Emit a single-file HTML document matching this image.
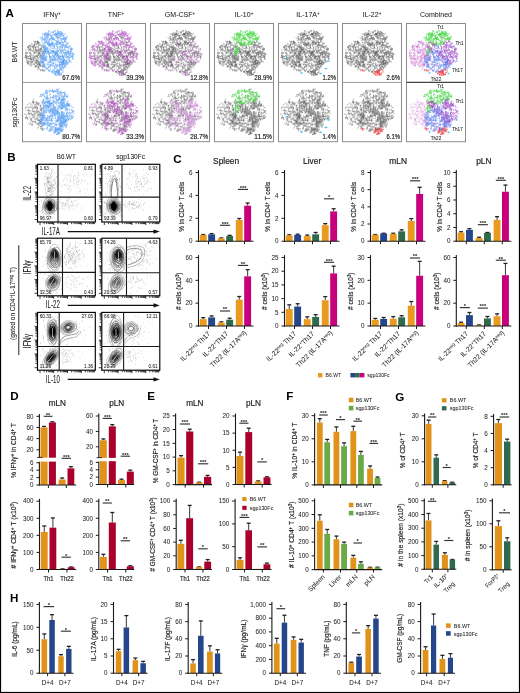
<!DOCTYPE html>
<html><head><meta charset="utf-8"><style>
html,body{margin:0;padding:0;background:#fff;}
body{width:520px;height:693px;overflow:hidden;}
svg{display:block;font-family:"Liberation Sans", sans-serif;will-change:transform;}
</style></head><body>
<svg width="520" height="693" viewBox="0 0 520 693" fill="#262626">
<defs><path id="t0_0_9_0" d="M114 265h5m-3 -5h5m-5 -5h5m42 10h5m-2 -3h5m-10 8h5m-3 5h5m-15 14h5m0 2h5m0 -1h5m7 6h5m-5 -5h5m-2 -4h5m-36 27h5m-3 -4h5m-12 13h5m-2 -4h5m1 6h5m0 -2h5m-1 -3h5m0 -1h5m-69 21h5m-1 2h5m0 1h5m0 -2h5m0 2h5m-9 31h5m-3 -4h5m-4 -5h5"/><path id="t0_0_0_1" d="M154 186h5m-2 4h5m2 4h5m-2 -4h5m0 0h5m-21 5h5m-45 28h5m-3 -4h5m-63 6h5m-5 10h5m-1 -7h5m-5 10h5m-4 -5h5m36 -4h5m-2 1h5m-3 -3h5m-2 1h5m-4 -2h5m-54 16h5m0 3h5m117 9h5m-5 -5h5m-5 -5h5m-163 25h5m0 0h5m146 -10h5m-4 22h5m-2 -4h5m0 -1h5m-169 37h5m0 2h5m-1 3h5m-2 3h5m0 2h5m124 6h5m-1 -2h5m-2 -4h5m-5 -4h5m-111 23h5m95 -4h5m0 -2h5m0 -1h5m-143 18h5m-3 -5h5m-3 1h5m-3 -3h5m-4 7h5m0 2h5m-1 -2h5m-1 -3h5m-1 7h5m-4 -5h5m-3 -5h5m-10 14h5m63 25h5m-55 14h5m-3 -9h5m-4 5h5m33 1h5m0 -2h5m-2 -4h5m-56 14h5m-3 5h5"/><path id="t0_0_8_1" d="M82 220h5m-3 4h5m107 -4h5m-114 8h5m105 7h5m-5 -5h5m-5 -5h5m-47 23h5m0 -1h5m-1 -2h5m-2 -4h5m23 -1h5m-2 104h5m-5 -10h5m-4 5h5m-4 -9h5m-9 19h5m-115 23h5m-3 9h5m-5 5h5m-4 -10h5m45 9h5m-2 -3h5m0 1h5m0 1h5m-98 18h5m-3 -10h5m-5 5h5m72 -1h5m-4 5h5m-5 -11h5m-1 4h5m-4 8h5m-1 -8h5m-98 16h5m-1 -3h5m27 2h5m0 0h5m-1 -3h5m0 0h5m0 0h5"/><path id="t0_0_0_0" d="M136 257h5m-2 5h5m-2 4h5m12 -1h5m-4 -5h5m-50 24h5m37 -10h5m-5 5h5m-2 -9h5m-93 23h5m-1 3h5m0 2h5m32 -10h5m-3 4h5m-3 5h5m-8 3h5m37 4h5m-1 3h5m0 1h5m-1 3h5m-1 3h5m-70 30h5m0 -3h5m-1 -2h5m-2 -4h5m-2 -4h5m1 36h5m0 1h5m0 2h5"/><path id="t0_0_4_1" d="M148 194h5m0 -2h5m-1 -8h5m-5 5h5m-3 -9h5m-34 27h5m0 -2h5m-1 -2h5m21 4h5m-4 5h5m-4 5h5m-105 21h5m-4 -5h5m-5 10h5m144 10h5m-165 7h5m-3 4h5m-2 4h5m153 -11h5m-2 4h5m-166 12h5m-29 24h5m-1 -3h5m139 -1h5m-1 3h5m-160 4h5m153 0h5m-1 3h5m-164 22h5m-1 4h5m-1 2h5m-1 3h5m147 3h5m-4 5h5m-170 3h5m0 0h5m-1 3h5m-3 5h5m146 -2h5m-5 -5h5m-4 10h5m-155 21h5m-4 5h5m-3 5h5m-3 -12h5m62 24h5m-3 4h5m42 -4h5m-2 4h5m-59 14h5m-4 -5h5m-2 -4h5m46 0h5m-2 4h5"/><path id="t0_0_6_0" d="M131 236h5m17 -5h5m-1 4h5m-1 1h5m-34 5h5m0 0h5m0 0h5m15 0h5m-8 56h5m0 1h5m0 1h5m0 -1h5m0 0h5m-100 28h5m-1 -3h5m-10 8h5m-5 5h5m4 15h5m0 2h5m0 2h5m0 0h5m-1 1h5m0 0h5m-26 17h5m0 -1h5m0 -1h5m-1 -3h5m-2 -3h5m-5 -1h5m-4 -3h5"/><path id="t0_0_3_1" d="M133 192h5m0 1h5m0 1h5m-2 4h5m13 24h5m-1 -3h5m-3 -5h5m-1 -3h5m12 0h5m-5 9h5m-4 -4h5m-7 9h5m-3 5h5m6 5h5m0 1h5m-34 18h5m-1 -3h5m0 -1h5m-1 -3h5m-3 -4h5m9 -2h5m-178 56h5m-10 8h5m-1 -3h5m21 27h5m0 -1h5m-35 15h5m12 -8h5m-1 -3h5m-21 13h5m0 1h5m-1 3h5m-2 4h5m99 21h5m-77 9h5m-1 -2h5m-1 -4h5m32 11h5m-5 -8h5m-3 4h5m13 -4h5m-1 -2h5m-94 26h5m-2 -4h5m-2 -4h5m-3 8h5m1 -8h5m-1 -2h5m0 -2h5m19 11h5m13 -10h5m-1 3h5m-64 21h5m-4 -9h5m-5 6h5m-4 -1h5m-1 2h5m28 1h5m-3 -9h5m-5 4h5m-38 9h5m-4 5h5"/><path id="t0_0_5_0" d="M101 232h5m-4 5h5m-1 4h5m-2 4h5m64 5h5m-1 -3h5m-98 19h5m42 1h5m29 2h5m-3 -5h5m-5 -5h5m-1 -4h5m-95 25h5m-4 -5h5m-1 -4h5m28 13h5m9 -13h5m-1 4h5m-1 3h5m-1 3h5m-86 12h5m-1 3h5m0 0h5m0 -1h5m0 0h5m27 3h5m-2 -5h5m-3 -4h5m52 16h5m-1 3h5m-4 5h5m-81 9h5m-2 4h5m69 -8h5m-105 23h5m23 -11h5m-37 20h5m-5 5h5m-2 -9h5m-8 14h5m8 19h5m-4 5h5m-3 -9h5m-2 10h5m-1 -3h5"/><path id="t0_0_1_1" d="M129 179h5m-13 9h5m0 -1h5m-1 -1h5m-2 -5h5m-5 1h5m-1 2h5m0 -2h5m0 -1h5m2 18h5m-2 4h5m-1 3h5m4 0h5m-2 -4h5m-1 -3h5m-1 -2h5m-124 26h5m0 0h5m-1 -1h5m0 -1h5m0 3h5m76 -13h5m-4 5h5m-1 -6h5m-96 49h5m-3 4h5m-1 4h5m98 -9h5m-5 5h5m-4 4h5m0 2h5m-164 26h5m-2 -5h5m-4 -4h5m162 27h5m-11 8h5m-1 -3h5m-28 25h5m0 -3h5m0 -1h5m-19 6h5m0 17h5m-1 4h5m0 0h5m-140 31h5m0 -2h5m0 1h5m-2 -4h5m11 25h5m-1 2h5m46 -2h5m0 1h5m9 -8h5m0 0h5m-1 1h5m0 0h5m0 2h5m-90 9h5m0 2h5m33 -4h5"/><path id="t0_0_8_0" d="M131 245h5m-4 8h5m-2 -4h5m36 19h5m0 -2h5m0 -1h5m-18 6h5m-98 27h5m-1 3h5m-1 3h5m-1 3h5m-1 -2h5m9 6h5m-1 -2h5m-1 -3h5m45 -1h5m-1 -1h5m-2 4h5m-57 18h5m0 -3h5m-1 -3h5m-21 24h5m0 -14h5m-5 12h5m-3 -7h5m-2 8h5m-1 3h5m-8 29h5m-1 4h5m-4 5h5m0 2h5m-3 4h5"/><path id="t0_0_2_1" d="M115 179h5m0 -2h5m0 2h5m26 -3h5m-32 6h5m-3 4h5m20 -5h5m-38 41h5m-4 -10h5m-4 5h5m-6 9h5m-66 24h5m-2 4h5m-2 4h5m-3 5h5m-5 5h5m130 12h5m-1 3h5m10 1h5m-4 -5h5m-181 20h5m-4 -9h5m-3 5h5m150 -7h5m8 -1h5m-180 15h5m152 9h5m-1 -2h5m0 -3h5m-2 -3h5m0 -3h5m-43 25h5m-4 -4h5m-2 -4h5m9 41h5m0 -1h5m0 2h5m-136 29h5m-3 -4h5m-5 9h5"/><path id="t0_0_2_0" d="M113 239h5m13 -2h5m-53 14h5m23 -2h5m-4 -5h5m-4 9h5m7 -10h5m0 2h5m-2 -3h5m-52 13h5m-1 4h5m11 8h5m-1 -10h5m16 10h5m0 -1h5m0 0h5m-43 4h5m-4 5h5m-1 3h5m17 -6h5m-4 5h5m32 7h5m-10 13h5m-5 -11h5m4 -1h5m0 0h5m-26 19h5m-2 -4h5m7 22h5m-4 5h5m-40 7h5m-1 -4h5m0 1h5m0 0h5m-2 4h5m11 -4h5m-3 5h5m-91 19h5m-1 2h5m-4 5h5m-1 3h5"/><path id="t0_0_5_1" d="M151 191h5m0 0h5m-1 -1h5m0 -2h5m-97 27h5m-4 5h5m0 1h5m-1 -2h5m31 1h5m-2 -5h5m-5 -5h5m-4 13h5m-50 10h5m0 2h5m-1 -1h5m0 -2h5m-3 -4h5m-26 37h5m-4 -5h5m-3 -4h5m-3 10h5m121 11h5m0 0h5m0 2h5m-1 2h5m-4 5h5m-190 28h5m-9 9h5m-5 5h5m-4 -10h5m5 43h5m-4 4h5m-2 5h5m-1 2h5m15 -2h5m-32 18h5m4 0h5m-1 -2h5m0 -1h5m-4 -1h5m0 0h5m-2 -4h5m-5 -5h5m81 13h5m0 -2h5m0 0h5m-2 -4h5m-1 -2h5m-131 10h5m-1 9h5m0 1h5m0 2h5m66 27h5m-5 5h5m-11 1h5m1 4h5"/><path id="t0_0_7_0" d="M133 232h5m-2 4h5m-4 5h5m-11 15h5m-3 4h5m-1 4h5m-3 4h5m38 -6h5m-3 5h5m-6 5h5m-4 4h5m-4 5h5m-112 45h5m-1 2h5m10 -4h5m0 0h5m0 -1h5m25 6h5m-2 -4h5m0 -2h5m-1 2h5m-68 5h5m41 1h5m-13 22h5m-1 -3h5m-2 -3h5m-2 16h5m-1 3h5m0 -1h5m-1 -2h5"/><path id="t0_0_1_0" d="M100 233h5m0 -1h5m0 0h5m12 52h5m-18 8h5m0 -3h5m-1 -1h5m6 11h5m-2 -5h5m-3 -4h5m25 1h5m-4 5h5m-1 2h5m-96 15h5m-5 -9h5m-2 5h5m45 -6h5m-57 14h5m55 10h5m-1 2h5m-4 -4h5m-3 -5h5m-5 6h5m-2 -4h5m-16 10h5m2 11h5m-1 -4h5m-1 1h5m-2 4h5m-55 4h5m-2 9h5m-5 -5h5m23 5h5m-4 -4h5m-3 -5h5m3 -1h5m-4 5h5m2 -3h5m-1 3h5m-58 9h5m22 13h5m0 -1h5m-1 -2h5"/><path id="t0_0_7_1" d="M152 178h5m-6 5h5m-5 5h5m-37 21h5m-2 -4h5m-3 -5h5m7 7h5m-1 2h5m0 -1h5m-102 26h5m0 0h5m-1 3h5m147 91h5m-4 -5h5m-187 16h5m-5 -5h5m-5 4h5m-1 4h5m-4 -3h5m-2 -6h5m-4 8h5m-1 -1h5m-5 -8h5m-4 8h5m-3 -4h5m9 -5h5m0 1h5m-1 1h5m136 0h5m-50 40h5m-119 12h5m0 1h5m0 0h5m85 -3h5m0 1h5m0 -2h5m-4 -5h5m-8 16h5m-2 3h5m-2 4h5m-1 4h5m-41 27h5m0 -2h5m-1 -3h5"/><path id="t0_0_9_1" d="M151 194h5m-3 -5h5m4 5h5m-4 -5h5m-77 7h5m-2 4h5m-1 3h5m-3 5h5m46 -9h5m-1 1h5m0 -2h5m13 19h5m-3 -5h5m-4 8h5m-1 4h5m-49 1h5m-1 3h5m0 1h5m0 2h5m0 0h5m17 16h5m-1 4h5m-1 2h5m0 0h5m-161 40h5m-1 -2h5m0 -1h5m0 -1h5m28 95h5m0 0h5m-2 4h5m76 1h5m-3 5h5m-2 3h5m-51 20h5m-8 11h5m-1 -7h5m-4 5h5"/><path id="t0_0_6_1" d="M151 176h5m-5 -5h5m-1 8h5m-67 32h5m0 1h5m-2 4h5m-53 23h5m-3 -5h5m-9 9h5m27 10h5m-3 -4h5m101 0h5m-2 5h5m-129 4h5m0 0h5m0 -1h5m110 1h5m-1 4h5m0 1h5m-166 62h5m-4 5h5m0 2h5m-1 1h5m0 -3h5m110 58h5m0 1h5m0 0h5m-1 -3h5m-1 -2h5m-56 14h5m-4 5h5m-3 -9h5m12 -4h5m-1 3h5m-4 5h5m-4 4h5m-5 0h5m-5 -5h5m-25 8h5m15 2h5m-4 0h5"/><path id="t0_0_4_0" d="M148 269h5m-1 -3h5m0 -3h5m-4 -4h5m-26 25h5m5 -10h5m-19 12h5m4 -1h5m-1 4h5m14 7h5m-4 -5h5m-1 -3h5m-7 12h5m0 0h5m-102 21h5m-2 3h5m-1 4h5m9 15h5m-10 13h5m-2 -4h5m-3 -4h5m-10 13h5m45 13h5m-2 -4h5m0 -1h5m-2 -4h5m-1 -3h5"/><path id="t0_0_3_0" d="M121 239h5m-1 -3h5m-19 6h5m0 -1h5m-4 28h5m-4 -5h5m44 -8h5m0 0h5m-1 2h5m0 3h5m-78 18h5m0 -1h5m-4 -5h5m53 19h5m-4 5h5m-3 -9h5m0 -1h5m-23 24h5m-93 5h5m-4 4h5m-4 5h5m4 0h5m-1 -4h5m0 0h5m65 -5h5m-4 4h5m-95 10h5m-5 5h5m26 23h5m-2 -5h5m0 -1h5m-12 11h5m34 11h5m-2 -4h5m-1 -3h5m-1 1h5m-54 21h5m-1 -2h5m0 -1h5m-1 -3h5m17 -5h5m-45 12h5"/><path id="t0_1_5_1" d="M150 406h5m-3 4h5m-1 4h5m9 -5h5m-1 -1h5m0 1h5"/><path id="t0_1_2_0" d="M159 428h5m0 2h5m-1 1h5m0 -3h5m-1 -3h5"/><path id="t0_1_0_1" d="M175 403h5m-14 12h5m-2 -4h5m-2 -4h5m-2 9h5m-4 -9h5m-3 4h5m-12 14h5m-3 -5h5"/><path id="t0_1_5_0" d="M140 430h5m-1 -4h5m-1 -2h5m0 -1h5"/><path id="t0_1_9_1" d="M153 405h5m-1 3h5m0 -1h5m29 11h5m-4 -5h5m-11 14h5m-3 -5h5"/><path id="t0_1_2_1" d="M194 416h5m0 1h5"/><path id="t0_1_8_0" d="M183 419h5m-11 7h5m-4 -5h5m-2 8h5m0 0h5m-42 17h5m0 -2h5m-1 -2h5m-3 -5h5m-2 5h5m-5 5h5m-3 -12h5m-5 17h5"/><path id="t0_1_6_1" d="M201 427h5m-4 -4h5m-35 40h5m-5 -13h5m-3 4h5m-4 5h5"/><path id="t0_1_9_0" d="M157 432h5m-2 4h5m-1 2h5"/><path id="t0_1_1_0" d="M186 403h5m-7 9h5m-5 -5h5m-4 10h5m-4 5h5"/><path id="t0_1_4_1" d="M156 463h5m-2 -4h5m-12 7h5"/><path id="t0_2_0_1" d="M232 87h5m0 0h5m0 1h5m-17 4h5m141 12h5m-152 4h5m-1 -2h5m0 1h5m-1 3h5m-4 3h5m-4 2h5m-5 -7h5m-5 10h5m130 -10h5m-1 -1h5m-4 2h5m-1 -3h5m0 1h5m-1 -2h5m-1 2h5m6 12h5m-1 -4h5m-1 -2h5m-22 9h5m0 0h5m-189 38h5m170 0h5m0 -2h5m0 2h5m4 0h5m-3 -9h5m-4 5h5m-209 16h5m-1 -2h5m-3 -5h5m191 0h5m-79 24h5m0 -1h5m-3 4h5m-58 17h5m-2 -4h5m-2 -5h5m34 8h5m4 -11h5m-62 21h5m-4 -5h5m39 4h5m-5 -5h5m3 -2h5m0 1h5"/><path id="t0_2_2_0" d="M307 106h5m-1 2h5m-1 3h5m0 -1h5m51 14h5m-1 7h5m-5 -5h5m-158 17h5m-2 -4h5m0 -2h5m0 -2h5m50 8h5m0 1h5m-2 3h5m46 -4h5m-2 -4h5m0 -1h5m-3 5h5m-1 3h5m-91 9h5m-5 0h5m-3 5h5m-3 -8h5m0 -2h5m-11 15h5m35 6h5m-1 3h5m0 -1h5m0 0h5m21 3h5m-3 -4h5m-5 13h5m-4 -5h5"/><path id="t0_2_5_1" d="M266 70h5m-3 5h5m-2 4h5m122 5h5m-3 4h5m-26 15h5m3 -3h5m-3 -4h5m0 -1h5m-1 3h5m-5 -5h5m0 6h5m26 4h5m-60 10h5m-5 5h5m-4 -10h5m16 10h5m-2 -4h5m20 -9h5m-40 25h5m-5 -5h5m-2 -3h5m46 10h5m-253 13h5m237 -1h5m-1 -2h5m-3 -5h5m-253 13h5m-3 4h5m-4 5h5m128 29h5m0 0h5m-2 4h5m33 2h5m-3 -4h5m-19 17h5m5 -8h5m-12 11h5"/><path id="t0_2_9_0" d="M254 125h5m0 -2h5m0 -1h5m61 9h5m-3 -5h5m0 1h5m-1 1h5m-2 3h5m-46 9h5m-2 4h5m-1 3h5m31 -3h5m-5 -8h5m-4 7h5m-4 5h5m-3 -9h5m-4 5h5m-3 5h5m-116 4h5m0 0h5m-1 -2h5m0 2h5m-2 3h5m48 -5h5m32 2h5m1 5h5m-4 -5h5m27 4h5m0 -2h5m0 1h5m-1 2h5m-1 -3h5m-70 23h5m-2 -4h5m0 -1h5m0 -3h5m-2 -3h5"/><path id="t0_2_6_0" d="M259 103h5m106 -3h5m-3 4h5m-118 4h5m-2 4h5m0 1h5m22 6h5m73 -10h5m-119 21h5m21 -4h5m0 1h5m-2 -4h5m-69 20h5m-2 4h5m3 -1h5m-1 -7h5m-5 5h5m-5 -3h5m0 -2h5m-1 -2h5m0 -2h5m34 12h5m0 1h5m-1 -3h5m-4 -1h5m-1 -4h5m-5 5h5m-2 -8h5m-4 11h5m0 0h5m49 1h5m-145 3h5m-3 4h5m-4 5h5m29 -10h5m0 1h5m0 -1h5m0 0h5m0 1h5m28 -1h5m-2 3h5m31 4h5m-1 -4h5m0 -1h5m-147 12h5m0 1h5m-1 3h5"/><path id="t0_2_1_1" d="M321 74h5m-17 9h5m-4 4h5m-1 -2h5m-5 -3h5m-1 -4h5m36 -2h5m-4 4h5m-2 5h5m10 -5h5m0 1h5m-3 2h5m-4 4h5m-3 -4h5m-5 5h5m-176 14h5m0 1h5m23 -5h5m-1 3h5m49 -9h5m51 -2h5m17 2h5m-4 4h5m-2 -5h5m-187 15h5m0 -1h5m25 12h5m-1 -3h5m2 1h5m-4 -9h5m-4 5h5m-21 10h5m159 0h5m0 2h5m-4 5h5m0 1h5m-1 3h5m-16 13h5m-2 -5h5m-190 20h5m0 -2h5m-1 2h5m170 -10h5m-1 1h5m-1 3h5m-162 22h5m-2 -3h5m-10 13h5m-4 -5h5m81 13h5m41 -4h5m0 -1h5m-1 3h5m-156 11h5m-3 5h5m0 1h5m-1 -3h5m2 -1h5m0 -2h5m0 0h5m17 -4h5m-2 4h5m-3 4h5m38 -9h5m-1 3h5m-3 5h5m-76 7h5m-5 5h5m-3 5h5m-3 -12h5m50 5h5m-5 5h5"/><path id="t0_2_7_0" d="M376 117h5m-20 4h5m-1 3h5m0 0h5m0 2h5m-2 4h5m-4 -9h5m-4 5h5m-84 60h5m-4 5h5m-13 8h5m0 1h5m-1 -4h5"/><path id="t0_2_4_1" d="M364 88h5m-144 11h5m-1 3h5m-1 -1h5m0 1h5m0 -1h5m108 -7h5m0 2h5m-2 4h5m-2 -8h5m-1 3h5m-2 4h5m-1 2h5m-163 10h5m-2 7h5m-5 -10h5m-4 5h5m-1 -7h5m0 -1h5m0 1h5m-41 28h5m-2 -3h5m11 -9h5m-5 5h5m0 1h5m0 -2h5m0 0h5m-67 14h5m0 1h5m-1 -3h5m4 -3h5m0 1h5m218 12h5m-224 4h5m-4 5h5m-1 3h5m-2 4h5m199 -9h5m-1 -2h5m7 9h5m0 0h5m0 -3h5m-1 -2h5m-3 -5h5m-237 16h5m21 23h5m-4 -5h5m-4 -4h5m15 10h5m-1 -2h5m27 2h5m0 -1h5m0 0h5m0 1h5m-106 8h5m0 1h5m0 -2h5m-1 -2h5m-4 5h5m8 -6h5m14 1h5m67 9h5m-39 13h5m-1 -3h5m0 -2h5m17 1h5m-3 -4h5"/><path id="t0_2_6_1" d="M259 102h5m-2 -4h5m-4 -5h5m6 7h5m-1 3h5m1 -1h5m-3 -4h5m55 4h5m-2 -4h5m-4 -5h5m0 -1h5m39 10h5m0 0h5m0 -1h5m0 0h5m0 2h5m-143 4h5m56 -2h5m-151 27h5m0 -2h5m-2 -4h5m233 1h5m0 1h5m-2 4h5m-29 12h5m-1 4h5m-1 2h5m-249 19h5m0 2h5m0 1h5m151 20h5m-2 -3h5m-87 8h5m-5 5h5m-4 5h5m-1 -11h5m0 0h5m-3 8h5m-2 4h5m55 -12h5m-62 16h5"/><path id="t0_2_8_1" d="M325 69h5m0 0h5m-1 3h5m-3 5h5m11 12h5m-2 -4h5m0 0h5m-109 19h5m38 -13h5m0 1h5m-1 2h5m0 2h5m-93 16h5m-2 4h5m12 -2h5m-1 -3h5m-2 -3h5m-35 19h5m0 -2h5m-4 -4h5m-33 28h5m226 0h5m3 -1h5m-3 -4h5m-4 -5h5m-245 20h5m-4 -5h5m195 -2h5m-1 2h5m-3 5h5m16 -5h5m-2 4h5m-1 3h5m-103 18h5m6 -3h5m40 0h5m-2 -4h5m-1 -4h5m-210 17h5m-1 4h5m-1 3h5m-1 -1h5m127 -8h5m-2 5h5m4 -8h5m-1 2h5m-1 3h5m-3 4h5m-2 4h5m-118 15h5m61 1h5m12 -9h5m0 0h5m0 1h5m15 -3h5m-3 5h5m2 -2h5m-3 -5h5m0 -1h5m-130 16h5m-4 5h5m-2 4h5m46 -1h5m0 3h5m-2 -8h5m-4 5h5"/><path id="t0_2_8_0" d="M347 114h5m-5 -5h5m-2 8h5m-23 14h5m-2 -4h5m-3 -4h5m0 6h5m-4 5h5m0 -2h5m1 -12h5m-2 4h5m-113 25h5m89 -10h5m3 -3h5m-3 5h5m-1 2h5m-111 11h5m-3 4h5m-3 5h5m122 -11h5m-2 4h5m-3 4h5m-47 17h5m37 -7h5m-4 -5h5m-47 17h5m-1 3h5m0 0h5"/><path id="t0_2_7_1" d="M367 81h5m-4 5h5m-2 3h5m-168 15h5m-2 -3h5m155 -7h5m-5 5h5m-177 9h5m0 -1h5m209 31h5m-1 -2h5m0 1h5m-4 9h5m-4 -4h5m-4 5h5m0 -3h5m0 1h5m0 1h5m-25 15h5m-4 3h5m-5 -5h5m-4 -3h5m-1 1h5m-1 -2h5m-20 15h5m-4 5h5m-3 -9h5m-59 31h5m-1 3h5m0 1h5m-1 2h5"/><path id="t0_2_2_1" d="M349 67h5m-1 2h5m-3 5h5m-61 11h5m-4 -4h5m-51 16h5m-1 -3h5m-1 -2h5m29 -2h5m57 9h5m-1 2h5m0 -1h5m23 15h5m-4 -10h5m-5 5h5m-5 10h5m-187 25h5m-1 3h5m-41 6h5m0 -1h5m0 -1h5m0 1h5m20 -2h5m-5 5h5m4 23h5m0 -1h5m0 0h5m-4 -5h5m-21 8h5m56 27h5m-2 -4h5m-5 -5h5m32 -1h5m-3 5h5m0 0h5m0 1h5m-61 7h5m25 5h5m-1 4h5m-1 1h5m-1 -4h5"/><path id="t0_2_1_0" d="M331 97h5m0 3h5m1 1h5m5 -1h5m-98 6h5m-4 6h5m-2 -2h5m-3 0h5m-3 2h5m-3 -5h5m-3 8h5m-2 -9h5m-4 13h5m22 -1h5m0 -2h5m25 -11h5m-4 5h5m-5 0h5m-4 -1h5m-2 -1h5m-5 -2h5m0 2h5m-1 -3h5m10 12h5m-4 -5h5m1 1h5m-2 -4h5m-2 -4h5m-98 27h5m0 2h5m-4 -13h5m0 -1h5m59 5h5m-1 -3h5m-74 14h5m0 1h5m-2 3h5m48 3h5m-3 -5h5m0 0h5m0 0h5m-103 16h5m-4 5h5m-5 -9h5m109 0h5m0 0h5m0 1h5"/><path id="t0_2_3_1" d="M265 73h5m-8 4h5m150 71h5m-2 -4h5m-14 11h5m-3 -4h5m-119 39h5m0 2h5m-1 2h5m51 -9h5m-3 -4h5m-4 8h5m0 1h5m-1 3h5m-104 13h5m-4 -5h5m27 1h5m-3 -4h5m-39 13h5m-2 4h5m-2 4h5"/><path id="t0_2_5_0" d="M338 102h5m-15 17h5m-3 -5h5m-2 -3h5m-2 -4h5m-90 24h5m-3 -5h5m-2 -4h5m11 -1h5m0 1h5m0 0h5m-1 2h5m-45 15h5m-2 -4h5m32 9h5m0 -1h5m-3 5h5m81 -12h5m-2 9h5m-5 -5h5m-125 19h5m-1 4h5m25 -11h5m-33 15h5m-1 3h5m0 -1h5m9 5h5m-1 3h5m-5 5h5m-3 4h5m-2 4h5"/><path id="t0_2_3_0" d="M334 104h5m-1 -4h5m-9 9h5m-3 4h5m4 -3h5m-5 5h5m-3 -9h5m-64 23h5m0 2h5m0 1h5m44 -11h5m-5 9h5m-3 -5h5m-52 28h5m-2 8h5m-3 -8h5m-2 6h5m-3 -4h5m-5 0h5m0 0h5m-20 10h5"/><path id="t0_2_0_0" d="M350 104h5m-35 6h5m-4 5h5m-3 -7h5m0 -1h5m0 0h5m-2 4h5m-1 3h5m10 -9h5m-5 5h5m-102 20h5m-3 4h5m55 -14h5m-67 19h5m28 9h5m-2 4h5m-2 4h5m0 -2h5m13 7h5m-3 -5h5m-2 4h5m-9 5h5"/><path id="t0_2_9_1" d="M268 79h5m0 1h5m-1 3h5m-2 4h5m47 -8h5m-2 4h5m-2 5h5m7 -2h5m-3 4h5m-3 5h5m-4 5h5m-142 47h5m-15 14h5m-3 -4h5m-1 -3h5m0 -2h5m204 20h5m-5 5h5m-201 6h5m-3 5h5m0 2h5m184 -8h5m-162 25h5m-2 -4h5m0 -2h5m-12 11h5"/><path id="t0_2_4_0" d="M248 119h5m-14 5h5m0 -2h5m6 10h5m-3 -9h5m-4 5h5m-7 9h5m41 21h5m-4 -5h5m-5 10h5m-69 5h5m0 -2h5m-2 3h5m0 0h5m15 8h5m30 -11h5m-39 15h5m-5 10h5m-4 -5h5m-9 10h5"/><path id="t0_3_1_0" d="M231 237h5m-3 -5h5m-4 -5h5m-16 39h5m-2 -4h5m-1 -1h5m-14 10h5"/><path id="t0_3_7_0" d="M225 267h5m-1 2h5m-25 12h5m19 -9h5m-2 4h5m-30 10h5m-1 3h5"/><path id="t0_3_9_1" d="M226 241h5m0 1h5m-1 3h5m-3 5h5m-5 5h5m-41 42h5m-2 4h5m-1 3h5m-4 5h5m-2 4h5"/><path id="t0_3_3_1" d="M231 217h5m-4 5h5m-28 11h5m-4 5h5m17 -11h5m-26 20h5m-4 -5h5m-16 42h5m-2 1h5m-5 3h5m-4 10h5m-4 -5h5"/><path id="t0_3_8_0" d="M232 267h5m-1 -3h5m-1 -3h5m-35 17h5m-2 -3h5m-2 -5h5m9 2h5"/><path id="t0_3_2_0" d="M229 253h5m-6 14h5m-4 -9h5m-3 4h5m-10 9h5"/><path id="t0_3_0_1" d="M239 238h5m-5 5h5m-2 3h5m-16 30h5m-2 4h5m-2 5h5"/><path id="t0_3_1_1" d="M209 292h5m-1 7h5m-4 -5h5m1 -2h5m-3 5h5m0 1h5m-18 14h5m-2 -9h5m-1 2h5m-18 16h5m0 1h5m-3 -5h5"/><path id="t0_3_7_1" d="M213 298h5m-5 10h5m-4 -5h5"/><path id="t0_3_4_0" d="M232 252h5m0 0h5m-15 9h5m-2 -5h5m-19 20h5m0 1h5m-1 3h5m-10 18h5m-2 -4h5m-4 -5h5m-2 -4h5m-12 18h5"/><path id="t0_3_5_1" d="M240 279h5m-5 5h5m-3 -12h5"/><path id="t0_3_5_0" d="M203 269h5m-1 -4h5m0 0h5"/><path id="t0_3_0_0" d="M217 253h5m-5 -13h5m-3 5h5m-3 9h5m-3 -7h5m-4 5h5m-4 5h5m-4 5h5m-1 2h5"/><path id="t0_3_8_1" d="M211 234h5m0 0h5m0 -1h5m-1 2h5"/><path id="t0_3_6_0" d="M232 267h5m-1 3h5m0 0h5"/><path id="t0_3_2_1" d="M236 283h5m-5 -5h5m-4 -5h5m-9 14h5"/><path id="t0_3_6_1" d="M236 261h5m-5 5h5m0 -6h5m-8 11h5"/><path id="t0_4_8_1" d="M260 208h5m7 -1h5m-13 5h5m0 -1h5m-71 18h5m-3 3h5m-3 -6h5m-3 4h5m-3 -4h5m-4 -1h5m-2 9h5m-4 -4h5m-5 -1h5m0 4h5m-4 5h5m0 1h5m-20 5h5m-1 1h5m0 -1h5m22 4h5m-5 -5h5m-2 9h5m-1 3h5"/><path id="t0_4_1_1" d="M223 224h5m-12 7h5m-2 -4h5m18 30h5m-1 3h5"/><path id="t0_4_3_1" d="M230 189h5m0 0h5m0 0h5m0 -1h5m0 0h5m-34 16h5m0 1h5m0 -2h5m-35 8h5m-1 2h5m5 26h5m-2 -5h5m-1 -2h5m9 18h5m-3 -5h5m-8 10h5"/><path id="t0_4_3_0" d="M258 205h5m-2 4h5m-6 9h5m-3 -4h5"/><path id="t0_4_7_1" d="M205 231h5m-5 5h5m-2 -8h5m0 -1h5m0 0h5"/><path id="t0_4_2_1" d="M250 190h5m-4 -5h5m-4 9h5m-1 4h5m-2 4h5m-57 14h5m-3 4h5m-4 -8h5"/><path id="t0_4_1_0" d="M270 218h5m0 -1h5m-1 -1h5"/><path id="t0_4_5_1" d="M224 237h5m-3 -4h5m-1 -3h5m46 6h5m-1 -3h5"/><path id="t0_4_0_0" d="M260 213h5m0 0h5m0 0h5"/><path id="t0_4_6_1" d="M279 214h5m-2 -3h5m0 0h5"/><path id="t0_4_4_1" d="M226 190h5m-5 -5h5m31 66h5m0 2h5"/><path id="t0_4_9_1" d="M279 214h5m0 -3h5m-1 2h5m-52 26h5m-11 8h5m-3 -5h5m4 -2h5m0 1h5"/><path id="t0_4_5_0" d="M259 237h5m-12 14h5m-3 -5h5m-2 -4h5m-8 13h5"/><path id="t0_4_9_0" d="M270 193h5m-9 8h5m-5 -5h5m-3 10h5m-3 4h5"/><path id="t0_5_3_0" d="M383 262h5m0 0h5m-1 -4h5m-2 -3h5m-22 28h5m-3 -5h5m-3 -4h5m13 31h5m-2 -4h5m-5 8h5m-25 19h5m53 1h5m-3 -5h5m-72 17h5m-2 -5h5m-5 -5h5m48 9h5m-2 -4h5m-1 -3h5"/><path id="t0_5_7_0" d="M402 275h5m-4 5h5m-1 -5h5m29 2h5m0 0h5m-1 2h5m7 -1h5m-3 4h5m-4 5h5m-1 2h5m-35 22h5m-1 -2h5m-3 4h5m23 1h5m-3 -4h5m-110 15h5m0 1h5m0 2h5m54 -12h5m24 10h5m-1 -7h5m-5 5h5m-103 12h5m-1 -4h5m-1 -2h5m-3 0h5m-2 4h5"/><path id="t0_5_9_1" d="M406 209h5m-1 3h5m-3 5h5m2 24h5m-1 3h5m0 -1h5m-104 46h5m-2 -4h5m-4 7h5m-2 -4h5m-4 7h5m-3 -3h5m-3 6h5m-11 15h5m0 -1h5m0 1h5m0 -6h5m-5 5h5m140 -9h5m-1 -3h5m0 0h5m0 1h5m-177 32h5m-1 -2h5m0 -1h5m98 51h5m-4 5h5m-39 17h5m-1 -2h5m0 2h5m-1 -3h5m17 -2h5m-3 -8h5m-4 4h5"/><path id="t0_5_4_1" d="M461 239h5m-3 -5h5m-3 -5h5m-118 22h5m-2 -3h5m-2 -4h5m-11 12h5m127 25h5m-4 2h5m-3 -6h5m-9 9h5m-3 7h5m-5 -5h5m-4 10h5m4 0h5m0 -1h5m-15 3h5m-5 1h5m-9 31h5m-2 3h5m-5 5h5m-52 63h5m0 -2h5m-1 1h5m-4 -5h5m-19 8h5"/><path id="t0_5_1_0" d="M429 268h5m-5 -9h5m-2 5h5m-7 9h5m19 -1h5m-5 5h5m-5 5h5m0 -11h5m0 -1h5m-29 18h5m-3 4h5m0 2h5m14 5h5m-3 -5h5m-3 5h5m-128 2h5m-1 3h5m-1 3h5m0 0h5m-1 -4h5m93 -1h5m-63 52h5m0 0h5m0 -1h5m-2 -8h5m-4 5h5"/><path id="t0_5_6_0" d="M404 258h5m-4 5h5m-1 -3h5m-5 5h5m-4 0h5m-2 4h5m-41 2h5m0 1h5m-3 4h5m-3 5h5m20 -11h5m0 2h5m-4 5h5m-4 -7h5m22 11h5m0 1h5m-1 2h5m9 -2h5m-1 -3h5m-86 19h5m-2 -3h5m-4 -5h5m57 -2h5m0 2h5m-2 -4h5m-82 16h5m-5 5h5m49 0h5m-5 7h5m-2 -11h5m0 -2h5m-4 11h5m-1 -10h5m-61 18h5m-4 5h5m-2 4h5m30 -5h5m-3 -5h5m2 -4h5m9 9h5m-1 3h5m-66 7h5m59 -3h5m-60 24h5m-4 -4h5m18 -5h5m-1 3h5m-2 -3h5m-38 14h5"/><path id="t0_5_1_1" d="M400 206h5m-4 5h5m-2 4h5m-3 5h5m-67 62h5m-2 3h5m-2 4h5m-4 5h5m-11 20h5m-13 8h5m0 2h5m-2 4h5m0 -12h5m-1 3h5m-1 2h5m-2 4h5m-22 8h5m4 0h5m-1 -2h5m0 0h5m0 3h5m-11 25h5m0 -1h5m0 -1h5m-20 14h5m0 2h5m0 -1h5m-1 2h5m34 -5h5m0 -2h5m-1 -2h5m16 2h5m0 2h5m-4 5h5m-13 13h5m-1 2h5m0 3h5"/><path id="t0_5_0_0" d="M392 270h5m0 1h5m0 1h5m-1 2h5m8 16h5m-1 2h5m-1 4h5m-4 17h5m-3 -13h5m-2 12h5m0 -1h5m-18 5h5m21 13h5m0 -1h5m-85 14h5m-3 -9h5m-4 5h5m62 -1h5m-3 -4h5m-5 9h5m3 2h5m3 -1h5m-1 -2h5m-89 16h5m0 1h5m0 1h5m-1 -4h5m0 -1h5m52 -8h5"/><path id="t0_5_9_0" d="M416 291h5m-4 -5h5m-4 9h5m8 -6h5m0 -1h5m0 2h5m15 8h5m-4 -1h5m-4 -5h5m-2 6h5m0 0h5m1 1h5m-1 -3h5m-72 6h5m-1 -2h5m37 1h5m-5 5h5m-1 3h5m1 3h5m-4 -5h5m-3 -5h5m-11 17h5m-1 -2h5m0 -2h5m-2 4h5m-2 4h5"/><path id="t0_5_8_1" d="M405 209h5m-1 4h5m-3 9h5m-5 -5h5m11 15h5m-4 5h5m-2 -7h5m0 1h5m0 1h5m-72 20h5m-4 -5h5m79 -1h5m0 -2h5m0 1h5m0 -1h5m-130 19h5m-4 5h5m0 0h5m0 -2h5m-1 2h5m2 -11h5m-4 4h5m-3 5h5m128 42h5m0 0h5m-1 -3h5m0 2h5m0 1h5m-32 10h5m-1 3h5m-2 3h5m-2 4h5m-44 6h5m-2 4h5m0 1h5m0 1h5m-1 3h5m-38 16h5m0 -1h5m-14 3h5m-86 22h5m0 0h5m0 2h5m52 -2h5m0 1h5m-1 1h5m-1 4h5m7 0h5m5 0h5m0 -1h5m-2 -4h5m-31 7h5m8 0h5"/><path id="t0_5_2_1" d="M394 239h5m46 -1h5m0 1h5m-3 -4h5m-59 6h5m0 1h5m-3 5h5m74 0h5m-2 4h5m-5 -8h5m-1 11h5m-4 -11h5m-1 8h5m-2 -3h5m-22 10h5m0 -2h5m-2 -1h5m-5 5h5m-1 2h5m-2 -5h5m-171 35h5m-2 5h5m-1 -3h5m-3 5h5m153 -6h5m0 1h5m-1 3h5m-185 9h5m-2 -6h5m-4 4h5m-4 1h5m-1 -2h5m169 -2h5m-4 5h5m-23 21h5m-1 -3h5m0 -2h5m-17 15h5m-4 -5h5m-82 22h5m-1 2h5m79 -5h5m0 1h5m0 2h5m-5 5h5m-98 11h5m-3 -5h5m-5 -5h5m40 12h5m-3 -5h5m0 -2h5m-11 16h5m-4 -5h5m-49 27h5m-1 -3h5m-1 2h5m-17 4h5"/><path id="t0_5_7_1" d="M394 221h5m-1 -2h5m-2 -4h5m0 -2h5m60 17h5m0 0h5m0 -2h5m14 19h5m-2 4h5m-6 10h5m-4 5h5m-5 -10h5m-166 28h5m-2 0h5m-1 -2h5m0 -1h5m-22 4h5m-4 5h5m-3 4h5m2 -9h5m-30 28h5m177 -3h5m0 0h5m-1 3h5m-192 2h5m-1 3h5m0 2h5m2 -5h5m0 1h5m0 1h5m0 1h5m-2 18h5m0 2h5m-1 3h5m128 0h5m-135 4h5m-2 4h5m122 5h5m-4 -8h5m-3 4h5m-74 21h5m-9 9h5m-2 -4h5m21 9h5m21 -2h5m-1 2h5m-106 12h5m-1 -3h5m0 -1h5m0 3h5m53 -6h5m-5 5h5"/><path id="t0_5_6_1" d="M449 224h5m19 -4h5m0 -1h5m-91 6h5m0 1h5m-2 4h5m30 4h5m0 0h5m-1 -1h5m-1 -4h5m-1 10h5m-3 -13h5m-5 5h5m-4 5h5m4 0h5m-1 -2h5m0 -3h5m-1 -1h5m-2 -4h5m-38 16h5m-1 0h5m0 2h5m-3 4h5m-2 4h5m-99 15h5m-12 8h5m0 1h5m-3 -4h5m-45 23h5m-5 10h5m-4 -5h5m15 14h5m-2 4h5m-1 3h5m-1 3h5m0 -2h5m112 52h5m-1 3h5m0 1h5"/><path id="t0_5_5_0" d="M423 249h5m-4 4h5m-6 5h5m-35 26h5m-4 -5h5m-2 -4h5m0 -1h5m45 3h5m-5 5h5m-82 13h5m-1 -3h5m6 -3h5m32 6h5m-3 2h5m-4 -1h5m-3 -5h5m0 1h5m-2 1h5m-4 2h5m-3 -4h5m-4 -1h5m-5 9h5m-4 -12h5m-2 7h5m-3 -8h5m17 3h5m-2 4h5m0 1h5m-112 6h5m45 14h5m-4 -5h5m-3 -9h5m-5 5h5m2 -5h5m-1 2h5m-4 5h5m-85 16h5m-1 1h5m-2 5h5m2 0h5m-3 -4h5m-3 -5h5m-12 13h5m-4 -3h5m-1 0h5m17 2h5m-3 4h5m0 0h5m0 -1h5m-1 -3h5"/><path id="t0_5_3_1" d="M435 211h5m-3 4h5m-2 -5h5m-4 9h5m-75 14h5m0 0h5m0 2h5m-51 15h5m-1 4h5m-6 5h5m138 19h5m-1 -2h5m0 1h5m-1 3h5m1 46h5m-1 -3h5m0 2h5m-3 4h5m-16 2h5"/><path id="t0_5_5_1" d="M407 209h5m-3 -5h5m-9 9h5m27 9h5m-1 4h5m-4 5h5m-101 47h5m-1 1h5m0 1h5m0 1h5m-33 18h5m-1 -3h5m-19 4h5m0 0h5m18 7h5m-5 -5h5m-3 9h5m-5 5h5m129 9h5m0 -2h5m-1 -3h5m-1 3h5m-3 5h5m-4 -1h5m-6 5h5m-3 5h5m-4 5h5m-39 17h5m27 -12h5m-50 20h5m0 -2h5m-1 -3h5m-111 15h5m0 2h5m-2 4h5m68 6h5m-9 3h5m3 -2h5m0 2h5"/><path id="t0_5_8_0" d="M460 281h5m-4 -5h5m-5 -5h5m-20 27h5m0 -1h5m-1 -8h5m-4 8h5m-4 -12h5m21 14h5m0 -1h5m-33 2h5m9 12h5m-3 -4h5m-2 -5h5m-5 5h5m-4 -5h5m-3 9h5m-82 13h5m-5 5h5m-2 4h5m-1 3h5m0 3h5"/><path id="t0_5_2_0" d="M406 284h5m-33 8h5m0 -2h5m-1 -1h5m0 2h5m13 -4h5m-2 3h5m-3 5h5m1 78h5m0 -2h5m-3 -5h5m-17 15h5m-3 -4h5"/><path id="t0_5_0_1" d="M376 249h5m-3 4h5m-2 4h5m93 3h5m0 0h5m-3 5h5m-133 17h5m-4 -5h5m-4 -5h5m122 -2h5m-2 4h5m-144 15h5m-1 -3h5m-30 25h5m-10 14h5m-2 -4h5m-3 -5h5m129 21h5m-4 4h5m-4 -8h5m-1 11h5m-1 3h5m-51 25h5m0 1h5m34 -7h5m-4 5h5m-40 4h5m0 1h5m-3 4h5m23 -4h5"/><path id="t0_5_4_0" d="M421 259h5m-2 4h5m0 2h5m0 1h5m-56 6h5m-4 5h5m-4 5h5m-7 5h5m55 41h5m0 1h5m0 2h5m-2 3h5m-3 5h5m-70 9h5m-5 5h5m0 -7h5"/><path id="t0_6_7_1" d="M319 284h5m-1 -3h5m-1 -3h5m-93 18h5m72 -7h5m-5 5h5m-85 13h5m0 -1h5m-5 -5h5m167 40h5m-216 10h5m0 -2h5m0 0h5m-1 2h5m0 2h5m184 -2h5m-4 5h5m-5 -10h5m-50 67h5m-3 5h5m-2 4h5m-3 4h5m8 7h5m-140 12h5m0 1h5m-1 2h5m83 -1h5m20 -3h5m0 -1h5m-1 -2h5m-2 -3h5m-4 5h5m-4 -3h5m-133 20h5m-2 4h5m83 -12h5m-3 5h5m-1 3h5m-1 2h5m-100 5h5m82 2h5m0 -1h5m-1 3h5m-1 3h5"/><path id="t0_6_5_0" d="M270 318h5m-3 5h5m-4 5h5m36 -1h5m0 -3h5m-1 -3h5m-57 16h5m-4 -4h5m34 -2h5m-93 24h5m0 -2h5m0 2h5m-2 4h5m-2 4h5m65 10h5m0 1h5m71 -3h5m-76 5h5m27 4h5m-2 4h5m-3 5h5m26 -4h5m-5 -5h5m-3 -4h5m-60 16h5m-4 5h5m-2 4h5m-13 9h5m-3 5h5m-3 -8h5m-2 8h5m0 1h5m-43 15h5m0 -1h5m0 2h5"/><path id="t0_6_0_1" d="M267 280h5m39 -8h5m-2 3h5m-3 8h5m-3 -4h5m-62 8h5m0 -2h5m41 1h5m12 8h5m-2 5h5m-4 -8h5m0 -1h5m-1 -2h5m-4 8h5m-2 -4h5m-17 11h5m0 2h5m41 21h5m0 0h5m-1 -2h5m0 1h5m2 2h5m0 -1h5m-1 3h5m-216 12h5m-2 1h5m15 -4h5m-1 3h5m178 -2h5m-3 -5h5m-215 11h5m-3 5h5m-2 -5h5m0 1h5m-1 2h5m0 0h5m4 -3h5m148 10h5m-3 -4h5m-1 -3h5m-173 25h5m-1 -3h5m0 0h5m167 32h5m0 -1h5m-20 10h5m0 0h5m-2 -4h5m-197 23h5m-11 6h5m0 -1h5m20 25h5m-1 -2h5m0 -1h5m0 0h5m28 5h5m-23 4h5m-1 4h5m-5 9h5m-3 -5h5m-4 4h5m-3 -5h5m-3 -4h5m-1 -3h5m88 7h5m-2 4h5"/><path id="t0_6_6_0" d="M321 314h5m-1 -4h5m-11 13h5m-4 -4h5m-30 39h5m0 1h5m39 -5h5m-5 5h5m-45 3h5m-2 3h5m32 -1h5m-1 3h5m-71 10h5m-2 5h5m-4 4h5m-1 4h5m0 0h5m4 13h5m-5 -10h5m-4 5h5m-3 9h5"/><path id="t0_6_9_1" d="M254 293h5m0 0h5m-2 -4h5m78 10h5m-10 2h5m1 10h5m-5 -4h5m-2 -5h5m-128 20h5m-5 5h5m164 1h5m-197 12h5m-2 -3h5m0 -2h5m0 1h5m-1 -2h5m3 -2h5m0 1h5m0 2h5m0 -1h5m-1 -3h5m146 1h5m0 0h5m-1 2h5m-4 5h5m-37 17h5m0 1h5m-1 -3h5m0 1h5m-6 45h5m-2 -4h5m-3 -5h5m0 -1h5m-144 47h5m0 -1h5m-1 -1h5m114 12h5m-6 5h5m-2 4h5m-1 3h5m-1 3h5m-104 16h5m-3 5h5m-2 3h5m0 1h5"/><path id="t0_6_0_0" d="M271 331h5m-2 13h5m-3 -7h5m-5 -6h5m-3 11h5m-2 -9h5m72 4h5m-4 5h5m-3 -1h5m-3 -4h5m-99 19h5m0 2h5m20 1h5m53 -12h5m-1 -1h5m-4 5h5m13 8h5m-108 8h5m-5 -5h5m-3 9h5m2 0h5m7 -2h5m-4 -5h5m-5 10h5m21 -4h5m-2 -8h5m-5 10h5m-4 -5h5m-3 2h5m0 -2h5m42 -5h5m-2 5h5m-4 5h5m-109 3h5m-5 5h5m-2 4h5m0 3h5m90 -1h5m-1 3h5m3 -1h5m0 0h5m-155 13h5m136 -10h5m-144 15h5m-3 4h5m23 -2h5m0 0h5m0 -1h5m16 10h5m49 -6h5m-4 5h5m-70 11h5m-4 -5h5m0 -2h5m56 0h5m-1 3h5"/><path id="t0_6_8_1" d="M209 299h5m-5 2h5m-3 3h5m-2 -2h5m-4 5h5m-2 4h5m191 8h5m0 -1h5m0 0h5m5 68h5m-219 18h5m208 -13h5m-4 5h5m-5 5h5m-230 13h5m-2 -4h5m-1 -3h5m214 -1h5m-99 41h5m29 2h5m-146 15h5m94 -13h5m0 0h5m30 13h5m1 -13h5m0 2h5m-3 5h5m-167 9h5m0 -2h5m114 13h5m-1 -3h5m-5 -5h5m-4 -5h5m20 1h5m-1 2h5m-42 14h5"/><path id="t0_6_3_1" d="M331 284h5m-1 -3h5m-1 -2h5m-1 -4h5m-100 10h5m0 3h5m-2 3h5m0 2h5m0 0h5m-82 81h5m210 -7h5m-3 4h5m-221 7h5m-1 4h5m-2 2h5m-4 1h5m-4 -6h5m0 0h5m-5 8h5m0 -9h5m193 -2h5m15 12h5m-223 2h5m-2 11h5m-4 -9h5m213 -1h5m-1 3h5m-229 12h5m-2 4h5m-3 5h5m0 4h5m-2 -9h5m-4 5h5m171 -6h5m0 1h5m0 1h5m-3 4h5m-213 16h5m-2 -4h5m-1 -3h5m-1 -3h5m4 -1h5m-4 5h5m-9 23h5m-3 -5h5m-2 -4h5m0 -2h5m-1 -2h5m6 11h5m-4 5h5m-5 5h5m120 8h5m-1 -3h5m-3 -4h5m-74 8h5m0 1h5m0 1h5m44 6h5m-4 -5h5m-86 16h5m-1 1h5m0 1h5m0 0h5m0 -2h5"/><path id="t0_6_1_1" d="M288 275h5m-2 4h5m0 -1h5m-3 3h5m-3 -6h5m-4 -5h5m-3 9h5m0 1h5m-1 2h5m-4 5h5m-50 27h5m-1 4h5m-4 5h5m0 2h5m-61 34h5m-23 7h5m0 0h5m-1 -3h5m-1 -2h5m167 27h5m-197 13h5m0 2h5m0 1h5m166 -3h5m9 -10h5m0 2h5m0 1h5m0 5h5m-2 4h5m0 -2h5m-4 -5h5m-210 10h5m159 -1h5m-2 10h5m-5 -5h5m-177 23h5m-6 5h5m-2 4h5m131 33h5m-4 -3h5m-3 -1h5m-3 -1h5m-1 -3h5m-13 13h5m-2 4h5"/><path id="t0_6_2_1" d="M228 294h5m-1 -3h5m-3 -5h5m10 11h5m-1 -3h5m0 0h5m10 5h5m-50 12h5m8 -8h5m-1 -3h5m10 4h5m0 0h5m0 0h5m-77 20h5m-1 3h5m20 -11h5m-5 5h5m-27 10h5m0 2h5m0 1h5m181 2h5m0 1h5m0 1h5m-19 32h5m-187 18h5m178 -13h5m-1 3h5m-190 19h5m-4 -5h5m4 26h5m-8 10h5m-5 -5h5m-1 7h5m-1 2h5m73 32h5m-15 3h5m0 -1h5m9 13h5m0 -3h5m-1 -1h5m-18 6h5"/><path id="t0_6_9_0" d="M317 329h5m-4 -5h5m-36 18h5m25 -8h5m-4 5h5m-88 15h5m-3 5h5m42 -4h5m-5 -5h5m-5 -5h5m3 11h5m-59 8h5m50 -3h5m0 1h5m-52 18h5m-1 3h5m-3 4h5m-25 15h5m19 0h5m-28 5h5m-5 5h5m22 -7h5m-1 3h5m-3 5h5m12 -5h5m-3 5h5m-3 5h5m1 -1h5m-1 -3h5m-1 -2h5m15 21h5m-7 5h5m-5 5h5m-5 5h5"/><path id="t0_6_4_0" d="M301 320h5m-2 4h5m-2 4h5m0 1h5m-5 1h5m-1 3h5m-5 5h5m-4 -7h5m18 28h5m-119 8h5m0 0h5m0 -2h5m-5 5h5m-5 -2h5m97 -5h5m-4 5h5m0 2h5m-1 3h5m-115 2h5m88 66h5m0 -1h5m-1 -3h5m0 1h5"/><path id="t0_6_3_0" d="M306 313h5m-11 8h5m-3 -4h5m11 24h5m0 -1h5m-1 3h5m-4 -4h5m-2 4h5m-37 15h5m0 0h5m8 1h5m-2 -3h5m-2 -4h5m-2 4h5m-5 -5h5m-5 -3h5m-1 11h5m-1 -12h5m-31 14h5m-4 5h5m21 -5h5m-75 15h5m-1 3h5m-1 3h5m-4 5h5m98 -6h5m-3 4h5m-108 6h5m-2 0h5m0 -1h5m0 0h5m17 13h5m-3 -4h5m-2 -4h5m0 -1h5m54 -4h5m0 0h5m-116 23h5m-2 5h5m-2 -1h5m-4 -5h5m-20 20h5m-3 0h5m-4 -4h5m-1 3h5m0 -9h5m-5 8h5m-3 -8h5m-4 5h5m-4 0h5m-4 2h5m-30 16h5m-3 -5h5m-3 -4h5"/><path id="t0_6_5_1" d="M263 308h5m-1 6h5m-4 -8h5m-2 4h5m49 -2h5m-3 -4h5m0 -2h5m-96 24h5m-3 -5h5m14 -6h5m-24 15h5m-31 57h5m-11 7h5m-2 -3h5m-19 36h5m-3 -5h5m0 -2h5m74 23h5m-4 5h5m-6 5h5m-4 5h5m4 20h5m-4 0h5m32 1h5m0 0h5m0 -3h5m0 1h5m0 -1h5m-68 9h5m-1 -3h5m-2 1h5m-1 3h5"/><path id="t0_6_6_1" d="M276 298h5m-4 -5h5m36 6h5m-4 -5h5m-1 -2h5m-2 -5h5m-55 16h5m-72 21h5m-3 5h5m31 0h5m114 0h5m0 -2h5m38 2h5m0 0h5m-4 -8h5m-1 4h5m0 0h5m-220 8h5m26 0h5m0 1h5m107 -2h5m57 -1h5m-251 24h5m-1 -3h5m0 -1h5m24 6h5m-15 6h5m-2 3h5m-2 5h5m3 -11h5m-3 5h5m-2 3h5m-47 8h5m-1 3h5m-2 4h5m-1 3h5m13 -10h5m216 11h5m-242 3h5m226 5h5m-2 -5h5m-22 19h5m0 -1h5m0 0h5m-59 23h5m0 1h5m-146 9h5m0 1h5m0 0h5m-1 3h5m-1 -1h5m121 -8h5"/><path id="t0_6_4_1" d="M272 287h5m-4 5h5m-5 5h5m-2 3h5m0 1h5m66 10h5m0 0h5m0 0h5m-1 2h5m31 3h5m-2 4h5m-4 5h5m-215 8h5m-5 5h5m-1 4h5m22 -1h5m0 3h5m171 -14h5m-2 3h5m-213 12h5m26 3h5m182 8h5m-7 9h5m-2 -4h5m-32 41h5m0 0h5m-26 16h5m-4 -5h5m-4 -5h5m7 -2h5m-4 5h5m-4 5h5m-7 12h5m-1 -3h5m0 3h5m0 0h5m0 0h5m-27 29h5m-4 -5h5m-4 9h5m-137 6h5m-3 5h5m-4 5h5m123 -11h5"/><path id="t0_6_2_0" d="M295 328h5m-17 6h5m0 1h5m0 -2h5m50 14h5m-2 4h5m-4 5h5m11 -1h5m-4 -5h5m-1 -3h5m-48 72h5m9 -3h5m0 1h5m-3 -5h5m0 -2h5m-36 11h5m5 0h5m1 9h5m-2 -5h5m-4 -4h5m-3 5h5m-4 -4h5m-27 18h5m-5 8h5m-3 -4h5m-8 14h5m-3 -5h5"/><path id="t0_6_7_0" d="M270 327h5m-5 5h5m-3 4h5m7 8h5m-3 -5h5m10 2h5m-70 18h5m-1 -2h5m0 1h5m32 -10h5m17 1h5m-4 -4h5m-2 8h5m-81 14h5m-5 -5h5m44 8h5m-4 -5h5m-2 -4h5m-14 27h5m1 -13h5m-3 4h5m-22 11h5m0 1h5"/><path id="t0_6_8_0" d="M243 342h5m-4 5h5m-1 9h5m-5 -5h5m5 35h5m0 2h5m-4 5h5m-20 20h5m-1 1h5m0 -3h5m-1 2h5m60 20h5m-4 -5h5m-10 8h5"/><path id="t0_6_1_0" d="M306 323h5m0 2h5m-2 4h5m-36 14h5m-3 -5h5m-5 -5h5m27 0h5m-1 2h5m-84 24h5m-2 -4h5m40 0h5m-4 -5h5m14 7h5m0 -2h5m-1 3h5m-86 3h5m-4 5h5m-2 4h5m45 -10h5m-2 4h5m-3 5h5m4 -1h5m-4 5h5m-2 4h5m0 -2h5m-13 24h5m-1 0h5m0 1h5m54 4h5m-26 15h5m11 -13h5m4 0h5m-29 17h5m-3 5h5m0 1h5"/><path id="t0_7_2_0" d="M364 476h5m-26 5h5m0 -1h5m0 2h5m0 1h5m0 -2h5m-4 10h5m-5 -5h5m-5 -5h5"/><path id="t0_7_5_0" d="M363 478h5m-5 -5h5m-23 20h5m-1 -8h5m-5 5h5m5 -3h5m-4 -5h5m-24 13h5"/><path id="t0_7_8_0" d="M352 478h5m-22 9h5m-2 -4h5m0 -3h5m-1 0h5m-3 12h5m-1 0h5m-1 -3h5m-1 -3h5m0 1h5m-1 2h5m-22 6h5m-1 8h5m-4 -5h5"/><path id="t0_7_6_1" d="M346 509h5m37 -7h5m-1 3h5m-49 8h5m0 2h5m-1 2h5m-1 4h5m18 -10h5m-2 3h5m-2 -4h5"/><path id="t0_7_6_0" d="M323 480h5m-2 3h5m-2 4h5m-2 4h5m53 -2h5m0 0h5m0 2h5m-1 -2h5m0 0h5m-78 6h5m18 11h5m-10 9h5m-5 5h5m-2 -9h5"/><path id="t0_7_7_1" d="M383 457h5m-1 3h5m-1 4h5m0 0h5m6 12h5m0 0h5m-45 24h5m0 2h5m0 1h5m-3 5h5"/><path id="t0_7_0_1" d="M381 508h5m0 0h5m-1 -2h5m0 2h5m-71 6h5m-2 4h5m0 1h5m0 0h5"/><path id="t0_7_4_1" d="M406 473h5m-1 2h5m-105 30h5m-1 -3h5m-3 -4h5"/><path id="t0_7_3_1" d="M320 486h5m0 1h5m0 -1h5"/><path id="t0_7_1_1" d="M338 478h5m0 0h5m-22 8h5m-1 -3h5m-1 -2h5m38 11h5m-11 7h5m-3 5h5m-4 4h5m-5 -13h5"/><path id="t0_7_4_0" d="M366 476h5m-32 11h5m0 0h5m-1 -6h5m-4 5h5m-1 -4h5m-4 4h5m-1 -3h5m-1 -3h5m-21 25h5m-2 -3h5m-2 -4h5m0 -2h5"/><path id="t0_7_7_0" d="M337 478h5m-2 -4h5m-1 3h5m-2 1h5m-1 -3h5m16 -6h5m-4 9h5m-5 -5h5m-49 12h5m-1 -4h5m5 12h5m-4 -5h5m-4 -5h5m21 5h5m-2 -5h5"/><path id="t0_7_3_0" d="M335 500h5m-5 5h5m-3 -10h5m23 0h5m-1 3h5m-3 4h5m-4 5h5m-46 7h5m-3 -4h5m33 2h5"/><path id="t0_7_9_1" d="M375 507h5m-6 13h5m-4 -5h5m-2 -4h5"/><path id="t0_7_5_1" d="M366 463h5m-4 -5h5m-1 -2h5m25 6h5m-7 5h5m-34 41h5m11 1h5m-20 9h5m-4 -5h5m9 1h5"/><path id="t0_7_1_0" d="M359 479h5m-1 -2h5m0 0h5m-12 15h5m-5 14h5m-5 -5h5m-3 -4h5"/><path id="t0_7_2_1" d="M314 500h5m-1 2h5m0 2h5m-1 -3h5"/><path id="t0_7_9_0" d="M368 478h5m-5 5h5m-2 4h5"/><path id="t0_7_0_0" d="M360 490h5m-3 4h5m-2 4h5m-2 5h5"/><path id="t0_8_0_1" d="M301 208h5m-3 5h5m-50 64h5m-3 5h5m0 1h5m20 9h5m-4 -4h5m-2 7h5m-2 4h5"/><path id="t0_8_4_1" d="M256 253h5m-18 6h5m-3 2h5m-2 -3h5m-3 3h5m-3 -5h5m-4 1h5m0 1h5"/><path id="t0_8_5_1" d="M305 208h5m-49 16h5m30 -4h5m-2 -4h5m-3 -4h5m6 9h5m-4 -5h5m-1 -3h5m0 1h5m-61 12h5m0 1h5m-1 2h5m0 0h5m25 -3h5m36 17h5m-3 9h5m-5 -5h5m-7 10h5m-78 18h5m0 -2h5m-1 4h5m-1 3h5m-2 3h5m-20 14h5m0 1h5"/><path id="t0_8_6_1" d="M248 276h5m0 -1h5m-1 5h5m-4 0h5m-5 -5h5m-5 0h5m0 -2h5m-1 2h5m14 8h5m-1 -3h5m-12 7h5m-2 4h5m-1 3h5"/><path id="t0_8_8_1" d="M322 276h5m0 1h5m0 0h5m-1 3h5"/><path id="t0_8_7_1" d="M296 221h5m-6 5h5m-3 4h5m0 0h5m0 1h5m-69 36h5m-3 -4h5m-1 -3h5m94 7h5m-111 5h5m53 12h5m-3 -4h5m22 1h5m-4 -4h5m13 -5h5m-2 5h5m-56 22h5m-5 -5h5m-5 -5h5m22 -3h5m-4 5h5"/><path id="t0_8_8_0" d="M289 239h5m-13 2h5m0 1h5m0 8h5m0 1h5m0 -1h5m0 0h5m0 -2h5m-49 18h5m0 0h5m0 0h5"/><path id="t0_8_2_1" d="M342 228h5m0 1h5m0 1h5m-2 4h5"/><path id="t0_8_2_0" d="M299 271h5m-1 3h5m0 1h5m0 -3h5m-1 -1h5"/><path id="t0_8_9_0" d="M320 254h5m-4 -5h5m-4 -5h5m-1 -3h5m-17 26h5m-4 -12h5m-12 20h5m-3 -5h5"/><path id="t0_8_1_1" d="M355 237h5m-1 2h5m-112 41h5"/><path id="t0_8_9_1" d="M312 298h5m-4 -10h5m-5 5h5m-9 8h5"/><path id="t0_8_3_0" d="M316 238h5m-2 -3h5m-3 4h5m-3 -7h5m-3 4h5m-3 -5h5"/><path id="t0_8_3_1" d="M355 239h5m-111 33h5m-1 4h5m-1 2h5m0 2h5"/><path id="t0_8_4_0" d="M315 245h5m-1 -4h5m-1 -1h5m-55 15h5m-1 3h5m0 1h5m-1 2h5m-1 3h5"/><path id="t0_9_2_1" d="M208 475h5m0 -1h5m0 -1h5m0 0h5m-2 5h5"/><path id="t0_9_7_1" d="M180 471h5m-3 -5h5"/><path id="t0_9_1_1" d="M184 462h5m-4 -5h5m-4 10h5m-5 5h5"/><path id="t0_9_8_0" d="M210 469h5m-1 -3h5"/><path id="t0_9_1_0" d="M201 460h5m-1 3h5m-3 5h5"/><path id="t0_9_5_0" d="M192 466h5m0 -1h5m-3 5h5m-4 4h5"/><path id="t0_9_7_0" d="M199 462h5m-4 5h5m-1 4h5m0 -2h5"/><path id="t0_10_6_0" d="M422 190h5m0 -2h5m-2 -4h5m-1 -3h5m-40 30h5m-3 5h5m-1 8h5m-5 -5h5m1 5h5m-3 -5h5m-13 10h5m2 0h5"/><path id="t0_10_6_1" d="M422 170h5m-1 -3h5"/><path id="t0_10_5_0" d="M439 199h5m-4 5h5m-2 4h5m-30 8h5m-2 4h5m0 1h5"/><path id="t0_10_2_1" d="M385 225h5m-4 10h5m-5 -5h5"/><path id="t0_10_2_0" d="M424 224h5m-1 -3h5m0 -1h5"/><path id="t0_10_7_0" d="M416 191h5m-3 -5h5m-49 22h5m0 -2h5m-1 -3h5m18 -1h5m-3 -4h5m0 -3h5"/><path id="t0_10_1_1" d="M447 202h5m0 1h5m-1 3h5"/><path id="t0_10_5_1" d="M386 188h5m-5 5h5m-9 7h5m-1 -2h5"/><path id="t0_10_3_1" d="M427 175h5m0 2h5m0 0h5m-17 3h5m8 2h5m-70 52h5m0 -1h5m-1 -3h5m6 6h5m-1 3h5m24 -5h5m-3 4h5m-32 5h5m27 -3h5m0 0h5"/><path id="t0_10_7_1" d="M377 177h5m-1 -4h5m-27 39h5m0 0h5m0 1h5m-1 -3h5m64 11h5m-3 4h5m-1 4h5"/><path id="t0_10_4_1" d="M458 195h5m-58 51h5m-1 -3h5"/><path id="t0_10_9_0" d="M396 188h5m-1 2h5m0 0h5m0 -1h5m0 -1h5m-4 32h5m-2 -10h5m-5 5h5"/><path id="t0_10_0_1" d="M394 179h5m0 2h5m-4 4h5m-5 5h5m-2 4h5m40 0h5m0 2h5m0 1h5m-3 4h5"/><path id="t0_10_3_0" d="M374 194h5m-1 4h5m-3 9h5m-5 -5h5"/><path id="t0_10_4_0" d="M391 209h5m-6 9h5m-4 -4h5m-1 5h5m0 1h5"/><path id="t0_10_8_0" d="M372 201h5m-1 4h5m-1 -2h5"/><path id="t0_11_3_1" d="M411 374h5m-15 9h5m-1 -3h5m-3 8h5m-5 -3h5m-3 -7h5m-4 6h5m-5 5h5m-11 3h5m6 -2h5m-1 3h5"/><path id="t0_11_8_0" d="M414 400h5m-1 -4h5m-2 -4h5m-18 14h5m0 -1h5m-5 0h5m-5 5h5m-1 -3h5m-28 22h5m0 1h5m-1 -2h5"/><path id="t0_11_7_1" d="M448 404h5m0 -2h5m-12 6h5m-39 35h5m-4 5h5m0 1h5"/><path id="t0_11_0_1" d="M409 373h5m-4 -5h5m4 3h5m-16 7h5m-41 40h5m-1 -3h5m-12 12h5m-3 -4h5m30 14h5m-4 4h5m-3 5h5m-1 3h5m-5 5h5"/><path id="t0_11_9_1" d="M413 372h5m-47 16h5m-2 -4h5m-14 11h5m-1 -3h5"/><path id="t0_11_0_0" d="M420 429h5m-4 -4h5m-4 9h5m-2 4h5"/><path id="t0_11_3_0" d="M409 385h5m-5 -5h5m-4 -5h5m-4 14h5m-6 5h5m-1 4h5m0 1h5m-1 3h5m-46 14h5m-2 -3h5m0 1h5m-1 20h5m0 2h5m0 1h5m0 1h5m0 -1h5"/><path id="t0_11_6_0" d="M391 419h5m0 0h5m34 0h5m-39 3h5m19 7h5m-1 -4h5m-4 -5h5m-4 14h5m-1 3h5m0 2h5"/><path id="t0_11_8_1" d="M428 374h5"/><path id="t0_11_1_1" d="M395 387h5m0 -1h5m0 -1h5m0 -2h5m0 0h5m-34 62h5m0 1h5m0 -2h5m-5 4h5m-5 5h5m-5 5h5"/><path id="t0_11_1_0" d="M403 404h5m-1 -4h5m-20 6h5m-2 4h5m-4 8h5m-2 -11h5m-4 10h5m0 -1h5m-18 6h5"/><path id="t0_11_5_0" d="M425 412h5m-1 -3h5m0 1h5"/><path id="t0_11_6_1" d="M442 403h5m0 0h5m0 2h5m-1 2h5"/><path id="t0_11_2_0" d="M421 419h5m-1 2h5m0 2h5m0 -1h5"/><path id="t0_11_5_1" d="M440 414h5m-5 -5h5m-2 9h5"/><path id="t0_12_4_1" d="M178 387h5m-3 -4h5m-3 -5h5m0 -2h5m-16 16h5m-1 8h5m-1 3h5m-8 10h5m-4 1h5m-4 -6h5m-5 11h5m32 0h5m-38 4h5m30 0h5"/><path id="t0_12_5_1" d="M193 328h5m-13 6h5m-2 -3h5m28 86h5m-1 -3h5m-22 11h5m-1 -3h5m0 -2h5"/><path id="t0_12_8_1" d="M213 319h5m0 1h5m0 0h5m-51 36h5m-2 -4h5m-4 -5h5m-7 14h5m-3 5h5"/><path id="t0_12_9_1" d="M209 314h5m-15 4h5m0 -2h5m4 0h5m-1 3h5"/><path id="t0_12_2_1" d="M223 356h5m-3 -5h5m-2 -4h5"/><path id="t0_12_4_0" d="M189 357h5m9 -6h5m-3 5h5m-3 -8h5m-27 18h5m-1 -1h5m-2 -4h5m8 0h5m-2 4h5"/><path id="t0_12_6_1" d="M208 308h5m3 5h5m-1 3h5m-1 12h5m0 -3h5"/><path id="t0_12_2_0" d="M204 383h5m-5 5h5m-5 5h5"/><path id="t0_12_0_0" d="M195 343h5m-7 5h5m-2 4h5m-5 -5h5m-1 8h5m-4 -8h5m-1 3h5"/><path id="t0_12_7_0" d="M196 329h5m-5 -10h5m-4 5h5m-6 14h5m-4 -5h5m6 20h5m-5 -5h5m-3 9h5m-19 29h5m-10 9h5m-2 -4h5"/><path id="t0_12_3_0" d="M198 383h5m-3 4h5m-4 -8h5m-1 9h5"/><path id="t0_12_0_1" d="M223 341h5m0 -1h5m-1 -2h5m-1 4h5"/><path id="t0_12_7_1" d="M186 323h5m0 1h5m-1 2h5m0 -2h5"/><path id="t0_12_8_0" d="M204 362h5m-3 5h5m0 0h5"/><path id="t0_12_5_0" d="M216 367h5m-4 5h5m-3 -10h5m-7 15h5m-5 4h5"/><path id="t0_12_9_0" d="M195 388h5m0 0h5m0 1h5m0 0h5m0 -2h5"/><path id="t0_12_1_0" d="M191 386h5m0 -1h5m-13 5h5"/><path id="t0_12_1_1" d="M215 408h5m-5 5h5m-4 5h5m-4 5h5m-1 2h5"/><path id="t1_0_2_1" d="M112 194h5m0 -1h5m17 0h5m-67 12h5m29 -6h5m-3 9h5m22 -10h5m-3 4h5m-2 4h5m-74 4h5m-2 5h5m-4 4h5m30 -6h5m-1 3h5m23 -5h5m42 57h5m-8 8h5m-5 -5h5m-2 10h5m9 45h5m-13 6h5m0 -1h5m-44 44h5m-1 3h5m-2 4h5m-1 3h5m-4 5h5"/><path id="t1_0_0_1" d="M168 222h5m-8 4h5m-3 4h5m12 8h5m-4 -5h5m-4 -5h5m-135 23h5m0 0h5m0 -1h5m113 -7h5m-5 69h5m-1 -3h5m-1 -3h5m-104 65h5m-4 10h5m-5 -5h5m-4 10h5m60 -5h5m-3 -4h5m0 -2h5m10 17h5m0 -2h5m0 2h5"/><path id="t1_0_1_1" d="M52 217h5m0 2h5m-1 -2h5m17 22h5m0 0h5m-4 -5h5m-16 8h5m104 56h5m-167 14h5m26 -3h5m0 1h5m-3 4h5m113 -4h5m-1 -2h5m-3 -5h5m-167 14h5m-2 4h5m0 0h5m30 -4h5m-36 33h5m0 0h5m0 -2h5m0 1h5m-1 2h5m132 19h5m-5 -5h5m-4 -5h5m-122 41h5m-2 -4h5m0 -3h5m-11 11h5m-2 4h5m8 10h5m2 -1h5m-5 -5h5m-7 8h5m-1 4h5m-3 -5h5m-4 1h5"/><path id="t1_0_9_0" d="M134 239h5m-2 -3h5m-8 8h5m-3 5h5m-4 0h5m0 2h5m-1 3h5m-3 0h5m-2 -4h5m-56 18h5m39 -5h5m-4 5h5m-3 -9h5m-3 4h5m-5 -5h5m-98 26h5m-1 -2h5m0 0h5m0 2h5m28 -13h5m0 2h5m7 24h5m-4 -5h5m-1 -3h5m0 1h5m-56 22h5m-1 -3h5m-18 8h5m-1 -2h5m-1 28h5m0 -3h5m-12 12h5m-4 -5h5"/><path id="t1_0_5_1" d="M108 192h5m-2 -3h5m-12 12h5m-4 -5h5m2 5h5m-4 -5h5m-4 9h5m58 28h5m0 0h5m-2 -3h5m-1 -4h5m-159 26h5m-3 -4h5m-1 -2h5m-11 11h5m-5 5h5m153 -1h5m-4 5h5m-3 9h5m-4 -5h5m-4 10h5m-140 21h5m-3 5h5m-3 4h5m-1 3h5m-1 3h5m96 2h5m-1 3h5m0 -1h5m21 9h5m0 -2h5m0 0h5m-18 12h5m-4 -5h5m-60 47h5m0 1h5m0 0h5m-1 3h5m-41 17h5m-2 -4h5m-2 -4h5m33 8h5m-1 -2h5m0 -1h5m-55 6h5m-65 20h5m-3 -5h5m15 11h5m-3 -5h5"/><path id="t1_0_0_0" d="M132 223h5m-1 -3h5m-22 5h5m0 2h5m0 0h5m-19 22h5m0 -1h5m0 -1h5m-3 -5h5m-27 44h5m-2 4h5m0 2h5m0 1h5m42 -7h5m-1 4h5m-2 9h5m-5 -5h5m-5 10h5m-31 21h5m-1 3h5m-1 4h5m-1 -2h5m-12 29h5m0 -2h5m-1 -3h5m-84 13h5m0 -3h5m-1 -1h5m0 -2h5m47 0h5m-5 5h5"/><path id="t1_0_3_1" d="M120 193h5m-2 4h5m0 2h5m0 1h5m-1 3h5m-54 21h5m-2 -3h5m-2 -5h5m2 8h5m-65 10h5m0 -2h5m-2 -4h5m47 1h5m-2 3h5m-62 20h5m-1 -3h5m-1 -2h5m15 36h5m106 -1h5m-5 -5h5m-134 9h5m0 1h5m0 1h5m0 -2h5m108 1h5m7 11h5m-164 15h5m152 -5h5m-3 -5h5m-163 15h5m-5 10h5m-4 -5h5m-6 10h5m36 39h5m68 -9h5m-4 4h5m-4 5h5m-77 4h5m-2 4h5m-5 5h5m6 1h5m20 2h5m0 1h5m0 0h5m15 -12h5m-58 14h5m-3 4h5m-1 3h5m7 -8h5"/><path id="t1_0_4_0" d="M149 222h5m-5 -12h5m-2 4h5m-4 5h5m-14 19h5m-3 -11h5m-4 15h5m-4 5h5m-2 4h5m-1 3h5m-10 6h5m-3 4h5m-1 4h5m16 -11h5m-3 4h5m-2 4h5m-2 4h5m-34 4h5m-4 5h5m0 5h5m20 -9h5m-92 13h5m-1 3h5m0 1h5m38 3h5m-1 -1h5m-4 -1h5m-5 6h5m-2 -10h5m-77 14h5m-3 5h5m-4 5h5m57 -5h5m-4 -4h5m-92 13h5m-4 9h5m-4 -5h5m16 -3h5m-5 5h5m10 -3h5m-2 3h5m0 2h5m8 5h5m-8 14h5m-4 -9h5m-4 5h5"/><path id="t1_0_1_0" d="M145 283h5m-13 5h5m0 -1h5m2 -1h5m14 56h5m-2 -4h5m-1 -3h5m-80 24h5m-3 -12h5m0 1h5m-4 6h5m-4 -5h5m-4 9h5m-3 -10h5m0 0h5m0 2h5m3 2h5m0 0h5m-1 2h5m-60 8h5m-1 3h5m0 -1h5m-1 -1h5m34 10h5m-3 -5h5m-8 10h5m-5 5h5"/><path id="t1_0_4_1" d="M160 209h5m-2 0h5m-3 0h5m-2 -2h5m-4 -1h5m-1 1h5m-23 7h5m-1 -4h5m13 44h5m-3 -4h5m0 -3h5m-160 110h5m-1 -3h5m-1 -3h5m-1 -2h5m7 7h5m-9 9h5m-4 -5h5m131 8h5m0 1h5m-2 4h5m-2 4h5m-116 35h5m-1 3h5m-3 4h5m-2 4h5"/><path id="t1_0_6_1" d="M100 192h5m-5 -5h5m-4 -5h5m-9 14h5m3 9h5m0 2h5m0 2h5m25 7h5m-1 2h5m0 3h5m-1 2h5m-1 2h5m24 28h5m-4 -5h5m-7 10h5m-6 55h5m0 -1h5m0 -1h5m-51 58h5m-1 4h5m-1 2h5m-4 5h5"/><path id="t1_0_9_1" d="M188 196h5m-1 3h5m-1 4h5m-1 3h5m-7 5h5m-143 57h5m-4 5h5m-4 5h5m-5 5h5m122 -4h5m-5 -5h5m-4 10h5m-1 -12h5m-9 17h5m-5 38h5m-1 -3h5m-4 -5h5m-19 13h5m0 -2h5m-154 29h5m-3 -4h5m-1 -3h5m-4 -4h5m-2 4h5m-5 5h5m-16 7h5m7 -2h5m-1 12h5m0 -2h5m-2 -4h5m43 19h5m2 2h5m-21 1h5m-1 7h5m-4 -7h5m-2 4h5m0 -2h5m4 10h5m-1 -11h5m-4 10h5m-4 -5h5m13 21h5m-2 -4h5m5 -1h5m-3 5h5m-24 3h5"/><path id="t1_0_3_0" d="M135 252h5m-1 -3h5m-4 -5h5m-2 -4h5m-43 18h5m0 -2h5m-1 2h5m-6 20h5m-5 5h5m4 1h5m-9 1h5m40 37h5m-3 5h5m0 0h5m-1 3h5"/><path id="t1_0_6_0" d="M70 253h5m0 -1h5m-1 -1h5m0 0h5m-1 -4h5m14 5h5m0 0h5m0 -1h5m-24 7h5m-3 5h5m-5 5h5m-4 5h5m-39 22h5m-6 5h5m-4 5h5m81 8h5m0 1h5m-3 5h5m-3 4h5m0 2h5m-28 19h5m-2 4h5m-1 3h5"/><path id="t1_0_7_0" d="M96 254h5m-4 -5h5m-2 -4h5m24 8h5m-10 8h5m-4 -5h5m-2 9h5m-2 48h5m-19 6h5m-1 -3h5m0 -1h5m-10 52h5m0 1h5m0 0h5m0 2h5m0 1h5"/><path id="t1_0_8_0" d="M143 254h5m-19 1h5m0 2h5m0 -1h5m-27 37h5m-4 5h5m31 -2h5m-1 1h5m-48 10h5m-4 -5h5m41 -2h5m-3 13h5m-2 -11h5m-4 7h5m-1 -2h5m0 1h5m-27 18h5m2 -9h5m-53 14h5m-1 10h5m-4 -9h5m-4 5h5m27 -1h5m-4 -5h5"/><path id="t1_0_2_0" d="M142 287h5m-1 8h5m-5 -5h5m-22 22h5m0 2h5m-51 4h5m0 2h5m-1 3h5m-1 -2h5m-1 -3h5m0 8h5m10 -11h5m30 7h5m-4 5h5m0 -2h5m-5 -3h5m0 -1h5m0 -2h5m-78 20h5m-4 -5h5m-2 -4h5"/><path id="t1_0_5_0" d="M80 282h5m-1 2h5m0 2h5m44 6h5m-2 5h5m-12 7h5m0 1h5m-2 -4h5"/><path id="t1_0_8_1" d="M208 224h5m-3 5h5m-4 9h5m-4 -5h5m-2 9h5m-191 36h5m0 1h5m0 -2h5m7 -4h5m-1 2h5m-1 3h5m-1 3h5m-1 -10h5m-5 13h5m-3 -8h5m-5 5h5m103 -7h5m0 1h5m-2 3h5m0 0h5m-7 50h5m0 0h5m0 1h5m-158 12h5m-8 5h5m0 -1h5m111 6h5m-1 -3h5m-1 -2h5m-1 3h5m-2 10h5m-6 5h5m-2 4h5m-123 38h5m-3 5h5m-3 4h5"/><path id="t1_0_7_1" d="M110 167h5m-3 5h5m-3 4h5m19 32h5m0 -2h5m-1 -2h5m-2 -4h5m0 0h5m15 178h5m-1 -3h5m0 1h5m0 2h5m-1 2h5"/><path id="t1_1_0_1" d="M190 440h5m0 0h5m-1 -3h5"/><path id="t1_1_6_1" d="M163 400h5m-11 19h5m-2 -5h5m-3 -9h5m-5 5h5"/><path id="t1_1_5_0" d="M173 414h5m0 0h5m0 2h5m-2 3h5"/><path id="t1_1_3_0" d="M181 446h5m-1 -3h5m-4 -4h5"/><path id="t1_1_4_1" d="M172 402h5m0 0h5m0 -2h5m-43 5h5m0 0h5m-3 12h5m-3 -9h5m-4 5h5"/><path id="t1_1_2_1" d="M200 445h5m-53 12h5m-5 5h5"/><path id="t1_1_4_0" d="M156 417h5m0 -1h5m-13 5h5m6 -1h5m-3 5h5m0 -1h5m-4 5h5"/><path id="t1_1_5_1" d="M176 409h5m0 0h5m0 1h5"/><path id="t1_1_9_1" d="M162 409h5m0 -1h5m-1 3h5m0 -1h5m-3 -4h5"/><path id="t1_1_7_1" d="M178 395h5m0 1h5m0 3h5m-2 3h5m-3 5h5"/><path id="t1_1_7_0" d="M167 431h5m-14 17h5m-1 -2h5m-4 -5h5m-3 -5h5"/><path id="t1_1_2_0" d="M190 432h5m-11 13h5m-1 -4h5m-3 -4h5"/><path id="t1_2_1_1" d="M256 104h5m162 -10h5m-2 4h5m-2 4h5m-186 15h5m-1 -4h5m-3 -4h5m164 10h5m3 -12h5m-191 14h5m178 -1h5m-2 4h5m2 21h5m-3 -4h5m-1 -2h5m-1 -4h5m-240 42h5m-5 -5h5m-3 -4h5m170 4h5m-2 -4h5m0 -2h5m-4 7h5m0 1h5m0 0h5m0 2h5m-2 -3h5m-214 13h5m-3 -5h5m55 28h5m-1 2h5m0 1h5m0 1h5m0 -1h5"/><path id="t1_2_3_1" d="M318 77h5m-5 5h5m-4 5h5m27 0h5m-3 -5h5m-40 10h5m-5 5h5m29 -5h5m21 3h5m-1 3h5m0 1h5m-3 5h5m-165 3h5m-1 -2h5m-1 2h5m0 1h5m144 0h5m27 10h5m-5 0h5m0 -2h5m-3 -9h5m-4 5h5m-220 16h5m-4 5h5m198 -11h5m-2 6h5m-4 -5h5m-4 9h5m-210 5h5m-1 3h5m179 2h5m-1 3h5m0 -2h5m0 1h5m-1 2h5m-3 -10h5m-202 20h5m-4 -5h5m0 2h5m122 19h5m0 2h5m0 0h5m20 8h5m0 0h5m-3 5h5m-2 3h5m-133 27h5m-2 -4h5m0 0h5"/><path id="t1_2_4_0" d="M347 106h5m-3 4h5m-3 5h5m29 0h5m0 0h5m0 3h5m-72 7h5m-1 2h5m-1 3h5m0 3h5m-1 1h5m13 -12h5m0 1h5m0 1h5m-4 3h5m-1 -4h5m-5 3h5m-1 7h5m-4 -5h5m9 -6h5m-159 30h5m-1 3h5m-2 4h5m80 -4h5m-1 -2h5m0 -2h5"/><path id="t1_2_7_0" d="M348 132h5m-3 -4h5m-99 18h5m60 -4h5m0 -1h5m0 -1h5m-1 -4h5m9 1h5m-102 22h5m-4 -9h5m-5 14h5m-4 -10h5"/><path id="t1_2_9_1" d="M271 82h5m0 -2h5m0 -2h5m55 10h5m-1 0h5m0 -1h5m0 -1h5m-90 6h5m-1 2h5m0 2h5m52 -5h5m59 11h5m-16 3h5m-1 3h5m-1 -2h5m39 39h5m-2 -4h5m0 -2h5m-4 8h5m-1 -3h5m-1 -3h5m-239 14h5m-4 5h5m-1 3h5m192 16h5m1 -4h5m-4 -5h5m-173 10h5m-4 5h5m-2 4h5m42 1h5m-5 -7h5m-2 3h5m22 8h5m80 -14h5m-118 15h5m10 6h5m-5 5h5m-1 -9h5m-1 -1h5"/><path id="t1_2_8_1" d="M349 74h5m-1 -3h5m-1 -5h5m-4 4h5m-1 1h5m-5 -5h5m0 1h5m0 0h5m-13 29h5m0 1h5m-2 4h5m-8 9h5m-2 -4h5m35 28h5m0 0h5m-15 1h5m8 3h5m0 1h5m-11 22h5m-1 -3h5m0 1h5m-1 2h5m-224 18h5m-3 -5h5m198 -8h5m-207 17h5m0 2h5m-1 3h5m117 2h5m0 0h5m-29 18h5m0 -1h5m0 0h5m3 -7h5m-4 4h5m-5 -9h5m35 7h5m-1 2h5m0 -1h5m-59 7h5m0 1h5"/><path id="t1_2_4_1" d="M302 71h5m-2 -3h5m-3 5h5m-34 13h5m0 0h5m-1 -2h5m0 0h5m2 -7h5m-1 3h5m-2 4h5m-5 5h5m74 0h5m-2 -4h5m-118 6h5m96 2h5m0 0h5m53 41h5m-270 12h5m-4 -5h5m-1 -3h5m-1 -2h5m-1 3h5m240 1h5m-2 -4h5m4 5h5m0 8h5m-5 -8h5m-1 3h5m-4 5h5m-58 15h5m-3 -10h5m-5 5h5m-58 15h5m-1 2h5m37 -10h5m18 7h5m-2 5h5m-181 10h5m0 1h5m-1 4h5m0 -1h5m51 1h5m0 0h5m0 -2h5m-1 2h5m19 -8h5m-3 -4h5m59 6h5m-3 -4h5"/><path id="t1_2_6_1" d="M234 87h5m-1 3h5m0 0h5m-4 5h5m136 1h5m0 1h5m0 2h5m18 4h5m-19 4h5m0 0h5m0 0h5m-216 15h5m0 0h5m0 0h5m231 10h5m-2 -4h5m-2 -4h5m-15 11h5m-189 44h5m-16 11h5m-4 -5h5m1 -3h5m3 -1h5m-18 18h5m-4 -4h5m40 9h5m-2 4h5m28 -3h5m0 -2h5m-1 -1h5m-43 9h5m-1 3h5m-1 -3h5"/><path id="t1_2_3_0" d="M330 95h5m-2 -4h5m-1 -1h5m0 0h5m0 1h5m-43 40h5m-1 -2h5m-1 -2h5m-39 20h5m22 -11h5m0 1h5m42 8h5m0 -2h5m-1 -1h5m0 2h5m-99 8h5m-4 4h5m10 -3h5m0 1h5m0 -1h5m-1 2h5m0 1h5m16 9h5m-2 4h5m-1 2h5m0 2h5"/><path id="t1_2_7_1" d="M353 84h5m0 3h5m-124 16h5m-3 -5h5m116 -8h5m-138 24h5m-2 -4h5m-1 -3h5m163 41h5m-5 -6h5m0 -1h5m-1 3h5m-1 3h5m-14 4h5m-1 3h5m-4 3h5m-4 -5h5m-4 5h5m-5 5h5m-1 -1h5m-47 17h5m15 1h5m9 -13h5m0 0h5m-39 14h5m0 0h5m0 0h5m-146 15h5m0 2h5m-4 8h5m-3 -4h5m-4 5h5m3 3h5m-1 -3h5m80 2h5m-2 -5h5m-5 -5h5m-106 12h5m-4 1h5m-1 1h5"/><path id="t1_2_9_0" d="M344 105h5m-1 3h5m0 1h5m-1 3h5m-3 4h5m-122 23h5m-1 4h5m-1 3h5m20 13h5m-3 5h5m50 -1h5m0 0h5m0 1h5m12 -2h5m0 1h5m0 0h5m-93 4h5m-4 5h5m-1 2h5m56 -8h5m5 3h5m-3 -4h5m-1 0h5m0 1h5m0 0h5"/><path id="t1_2_0_1" d="M340 69h5m0 2h5m-116 7h5m-1 2h5m0 3h5m-2 3h5m57 2h5m33 -13h5m-1 4h5m-2 4h5m-108 18h5m-1 -3h5m-2 -4h5m-2 -4h5m47 1h5m0 0h5m-126 29h5m0 2h5m-4 4h5m-1 4h5m2 62h5m-3 -5h5m44 2h5m0 0h5m0 0h5m-62 6h5m0 1h5m3 1h5m0 1h5m0 -1h5"/><path id="t1_2_2_1" d="M276 85h5m0 -2h5m-1 -2h5m0 2h5m25 6h5m4 -2h5m-1 -2h5m-13 5h5m-147 28h5m-3 4h5m-1 3h5m0 0h5m0 2h5m20 7h5m-46 1h5m-1 3h5m-2 4h5m0 0h5m19 0h5m-2 -3h5m175 30h5m-4 9h5m-4 -5h5m-207 12h5m-4 5h5m-3 -9h5m190 1h5m-148 21h5m-2 -4h5m0 -2h5m-1 2h5m17 -1h5m-1 2h5m-2 5h5m-1 -8h5m0 2h5m-1 2h5m0 1h5m-25 13h5m-4 -5h5"/><path id="t1_2_8_0" d="M311 130h5m-1 3h5m12 -2h5m-22 7h5m-1 3h5m9 -5h5m-3 4h5m-2 4h5m47 2h5m-5 -5h5m-2 -4h5m-141 21h5m-1 2h5m-1 3h5m55 -10h5m-1 -2h5m0 0h5m48 -1h5m-56 26h5m-2 -4h5m-11 8h5"/><path id="t1_2_5_0" d="M273 119h5m-1 -3h5m-11 8h5m85 3h5m0 0h5m-3 -5h5m-135 42h5m-1 -3h5m17 -4h5m-2 4h5m0 2h5m31 -7h5m-5 5h5m-79 6h5m-1 4h5m-1 2h5m62 -7h5m-5 5h5m-4 5h5"/><path id="t1_2_1_0" d="M309 147h5m-4 -5h5m-8 10h5m47 6h5m0 1h5m0 -1h5m-1 -3h5m0 0h5m-30 24h5m-86 5h5m0 -3h5m-1 1h5m0 1h5m65 -1h5m0 -1h5m-1 2h5"/><path id="t1_2_0_0" d="M299 95h5m-5 -5h5m-4 10h5m62 63h5m-1 -4h5m-2 -3h5m-1 8h5m-5 -12h5m-15 16h5m0 -3h5"/><path id="t1_2_6_0" d="M306 84h5m-3 5h5m-13 6h5m-2 -4h5m75 12h5m0 0h5m-113 14h5m-3 -4h5m86 1h5m-2 -5h5m-1 -2h5m-112 23h5m0 -8h5m-5 5h5m-45 9h5m0 -1h5m-1 3h5m88 7h5m-2 -5h5m-5 -4h5m-99 16h5m-1 2h5m0 0h5m77 25h5m-2 -3h5m-4 -5h5m-33 12h5m-1 3h5m-1 3h5m11 -5h5"/><path id="t1_2_2_0" d="M304 84h5m-3 5h5m0 2h5m-3 5h5m-4 5h5m44 1h5m0 -2h5m-2 -4h5m-19 14h5m-2 -4h5m-113 27h5m134 -6h5m-1 3h5m-3 4h5m-150 6h5m-2 -4h5m29 10h5m0 1h5m-1 2h5m0 -1h5m32 -12h5m-1 -1h5m-1 4h5m-1 2h5m39 -2h5m-2 4h5m-164 17h5m-1 -3h5m0 0h5m0 4h5m-4 -5h5m-6 14h5m-3 -5h5m-4 9h5m44 9h5m-1 3h5m-2 4h5m-1 1h5"/><path id="t1_2_5_1" d="M260 71h5m-31 18h5m9 -10h5m0 -1h5m-2 -3h5m-32 17h5m4 -1h5m-2 5h5m-2 4h5m159 0h5m-1 -1h5m0 3h5m-215 6h5m0 1h5m-1 2h5m-1 2h5m191 -6h5m-172 84h5m-2 2h5m6 -4h5m-5 5h5m0 -8h5m114 2h5m0 -1h5m0 -1h5m-1 -4h5m-154 13h5m-4 7h5m-5 5h5m-3 -10h5m-3 -1h5m-5 10h5m-4 -5h5m1 0h5m-2 -4h5m-2 11h5m-22 4h5m14 0h5m-3 5h5"/><path id="t1_3_9_1" d="M239 259h5m0 2h5m-18 22h5m-9 9h5m-5 5h5m-2 -9h5"/><path id="t1_3_7_0" d="M220 236h5m0 1h5m-1 3h5m-5 21h5m0 2h5m0 1h5m-1 3h5m-42 3h5m0 1h5m0 2h5"/><path id="t1_3_5_0" d="M223 236h5m-2 4h5m-2 4h5m-4 5h5m-21 34h5m-14 16h5m-1 -2h5m-2 -5h5m-4 -4h5"/><path id="t1_3_8_1" d="M218 217h5m-1 -3h5m-1 -3h5m7 1h5m-31 68h5m-5 -5h5m-10 12h5m-1 -2h5"/><path id="t1_3_2_0" d="M211 251h5m-3 1h5m-3 -5h5m-14 12h5m-5 5h5m-5 -5h5m-3 -4h5m-3 5h5m-1 -3h5m-2 39h5m-3 10h5m-4 -5h5m-5 10h5"/><path id="t1_3_4_0" d="M226 259h5m0 -1h5m-5 0h5m0 -2h5m-5 1h5m0 -2h5m-5 2h5"/><path id="t1_3_6_1" d="M212 230h5m-1 1h5m0 2h5m0 -1h5m0 0h5m-32 19h5m0 0h5m-1 -3h5m-1 -4h5m-1 -3h5m11 27h5m-2 -4h5m-31 34h5m-3 -5h5m-2 -4h5m-1 -3h5"/><path id="t1_3_4_1" d="M228 222h5m0 1h5m0 -1h5m-3 -5h5"/><path id="t1_3_0_1" d="M241 239h5m-9 4h5m3 -2h5m-11 38h5m-5 5h5m-10 9h5m-2 -5h5"/><path id="t1_3_5_1" d="M239 233h5m-2 -3h5"/><path id="t1_3_3_0" d="M213 258h5m-5 5h5m-1 3h5m-2 5h5m-4 4h5"/><path id="t1_3_2_1" d="M230 200h5m-2 3h5"/><path id="t1_3_0_0" d="M225 252h5m-2 -4h5m-1 -3h5"/><path id="t1_4_6_1" d="M245 189h5m0 1h5m-1 1h5m0 3h5m-47 10h5m-4 4h5m-7 16h5m-4 -11h5m-12 22h5m0 -2h5m-2 -4h5m35 5h5m-2 3h5m-57 3h5m45 7h5m-5 -5h5"/><path id="t1_4_3_0" d="M223 205h5m-2 -4h5m16 1h5m-1 3h5m0 0h5m-3 -4h5m-1 -4h5m-45 13h5"/><path id="t1_4_0_1" d="M275 190h5m-4 5h5m-2 16h5m-1 3h5m0 0h5m-43 18h5m-2 4h5m0 2h5m-8 12h5m-1 2h5m-2 -11h5m-4 5h5m-5 4h5m0 -1h5m-1 -3h5"/><path id="t1_4_1_1" d="M278 224h5m-75 11h5m14 2h5m-1 -3h5m0 -1h5m24 5h5m0 -2h5m-2 -3h5m-1 -4h5"/><path id="t1_4_2_1" d="M207 199h5m-3 4h5m-4 5h5m45 -12h5m-2 3h5m0 0h5m0 2h5m-2 4h5m-75 12h5m-1 -4h5"/><path id="t1_4_7_1" d="M289 216h5"/><path id="t1_4_4_0" d="M226 198h5m0 1h5m0 0h5m-1 -3h5"/><path id="t1_4_6_0" d="M226 200h5m-2 -2h5m-5 -3h5m-1 7h5m-4 -7h5m-1 7h5m-5 -5h5m0 0h5m13 25h5m0 0h5m0 1h5m-3 -4h5"/><path id="t1_4_3_1" d="M205 200h5m60 38h5m-3 -4h5m-10 9h5"/><path id="t1_4_5_0" d="M232 214h5m-2 8h5m-4 -5h5m-5 10h5m-5 5h5"/><path id="t1_4_8_0" d="M248 222h5m-3 -4h5m-1 -4h5m-11 13h5"/><path id="t1_4_5_1" d="M237 184h5m-2 4h5m0 1h5m-2 62h5m-1 -3h5m0 0h5m0 0h5"/><path id="t1_4_8_1" d="M238 241h5m0 1h5m-1 3h5"/><path id="t1_4_9_0" d="M253 205h5m0 -1h5m0 0h5"/><path id="t1_5_8_1" d="M421 194h5m-3 -5h5m-11 8h5m-21 26h5m0 1h5m-49 3h5m0 1h5m-1 3h5m18 4h5m-4 -5h5m-4 -5h5m-59 59h5m-5 14h5m-3 -5h5m-5 -5h5m-22 14h5m0 1h5m20 9h5m-1 -2h5m-1 -3h5m0 -1h5m-19 32h5m0 0h5m0 1h5m115 1h5m-2 4h5m0 2h5m-2 4h5m-2 3h5m-90 10h5m-1 3h5m-1 3h5m12 0h5m-4 4h5m25 -12h5m-1 4h5m-2 4h5m-43 9h5m-5 5h5m-21 21h5m-1 -3h5"/><path id="t1_5_2_1" d="M453 220h5m-1 2h5m-1 -3h5m-3 3h5m-2 -6h5m-2 -3h5m-6 12h5m-2 3h5m0 0h5m21 55h5m-2 3h5m-1 3h5m-1 3h5m-1 4h5m-197 4h5m-2 3h5m-2 4h5m17 37h5m-11 3h5m-1 1h5m-1 4h5m-3 -4h5m-3 4h5m-4 0h5m0 1h5m126 2h5m-4 -5h5m-9 15h5m-4 -5h5m-90 19h5m-1 4h5m-2 3h5m0 0h5"/><path id="t1_5_4_1" d="M393 196h5m-1 4h5m1 18h5m-5 5h5m66 -1h5m-75 6h5m60 3h5m-2 -4h5m13 8h5m-1 -3h5m-11 13h5m-4 -5h5m0 26h5m-11 8h5m-5 5h5m-2 -9h5m-4 12h5m-165 29h5m-1 2h5m162 -11h5m0 1h5m-5 5h5m6 6h5m-185 3h5m-2 4h5m-2 4h5m174 -10h5m-163 33h5m-3 5h5m0 0h5"/><path id="t1_5_5_1" d="M414 207h5m27 -7h5m-2 -4h5m-72 22h5m0 -1h5m-4 -5h5m24 -2h5m-1 3h5m8 9h5m0 2h5m-76 4h5m-1 3h5m-1 4h5m-2 3h5m57 -10h5m-119 71h5m-2 -10h5m-5 5h5m-9 14h5m-4 -4h5m35 17h5m-1 3h5m-5 5h5m-3 5h5m-5 5h5m112 -3h5m0 -1h5m-2 -4h5m0 -1h5m-4 27h5m-59 6h5m0 1h5m0 1h5m-1 2h5m24 -2h5m0 -2h5m0 -2h5m-128 18h5m-2 4h5m-1 3h5m-2 4h5m-3 5h5"/><path id="t1_5_4_0" d="M372 297h5m-7 10h5m-3 4h5m-4 -9h5m60 0h5m0 0h5m0 -1h5m0 -1h5m-1 2h5m-89 14h5m-5 13h5m0 -3h5m-1 -2h5m0 -2h5m-2 -3h5m55 24h5m-1 4h5m0 -1h5"/><path id="t1_5_7_1" d="M416 197h5m-2 4h5m-2 4h5m-23 13h5m-1 -1h5m-4 -5h5m10 -2h5m29 29h5m-2 -4h5m-4 -5h5m1 5h5m-2 -4h5m0 -1h5m-4 -5h5m-28 17h5m-111 56h5m-1 2h5m-3 7h5m-2 -5h5m-3 7h5m-3 5h5m-2 4h5m-2 4h5m42 50h5m-3 -4h5m-1 -4h5m7 -2h5m-2 4h5m0 2h5m0 1h5m-2 -3h5m-41 11h5m-18 21h5m-4 -4h5m27 10h5m-1 -3h5m-1 -3h5m-18 8h5"/><path id="t1_5_5_0" d="M426 229h5m0 0h5m-1 2h5m-4 5h5m9 48h5m-4 -5h5m-9 20h5m-4 -5h5m-4 -5h5m4 39h5m-12 6h5m0 -1h5"/><path id="t1_5_1_0" d="M409 235h5m0 2h5m-1 -3h5m0 0h5m0 1h5m-41 18h5m29 -9h5m0 0h5m-1 3h5m0 -1h5m-1 -3h5m-53 13h5m-4 9h5m-4 -5h5m-7 10h5m41 42h5m-2 -3h5m-2 -5h5m11 6h5m-3 -5h5m-1 -3h5m-1 2h5m-90 16h5m-2 4h5m-1 3h5m0 1h5m40 -13h5m-2 4h5m-1 3h5m-4 4h5m11 -1h5m-1 -2h5m-1 -4h5m-69 38h5m-1 -2h5m-23 7h5m0 -1h5m0 -1h5"/><path id="t1_5_0_1" d="M390 203h5m-3 4h5m-4 5h5m-3 4h5m-30 29h5m-5 -5h5m-1 7h5m-3 4h5m-1 4h5m77 86h5m0 -1h5m0 0h5m0 -1h5m-106 20h5m-1 -2h5m-1 -3h5m-1 -2h5m12 37h5m0 -1h5m-19 12h5m-3 -5h5m-2 -4h5"/><path id="t1_5_2_0" d="M396 254h5m-4 -5h5m-15 16h5m-3 -4h5m-1 -3h5m39 3h5m-1 3h5m0 0h5m-1 3h5m-4 0h5m-1 -3h5m-17 14h5m-1 -2h5m-2 -4h5m17 42h5m0 0h5m-1 -3h5m-1 -3h5m-94 25h5m-3 8h5m-4 -3h5m-1 2h5m-5 0h5m-2 4h5m1 -6h5m-3 5h5m-14 2h5m4 3h5"/><path id="t1_5_9_1" d="M474 224h5m-113 13h5m96 0h5m-4 -5h5m-3 -5h5m-114 19h5m-3 -5h5m-5 10h5m99 -9h5m29 9h5m0 -2h5m0 -1h5m-16 8h5m-10 21h5m-1 4h5m-172 13h5m-5 5h5m163 -3h5m-4 -11h5m-179 15h5m161 9h5m-2 -4h5m-3 -4h5m-133 25h5m-3 -5h5m-4 -4h5m-7 14h5m94 12h5m0 -2h5m-4 -5h5m0 -1h5m0 2h5m6 7h5m-115 10h5m-3 4h5m87 -5h5m0 2h5m8 -7h5m-1 3h5m0 0h5m-2 4h5m-125 8h5m91 -3h5"/><path id="t1_5_6_1" d="M404 198h5m-3 4h5m-2 4h5m32 -1h5m-4 -4h5m-41 9h5m32 0h5m-92 29h5m0 0h5m0 -1h5m-12 14h5m-1 -3h5m-1 -3h5m0 2h5m0 -2h5m-25 51h5m-2 -5h5m128 6h5m-1 -3h5m-170 19h5m-1 -3h5m-3 -4h5m10 -7h5m126 2h5m0 -1h5m8 42h5m-1 -2h5m0 -1h5m-51 18h5m0 -1h5m-32 5h5m-1 4h5m-3 4h5m-4 -6h5m-1 7h5m-4 -6h5m-3 4h5m-3 0h5m-4 -3h5m-4 -5h5m-4 8h5m-90 11h5m-1 3h5m0 0h5"/><path id="t1_5_3_0" d="M452 235h5m-2 -4h5m0 -2h5m-55 24h5m-3 -5h5m-2 -4h5m34 -4h5m-3 4h5m-52 13h5m23 10h5m-1 -3h5m-12 7h5m-73 35h5m-2 4h5m45 3h5m-2 -4h5m-57 6h5m33 7h5m-1 -2h5m-1 -3h5m8 23h5m-2 -4h5m-2 -3h5m9 26h5m-4 -5h5m0 -1h5"/><path id="t1_5_0_0" d="M429 236h5m-41 18h5m26 -1h5m-4 -8h5m-5 5h5m-4 -10h5m-2 14h5m-38 4h5m0 1h5m0 0h5m23 -3h5m36 13h5m-12 6h5m0 -1h5m-59 23h5m-34 11h5m0 1h5m-1 1h5m0 -1h5m0 0h5m3 -7h5m-5 5h5m19 7h5m-3 -4h5m-39 13h5m-4 5h5m25 -9h5m-50 12h5m0 0h5m0 -1h5"/><path id="t1_5_7_0" d="M374 252h5m20 -5h5m0 -1h5m-1 -1h5m0 -1h5m-1 -3h5m-47 16h5m-4 5h5m-3 4h5m0 0h5m50 61h5m0 1h5m-2 -4h5m0 -1h5m-1 -4h5m-64 21h5m-3 -4h5m-2 -4h5m31 3h5m-2 -3h5m-5 9h5m-3 -6h5m-5 -5h5m-2 10h5m-1 -1h5m0 2h5m-61 4h5m-3 4h5"/><path id="t1_5_3_1" d="M387 217h5m-4 5h5m49 1h5m-1 -1h5m-3 -9h5m-3 5h5m6 2h5m-1 -4h5m-1 -1h5m-1 -3h5m-88 14h5m-2 4h5m63 -5h5m-119 62h5m-4 5h5m-4 4h5m-4 0h5m-4 -7h5m-3 5h5m-5 -2h5m-2 -4h5m-4 10h5m-1 -11h5m-13 13h5m-1 2h5m-4 0h5m132 25h5m-1 3h5m-4 5h5m-81 53h5m0 -2h5m-2 -3h5m-5 -5h5m1 -2h5m-5 5h5m-5 5h5m-5 5h5"/><path id="t1_5_8_0" d="M400 231h5m-2 5h5m-7 4h5m1 11h5m-2 -4h5m-1 -3h5m0 -1h5m11 22h5m-2 4h5m-15 11h5m-5 -5h5m0 1h5m0 -2h5m-14 11h5m-36 15h5m-1 2h5m0 3h5"/><path id="t1_5_6_0" d="M442 221h5m-37 14h5m16 1h5m0 -2h5m-1 -3h5m-4 3h5m-4 -4h5m-4 9h5m-3 -7h5m-5 -7h5m0 6h5m-68 14h5m-3 5h5m-3 -8h5m0 2h5m0 9h5m-2 -11h5m-1 -2h5m-25 20h5m-5 -5h5m-2 9h5m-3 5h5m-1 -8h5m-5 5h5m-3 -9h5m27 1h5m0 -1h5m0 0h5m-1 -2h5m7 8h5m-5 5h5m-7 4h5m-4 5h5m-66 18h5m0 1h5m0 2h5m0 0h5m-22 29h5m-1 -3h5m-2 -3h5m-4 21h5m3 1h5m-5 -5h5m-15 18h5m-4 -5h5m-1 -5h5m-12 15h5"/><path id="t1_5_1_1" d="M384 202h5m-3 4h5m17 3h5m-2 -4h5m-1 -2h5m0 2h5m43 24h5m-4 5h5m-2 4h5m35 43h5m-1 2h5m-15 6h5m-2 -4h5m-39 81h5m-1 1h5m-3 5h5m-31 15h5m-2 -4h5m-1 -2h5m-1 -3h5m-54 18h5m-1 -2h5m-1 -3h5m22 0h5"/><path id="t1_5_9_0" d="M380 261h5m-4 5h5m-2 -8h5m-7 12h5m83 28h5m-2 -4h5m-112 19h5m-1 -2h5m-1 3h5m86 -9h5m0 -2h5m-25 41h5m-4 -1h5m-2 -1h5m-3 -5h5m-5 6h5m-1 -8h5m-4 7h5m-24 5h5m-1 -2h5"/><path id="t1_6_9_1" d="M326 269h5m-2 -3h5m-19 14h5m0 -3h5m-2 -4h5m19 26h5m0 -2h5m1 -9h5m-1 3h5m-2 5h5m-1 2h5m0 1h5m-38 7h5m-3 -4h5m46 16h5m-3 5h5m-3 5h5m-4 2h5m-5 3h5m-3 1h5m-1 4h5m-3 5h5m11 -4h5m-1 3h5m-1 2h5m-29 4h5m24 24h5m-263 14h5m-1 -3h5m-3 -4h5m-1 -2h5m0 0h5m242 -2h5m-2 3h5m-5 5h5m-258 19h5m-13 4h5m0 0h5m4 12h5m-1 -2h5m0 -1h5m172 3h5m-3 -4h5m-197 7h5m-4 5h5m184 2h5m-5 -5h5m-47 25h5m0 0h5m48 -1h5m-149 14h5m69 -7h5m-1 3h5m-1 3h5m8 -9h5m-3 4h5m27 -4h5m-3 13h5m-4 -9h5m-3 5h5m1 -4h5m-4 5h5m-5 -10h5m-156 27h5m-4 -5h5m-2 -4h5m-1 -3h5m35 -1h5m-3 5h5m-4 5h5m36 -10h5m12 13h5m0 -1h5m0 -1h5m0 0h5m8 -10h5m-105 15h5m0 2h5m0 1h5m59 -2h5"/><path id="t1_6_4_1" d="M334 260h5m-5 5h5m-90 16h5m-1 2h5m13 -11h5m-1 3h5m-1 3h5m-3 5h5m46 -13h5m-2 4h5m-2 4h5m-136 17h5m-3 4h5m3 -11h5m0 -1h5m-2 0h5m-4 1h5m-1 -2h5m0 0h5m0 -1h5m13 0h5m-1 4h5m-2 4h5m8 4h5m-2 -5h5m-5 -4h5m-1 3h5m0 -2h5m17 8h5m-3 -4h5m77 -1h5m-3 6h5m-4 -1h5m-3 -4h5m-5 1h5m-198 20h5m-5 -5h5m-2 -5h5m91 6h5m-3 -5h5m-1 -3h5m78 1h5m-1 3h5m-186 25h5m-4 5h5m-4 5h5m-46 8h5m0 0h5m0 0h5m-1 3h5m19 -2h5m-3 -4h5m187 11h5m-219 3h5m-5 5h5m-5 5h5m14 1h5m0 1h5m174 -5h5m-1 -4h5m-1 -2h5m-189 15h5m172 12h5m-9 8h5m-1 -4h5m-3 4h5m-3 5h5m-176 4h5m0 2h5m0 0h5m148 6h5m-2 -4h5m-3 -4h5m-208 26h5m-1 -1h5m0 0h5m44 2h5m-3 -4h5m-4 -5h5m110 5h5m-2 5h5m-172 2h5m38 6h5m-2 -4h5m119 0h5m-66 13h5m0 3h5m-3 4h5m38 7h5m-19 3h5m-2 4h5m-3 -4h5m0 0h5"/><path id="t1_6_3_1" d="M238 283h5m-4 -5h5m-9 9h5m58 6h5m0 0h5m0 1h5m-1 -2h5m36 22h5m-3 -5h5m-17 7h5m0 -1h5m-152 29h5m-1 -3h5m3 3h5m180 -1h5m0 1h5m-200 1h5m-4 10h5m-1 -3h5m-1 2h5m-4 5h5m169 -8h5m-3 -5h5m24 42h5m-22 12h5m-5 -8h5m-2 4h5m5 7h5m-4 -5h5m-3 -5h5m-5 14h5m-33 25h5m-148 13h5m127 -4h5m-3 5h5m-3 -8h5m-1 -2h5m-175 28h5m-1 -3h5m16 -2h5m-3 -5h5m-4 -4h5m98 14h5m-1 -3h5m0 2h5m2 1h5m0 0h5m-100 8h5m-4 5h5m60 -7h5m-5 7h5m-2 -11h5m-5 8h5m-3 -5h5m4 -2h5m0 -2h5m22 0h5m-2 4h5m-119 13h5m-5 5h5m57 -6h5"/><path id="t1_6_9_0" d="M318 306h5m-4 5h5m0 3h5m-34 15h5m-3 -4h5m26 -9h5m24 9h5m0 0h5m0 1h5m1 3h5m-1 -1h5m-88 11h5m-5 -5h5m70 -1h5m-3 -3h5m-5 8h5m-10 25h5m-2 4h5m-1 2h5m4 4h5m-3 -5h5m-1 -3h5m-65 18h5m0 1h5m-3 4h5m0 1h5m35 -12h5m-110 33h5m-4 -5h5m-3 8h5m73 5h5m0 -2h5m-24 8h5m0 -2h5m-1 -2h5m-53 26h5m-4 -5h5m-2 -3h5m-7 13h5m-2 3h5"/><path id="t1_6_3_0" d="M321 312h5m-4 -5h5m-6 10h5m-2 4h5m-1 2h5m-45 17h5m-2 4h5m0 0h5m-1 -2h5m-3 -5h5m-42 9h5m-1 4h5m-1 2h5m-39 20h5m0 0h5m38 2h5m0 0h5m0 -8h5m-5 5h5m-55 5h5m0 2h5m29 1h5m-1 4h5m-5 0h5m-3 -4h5m-3 7h5m-1 -2h5m41 4h5m0 -2h5m0 1h5m25 -1h5m-49 5h5m11 0h5m20 4h5m-3 -5h5m-75 22h5m-1 -2h5m0 1h5m0 0h5m-2 2h5m-4 5h5m-4 5h5"/><path id="t1_6_4_0" d="M300 311h5m-2 -4h5m0 7h5m-5 -9h5m-2 5h5m-4 -2h5m-2 -1h5m-23 8h5m4 4h5m-23 17h5m-5 5h5m26 -5h5m0 0h5m-2 4h5m-1 3h5m17 -13h5m-3 4h5m-2 5h5m-77 16h5m-2 -4h5m-4 -5h5m-50 28h5m21 0h5m82 -8h5m0 2h5m0 0h5m-3 -1h5m-3 1h5m-3 -3h5m-3 4h5m-5 5h5m-4 -7h5m-142 21h5m-3 -5h5m-5 -5h5m17 3h5m-3 -5h5m-3 3h5m-1 3h5m103 -5h5m-85 66h5m-1 -2h5m0 0h5m-4 1h5m-3 4h5m-1 3h5"/><path id="t1_6_7_1" d="M298 281h5m-1 -3h5m0 -2h5m32 5h5m-2 -4h5m-5 5h5m-1 -7h5m0 -1h5m-1 -3h5m-17 16h5m-1 3h5m-122 10h5m-1 1h5m0 -1h5m0 0h5m159 44h5m4 0h5m0 -2h5m0 -2h5m-19 5h5m-1 21h5m-1 3h5m-1 3h5m-215 32h5m2 -2h5m-7 4h5m-1 13h5m-4 -9h5m-4 5h5m-6 9h5m8 10h5m-1 -2h5m-1 -3h5m-2 -4h5m-1 -3h5m117 2h5m0 -1h5m0 1h5m-1 -3h5m0 0h5m-139 57h5m0 -1h5m-4 -6h5m-4 -5h5m-3 9h5m6 3h5m-5 -5h5m0 2h5m4 -5h5m-1 -4h5m0 0h5m-28 22h5m-5 -5h5"/><path id="t1_6_2_1" d="M260 269h5m-9 8h5m-5 -5h5m-4 10h5m-3 5h5m123 10h5m-2 -4h5m-1 -2h5m-2 4h5m-15 7h5m-196 56h5m-14 12h5m-2 -4h5m-1 -4h5m206 5h5m0 -1h5m-1 -3h5m0 -1h5m0 10h5m-25 11h5m-5 5h5m6 -12h5m0 0h5m-244 24h5m0 -3h5m0 2h5m200 -4h5m-1 -3h5m-179 27h5m-3 -4h5m-4 -5h5m-9 14h5m49 40h5m-4 -5h5m-1 -3h5m4 -3h5m-1 3h5m-5 5h5m59 -1h5m-28 16h5m0 -3h5m-2 -4h5m-1 -3h5m2 6h5m0 -3h5m-4 -4h5m-31 16h5"/><path id="t1_6_6_1" d="M321 257h5m0 -1h5m0 -1h5m-3 11h5m-2 -4h5m-1 -3h5m5 10h5m-89 12h5m-2 -5h5m48 7h5m-1 -3h5m-2 -8h5m-4 5h5m-3 -6h5m-3 4h5m13 -2h5m-1 3h5m-1 3h5m-1 3h5m-106 3h5m124 33h5m0 0h5m0 0h5m-3 5h5m-4 5h5m10 14h5m-229 17h5m4 -2h5m16 -9h5m-1 3h5m-3 5h5m186 -10h5m-2 3h5m-1 4h5m-2 4h5m-240 7h5m-1 3h5m-1 1h5m-3 -7h5m-2 4h5m15 -4h5m167 43h5m0 0h5m0 2h5m-208 14h5m-1 3h5m-3 4h5m160 4h5m-1 -9h5m-2 10h5m-4 -12h5m0 0h5m0 2h5m0 0h5m-28 13h5m-1 4h5m-2 -2h5m0 1h5m-1 3h5m0 -1h5m-99 26h5m0 0h5m0 -1h5m1 24h5m-1 3h5m-1 -3h5m0 -1h5"/><path id="t1_6_5_0" d="M296 312h5m-3 -5h5m-1 -3h5m-13 23h5m16 -7h5m-2 4h5m-1 3h5m-28 3h5m0 1h5m-4 6h5m-5 5h5m-1 -7h5m-3 -5h5m9 1h5m-5 5h5m13 34h5m0 3h5m-100 16h5m94 -13h5m-109 25h5m-5 -11h5m-1 10h5m0 -3h5m-5 -4h5m-4 4h5m52 7h5m-23 8h5m0 -2h5m0 -1h5m-1 -3h5"/><path id="t1_6_8_0" d="M341 313h5m-1 -3h5m-1 3h5m-27 8h5m0 1h5m-5 6h5m-4 -5h5m-4 3h5m12 -8h5m-4 4h5m-77 9h5m-4 8h5m-3 -4h5m-3 8h5m32 -6h5m-2 -4h5m0 -1h5m-1 -1h5m10 24h5m-1 3h5m-114 4h5m-4 5h5m-5 5h5m103 -1h5m-4 -8h5m-3 4h5m-5 -5h5m-4 5h5m-3 4h5m-102 32h5m14 1h5m91 -1h5m0 -1h5m0 0h5m-148 10h5m-1 -2h5m-1 -3h5m0 -2h5m12 12h5m-1 -3h5m-2 -5h5m36 22h5m-4 -5h5m-62 13h5m0 -1h5m-1 -3h5m0 0h5m40 0h5m-3 5h5"/><path id="t1_6_6_0" d="M343 311h5m-7 10h5m-4 -5h5m-50 24h5m-1 -3h5m0 -2h5m0 2h5m46 -4h5m-1 4h5m-1 2h5m0 0h5m3 3h5m-141 14h5m0 -1h5m0 -1h5m-1 2h5m0 1h5m-1 -7h5m-5 5h5m26 -2h5m-1 3h5m23 -1h5m22 4h5m13 -9h5m-1 -3h5m-150 25h5m-2 -4h5m-5 1h5m-4 -6h5m-2 10h5m-4 -13h5m-1 12h5m-4 -5h5m16 -7h5m-1 3h5m0 -2h5m24 -1h5m0 1h5m7 0h5m-4 5h5m-2 -6h5m30 1h5m-1 2h5m-31 24h5m0 0h5m22 -8h5m0 -1h5m0 -1h5m-55 22h5m-3 -5h5m-2 -4h5m-61 25h5m-1 -2h5m-2 -4h5m-27 17h5m-5 6h5m0 -9h5m-5 10h5m0 -10h5m-3 2h5m-4 -5h5m-10 17h5m-2 4h5m-5 5h5"/><path id="t1_6_1_0" d="M294 304h5m-1 1h5m-4 7h5m-2 -4h5m-5 0h5m0 0h5m-11 9h5m0 1h5m8 6h5m-1 -2h5m0 -2h5m-1 35h5m-2 -4h5m-49 17h5m-1 -2h5m-1 -3h5m28 -3h5m-45 23h5m-2 4h5m0 0h5m-2 -4h5m29 -7h5m0 2h5m-2 4h5m0 0h5m0 1h5m25 9h5m0 0h5m-1 2h5m0 0h5m-153 23h5m-1 -2h5m-1 -3h5m-4 -5h5m-18 14h5m19 -1h5m-5 5h5m0 2h5"/><path id="t1_6_8_1" d="M289 267h5m-9 3h5m-4 5h5m-13 13h5m0 0h5m-5 6h5m-1 -2h5m-5 4h5m0 -1h5m90 14h5m0 -2h5m0 -1h5m-210 24h5m-1 3h5m-4 5h5m-3 4h5m171 0h5m-1 -3h5m0 -1h5m-2 -5h5m-189 13h5m163 -1h5m2 15h5m-4 5h5m-1 2h5m0 3h5m-3 4h5m29 -4h5m-11 5h5m0 0h5m-248 29h5m0 -2h5m-1 -3h5m0 -1h5m-1 1h5m176 -6h5m-1 -1h5m0 1h5m-11 22h5m-3 9h5m-5 -4h5m-49 40h5m-3 -4h5m-63 9h5m-4 5h5m-5 5h5m-2 4h5m40 -12h5m-1 -2h5m29 6h5m-1 3h5m-1 -2h5m-117 13h5m-3 4h5"/><path id="t1_6_5_1" d="M291 267h5m-4 -5h5m12 2h5m-4 -7h5m-4 12h5m-4 -8h5m-4 5h5m-24 5h5m15 5h5m-5 -5h5m-5 2h5m0 1h5m4 -4h5m-1 3h5m-2 4h5m-1 3h5m-1 2h5m-48 12h5m-3 -4h5m-1 -3h5m-44 21h5m-2 -6h5m-3 4h5m-69 18h5m-5 5h5m-6 4h5m-3 5h5m-3 -5h5m0 1h5m0 0h5m0 0h5m-2 -4h5m-42 27h5m-4 -5h5m-1 -3h5m9 6h5m-1 2h5m-26 4h5m11 5h5m-2 -4h5m189 26h5m-8 13h5m-1 -8h5m-3 4h5m-213 21h5m3 0h5m-1 -2h5m-1 -3h5m-2 -4h5m-3 4h5m-5 5h5m-3 -12h5m166 6h5m-1 -2h5m-2 -5h5m-202 16h5m32 39h5m-1 -3h5m-1 -3h5m108 -4h5m-3 5h5m-4 5h5m-3 4h5m-77 9h5m0 1h5m-3 4h5m33 -4h5m-1 -2h5m-1 -3h5m0 -1h5m11 0h5m-111 18h5m0 2h5m0 0h5m-2 -5h5m25 -2h5"/><path id="t1_6_2_0" d="M321 299h5m-2 -3h5m12 2h5m-26 11h5m-5 -5h5m16 8h5m-5 -9h5m-3 5h5m-10 8h5m-74 26h5m-2 -1h5m-4 -5h5m-2 -3h5m-30 16h5m0 0h5m-1 -2h5m0 -2h5m-21 26h5m-5 -5h5m-5 -5h5m104 13h5m-2 -7h5m0 -1h5m0 -2h5m-1 -3h5m-137 16h5m-1 2h5m-1 -3h5m11 9h5m-1 -4h5m-4 -4h5m82 2h5m-3 4h5m-3 5h5m-86 25h5m0 0h5m0 2h5m-2 4h5m-12 15h5m6 -13h5m26 2h5m-1 4h5m0 1h5m0 1h5m-1 3h5m-66 7h5m-3 5h5m-2 4h5"/><path id="t1_6_1_1" d="M294 278h5m0 -1h5m0 -2h5m-1 -2h5m0 10h5m-2 -4h5m0 -1h5m-27 7h5m-2 3h5m-1 4h5m-1 2h5m107 34h5m-5 -5h5m-21 11h5m0 -2h5m-1 -2h5m1 8h5m-4 -5h5m-1 8h5m-5 -5h5m-47 17h5m-1 3h5m-2 -6h5m-4 5h5m-4 1h5m24 -6h5m-2 -4h5m-238 21h5m-2 4h5m-1 2h5m190 -8h5m-5 -5h5m33 11h5m-233 5h5m-1 -1h5m216 3h5m-2 7h5m-4 -5h5m-4 -5h5m-5 3h5m0 -1h5m-53 19h5m0 0h5m0 1h5m-3 -5h5m19 9h5m-3 -5h5m-5 -5h5m-3 -1h5m-215 26h5m-2 -4h5m-1 -4h5m-38 15h5m-1 3h5m-2 4h5m-1 3h5m10 -13h5m-3 4h5m-3 5h5m144 2h5m-169 5h5m157 5h5m-3 -5h5"/><path id="t1_6_7_0" d="M282 316h5m-4 5h5m-4 5h5m-9 12h5m-5 5h5m-2 -12h5m-4 3h5m-5 2h5m-1 -5h5m84 11h5m0 -1h5m-1 1h5m0 -2h5m0 0h5m-161 18h5m24 -7h5m-3 5h5m92 -11h5m-4 5h5m-5 5h5m-141 9h5m-2 -3h5m24 13h5m3 -14h5m-4 5h5m-29 19h5m0 0h5m-2 -4h5m-1 -3h5m25 8h5m-4 -5h5m-1 -2h5m61 4h5m0 -1h5m-1 -4h5m-127 27h5m14 -3h5m15 -6h5m-3 -5h5m-66 26h5m0 -2h5m-1 -3h5m-1 -2h5m-2 4h5m-4 5h5m-4 -10h5m13 -3h5m-5 5h5m-5 5h5m32 -8h5m-3 7h5m-3 -4h5m28 0h5m-4 -5h5m-4 10h5m-3 4h5m-122 1h5m38 14h5m-2 -4h5m68 -6h5m-91 11h5m0 0h5"/><path id="t1_6_0_1" d="M313 283h5m-90 16h5m35 0h5m-4 -5h5m-1 5h5m-4 -5h5m-4 1h5m-1 1h5m-4 -3h5m-4 -5h5m18 6h5m-4 -5h5m-4 10h5m-2 -13h5m-83 17h5m0 1h5m0 -2h5m-49 56h5m-1 -3h5m208 2h5m14 -6h5m-1 -1h5m-250 10h5m209 10h5m-3 -4h5m-2 -5h5m20 13h5m-5 -5h5m-214 16h5m-2 -4h5m-2 -4h5m195 6h5m-3 -4h5m-63 48h5m-2 5h5m-55 16h5m48 -13h5m-5 5h5m0 3h5m-60 8h5m-3 5h5m-4 5h5"/><path id="t1_6_0_0" d="M256 329h5m-9 9h5m-2 -4h5m-27 25h5m-1 -2h5m-2 -4h5m139 5h5m-1 0h5m0 -2h5m-123 18h5m100 -12h5m-106 15h5m-1 2h5m65 7h5m-4 -9h5m-2 4h5m0 1h5m0 2h5m-16 6h5m-2 4h5"/><path id="t1_7_0_0" d="M342 484h5m-2 4h5m-1 3h5"/><path id="t1_7_7_1" d="M361 464h5m31 -3h5m-42 13h5m-4 -5h5m-3 9h5m23 -9h5m-2 -4h5m-3 16h5m-3 4h5m-1 3h5m-85 21h5m-7 5h5"/><path id="t1_7_9_1" d="M371 453h5m-1 2h5m0 -1h5m-5 2h5m-2 2h5m-3 -5h5m-4 9h5m-3 4h5m-83 39h5m0 0h5m0 -1h5m20 12h5m0 -1h5m0 0h5m0 0h5"/><path id="t1_7_2_0" d="M367 470h5m-1 2h5m-1 3h5m-61 17h5m0 -1h5m0 0h5m-1 -7h5m-4 5h5m-3 4h5m34 -13h5m7 10h5m0 3h5m-2 -3h5m-87 10h5m-3 -5h5m16 3h5"/><path id="t1_7_1_1" d="M330 475h5m-2 -4h5m-10 9h5m18 29h5m6 -1h5m-2 -4h5m-16 9h5m0 -1h5"/><path id="t1_7_5_1" d="M369 506h5m-1 -1h5m0 -2h5m-38 13h5m-4 5h5m-4 -1h5m-1 0h5m0 -1h5m-2 -3h5m2 -6h5m-4 5h5"/><path id="t1_7_0_1" d="M336 462h5m-4 -4h5m-13 11h5m-4 5h5m-3 4h5m-3 -11h5m68 12h5m-5 -5h5m-2 -4h5m-59 22h5m23 -1h5m-1 -2h5m-1 -4h5m-4 -5h5m-39 16h5m-3 5h5m-3 8h5m-5 -3h5m-4 -2h5m-1 3h5m0 -1h5"/><path id="t1_7_8_0" d="M357 483h5m-1 3h5m0 2h5m-3 4h5"/><path id="t1_7_8_1" d="M400 477h5m-10 14h5m-4 -5h5m-4 -5h5m-41 27h5m-26 14h5m-1 -3h5m8 -3h5m-1 -3h5"/><path id="t1_7_4_1" d="M322 472h5m0 -2h5m-1 -2h5m0 -2h5m-23 14h5m-3 5h5m-2 4h5m-4 5h5m71 -4h5m-1 -3h5m-5 -5h5"/><path id="t1_7_3_0" d="M369 471h5m0 1h5m0 0h5m-1 1h5m0 1h5m-65 15h5m-3 5h5m-3 -6h5m-8 11h5"/><path id="t1_7_1_0" d="M378 474h5m-5 5h5m-5 5h5m-4 5h5m0 1h5m-36 11h5m-2 4h5m-2 4h5"/><path id="t1_7_2_1" d="M364 461h5m-3 -4h5m-1 -4h5m-18 15h5m-1 -3h5"/><path id="t1_7_6_1" d="M321 491h5m-7 5h5m0 2h5"/><path id="t1_7_3_1" d="M399 470h5m0 -1h5m0 -2h5m-46 50h5m-4 -4h5m10 -3h5"/><path id="t1_7_7_0" d="M380 479h5m-9 8h5m-1 -3h5"/><path id="t1_7_9_0" d="M341 493h5m-11 13h5m-4 -5h5m-2 -4h5"/><path id="t1_7_5_0" d="M353 478h5m-3 0h5m-3 -3h5m0 -2h5m-9 14h5m-5 -5h5m-3 10h5m-5 5h5"/><path id="t1_8_5_1" d="M263 231h5m-1 2h5m-5 5h5m-4 5h5m35 23h5m-1 2h5m-5 10h5m-4 -5h5m-2 7h5m-40 12h5m0 -1h5"/><path id="t1_8_0_1" d="M337 282h5m-2 -3h5m-3 -5h5m-17 14h5m0 -1h5"/><path id="t1_8_2_0" d="M289 238h5m-3 -4h5m-2 -4h5m27 19h5m-4 5h5m-2 -7h5m-3 -5h5m-52 27h5m10 -4h5m0 0h5m0 1h5m-2 -4h5m0 0h5m-50 19h5m0 -2h5m0 0h5m-1 -2h5m-3 -4h5m-2 3h5m-5 -1h5m0 1h5m-1 -2h5"/><path id="t1_8_8_1" d="M283 208h5m0 -2h5m-14 4h5m-3 12h5m-9 14h5m-2 -4h5m-4 -5h5m69 25h5m-115 10h5m0 -1h5m-1 1h5m-1 3h5m88 -7h5m-2 3h5m0 -5h5m-5 5h5"/><path id="t1_8_8_0" d="M279 252h5m-4 -4h5m-2 0h5m-3 -4h5m-5 1h5m-4 7h5m-2 -10h5m20 4h5m-3 5h5m-4 -9h5m0 0h5m5 10h5m-1 -3h5m-3 -4h5m0 -1h5m-57 11h5m3 9h5m0 0h5m-2 -3h5m4 -5h5"/><path id="t1_8_1_0" d="M316 224h5m-5 -5h5m-2 -4h5m-17 20h5m-1 3h5m-4 -2h5m-1 3h5m-3 -10h5m-13 12h5m-3 4h5m-2 4h5m-42 15h5m-4 -5h5m-3 9h5m-3 5h5"/><path id="t1_8_2_1" d="M298 207h5m-21 8h5m-1 1h5m0 -2h5m-2 -4h5m-20 74h5m-3 5h5m-2 4h5"/><path id="t1_8_0_0" d="M302 224h5m0 0h5m0 2h5m-9 15h5m-4 5h5m-5 5h5m-6 5h5"/><path id="t1_8_3_1" d="M281 206h5m-17 14h5m-2 -4h5m-1 -3h5m-1 -2h5m-38 20h5m-5 0h5m-4 5h5m-1 -5h5m-3 4h5m2 3h5m-18 3h5m3 -1h5"/><path id="t1_8_9_0" d="M261 242h5m-4 4h5m-1 3h5m55 1h5m-2 3h5m-6 5h5"/><path id="t1_8_6_1" d="M321 260h5m0 2h5m-2 3h5m-2 4h5m20 -5h5m-26 9h5m-36 22h5m0 0h5m-1 -3h5m-3 -1h5m-1 -3h5m-1 -3h5m-1 3h5"/><path id="t1_8_1_1" d="M348 229h5m0 0h5"/><path id="t1_8_9_1" d="M281 219h5m-3 4h5m-5 5h5m-28 30h5m-3 4h5m-2 4h5m-4 5h5"/><path id="t1_8_4_1" d="M256 250h5m0 1h5m0 -2h5m0 -1h5m6 17h5m-2 -4h5m-10 14h5m-4 -5h5"/><path id="t1_8_7_1" d="M344 221h5m-3 5h5m-30 52h5m-1 4h5m-2 3h5m-1 4h5"/><path id="t1_9_5_0" d="M205 470h5m0 1h5m-1 4h5"/><path id="t1_9_1_0" d="M189 457h5m-3 4h5m2 2h5m-3 -5h5m-11 7h5"/><path id="t1_9_7_1" d="M212 460h5"/><path id="t1_9_9_1" d="M198 477h5m0 0h5m-4 -5h5"/><path id="t1_9_4_0" d="M202 477h5m-1 -1h5m0 -1h5"/><path id="t1_9_0_1" d="M193 452h5m-1 2h5m-1 3h5m-2 4h5m0 3h5"/><path id="t1_9_2_0" d="M182 464h5m0 -2h5m-1 -2h5"/><path id="t1_10_0_1" d="M453 194h5m0 -1h5m-95 16h5m-3 -5h5m0 -1h5m0 0h5m64 -6h5m-84 17h5m65 4h5m0 -1h5m0 -2h5m-1 -5h5m-4 5h5m-5 1h5"/><path id="t1_10_8_0" d="M406 195h5m0 0h5m0 0h5"/><path id="t1_10_4_1" d="M361 194h5m-4 10h5m-5 -5h5m-1 7h5m-2 4h5"/><path id="t1_10_3_1" d="M385 174h5m-2 -4h5m-1 -2h5m0 -1h5m35 47h5m-5 5h5m-1 4h5"/><path id="t1_10_0_0" d="M394 189h5m-4 -4h5m-5 -5h5m-6 21h5m-2 3h5m-1 4h5m-6 10h5m-4 -5h5"/><path id="t1_10_4_0" d="M401 182h5m0 -2h5m0 6h5m-5 -5h5m-27 17h5m-5 5h5m-1 2h5m0 -1h5m0 1h5m-8 17h5m-3 -7h5m-3 9h5m-5 -14h5m5 13h5m-10 2h5"/><path id="t1_10_6_1" d="M453 187h5m0 0h5m-103 19h5m0 0h5m2 16h5m-2 4h5m-1 3h5m0 0h5m-2 -4h5m1 10h5m0 2h5m0 1h5m-1 -2h5"/><path id="t1_10_7_0" d="M404 184h5m-1 -1h5m-1 -3h5"/><path id="t1_10_7_1" d="M418 161h5m-8 4h5m-41 26h5m-1 2h5m0 -1h5m-2 -7h5m-3 5h5"/><path id="t1_10_1_1" d="M418 164h5m0 -1h5m-14 4h5m-2 5h5m-32 50h5m-2 4h5m-4 5h5m9 7h5m-1 -1h5m-2 -4h5m-1 -3h5"/><path id="t1_10_8_1" d="M419 232h5m-1 3h5m-5 5h5"/><path id="t1_10_3_0" d="M419 223h5m-3 -4h5m-3 -5h5m-9 14h5"/><path id="t1_10_9_1" d="M385 234h5m-2 4h5m6 -10h5m0 -1h5m0 2h5m0 -1h5m0 2h5"/><path id="t1_11_2_1" d="M381 389h5m-2 -4h5m0 -2h5m-23 20h5m2 -11h5m-14 20h5m-5 -5h5m64 20h5m-5 3h5m-4 2h5m-2 -5h5m-4 1h5m0 -1h5m-14 8h5m-3 9h5m-5 -5h5"/><path id="t1_11_6_0" d="M411 417h5m-5 5h5m-2 4h5"/><path id="t1_11_7_0" d="M380 409h5m-1 -4h5m0 1h5m0 0h5m0 2h5m35 0h5m0 1h5m0 2h5m-3 4h5m-2 4h5"/><path id="t1_11_9_0" d="M427 414h5m-4 5h5m-5 -10h5m-4 15h5m-32 18h5m0 2h5m-1 -3h5m-1 -2h5m-1 -4h5"/><path id="t1_11_8_0" d="M417 389h5m-36 2h5m0 1h5m-1 4h5m0 -1h5m0 2h5m-2 5h5m-2 -5h5m-2 -4h5m-13 13h5"/><path id="t1_11_0_0" d="M382 402h5m-2 -3h5m-9 8h5m24 10h5m2 -4h5m-4 5h5m-20 12h5m-4 -5h5m-2 -3h5m10 -1h5m0 0h5m-29 14h5"/><path id="t1_11_2_0" d="M407 401h5m4 2h5m-2 -4h5m-1 -3h5m-47 23h5m-3 -5h5m-3 -5h5m5 7h5m-2 -4h5m-3 -5h5m0 -2h5m3 7h5m-4 -5h5m-41 16h5"/><path id="t1_11_0_1" d="M362 415h5m-1 2h5m55 27h5m0 2h5m-1 -1h5"/><path id="t1_11_5_1" d="M367 437h5m24 9h5m-4 -5h5m-7 10h5"/><path id="t1_11_6_1" d="M373 403h5m-5 -5h5m-7 20h5m-3 -10h5m-4 9h5m-4 -5h5m-11 11h5m-4 5h5m-4 5h5m63 13h5m0 2h5"/><path id="t1_11_1_0" d="M420 432h5m-2 -3h5m-1 -3h5m0 -2h5m-1 -3h5"/><path id="t1_11_4_1" d="M390 383h5m-5 5h5m19 -10h5m-2 5h5m-2 4h5m0 1h5m-37 4h5"/><path id="t1_11_8_1" d="M440 388h5m-2 -4h5m-13 6h5m-59 48h5m-1 2h5m-1 -4h5m6 6h5m0 2h5m-3 5h5m-2 4h5"/><path id="t1_11_9_1" d="M385 374h5m-10 8h5m-3 -4h5"/><path id="t1_11_3_0" d="M379 414h5m-4 5h5m-3 -9h5m-1 2h5m0 0h5m-16 17h5m-2 5h5m0 -12h5m-1 4h5m-3 5h5m-1 1h5m0 -1h5m-22 7h5m-1 -2h5"/><path id="t1_11_4_0" d="M423 390h5m0 1h5m-2 4h5m-4 5h5"/><path id="t1_12_7_1" d="M204 413h5m-4 -5h5m-4 10h5m-5 5h5"/><path id="t1_12_4_1" d="M203 402h5m-4 5h5m-4 5h5m0 2h5m-1 2h5"/><path id="t1_12_1_1" d="M213 310h5m-1 4h5m-7 5h5m-44 68h5m0 0h5m-1 -3h5m0 2h5m0 -1h5m-27 11h5m-4 -5h5m17 -1h5m-1 27h5m-4 -5h5m-3 -4h5"/><path id="t1_12_3_0" d="M207 356h5m-4 -5h5m0 -1h5m-12 11h5m-3 5h5"/><path id="t1_12_6_1" d="M200 304h5m0 2h5m-1 1h5m-2 4h5m-15 6h5m-3 5h5m0 3h5m-2 -9h5m-4 10h5m0 0h5"/><path id="t1_12_9_1" d="M177 374h5m-2 -4h5m-4 -5h5"/><path id="t1_12_1_0" d="M186 342h5m-5 -5h5m-5 10h5m20 57h5m-4 -5h5m-3 -5h5m-9 15h5"/><path id="t1_12_9_0" d="M215 380h5m0 0h5m0 -1h5m0 -1h5m0 -1h5"/><path id="t1_12_2_1" d="M176 328h5m2 -10h5m8 2h5m0 -1h5m-1 3h5m-4 5h5m14 2h5m0 -3h5"/><path id="t1_12_0_1" d="M183 329h5m-2 -3h5m0 -2h5m-15 10h5m11 78h5m-1 -4h5m-1 -2h5m0 1h5m-1 -2h5"/><path id="t1_12_6_0" d="M200 343h5m0 -2h5m0 0h5m-13 7h5m-1 2h5m-1 3h5m-1 4h5m0 0h5"/><path id="t1_12_3_1" d="M219 396h5m0 -1h5m-2 -4h5m-29 17h5m-1 -2h5m0 2h5"/><path id="t1_12_7_0" d="M190 335h5m-1 3h5m0 1h5m-2 4h5m13 -3h5m-23 8h5m15 -3h5m-1 3h5m-4 5h5m-5 5h5"/><path id="t1_12_4_0" d="M193 357h5m-10 9h5m-2 -4h5"/><path id="t1_12_2_0" d="M200 377h5m-4 9h5m-4 -5h5"/><path id="t1_12_8_1" d="M183 324h5m-1 2h5m-3 -8h5m-4 5h5m-3 1h5m-3 2h5m-4 -5h5m-4 0h5m-5 -4h5"/><path id="t1_12_5_0" d="M195 357h5m-3 -5h5m-3 -4h5m-15 14h5m0 0h5"/></defs>
<rect width="520" height="693" fill="#fff"/>
<text x="5.6" y="17.2" font-size="11.6" font-weight="bold" fill="#000">A</text>
<text x="7.3" y="161.2" font-size="11.6" font-weight="bold" fill="#000">B</text>
<text x="173.3" y="163.3" font-size="11.6" font-weight="bold" fill="#000">C</text>
<text x="10.3" y="399.5" font-size="11.6" font-weight="bold" fill="#000">D</text>
<text x="147.3" y="400" font-size="11.6" font-weight="bold" fill="#000">E</text>
<text x="286.3" y="399.5" font-size="11.6" font-weight="bold" fill="#000">F</text>
<text x="395.2" y="400.6" font-size="11.6" font-weight="bold" fill="#000">G</text>
<text x="10.1" y="601.6" font-size="11.6" font-weight="bold" fill="#000">H</text>
<path d="M203.25 234.9L203.25 234.33" stroke="#222" stroke-width=".9"/>
<path d="M201.25 234.53L205.25 234.53" stroke="#222" stroke-width="1.3"/>
<rect x="199.8" y="234.9" width="6.9" height="6.3" fill="#EA9A1E"/>
<path d="M211.65 234.33L211.65 233.41" stroke="#222" stroke-width=".9"/>
<path d="M209.65 233.61L213.65 233.61" stroke="#222" stroke-width="1.3"/>
<rect x="208.2" y="234.33" width="6.9" height="6.87" fill="#26468C"/>
<path d="M221.25 238.34L221.25 237.76" stroke="#222" stroke-width=".9"/>
<path d="M219.25 237.96L223.25 237.96" stroke="#222" stroke-width="1.3"/>
<rect x="217.8" y="238.34" width="6.9" height="2.86" fill="#EA9A1E"/>
<path d="M229.65 236.05L229.65 235.13" stroke="#222" stroke-width=".9"/>
<path d="M227.65 235.33L231.65 235.33" stroke="#222" stroke-width="1.3"/>
<rect x="226.2" y="236.05" width="6.9" height="5.15" fill="#2F6A4C"/>
<path d="M239.25 220.02L239.25 218.3" stroke="#222" stroke-width=".9"/>
<path d="M237.25 218.5L241.25 218.5" stroke="#222" stroke-width="1.3"/>
<rect x="235.8" y="220.02" width="6.9" height="21.18" fill="#EA9A1E"/>
<path d="M247.65 205.7L247.65 202.84" stroke="#222" stroke-width=".9"/>
<path d="M245.65 203.04L249.65 203.04" stroke="#222" stroke-width="1.3"/>
<rect x="244.2" y="205.7" width="6.9" height="35.5" fill="#C8007C"/>
<path d="M198.5 170.1L198.5 241.7" stroke="#1a1a1a" stroke-width="1.1"/>
<path d="M198 241.2L253.5 241.2" stroke="#1a1a1a" stroke-width="1.1"/>
<path d="M195.5 241.2L198.5 241.2" stroke="#1a1a1a" stroke-width="1"/>
<text x="192.6" y="243.45" font-size="6.3" stroke="#2a2a2a" stroke-width=".05" text-anchor="end" fill="#2a2a2a">0</text>
<path d="M195.5 218.3L198.5 218.3" stroke="#1a1a1a" stroke-width="1"/>
<text x="192.6" y="220.55" font-size="6.3" stroke="#2a2a2a" stroke-width=".05" text-anchor="end" fill="#2a2a2a">2</text>
<path d="M195.5 195.4L198.5 195.4" stroke="#1a1a1a" stroke-width="1"/>
<text x="192.6" y="197.65" font-size="6.3" stroke="#2a2a2a" stroke-width=".05" text-anchor="end" fill="#2a2a2a">4</text>
<path d="M195.5 172.5L198.5 172.5" stroke="#1a1a1a" stroke-width="1"/>
<text x="192.6" y="174.75" font-size="6.3" stroke="#2a2a2a" stroke-width=".05" text-anchor="end" fill="#2a2a2a">6</text>
<path d="M208.5 241.2L208.5 244.2" stroke="#1a1a1a" stroke-width="1"/>
<path d="M226.5 241.2L226.5 244.2" stroke="#1a1a1a" stroke-width="1"/>
<path d="M244.5 241.2L244.5 244.2" stroke="#1a1a1a" stroke-width="1"/>
<path d="M220 225.3L230.1 225.3" stroke="#333" stroke-width="1.15"/>
<text x="225.05" y="225.6" font-size="5.8" text-anchor="middle" font-weight="bold" fill="#222">***</text>
<path d="M238 189.4L248.1 189.4" stroke="#333" stroke-width="1.15"/>
<text x="243.05" y="189.7" font-size="5.8" text-anchor="middle" font-weight="bold" fill="#222">***</text>
<text x="183.83" y="206.8" font-size="7.3" stroke="#262626" stroke-width=".18" text-anchor="middle" textLength="50" lengthAdjust="spacingAndGlyphs" transform="rotate(-90 183.83 206.8)">% in CD4<tspan baseline-shift="super" font-size="65%">+</tspan> T cells</text>
<path d="M203.25 319.15L203.25 317.44" stroke="#222" stroke-width=".9"/>
<path d="M201.25 317.64L205.25 317.64" stroke="#222" stroke-width="1.3"/>
<rect x="199.8" y="319.15" width="6.9" height="6.85" fill="#EA9A1E"/>
<path d="M211.65 317.44L211.65 315.73" stroke="#222" stroke-width=".9"/>
<path d="M209.65 315.93L213.65 315.93" stroke="#222" stroke-width="1.3"/>
<rect x="208.2" y="317.44" width="6.9" height="8.56" fill="#26468C"/>
<path d="M221.25 322.57L221.25 321.66" stroke="#222" stroke-width=".9"/>
<path d="M219.25 321.86L223.25 321.86" stroke="#222" stroke-width="1.3"/>
<rect x="217.8" y="322.57" width="6.9" height="3.43" fill="#EA9A1E"/>
<path d="M229.65 319.72L229.65 318.01" stroke="#222" stroke-width=".9"/>
<path d="M227.65 318.21L231.65 318.21" stroke="#222" stroke-width="1.3"/>
<rect x="226.2" y="319.72" width="6.9" height="6.28" fill="#2F6A4C"/>
<path d="M239.25 299.74L239.25 296.32" stroke="#222" stroke-width=".9"/>
<path d="M237.25 296.52L241.25 296.52" stroke="#222" stroke-width="1.3"/>
<rect x="235.8" y="299.74" width="6.9" height="26.26" fill="#EA9A1E"/>
<path d="M247.65 276.34L247.65 269.49" stroke="#222" stroke-width=".9"/>
<path d="M245.65 269.69L249.65 269.69" stroke="#222" stroke-width="1.3"/>
<rect x="244.2" y="276.34" width="6.9" height="49.66" fill="#C8007C"/>
<path d="M198.5 255.1L198.5 326.5" stroke="#1a1a1a" stroke-width="1.1"/>
<path d="M198 326L253.5 326" stroke="#1a1a1a" stroke-width="1.1"/>
<path d="M195.5 326L198.5 326" stroke="#1a1a1a" stroke-width="1"/>
<text x="192.6" y="328.25" font-size="6.3" stroke="#2a2a2a" stroke-width=".05" text-anchor="end" fill="#2a2a2a">0</text>
<path d="M195.5 303.17L198.5 303.17" stroke="#1a1a1a" stroke-width="1"/>
<text x="192.6" y="305.42" font-size="6.3" stroke="#2a2a2a" stroke-width=".05" text-anchor="end" fill="#2a2a2a">20</text>
<path d="M195.5 280.33L198.5 280.33" stroke="#1a1a1a" stroke-width="1"/>
<text x="192.6" y="282.58" font-size="6.3" stroke="#2a2a2a" stroke-width=".05" text-anchor="end" fill="#2a2a2a">40</text>
<path d="M195.5 257.5L198.5 257.5" stroke="#1a1a1a" stroke-width="1"/>
<text x="192.6" y="259.75" font-size="6.3" stroke="#2a2a2a" stroke-width=".05" text-anchor="end" fill="#2a2a2a">60</text>
<path d="M208.5 326L208.5 329" stroke="#1a1a1a" stroke-width="1"/>
<path d="M226.5 326L226.5 329" stroke="#1a1a1a" stroke-width="1"/>
<path d="M244.5 326L244.5 329" stroke="#1a1a1a" stroke-width="1"/>
<path d="M220 311L230.1 311" stroke="#333" stroke-width="1.15"/>
<text x="225.05" y="311.3" font-size="5.8" text-anchor="middle" font-weight="bold" fill="#222">**</text>
<path d="M238 265.4L248.1 265.4" stroke="#333" stroke-width="1.15"/>
<text x="243.05" y="265.7" font-size="5.8" text-anchor="middle" font-weight="bold" fill="#222">**</text>
<text x="180.93" y="291.3" font-size="7.3" stroke="#262626" stroke-width=".18" text-anchor="middle" textLength="37.5" lengthAdjust="spacingAndGlyphs" transform="rotate(-90 180.93 291.3)"># cells (x10<tspan baseline-shift="super" font-size="65%">3</tspan>)</text>
<text x="226.1" y="164" font-size="8.4" stroke="#222" stroke-width=".18" text-anchor="middle" fill="#222">Spleen</text>
<text x="210.7" y="334.2" font-size="6.8" stroke="#262626" stroke-width=".05" text-anchor="end" textLength="39" lengthAdjust="spacingAndGlyphs" transform="rotate(-45 210.7 334.2)">IL-22<tspan baseline-shift="super" font-size="65%">neg</tspan> Th17</text>
<text x="228.7" y="334.2" font-size="6.8" stroke="#262626" stroke-width=".05" text-anchor="end" textLength="33" lengthAdjust="spacingAndGlyphs" transform="rotate(-45 228.7 334.2)">IL-22<tspan baseline-shift="super" font-size="65%">+</tspan>Th17</text>
<text x="247.1" y="333.4" font-size="6.8" stroke="#262626" stroke-width=".05" text-anchor="end" textLength="48.5" lengthAdjust="spacingAndGlyphs" transform="rotate(-45 247.1 333.4)">Th22 (IL-17A<tspan baseline-shift="super" font-size="65%">neg</tspan>)</text>
<path d="M289.25 235.47L289.25 234.56" stroke="#222" stroke-width=".9"/>
<path d="M287.25 234.76L291.25 234.76" stroke="#222" stroke-width="1.3"/>
<rect x="285.8" y="235.47" width="6.9" height="5.72" fill="#EA9A1E"/>
<path d="M297.65 234.9L297.65 233.99" stroke="#222" stroke-width=".9"/>
<path d="M295.65 234.19L299.65 234.19" stroke="#222" stroke-width="1.3"/>
<rect x="294.2" y="234.9" width="6.9" height="6.3" fill="#26468C"/>
<path d="M307.25 236.05L307.25 234.9" stroke="#222" stroke-width=".9"/>
<path d="M305.25 235.1L309.25 235.1" stroke="#222" stroke-width="1.3"/>
<rect x="303.8" y="236.05" width="6.9" height="5.15" fill="#EA9A1E"/>
<path d="M315.65 234.33L315.65 232.27" stroke="#222" stroke-width=".9"/>
<path d="M313.65 232.47L317.65 232.47" stroke="#222" stroke-width="1.3"/>
<rect x="312.2" y="234.33" width="6.9" height="6.87" fill="#2F6A4C"/>
<path d="M325.25 225.17L325.25 223.45" stroke="#222" stroke-width=".9"/>
<path d="M323.25 223.65L327.25 223.65" stroke="#222" stroke-width="1.3"/>
<rect x="321.8" y="225.17" width="6.9" height="16.03" fill="#EA9A1E"/>
<path d="M333.65 211.43L333.65 208.57" stroke="#222" stroke-width=".9"/>
<path d="M331.65 208.77L335.65 208.77" stroke="#222" stroke-width="1.3"/>
<rect x="330.2" y="211.43" width="6.9" height="29.77" fill="#C8007C"/>
<path d="M284.5 170.1L284.5 241.7" stroke="#1a1a1a" stroke-width="1.1"/>
<path d="M284 241.2L339.5 241.2" stroke="#1a1a1a" stroke-width="1.1"/>
<path d="M281.5 241.2L284.5 241.2" stroke="#1a1a1a" stroke-width="1"/>
<text x="278.6" y="243.45" font-size="6.3" stroke="#2a2a2a" stroke-width=".05" text-anchor="end" fill="#2a2a2a">0</text>
<path d="M281.5 218.3L284.5 218.3" stroke="#1a1a1a" stroke-width="1"/>
<text x="278.6" y="220.55" font-size="6.3" stroke="#2a2a2a" stroke-width=".05" text-anchor="end" fill="#2a2a2a">2</text>
<path d="M281.5 195.4L284.5 195.4" stroke="#1a1a1a" stroke-width="1"/>
<text x="278.6" y="197.65" font-size="6.3" stroke="#2a2a2a" stroke-width=".05" text-anchor="end" fill="#2a2a2a">4</text>
<path d="M281.5 172.5L284.5 172.5" stroke="#1a1a1a" stroke-width="1"/>
<text x="278.6" y="174.75" font-size="6.3" stroke="#2a2a2a" stroke-width=".05" text-anchor="end" fill="#2a2a2a">6</text>
<path d="M294.5 241.2L294.5 244.2" stroke="#1a1a1a" stroke-width="1"/>
<path d="M312.5 241.2L312.5 244.2" stroke="#1a1a1a" stroke-width="1"/>
<path d="M330.5 241.2L330.5 244.2" stroke="#1a1a1a" stroke-width="1"/>
<path d="M324 198.8L334.1 198.8" stroke="#333" stroke-width="1.15"/>
<text x="329.05" y="199.1" font-size="5.8" text-anchor="middle" font-weight="bold" fill="#222">*</text>
<text x="269.83" y="206.8" font-size="7.3" stroke="#262626" stroke-width=".18" text-anchor="middle" textLength="50" lengthAdjust="spacingAndGlyphs" transform="rotate(-90 269.83 206.8)">% in CD4<tspan baseline-shift="super" font-size="65%">+</tspan> T cells</text>
<path d="M289.25 309.01L289.25 304.63" stroke="#222" stroke-width=".9"/>
<path d="M287.25 304.83L291.25 304.83" stroke="#222" stroke-width="1.3"/>
<rect x="285.8" y="309.01" width="6.9" height="16.99" fill="#EA9A1E"/>
<path d="M297.65 306.55L297.65 303.53" stroke="#222" stroke-width=".9"/>
<path d="M295.65 303.73L299.65 303.73" stroke="#222" stroke-width="1.3"/>
<rect x="294.2" y="306.55" width="6.9" height="19.45" fill="#26468C"/>
<path d="M307.25 319.15L307.25 316.68" stroke="#222" stroke-width=".9"/>
<path d="M305.25 316.88L309.25 316.88" stroke="#222" stroke-width="1.3"/>
<rect x="303.8" y="319.15" width="6.9" height="6.85" fill="#EA9A1E"/>
<path d="M315.65 316.96L315.65 314.49" stroke="#222" stroke-width=".9"/>
<path d="M313.65 314.69L317.65 314.69" stroke="#222" stroke-width="1.3"/>
<rect x="312.2" y="316.96" width="6.9" height="9.04" fill="#2F6A4C"/>
<path d="M325.25 300.24L325.25 296.41" stroke="#222" stroke-width=".9"/>
<path d="M323.25 296.61L327.25 296.61" stroke="#222" stroke-width="1.3"/>
<rect x="321.8" y="300.24" width="6.9" height="25.76" fill="#EA9A1E"/>
<path d="M333.65 273.39L333.65 265.99" stroke="#222" stroke-width=".9"/>
<path d="M331.65 266.19L335.65 266.19" stroke="#222" stroke-width="1.3"/>
<rect x="330.2" y="273.39" width="6.9" height="52.61" fill="#C8007C"/>
<path d="M284.5 255.1L284.5 326.5" stroke="#1a1a1a" stroke-width="1.1"/>
<path d="M284 326L339.5 326" stroke="#1a1a1a" stroke-width="1.1"/>
<path d="M281.5 326L284.5 326" stroke="#1a1a1a" stroke-width="1"/>
<text x="278.6" y="328.25" font-size="6.3" stroke="#2a2a2a" stroke-width=".05" text-anchor="end" fill="#2a2a2a">0</text>
<path d="M281.5 312.3L284.5 312.3" stroke="#1a1a1a" stroke-width="1"/>
<text x="278.6" y="314.55" font-size="6.3" stroke="#2a2a2a" stroke-width=".05" text-anchor="end" fill="#2a2a2a">5</text>
<path d="M281.5 298.6L284.5 298.6" stroke="#1a1a1a" stroke-width="1"/>
<text x="278.6" y="300.85" font-size="6.3" stroke="#2a2a2a" stroke-width=".05" text-anchor="end" fill="#2a2a2a">10</text>
<path d="M281.5 284.9L284.5 284.9" stroke="#1a1a1a" stroke-width="1"/>
<text x="278.6" y="287.15" font-size="6.3" stroke="#2a2a2a" stroke-width=".05" text-anchor="end" fill="#2a2a2a">15</text>
<path d="M281.5 271.2L284.5 271.2" stroke="#1a1a1a" stroke-width="1"/>
<text x="278.6" y="273.45" font-size="6.3" stroke="#2a2a2a" stroke-width=".05" text-anchor="end" fill="#2a2a2a">20</text>
<path d="M281.5 257.5L284.5 257.5" stroke="#1a1a1a" stroke-width="1"/>
<text x="278.6" y="259.75" font-size="6.3" stroke="#2a2a2a" stroke-width=".05" text-anchor="end" fill="#2a2a2a">25</text>
<path d="M294.5 326L294.5 329" stroke="#1a1a1a" stroke-width="1"/>
<path d="M312.5 326L312.5 329" stroke="#1a1a1a" stroke-width="1"/>
<path d="M330.5 326L330.5 329" stroke="#1a1a1a" stroke-width="1"/>
<path d="M324 262.3L334.1 262.3" stroke="#333" stroke-width="1.15"/>
<text x="329.05" y="262.6" font-size="5.8" text-anchor="middle" font-weight="bold" fill="#222">***</text>
<text x="266.93" y="291.3" font-size="7.3" stroke="#262626" stroke-width=".18" text-anchor="middle" textLength="37.5" lengthAdjust="spacingAndGlyphs" transform="rotate(-90 266.93 291.3)"># cells (x10<tspan baseline-shift="super" font-size="65%">3</tspan>)</text>
<text x="312.1" y="164" font-size="8.4" stroke="#222" stroke-width=".18" text-anchor="middle" fill="#222">Liver</text>
<text x="296.7" y="334.2" font-size="6.8" stroke="#262626" stroke-width=".05" text-anchor="end" textLength="39" lengthAdjust="spacingAndGlyphs" transform="rotate(-45 296.7 334.2)">IL-22<tspan baseline-shift="super" font-size="65%">neg</tspan> Th17</text>
<text x="314.7" y="334.2" font-size="6.8" stroke="#262626" stroke-width=".05" text-anchor="end" textLength="33" lengthAdjust="spacingAndGlyphs" transform="rotate(-45 314.7 334.2)">IL-22<tspan baseline-shift="super" font-size="65%">+</tspan>Th17</text>
<text x="333.1" y="333.4" font-size="6.8" stroke="#262626" stroke-width=".05" text-anchor="end" textLength="48.5" lengthAdjust="spacingAndGlyphs" transform="rotate(-45 333.1 333.4)">Th22 (IL-17A<tspan baseline-shift="super" font-size="65%">neg</tspan>)</text>
<path d="M375.25 234.76L375.25 234.33" stroke="#222" stroke-width=".9"/>
<path d="M373.25 234.53L377.25 234.53" stroke="#222" stroke-width="1.3"/>
<rect x="371.8" y="234.76" width="6.9" height="6.44" fill="#EA9A1E"/>
<path d="M383.65 233.47L383.65 233.04" stroke="#222" stroke-width=".9"/>
<path d="M381.65 233.24L385.65 233.24" stroke="#222" stroke-width="1.3"/>
<rect x="380.2" y="233.47" width="6.9" height="7.73" fill="#26468C"/>
<path d="M393.25 233.9L393.25 233.04" stroke="#222" stroke-width=".9"/>
<path d="M391.25 233.24L395.25 233.24" stroke="#222" stroke-width="1.3"/>
<rect x="389.8" y="233.9" width="6.9" height="7.3" fill="#EA9A1E"/>
<path d="M401.65 231.32L401.65 229.61" stroke="#222" stroke-width=".9"/>
<path d="M399.65 229.81L403.65 229.81" stroke="#222" stroke-width="1.3"/>
<rect x="398.2" y="231.32" width="6.9" height="9.88" fill="#2F6A4C"/>
<path d="M411.25 221.02L411.25 218.44" stroke="#222" stroke-width=".9"/>
<path d="M409.25 218.64L413.25 218.64" stroke="#222" stroke-width="1.3"/>
<rect x="407.8" y="221.02" width="6.9" height="20.18" fill="#EA9A1E"/>
<path d="M419.65 193.97L419.65 187.1" stroke="#222" stroke-width=".9"/>
<path d="M417.65 187.3L421.65 187.3" stroke="#222" stroke-width="1.3"/>
<rect x="416.2" y="193.97" width="6.9" height="47.23" fill="#C8007C"/>
<path d="M370.5 170.1L370.5 241.7" stroke="#1a1a1a" stroke-width="1.1"/>
<path d="M370 241.2L425.5 241.2" stroke="#1a1a1a" stroke-width="1.1"/>
<path d="M367.5 241.2L370.5 241.2" stroke="#1a1a1a" stroke-width="1"/>
<text x="364.6" y="243.45" font-size="6.3" stroke="#2a2a2a" stroke-width=".05" text-anchor="end" fill="#2a2a2a">0</text>
<path d="M367.5 224.02L370.5 224.02" stroke="#1a1a1a" stroke-width="1"/>
<text x="364.6" y="226.27" font-size="6.3" stroke="#2a2a2a" stroke-width=".05" text-anchor="end" fill="#2a2a2a">2</text>
<path d="M367.5 206.85L370.5 206.85" stroke="#1a1a1a" stroke-width="1"/>
<text x="364.6" y="209.1" font-size="6.3" stroke="#2a2a2a" stroke-width=".05" text-anchor="end" fill="#2a2a2a">4</text>
<path d="M367.5 189.68L370.5 189.68" stroke="#1a1a1a" stroke-width="1"/>
<text x="364.6" y="191.93" font-size="6.3" stroke="#2a2a2a" stroke-width=".05" text-anchor="end" fill="#2a2a2a">6</text>
<path d="M367.5 172.5L370.5 172.5" stroke="#1a1a1a" stroke-width="1"/>
<text x="364.6" y="174.75" font-size="6.3" stroke="#2a2a2a" stroke-width=".05" text-anchor="end" fill="#2a2a2a">8</text>
<path d="M380.5 241.2L380.5 244.2" stroke="#1a1a1a" stroke-width="1"/>
<path d="M398.5 241.2L398.5 244.2" stroke="#1a1a1a" stroke-width="1"/>
<path d="M416.5 241.2L416.5 244.2" stroke="#1a1a1a" stroke-width="1"/>
<path d="M410 180.8L420.1 180.8" stroke="#333" stroke-width="1.15"/>
<text x="415.05" y="181.1" font-size="5.8" text-anchor="middle" font-weight="bold" fill="#222">***</text>
<text x="355.83" y="206.8" font-size="7.3" stroke="#262626" stroke-width=".18" text-anchor="middle" textLength="50" lengthAdjust="spacingAndGlyphs" transform="rotate(-90 355.83 206.8)">% in CD4<tspan baseline-shift="super" font-size="65%">+</tspan> T cells</text>
<path d="M375.25 319.83L375.25 318.24" stroke="#222" stroke-width=".9"/>
<path d="M373.25 318.44L377.25 318.44" stroke="#222" stroke-width="1.3"/>
<rect x="371.8" y="319.83" width="6.9" height="6.17" fill="#EA9A1E"/>
<path d="M383.65 318.92L383.65 317.32" stroke="#222" stroke-width=".9"/>
<path d="M381.65 317.52L385.65 317.52" stroke="#222" stroke-width="1.3"/>
<rect x="380.2" y="318.92" width="6.9" height="7.08" fill="#26468C"/>
<path d="M393.25 318.69L393.25 316.41" stroke="#222" stroke-width=".9"/>
<path d="M391.25 316.61L395.25 316.61" stroke="#222" stroke-width="1.3"/>
<rect x="389.8" y="318.69" width="6.9" height="7.31" fill="#EA9A1E"/>
<path d="M401.65 317.32L401.65 315.5" stroke="#222" stroke-width=".9"/>
<path d="M399.65 315.7L403.65 315.7" stroke="#222" stroke-width="1.3"/>
<rect x="398.2" y="317.32" width="6.9" height="8.68" fill="#2F6A4C"/>
<path d="M411.25 305.68L411.25 301.34" stroke="#222" stroke-width=".9"/>
<path d="M409.25 301.54L413.25 301.54" stroke="#222" stroke-width="1.3"/>
<rect x="407.8" y="305.68" width="6.9" height="20.32" fill="#EA9A1E"/>
<path d="M419.65 275.77L419.65 261.15" stroke="#222" stroke-width=".9"/>
<path d="M417.65 261.35L421.65 261.35" stroke="#222" stroke-width="1.3"/>
<rect x="416.2" y="275.77" width="6.9" height="50.23" fill="#C8007C"/>
<path d="M370.5 255.1L370.5 326.5" stroke="#1a1a1a" stroke-width="1.1"/>
<path d="M370 326L425.5 326" stroke="#1a1a1a" stroke-width="1.1"/>
<path d="M367.5 326L370.5 326" stroke="#1a1a1a" stroke-width="1"/>
<text x="364.6" y="328.25" font-size="6.3" stroke="#2a2a2a" stroke-width=".05" text-anchor="end" fill="#2a2a2a">0</text>
<path d="M367.5 303.17L370.5 303.17" stroke="#1a1a1a" stroke-width="1"/>
<text x="364.6" y="305.42" font-size="6.3" stroke="#2a2a2a" stroke-width=".05" text-anchor="end" fill="#2a2a2a">10</text>
<path d="M367.5 280.33L370.5 280.33" stroke="#1a1a1a" stroke-width="1"/>
<text x="364.6" y="282.58" font-size="6.3" stroke="#2a2a2a" stroke-width=".05" text-anchor="end" fill="#2a2a2a">20</text>
<path d="M367.5 257.5L370.5 257.5" stroke="#1a1a1a" stroke-width="1"/>
<text x="364.6" y="259.75" font-size="6.3" stroke="#2a2a2a" stroke-width=".05" text-anchor="end" fill="#2a2a2a">30</text>
<path d="M380.5 326L380.5 329" stroke="#1a1a1a" stroke-width="1"/>
<path d="M398.5 326L398.5 329" stroke="#1a1a1a" stroke-width="1"/>
<path d="M416.5 326L416.5 329" stroke="#1a1a1a" stroke-width="1"/>
<path d="M410 258L420.1 258" stroke="#333" stroke-width="1.15"/>
<text x="415.05" y="258.3" font-size="5.8" text-anchor="middle" font-weight="bold" fill="#222">**</text>
<text x="352.93" y="291.3" font-size="7.3" stroke="#262626" stroke-width=".18" text-anchor="middle" textLength="37.5" lengthAdjust="spacingAndGlyphs" transform="rotate(-90 352.93 291.3)"># cells (x10<tspan baseline-shift="super" font-size="65%">3</tspan>)</text>
<text x="398.1" y="164" font-size="8.4" stroke="#222" stroke-width=".18" text-anchor="middle" fill="#222">mLN</text>
<text x="382.7" y="334.2" font-size="6.8" stroke="#262626" stroke-width=".05" text-anchor="end" textLength="39" lengthAdjust="spacingAndGlyphs" transform="rotate(-45 382.7 334.2)">IL-22<tspan baseline-shift="super" font-size="65%">neg</tspan> Th17</text>
<text x="400.7" y="334.2" font-size="6.8" stroke="#262626" stroke-width=".05" text-anchor="end" textLength="33" lengthAdjust="spacingAndGlyphs" transform="rotate(-45 400.7 334.2)">IL-22<tspan baseline-shift="super" font-size="65%">+</tspan>Th17</text>
<text x="419.1" y="333.4" font-size="6.8" stroke="#262626" stroke-width=".05" text-anchor="end" textLength="48.5" lengthAdjust="spacingAndGlyphs" transform="rotate(-45 419.1 333.4)">Th22 (IL-17A<tspan baseline-shift="super" font-size="65%">neg</tspan>)</text>
<path d="M461.05 232.61L461.05 231.58" stroke="#222" stroke-width=".9"/>
<path d="M459.05 231.78L463.05 231.78" stroke="#222" stroke-width="1.3"/>
<rect x="457.6" y="232.61" width="6.9" height="8.59" fill="#EA9A1E"/>
<path d="M469.45 229.86L469.45 228.49" stroke="#222" stroke-width=".9"/>
<path d="M467.45 228.69L471.45 228.69" stroke="#222" stroke-width="1.3"/>
<rect x="466" y="229.86" width="6.9" height="11.34" fill="#26468C"/>
<path d="M479.05 238.11L479.05 237.08" stroke="#222" stroke-width=".9"/>
<path d="M477.05 237.28L481.05 237.28" stroke="#222" stroke-width="1.3"/>
<rect x="475.6" y="238.11" width="6.9" height="3.09" fill="#EA9A1E"/>
<path d="M487.45 232.96L487.45 232.27" stroke="#222" stroke-width=".9"/>
<path d="M485.45 232.47L489.45 232.47" stroke="#222" stroke-width="1.3"/>
<rect x="484" y="232.96" width="6.9" height="8.24" fill="#2F6A4C"/>
<path d="M497.05 219.9L497.05 216.47" stroke="#222" stroke-width=".9"/>
<path d="M495.05 216.67L499.05 216.67" stroke="#222" stroke-width="1.3"/>
<rect x="493.6" y="219.9" width="6.9" height="21.3" fill="#EA9A1E"/>
<path d="M505.45 191.74L505.45 184.87" stroke="#222" stroke-width=".9"/>
<path d="M503.45 185.07L507.45 185.07" stroke="#222" stroke-width="1.3"/>
<rect x="502" y="191.74" width="6.9" height="49.46" fill="#C8007C"/>
<path d="M456.3 170.1L456.3 241.7" stroke="#1a1a1a" stroke-width="1.1"/>
<path d="M455.8 241.2L511.3 241.2" stroke="#1a1a1a" stroke-width="1.1"/>
<path d="M453.3 241.2L456.3 241.2" stroke="#1a1a1a" stroke-width="1"/>
<text x="450.4" y="243.45" font-size="6.3" stroke="#2a2a2a" stroke-width=".05" text-anchor="end" fill="#2a2a2a">0</text>
<path d="M453.3 227.46L456.3 227.46" stroke="#1a1a1a" stroke-width="1"/>
<text x="450.4" y="229.71" font-size="6.3" stroke="#2a2a2a" stroke-width=".05" text-anchor="end" fill="#2a2a2a">2</text>
<path d="M453.3 213.72L456.3 213.72" stroke="#1a1a1a" stroke-width="1"/>
<text x="450.4" y="215.97" font-size="6.3" stroke="#2a2a2a" stroke-width=".05" text-anchor="end" fill="#2a2a2a">4</text>
<path d="M453.3 199.98L456.3 199.98" stroke="#1a1a1a" stroke-width="1"/>
<text x="450.4" y="202.23" font-size="6.3" stroke="#2a2a2a" stroke-width=".05" text-anchor="end" fill="#2a2a2a">6</text>
<path d="M453.3 186.24L456.3 186.24" stroke="#1a1a1a" stroke-width="1"/>
<text x="450.4" y="188.49" font-size="6.3" stroke="#2a2a2a" stroke-width=".05" text-anchor="end" fill="#2a2a2a">8</text>
<path d="M453.3 172.5L456.3 172.5" stroke="#1a1a1a" stroke-width="1"/>
<text x="450.4" y="174.75" font-size="6.3" stroke="#2a2a2a" stroke-width=".05" text-anchor="end" fill="#2a2a2a">10</text>
<path d="M466.3 241.2L466.3 244.2" stroke="#1a1a1a" stroke-width="1"/>
<path d="M484.3 241.2L484.3 244.2" stroke="#1a1a1a" stroke-width="1"/>
<path d="M502.3 241.2L502.3 244.2" stroke="#1a1a1a" stroke-width="1"/>
<path d="M477.8 224.7L487.9 224.7" stroke="#333" stroke-width="1.15"/>
<text x="482.85" y="225" font-size="5.8" text-anchor="middle" font-weight="bold" fill="#222">***</text>
<path d="M495.8 180.3L505.9 180.3" stroke="#333" stroke-width="1.15"/>
<text x="500.85" y="180.6" font-size="5.8" text-anchor="middle" font-weight="bold" fill="#222">***</text>
<text x="441.63" y="206.8" font-size="7.3" stroke="#262626" stroke-width=".18" text-anchor="middle" textLength="50" lengthAdjust="spacingAndGlyphs" transform="rotate(-90 441.63 206.8)">% in CD4<tspan baseline-shift="super" font-size="65%">+</tspan> T cells</text>
<path d="M461.05 323.03L461.05 322" stroke="#222" stroke-width=".9"/>
<path d="M459.05 322.2L463.05 322.2" stroke="#222" stroke-width="1.3"/>
<rect x="457.6" y="323.03" width="6.9" height="2.97" fill="#EA9A1E"/>
<path d="M469.45 315.15L469.45 312.3" stroke="#222" stroke-width=".9"/>
<path d="M467.45 312.5L471.45 312.5" stroke="#222" stroke-width="1.3"/>
<rect x="466" y="315.15" width="6.9" height="10.85" fill="#26468C"/>
<path d="M479.05 325.09L479.05 324.74" stroke="#222" stroke-width=".9"/>
<path d="M477.05 324.94L481.05 324.94" stroke="#222" stroke-width="1.3"/>
<rect x="475.6" y="325.09" width="6.9" height=".91" fill="#EA9A1E"/>
<path d="M487.45 318.46L487.45 316.3" stroke="#222" stroke-width=".9"/>
<path d="M485.45 316.5L489.45 316.5" stroke="#222" stroke-width="1.3"/>
<rect x="484" y="318.46" width="6.9" height="7.54" fill="#2F6A4C"/>
<path d="M497.05 316.3L497.05 313.67" stroke="#222" stroke-width=".9"/>
<path d="M495.05 313.87L499.05 313.87" stroke="#222" stroke-width="1.3"/>
<rect x="493.6" y="316.3" width="6.9" height="9.7" fill="#EA9A1E"/>
<path d="M505.45 275.2L505.45 263.21" stroke="#222" stroke-width=".9"/>
<path d="M503.45 263.41L507.45 263.41" stroke="#222" stroke-width="1.3"/>
<rect x="502" y="275.2" width="6.9" height="50.8" fill="#C8007C"/>
<path d="M456.3 255.1L456.3 326.5" stroke="#1a1a1a" stroke-width="1.1"/>
<path d="M455.8 326L511.3 326" stroke="#1a1a1a" stroke-width="1.1"/>
<path d="M453.3 326L456.3 326" stroke="#1a1a1a" stroke-width="1"/>
<text x="450.4" y="328.25" font-size="6.3" stroke="#2a2a2a" stroke-width=".05" text-anchor="end" fill="#2a2a2a">0</text>
<path d="M453.3 303.17L456.3 303.17" stroke="#1a1a1a" stroke-width="1"/>
<text x="450.4" y="305.42" font-size="6.3" stroke="#2a2a2a" stroke-width=".05" text-anchor="end" fill="#2a2a2a">20</text>
<path d="M453.3 280.33L456.3 280.33" stroke="#1a1a1a" stroke-width="1"/>
<text x="450.4" y="282.58" font-size="6.3" stroke="#2a2a2a" stroke-width=".05" text-anchor="end" fill="#2a2a2a">40</text>
<path d="M453.3 257.5L456.3 257.5" stroke="#1a1a1a" stroke-width="1"/>
<text x="450.4" y="259.75" font-size="6.3" stroke="#2a2a2a" stroke-width=".05" text-anchor="end" fill="#2a2a2a">60</text>
<path d="M466.3 326L466.3 329" stroke="#1a1a1a" stroke-width="1"/>
<path d="M484.3 326L484.3 329" stroke="#1a1a1a" stroke-width="1"/>
<path d="M502.3 326L502.3 329" stroke="#1a1a1a" stroke-width="1"/>
<path d="M459.8 307.6L469.9 307.6" stroke="#333" stroke-width="1.15"/>
<text x="464.85" y="307.9" font-size="5.8" text-anchor="middle" font-weight="bold" fill="#222">*</text>
<path d="M477.8 308.1L487.9 308.1" stroke="#333" stroke-width="1.15"/>
<text x="482.85" y="308.4" font-size="5.8" text-anchor="middle" font-weight="bold" fill="#222">***</text>
<path d="M495.8 260.2L505.9 260.2" stroke="#333" stroke-width="1.15"/>
<text x="500.85" y="260.5" font-size="5.8" text-anchor="middle" font-weight="bold" fill="#222">**</text>
<text x="438.73" y="291.3" font-size="7.3" stroke="#262626" stroke-width=".18" text-anchor="middle" textLength="37.5" lengthAdjust="spacingAndGlyphs" transform="rotate(-90 438.73 291.3)"># cells (x10<tspan baseline-shift="super" font-size="65%">3</tspan>)</text>
<text x="483.9" y="164" font-size="8.4" stroke="#222" stroke-width=".18" text-anchor="middle" fill="#222">pLN</text>
<text x="468.5" y="334.2" font-size="6.8" stroke="#262626" stroke-width=".05" text-anchor="end" textLength="39" lengthAdjust="spacingAndGlyphs" transform="rotate(-45 468.5 334.2)">IL-22<tspan baseline-shift="super" font-size="65%">neg</tspan> Th17</text>
<text x="486.5" y="334.2" font-size="6.8" stroke="#262626" stroke-width=".05" text-anchor="end" textLength="33" lengthAdjust="spacingAndGlyphs" transform="rotate(-45 486.5 334.2)">IL-22<tspan baseline-shift="super" font-size="65%">+</tspan>Th17</text>
<text x="504.9" y="333.4" font-size="6.8" stroke="#262626" stroke-width=".05" text-anchor="end" textLength="48.5" lengthAdjust="spacingAndGlyphs" transform="rotate(-45 504.9 333.4)">Th22 (IL-17A<tspan baseline-shift="super" font-size="65%">neg</tspan>)</text>
<rect x="318" y="373" width="4.4" height="4.4" fill="#EA9A1E"/>
<text x="325.6" y="377.4" font-size="5.8" stroke="#262626" stroke-width=".05" textLength="15.5" lengthAdjust="spacingAndGlyphs">B6.WT</text>
<rect x="350.4" y="373" width="4.7" height="4.4" fill="#26468C"/>
<rect x="355.1" y="373" width="4.6" height="4.4" fill="#2F6A4C"/>
<rect x="359.7" y="373" width="4.7" height="4.4" fill="#C8007C"/>
<text x="367.3" y="377.4" font-size="5.8" stroke="#262626" stroke-width=".05" textLength="22.3" lengthAdjust="spacingAndGlyphs">sgp130Fc</text>
<path d="M44.05 427.47L44.05 426.24" stroke="#222" stroke-width=".9"/>
<path d="M42.05 426.44L46.05 426.44" stroke="#222" stroke-width="1.3"/>
<rect x="40.5" y="427.47" width="7.1" height="30.23" fill="#E0921A"/>
<rect x="40.5" y="461.6" width="7.1" height="23.4" fill="#E0921A"/>
<path d="M52.4 422.44L52.4 421.6" stroke="#222" stroke-width=".9"/>
<path d="M50.4 421.8L54.4 421.8" stroke="#222" stroke-width="1.3"/>
<rect x="48.9" y="422.44" width="7" height="35.26" fill="#A9002C"/>
<rect x="48.9" y="461.6" width="7" height="23.4" fill="#A9002C"/>
<path d="M62.15 479.45L62.15 477.79" stroke="#222" stroke-width=".9"/>
<path d="M60.15 477.99L64.15 477.99" stroke="#222" stroke-width="1.3"/>
<rect x="58.7" y="479.45" width="6.9" height="5.55" fill="#E0921A"/>
<path d="M70.9 468.35L70.9 466.5" stroke="#222" stroke-width=".9"/>
<path d="M68.9 466.7L72.9 466.7" stroke="#222" stroke-width="1.3"/>
<rect x="67.5" y="468.35" width="6.8" height="16.65" fill="#A9002C"/>
<path d="M39.4 413.9L39.4 457.4" stroke="#1a1a1a" stroke-width="1.1"/>
<path d="M39.4 461.8L39.4 485.5" stroke="#1a1a1a" stroke-width="1.1"/>
<path d="M37.2 457.4L42.4 457.4" stroke="#1a1a1a" stroke-width=".9"/>
<path d="M38.9 485L76.2 485" stroke="#1a1a1a" stroke-width="1.1"/>
<path d="M36.4 449.8L39.4 449.8" stroke="#1a1a1a" stroke-width="1"/>
<text x="33.5" y="452.05" font-size="6.3" stroke="#2a2a2a" stroke-width=".05" text-anchor="end" fill="#2a2a2a">20</text>
<path d="M36.4 438.63L39.4 438.63" stroke="#1a1a1a" stroke-width="1"/>
<text x="33.5" y="440.88" font-size="6.3" stroke="#2a2a2a" stroke-width=".05" text-anchor="end" fill="#2a2a2a">40</text>
<path d="M36.4 427.47L39.4 427.47" stroke="#1a1a1a" stroke-width="1"/>
<text x="33.5" y="429.72" font-size="6.3" stroke="#2a2a2a" stroke-width=".05" text-anchor="end" fill="#2a2a2a">60</text>
<path d="M36.4 416.3L39.4 416.3" stroke="#1a1a1a" stroke-width="1"/>
<text x="33.5" y="418.55" font-size="6.3" stroke="#2a2a2a" stroke-width=".05" text-anchor="end" fill="#2a2a2a">80</text>
<path d="M36.4 485L39.4 485" stroke="#1a1a1a" stroke-width="1"/>
<text x="33.5" y="487.25" font-size="6.3" stroke="#2a2a2a" stroke-width=".05" text-anchor="end" fill="#2a2a2a">0</text>
<path d="M36.4 477.6L39.4 477.6" stroke="#1a1a1a" stroke-width="1"/>
<text x="33.5" y="479.85" font-size="6.3" stroke="#2a2a2a" stroke-width=".05" text-anchor="end" fill="#2a2a2a">2</text>
<path d="M36.4 470.2L39.4 470.2" stroke="#1a1a1a" stroke-width="1"/>
<text x="33.5" y="472.45" font-size="6.3" stroke="#2a2a2a" stroke-width=".05" text-anchor="end" fill="#2a2a2a">4</text>
<path d="M36.4 462.8L39.4 462.8" stroke="#1a1a1a" stroke-width="1"/>
<text x="33.5" y="465.05" font-size="6.3" stroke="#2a2a2a" stroke-width=".05" text-anchor="end" fill="#2a2a2a">6</text>
<path d="M48.4 485L48.4 488" stroke="#1a1a1a" stroke-width="1"/>
<path d="M66.3 485L66.3 488" stroke="#1a1a1a" stroke-width="1"/>
<path d="M43.7 416.3L52.4 416.3" stroke="#333" stroke-width="1.15"/>
<text x="48.05" y="416.6" font-size="5.8" text-anchor="middle" font-weight="bold" fill="#222">**</text>
<path d="M61.6 458.3L71 458.3" stroke="#333" stroke-width="1.15"/>
<text x="66.3" y="458.6" font-size="5.8" text-anchor="middle" font-weight="bold" fill="#222">***</text>
<path d="M103.35 440.25L103.35 438.72" stroke="#222" stroke-width=".9"/>
<path d="M101.35 438.92L105.35 438.92" stroke="#222" stroke-width="1.3"/>
<rect x="99.9" y="440.25" width="6.9" height="17.65" fill="#E0921A"/>
<rect x="99.9" y="461.2" width="6.9" height="23.3" fill="#E0921A"/>
<path d="M112.3 426.39L112.3 424.47" stroke="#222" stroke-width=".9"/>
<path d="M110.3 424.67L114.3 424.67" stroke="#222" stroke-width="1.3"/>
<rect x="108.8" y="426.39" width="7" height="31.51" fill="#A9002C"/>
<rect x="108.8" y="461.2" width="7" height="23.3" fill="#A9002C"/>
<path d="M121.5 480.08L121.5 478.98" stroke="#222" stroke-width=".9"/>
<path d="M119.5 479.18L123.5 479.18" stroke="#222" stroke-width="1.3"/>
<rect x="118" y="480.08" width="7" height="4.42" fill="#E0921A"/>
<path d="M130.3 471.61L130.3 469.95" stroke="#222" stroke-width=".9"/>
<path d="M128.3 470.15L132.3 470.15" stroke="#222" stroke-width="1.3"/>
<rect x="126.8" y="471.61" width="7" height="12.89" fill="#A9002C"/>
<path d="M98.8 413.6L98.8 457.6" stroke="#1a1a1a" stroke-width="1.1"/>
<path d="M98.8 461.4L98.8 485" stroke="#1a1a1a" stroke-width="1.1"/>
<path d="M96.6 457.6L101.8 457.6" stroke="#1a1a1a" stroke-width=".9"/>
<path d="M98.3 484.5L134.2 484.5" stroke="#1a1a1a" stroke-width="1.1"/>
<path d="M95.8 446.8L98.8 446.8" stroke="#1a1a1a" stroke-width="1"/>
<text x="92.9" y="449.05" font-size="6.3" stroke="#2a2a2a" stroke-width=".05" text-anchor="end" fill="#2a2a2a">20</text>
<path d="M95.8 431.4L98.8 431.4" stroke="#1a1a1a" stroke-width="1"/>
<text x="92.9" y="433.65" font-size="6.3" stroke="#2a2a2a" stroke-width=".05" text-anchor="end" fill="#2a2a2a">40</text>
<path d="M95.8 416L98.8 416" stroke="#1a1a1a" stroke-width="1"/>
<text x="92.9" y="418.25" font-size="6.3" stroke="#2a2a2a" stroke-width=".05" text-anchor="end" fill="#2a2a2a">60</text>
<path d="M95.8 484.5L98.8 484.5" stroke="#1a1a1a" stroke-width="1"/>
<text x="92.9" y="486.75" font-size="6.3" stroke="#2a2a2a" stroke-width=".05" text-anchor="end" fill="#2a2a2a">0</text>
<path d="M95.8 477.13L98.8 477.13" stroke="#1a1a1a" stroke-width="1"/>
<text x="92.9" y="479.38" font-size="6.3" stroke="#2a2a2a" stroke-width=".05" text-anchor="end" fill="#2a2a2a">2</text>
<path d="M95.8 469.77L98.8 469.77" stroke="#1a1a1a" stroke-width="1"/>
<text x="92.9" y="472.02" font-size="6.3" stroke="#2a2a2a" stroke-width=".05" text-anchor="end" fill="#2a2a2a">4</text>
<path d="M95.8 462.4L98.8 462.4" stroke="#1a1a1a" stroke-width="1"/>
<text x="92.9" y="464.65" font-size="6.3" stroke="#2a2a2a" stroke-width=".05" text-anchor="end" fill="#2a2a2a">6</text>
<path d="M107.6 484.5L107.6 487.5" stroke="#1a1a1a" stroke-width="1"/>
<path d="M125.8 484.5L125.8 487.5" stroke="#1a1a1a" stroke-width="1"/>
<path d="M102.7 418.4L111.9 418.4" stroke="#333" stroke-width="1.15"/>
<text x="107.3" y="418.7" font-size="5.8" text-anchor="middle" font-weight="bold" fill="#222">***</text>
<path d="M120.7 456.2L130 456.2" stroke="#333" stroke-width="1.15"/>
<text x="125.35" y="456.5" font-size="5.8" text-anchor="middle" font-weight="bold" fill="#222">***</text>
<text x="57.4" y="406.4" font-size="8.2" stroke="#222" stroke-width=".18" text-anchor="middle" fill="#222">mLN</text>
<text x="116.7" y="406.4" font-size="8.2" stroke="#222" stroke-width=".18" text-anchor="middle" fill="#222">pLN</text>
<text x="15.93" y="450.7" font-size="7.3" stroke="#262626" stroke-width=".18" text-anchor="middle" textLength="54.8" lengthAdjust="spacingAndGlyphs" transform="rotate(-90 15.93 450.7)">% IFN&#947;<tspan baseline-shift="super" font-size="65%">+</tspan> in CD4<tspan baseline-shift="super" font-size="65%">+</tspan> T</text>
<path d="M44.25 531.93L44.25 525.79" stroke="#222" stroke-width=".9"/>
<path d="M42.25 525.99L46.25 525.99" stroke="#222" stroke-width="1.3"/>
<rect x="40.8" y="531.93" width="6.9" height="37.57" fill="#E0921A"/>
<path d="M52.9 527.67L52.9 517.76" stroke="#222" stroke-width=".9"/>
<path d="M50.9 517.96L54.9 517.96" stroke="#222" stroke-width="1.3"/>
<rect x="49.5" y="527.67" width="6.8" height="41.83" fill="#A9002C"/>
<path d="M62.55 568.82L62.55 568.65" stroke="#222" stroke-width=".9"/>
<path d="M60.55 568.85L64.55 568.85" stroke="#222" stroke-width="1.3"/>
<rect x="59.2" y="568.82" width="6.7" height=".68" fill="#E0921A"/>
<path d="M71.15 567.28L71.15 566.77" stroke="#222" stroke-width=".9"/>
<path d="M69.15 566.97L73.15 566.97" stroke="#222" stroke-width="1.3"/>
<rect x="67.7" y="567.28" width="6.9" height="2.22" fill="#A9002C"/>
<path d="M39.5 498.8L39.5 570" stroke="#1a1a1a" stroke-width="1.1"/>
<path d="M39 569.5L76.2 569.5" stroke="#1a1a1a" stroke-width="1.1"/>
<path d="M36.5 569.5L39.5 569.5" stroke="#1a1a1a" stroke-width="1"/>
<text x="33.6" y="571.75" font-size="6.3" stroke="#2a2a2a" stroke-width=".05" text-anchor="end" fill="#2a2a2a">0</text>
<path d="M36.5 552.42L39.5 552.42" stroke="#1a1a1a" stroke-width="1"/>
<text x="33.6" y="554.67" font-size="6.3" stroke="#2a2a2a" stroke-width=".05" text-anchor="end" fill="#2a2a2a">100</text>
<path d="M36.5 535.35L39.5 535.35" stroke="#1a1a1a" stroke-width="1"/>
<text x="33.6" y="537.6" font-size="6.3" stroke="#2a2a2a" stroke-width=".05" text-anchor="end" fill="#2a2a2a">200</text>
<path d="M36.5 518.27L39.5 518.27" stroke="#1a1a1a" stroke-width="1"/>
<text x="33.6" y="520.52" font-size="6.3" stroke="#2a2a2a" stroke-width=".05" text-anchor="end" fill="#2a2a2a">300</text>
<path d="M36.5 501.2L39.5 501.2" stroke="#1a1a1a" stroke-width="1"/>
<text x="33.6" y="503.45" font-size="6.3" stroke="#2a2a2a" stroke-width=".05" text-anchor="end" fill="#2a2a2a">400</text>
<path d="M48.5 569.5L48.5 572.5" stroke="#1a1a1a" stroke-width="1"/>
<path d="M67 569.5L67 572.5" stroke="#1a1a1a" stroke-width="1"/>
<path d="M61.5 557.2L70.8 557.2" stroke="#333" stroke-width="1.15"/>
<text x="66.15" y="557.5" font-size="5.8" text-anchor="middle" font-weight="bold" fill="#222">*</text>
<path d="M103.4 556.86L103.4 554.13" stroke="#222" stroke-width=".9"/>
<path d="M101.4 554.33L105.4 554.33" stroke="#222" stroke-width="1.3"/>
<rect x="100" y="556.86" width="6.8" height="12.64" fill="#E0921A"/>
<path d="M112.3 522.54L112.3 512.3" stroke="#222" stroke-width=".9"/>
<path d="M110.3 512.5L114.3 512.5" stroke="#222" stroke-width="1.3"/>
<rect x="108.8" y="522.54" width="7" height="46.96" fill="#A9002C"/>
<rect x="118" y="569.33" width="7" height=".17" fill="#E0921A"/>
<path d="M130.3 566.26L130.3 565.57" stroke="#222" stroke-width=".9"/>
<path d="M128.3 565.77L132.3 565.77" stroke="#222" stroke-width="1.3"/>
<rect x="126.8" y="566.26" width="7" height="3.24" fill="#A9002C"/>
<path d="M98.8 498.8L98.8 570" stroke="#1a1a1a" stroke-width="1.1"/>
<path d="M98.3 569.5L134.2 569.5" stroke="#1a1a1a" stroke-width="1.1"/>
<path d="M95.8 569.5L98.8 569.5" stroke="#1a1a1a" stroke-width="1"/>
<text x="92.9" y="571.75" font-size="6.3" stroke="#2a2a2a" stroke-width=".05" text-anchor="end" fill="#2a2a2a">0</text>
<path d="M95.8 552.42L98.8 552.42" stroke="#1a1a1a" stroke-width="1"/>
<text x="92.9" y="554.67" font-size="6.3" stroke="#2a2a2a" stroke-width=".05" text-anchor="end" fill="#2a2a2a">100</text>
<path d="M95.8 535.35L98.8 535.35" stroke="#1a1a1a" stroke-width="1"/>
<text x="92.9" y="537.6" font-size="6.3" stroke="#2a2a2a" stroke-width=".05" text-anchor="end" fill="#2a2a2a">200</text>
<path d="M95.8 518.27L98.8 518.27" stroke="#1a1a1a" stroke-width="1"/>
<text x="92.9" y="520.52" font-size="6.3" stroke="#2a2a2a" stroke-width=".05" text-anchor="end" fill="#2a2a2a">300</text>
<path d="M95.8 501.2L98.8 501.2" stroke="#1a1a1a" stroke-width="1"/>
<text x="92.9" y="503.45" font-size="6.3" stroke="#2a2a2a" stroke-width=".05" text-anchor="end" fill="#2a2a2a">400</text>
<path d="M107.6 569.5L107.6 572.5" stroke="#1a1a1a" stroke-width="1"/>
<path d="M125.8 569.5L125.8 572.5" stroke="#1a1a1a" stroke-width="1"/>
<path d="M102.7 503L111.9 503" stroke="#333" stroke-width="1.15"/>
<text x="107.3" y="503.3" font-size="5.8" text-anchor="middle" font-weight="bold" fill="#222">**</text>
<path d="M120.7 540.8L130 540.8" stroke="#333" stroke-width="1.15"/>
<text x="125.35" y="541.1" font-size="5.8" text-anchor="middle" font-weight="bold" fill="#222">**</text>
<text x="16.43" y="535.1" font-size="7.3" stroke="#262626" stroke-width=".18" text-anchor="middle" textLength="66.8" lengthAdjust="spacingAndGlyphs" transform="rotate(-90 16.43 535.1)"># IFN&#947;<tspan baseline-shift="super" font-size="65%">+</tspan> CD4<tspan baseline-shift="super" font-size="65%">+</tspan> T (x10<tspan baseline-shift="super" font-size="65%">3</tspan>)</text>
<text x="48.5" y="581.1" font-size="6.7" stroke="#262626" stroke-width=".18" text-anchor="middle" textLength="10" lengthAdjust="spacingAndGlyphs">Th1</text>
<text x="67" y="581.1" font-size="6.7" stroke="#262626" stroke-width=".18" text-anchor="middle" textLength="13.4" lengthAdjust="spacingAndGlyphs">Th22</text>
<text x="107.6" y="581.1" font-size="6.7" stroke="#262626" stroke-width=".18" text-anchor="middle" textLength="10" lengthAdjust="spacingAndGlyphs">Th1</text>
<text x="125.8" y="581.1" font-size="6.7" stroke="#262626" stroke-width=".18" text-anchor="middle" textLength="13.4" lengthAdjust="spacingAndGlyphs">Th22</text>
<path d="M181.05 457.63L181.05 455.43" stroke="#222" stroke-width=".9"/>
<path d="M179.05 455.63L183.05 455.63" stroke="#222" stroke-width="1.3"/>
<rect x="177.5" y="457.63" width="7.1" height="26.97" fill="#E0921A"/>
<path d="M189.75 431.49L189.75 429.01" stroke="#222" stroke-width=".9"/>
<path d="M187.75 429.21L191.75 429.21" stroke="#222" stroke-width="1.3"/>
<rect x="186.2" y="431.49" width="7.1" height="53.11" fill="#A9002C"/>
<path d="M199.15 482.4L199.15 481.99" stroke="#222" stroke-width=".9"/>
<path d="M197.15 482.19L201.15 482.19" stroke="#222" stroke-width="1.3"/>
<rect x="195.8" y="482.4" width="6.7" height="2.2" fill="#E0921A"/>
<path d="M207.6 476.89L207.6 475.24" stroke="#222" stroke-width=".9"/>
<path d="M205.6 475.44L209.6 475.44" stroke="#222" stroke-width="1.3"/>
<rect x="204" y="476.89" width="7.2" height="7.71" fill="#A9002C"/>
<path d="M175.6 413.4L175.6 485.1" stroke="#1a1a1a" stroke-width="1.1"/>
<path d="M175.1 484.6L212 484.6" stroke="#1a1a1a" stroke-width="1.1"/>
<path d="M172.6 484.6L175.6 484.6" stroke="#1a1a1a" stroke-width="1"/>
<text x="169.7" y="486.85" font-size="6.3" stroke="#2a2a2a" stroke-width=".05" text-anchor="end" fill="#2a2a2a">0</text>
<path d="M172.6 470.84L175.6 470.84" stroke="#1a1a1a" stroke-width="1"/>
<text x="169.7" y="473.09" font-size="6.3" stroke="#2a2a2a" stroke-width=".05" text-anchor="end" fill="#2a2a2a">5</text>
<path d="M172.6 457.08L175.6 457.08" stroke="#1a1a1a" stroke-width="1"/>
<text x="169.7" y="459.33" font-size="6.3" stroke="#2a2a2a" stroke-width=".05" text-anchor="end" fill="#2a2a2a">10</text>
<path d="M172.6 443.32L175.6 443.32" stroke="#1a1a1a" stroke-width="1"/>
<text x="169.7" y="445.57" font-size="6.3" stroke="#2a2a2a" stroke-width=".05" text-anchor="end" fill="#2a2a2a">15</text>
<path d="M172.6 429.56L175.6 429.56" stroke="#1a1a1a" stroke-width="1"/>
<text x="169.7" y="431.81" font-size="6.3" stroke="#2a2a2a" stroke-width=".05" text-anchor="end" fill="#2a2a2a">20</text>
<path d="M172.6 415.8L175.6 415.8" stroke="#1a1a1a" stroke-width="1"/>
<text x="169.7" y="418.05" font-size="6.3" stroke="#2a2a2a" stroke-width=".05" text-anchor="end" fill="#2a2a2a">25</text>
<path d="M185.2 484.6L185.2 487.6" stroke="#1a1a1a" stroke-width="1"/>
<path d="M203.5 484.6L203.5 487.6" stroke="#1a1a1a" stroke-width="1"/>
<path d="M179.8 424L190 424" stroke="#333" stroke-width="1.15"/>
<text x="184.9" y="424.3" font-size="5.8" text-anchor="middle" font-weight="bold" fill="#222">***</text>
<path d="M198 463.8L208.3 463.8" stroke="#333" stroke-width="1.15"/>
<text x="203.15" y="464.1" font-size="5.8" text-anchor="middle" font-weight="bold" fill="#222">***</text>
<path d="M240 456.07L240 451.96" stroke="#222" stroke-width=".9"/>
<path d="M238 452.16L242 452.16" stroke="#222" stroke-width="1.3"/>
<rect x="236.5" y="456.07" width="7" height="28.43" fill="#E0921A"/>
<path d="M248.75 432.1L248.75 427.99" stroke="#222" stroke-width=".9"/>
<path d="M246.75 428.19L250.75 428.19" stroke="#222" stroke-width="1.3"/>
<rect x="245.3" y="432.1" width="6.9" height="52.4" fill="#A9002C"/>
<path d="M258.15 481.42L258.15 480.73" stroke="#222" stroke-width=".9"/>
<path d="M256.15 480.93L260.15 480.93" stroke="#222" stroke-width="1.3"/>
<rect x="254.7" y="481.42" width="6.9" height="3.08" fill="#E0921A"/>
<path d="M266.95 477.31L266.95 476.62" stroke="#222" stroke-width=".9"/>
<path d="M264.95 476.82L268.95 476.82" stroke="#222" stroke-width="1.3"/>
<rect x="263.5" y="477.31" width="6.9" height="7.19" fill="#A9002C"/>
<path d="M235.5 413.6L235.5 485" stroke="#1a1a1a" stroke-width="1.1"/>
<path d="M235 484.5L271.6 484.5" stroke="#1a1a1a" stroke-width="1.1"/>
<path d="M232.5 484.5L235.5 484.5" stroke="#1a1a1a" stroke-width="1"/>
<text x="229.6" y="486.75" font-size="6.3" stroke="#2a2a2a" stroke-width=".05" text-anchor="end" fill="#2a2a2a">0</text>
<path d="M232.5 467.38L235.5 467.38" stroke="#1a1a1a" stroke-width="1"/>
<text x="229.6" y="469.62" font-size="6.3" stroke="#2a2a2a" stroke-width=".05" text-anchor="end" fill="#2a2a2a">5</text>
<path d="M232.5 450.25L235.5 450.25" stroke="#1a1a1a" stroke-width="1"/>
<text x="229.6" y="452.5" font-size="6.3" stroke="#2a2a2a" stroke-width=".05" text-anchor="end" fill="#2a2a2a">10</text>
<path d="M232.5 433.12L235.5 433.12" stroke="#1a1a1a" stroke-width="1"/>
<text x="229.6" y="435.38" font-size="6.3" stroke="#2a2a2a" stroke-width=".05" text-anchor="end" fill="#2a2a2a">15</text>
<path d="M232.5 416L235.5 416" stroke="#1a1a1a" stroke-width="1"/>
<text x="229.6" y="418.25" font-size="6.3" stroke="#2a2a2a" stroke-width=".05" text-anchor="end" fill="#2a2a2a">20</text>
<path d="M244.2 484.5L244.2 487.5" stroke="#1a1a1a" stroke-width="1"/>
<path d="M262.2 484.5L262.2 487.5" stroke="#1a1a1a" stroke-width="1"/>
<path d="M239.3 423.2L248.5 423.2" stroke="#333" stroke-width="1.15"/>
<text x="243.9" y="423.5" font-size="5.8" text-anchor="middle" font-weight="bold" fill="#222">***</text>
<path d="M257.3 461.9L266.8 461.9" stroke="#333" stroke-width="1.15"/>
<text x="262.05" y="462.2" font-size="5.8" text-anchor="middle" font-weight="bold" fill="#222">*</text>
<text x="194.8" y="406.4" font-size="8.2" stroke="#222" stroke-width=".18" text-anchor="middle" fill="#222">mLN</text>
<text x="253.5" y="406.4" font-size="8.2" stroke="#222" stroke-width=".18" text-anchor="middle" fill="#222">pLN</text>
<text x="158.03" y="451" font-size="7.3" stroke="#262626" stroke-width=".18" text-anchor="middle" textLength="64.6" lengthAdjust="spacingAndGlyphs" transform="rotate(-90 158.03 451)">% GM-CSF<tspan baseline-shift="super" font-size="65%">+</tspan> in CD4<tspan baseline-shift="super" font-size="65%">+</tspan> T</text>
<path d="M180.85 543.85L180.85 540.09" stroke="#222" stroke-width=".9"/>
<path d="M178.85 540.29L182.85 540.29" stroke="#222" stroke-width="1.3"/>
<rect x="177.4" y="543.85" width="6.9" height="25.65" fill="#E0921A"/>
<path d="M189.65 518.2L189.65 505.2" stroke="#222" stroke-width=".9"/>
<path d="M187.65 505.4L191.65 505.4" stroke="#222" stroke-width="1.3"/>
<rect x="186.2" y="518.2" width="6.9" height="51.3" fill="#A9002C"/>
<path d="M199 567.11L199 566.76" stroke="#222" stroke-width=".9"/>
<path d="M197 566.96L201 566.96" stroke="#222" stroke-width="1.3"/>
<rect x="195.7" y="567.11" width="6.6" height="2.39" fill="#E0921A"/>
<path d="M207.7 561.63L207.7 559.38" stroke="#222" stroke-width=".9"/>
<path d="M205.7 559.58L209.7 559.58" stroke="#222" stroke-width="1.3"/>
<rect x="204.3" y="561.63" width="6.8" height="7.87" fill="#A9002C"/>
<path d="M176.2 498.7L176.2 570" stroke="#1a1a1a" stroke-width="1.1"/>
<path d="M175.7 569.5L212 569.5" stroke="#1a1a1a" stroke-width="1.1"/>
<path d="M173.2 569.5L176.2 569.5" stroke="#1a1a1a" stroke-width="1"/>
<text x="170.3" y="571.75" font-size="6.3" stroke="#2a2a2a" stroke-width=".05" text-anchor="end" fill="#2a2a2a">0</text>
<path d="M173.2 555.82L176.2 555.82" stroke="#1a1a1a" stroke-width="1"/>
<text x="170.3" y="558.07" font-size="6.3" stroke="#2a2a2a" stroke-width=".05" text-anchor="end" fill="#2a2a2a">20</text>
<path d="M173.2 542.14L176.2 542.14" stroke="#1a1a1a" stroke-width="1"/>
<text x="170.3" y="544.39" font-size="6.3" stroke="#2a2a2a" stroke-width=".05" text-anchor="end" fill="#2a2a2a">40</text>
<path d="M173.2 528.46L176.2 528.46" stroke="#1a1a1a" stroke-width="1"/>
<text x="170.3" y="530.71" font-size="6.3" stroke="#2a2a2a" stroke-width=".05" text-anchor="end" fill="#2a2a2a">60</text>
<path d="M173.2 514.78L176.2 514.78" stroke="#1a1a1a" stroke-width="1"/>
<text x="170.3" y="517.03" font-size="6.3" stroke="#2a2a2a" stroke-width=".05" text-anchor="end" fill="#2a2a2a">80</text>
<path d="M173.2 501.1L176.2 501.1" stroke="#1a1a1a" stroke-width="1"/>
<text x="170.3" y="503.35" font-size="6.3" stroke="#2a2a2a" stroke-width=".05" text-anchor="end" fill="#2a2a2a">100</text>
<path d="M185 569.5L185 572.5" stroke="#1a1a1a" stroke-width="1"/>
<path d="M203 569.5L203 572.5" stroke="#1a1a1a" stroke-width="1"/>
<path d="M198.2 548.8L207.7 548.8" stroke="#333" stroke-width="1.15"/>
<text x="202.95" y="549.1" font-size="5.8" text-anchor="middle" font-weight="bold" fill="#222">*</text>
<path d="M240.05 559.92L240.05 557.64" stroke="#222" stroke-width=".9"/>
<path d="M238.05 557.84L242.05 557.84" stroke="#222" stroke-width="1.3"/>
<rect x="236.6" y="559.92" width="6.9" height="9.58" fill="#E0921A"/>
<path d="M248.7 530.28L248.7 522.99" stroke="#222" stroke-width=".9"/>
<path d="M246.7 523.19L250.7 523.19" stroke="#222" stroke-width="1.3"/>
<rect x="245.4" y="530.28" width="6.6" height="39.22" fill="#A9002C"/>
<rect x="255" y="568.82" width="6.5" height=".68" fill="#E0921A"/>
<path d="M266.9 564.26L266.9 562.89" stroke="#222" stroke-width=".9"/>
<path d="M264.9 563.09L268.9 563.09" stroke="#222" stroke-width="1.3"/>
<rect x="263.5" y="564.26" width="6.8" height="5.24" fill="#A9002C"/>
<path d="M235.1 498.7L235.1 570" stroke="#1a1a1a" stroke-width="1.1"/>
<path d="M234.6 569.5L271.5 569.5" stroke="#1a1a1a" stroke-width="1.1"/>
<path d="M232.1 569.5L235.1 569.5" stroke="#1a1a1a" stroke-width="1"/>
<text x="229.2" y="571.75" font-size="6.3" stroke="#2a2a2a" stroke-width=".05" text-anchor="end" fill="#2a2a2a">0</text>
<path d="M232.1 546.7L235.1 546.7" stroke="#1a1a1a" stroke-width="1"/>
<text x="229.2" y="548.95" font-size="6.3" stroke="#2a2a2a" stroke-width=".05" text-anchor="end" fill="#2a2a2a">50</text>
<path d="M232.1 523.9L235.1 523.9" stroke="#1a1a1a" stroke-width="1"/>
<text x="229.2" y="526.15" font-size="6.3" stroke="#2a2a2a" stroke-width=".05" text-anchor="end" fill="#2a2a2a">100</text>
<path d="M232.1 501.1L235.1 501.1" stroke="#1a1a1a" stroke-width="1"/>
<text x="229.2" y="503.35" font-size="6.3" stroke="#2a2a2a" stroke-width=".05" text-anchor="end" fill="#2a2a2a">150</text>
<path d="M244.6 569.5L244.6 572.5" stroke="#1a1a1a" stroke-width="1"/>
<path d="M262.3 569.5L262.3 572.5" stroke="#1a1a1a" stroke-width="1"/>
<path d="M239.5 517.4L249.2 517.4" stroke="#333" stroke-width="1.15"/>
<text x="244.35" y="517.7" font-size="5.8" text-anchor="middle" font-weight="bold" fill="#222">***</text>
<path d="M257.4 546.9L267 546.9" stroke="#333" stroke-width="1.15"/>
<text x="262.2" y="547.2" font-size="5.8" text-anchor="middle" font-weight="bold" fill="#222">**</text>
<text x="154.63" y="534.5" font-size="7.3" stroke="#262626" stroke-width=".18" text-anchor="middle" textLength="74.2" lengthAdjust="spacingAndGlyphs" transform="rotate(-90 154.63 534.5)"># GM-CSF<tspan baseline-shift="super" font-size="65%">+</tspan> CD4<tspan baseline-shift="super" font-size="65%">+</tspan> T (x10<tspan baseline-shift="super" font-size="65%">3</tspan>)</text>
<text x="185" y="581.1" font-size="6.7" stroke="#262626" stroke-width=".18" text-anchor="middle" textLength="10" lengthAdjust="spacingAndGlyphs">Th1</text>
<text x="203" y="581.1" font-size="6.7" stroke="#262626" stroke-width=".18" text-anchor="middle" textLength="13.4" lengthAdjust="spacingAndGlyphs">Th22</text>
<text x="244.6" y="581.1" font-size="6.7" stroke="#262626" stroke-width=".18" text-anchor="middle" textLength="10" lengthAdjust="spacingAndGlyphs">Th1</text>
<text x="263" y="581.1" font-size="6.7" stroke="#262626" stroke-width=".18" text-anchor="middle" textLength="13.4" lengthAdjust="spacingAndGlyphs">Th22</text>
<rect x="242.3" y="497" width="4.3" height="4.1" fill="#E0921A"/>
<text x="249.7" y="501.2" font-size="5.4" stroke="#262626" stroke-width=".05">B6.WT</text>
<rect x="242.3" y="505.8" width="4.3" height="4.1" fill="#A9002C"/>
<text x="249.7" y="510" font-size="5.4" stroke="#262626" stroke-width=".05">sgp130Fc</text>
<path d="M319.8 422.62L319.8 418.47" stroke="#222" stroke-width=".9"/>
<path d="M317.8 418.67L321.8 418.67" stroke="#222" stroke-width="1.3"/>
<rect x="316.9" y="422.62" width="5.8" height="62.28" fill="#E0921A"/>
<path d="M327.2 442.23L327.2 439.23" stroke="#222" stroke-width=".9"/>
<path d="M325.2 439.43L329.2 439.43" stroke="#222" stroke-width="1.3"/>
<rect x="324.3" y="442.23" width="5.8" height="42.67" fill="#6AAA48"/>
<path d="M336.4 431.85L336.4 426.77" stroke="#222" stroke-width=".9"/>
<path d="M334.4 426.97L338.4 426.97" stroke="#222" stroke-width="1.3"/>
<rect x="333.5" y="431.85" width="5.8" height="53.05" fill="#E0921A"/>
<path d="M344.1 446.15L344.1 442.69" stroke="#222" stroke-width=".9"/>
<path d="M342.1 442.89L346.1 442.89" stroke="#222" stroke-width="1.3"/>
<rect x="341.2" y="446.15" width="5.8" height="38.75" fill="#6AAA48"/>
<path d="M353.3 431.15L353.3 426.08" stroke="#222" stroke-width=".9"/>
<path d="M351.3 426.28L355.3 426.28" stroke="#222" stroke-width="1.3"/>
<rect x="350.4" y="431.15" width="5.8" height="53.75" fill="#E0921A"/>
<path d="M360.9 454.91L360.9 451.22" stroke="#222" stroke-width=".9"/>
<path d="M358.9 451.42L362.9 451.42" stroke="#222" stroke-width="1.3"/>
<rect x="358" y="454.91" width="5.8" height="29.99" fill="#6AAA48"/>
<path d="M370.1 468.75L370.1 465.75" stroke="#222" stroke-width=".9"/>
<path d="M368.1 465.95L372.1 465.95" stroke="#222" stroke-width="1.3"/>
<rect x="367.2" y="468.75" width="5.8" height="16.15" fill="#E0921A"/>
<path d="M377.5 477.98L377.5 476.83" stroke="#222" stroke-width=".9"/>
<path d="M375.5 477.03L379.5 477.03" stroke="#222" stroke-width="1.3"/>
<rect x="374.6" y="477.98" width="5.8" height="6.92" fill="#6AAA48"/>
<path d="M314.6 413.3L314.6 485.4" stroke="#1a1a1a" stroke-width="1.1"/>
<path d="M314.1 484.9L382.2 484.9" stroke="#1a1a1a" stroke-width="1.1"/>
<path d="M311.6 484.9L314.6 484.9" stroke="#1a1a1a" stroke-width="1"/>
<text x="308.7" y="487.15" font-size="6.3" stroke="#2a2a2a" stroke-width=".05" text-anchor="end" fill="#2a2a2a">0</text>
<path d="M311.6 461.83L314.6 461.83" stroke="#1a1a1a" stroke-width="1"/>
<text x="308.7" y="464.08" font-size="6.3" stroke="#2a2a2a" stroke-width=".05" text-anchor="end" fill="#2a2a2a">10</text>
<path d="M311.6 438.77L314.6 438.77" stroke="#1a1a1a" stroke-width="1"/>
<text x="308.7" y="441.02" font-size="6.3" stroke="#2a2a2a" stroke-width=".05" text-anchor="end" fill="#2a2a2a">20</text>
<path d="M311.6 415.7L314.6 415.7" stroke="#1a1a1a" stroke-width="1"/>
<text x="308.7" y="417.95" font-size="6.3" stroke="#2a2a2a" stroke-width=".05" text-anchor="end" fill="#2a2a2a">30</text>
<path d="M323.4 484.9L323.4 487.9" stroke="#1a1a1a" stroke-width="1"/>
<path d="M340.5 484.9L340.5 487.9" stroke="#1a1a1a" stroke-width="1"/>
<path d="M356.8 484.9L356.8 487.9" stroke="#1a1a1a" stroke-width="1"/>
<path d="M373.5 484.9L373.5 487.9" stroke="#1a1a1a" stroke-width="1"/>
<path d="M319.2 415L327.8 415" stroke="#333" stroke-width="1.15"/>
<text x="323.5" y="415.3" font-size="5.8" text-anchor="middle" font-weight="bold" fill="#222">***</text>
<path d="M336 419.6L345 419.6" stroke="#333" stroke-width="1.15"/>
<text x="340.5" y="419.9" font-size="5.8" text-anchor="middle" font-weight="bold" fill="#222">*</text>
<path d="M353.4 421.2L362 421.2" stroke="#333" stroke-width="1.15"/>
<text x="357.7" y="421.5" font-size="5.8" text-anchor="middle" font-weight="bold" fill="#222">**</text>
<path d="M369.5 443.4L378 443.4" stroke="#333" stroke-width="1.15"/>
<text x="373.75" y="443.7" font-size="5.8" text-anchor="middle" font-weight="bold" fill="#222">***</text>
<text x="296.63" y="450.7" font-size="7.3" stroke="#262626" stroke-width=".18" text-anchor="middle" textLength="56" lengthAdjust="spacingAndGlyphs" transform="rotate(-90 296.63 450.7)">% IL-10<tspan baseline-shift="super" font-size="65%">+</tspan> in CD4<tspan baseline-shift="super" font-size="65%">+</tspan> T</text>
<path d="M319.8 520.75L319.8 514.56" stroke="#222" stroke-width=".9"/>
<path d="M317.8 514.76L321.8 514.76" stroke="#222" stroke-width="1.3"/>
<rect x="316.9" y="520.75" width="5.8" height="48.85" fill="#E0921A"/>
<path d="M327.2 533.82L327.2 529.28" stroke="#222" stroke-width=".9"/>
<path d="M325.2 529.48L329.2 529.48" stroke="#222" stroke-width="1.3"/>
<rect x="324.3" y="533.82" width="5.8" height="35.78" fill="#6AAA48"/>
<path d="M336.4 539.33L336.4 535.89" stroke="#222" stroke-width=".9"/>
<path d="M334.4 536.09L338.4 536.09" stroke="#222" stroke-width="1.3"/>
<rect x="333.5" y="539.33" width="5.8" height="30.27" fill="#E0921A"/>
<path d="M344.1 543.87L344.1 541.94" stroke="#222" stroke-width=".9"/>
<path d="M342.1 542.14L346.1 542.14" stroke="#222" stroke-width="1.3"/>
<rect x="341.2" y="543.87" width="5.8" height="25.73" fill="#6AAA48"/>
<path d="M353.3 557.63L353.3 555.15" stroke="#222" stroke-width=".9"/>
<path d="M351.3 555.35L355.3 555.35" stroke="#222" stroke-width="1.3"/>
<rect x="350.4" y="557.63" width="5.8" height="11.97" fill="#E0921A"/>
<path d="M360.9 563.82L360.9 561.62" stroke="#222" stroke-width=".9"/>
<path d="M358.9 561.82L362.9 561.82" stroke="#222" stroke-width="1.3"/>
<rect x="358" y="563.82" width="5.8" height="5.78" fill="#6AAA48"/>
<path d="M370.1 567.54L370.1 567.12" stroke="#222" stroke-width=".9"/>
<path d="M368.1 567.32L372.1 567.32" stroke="#222" stroke-width="1.3"/>
<rect x="367.2" y="567.54" width="5.8" height="2.06" fill="#E0921A"/>
<path d="M377.5 567.4L377.5 566.99" stroke="#222" stroke-width=".9"/>
<path d="M375.5 567.19L379.5 567.19" stroke="#222" stroke-width="1.3"/>
<rect x="374.6" y="567.4" width="5.8" height="2.2" fill="#6AAA48"/>
<path d="M314.6 498.4L314.6 570.1" stroke="#1a1a1a" stroke-width="1.1"/>
<path d="M314.1 569.6L382.2 569.6" stroke="#1a1a1a" stroke-width="1.1"/>
<path d="M311.6 569.6L314.6 569.6" stroke="#1a1a1a" stroke-width="1"/>
<text x="308.7" y="571.85" font-size="6.3" stroke="#2a2a2a" stroke-width=".05" text-anchor="end" fill="#2a2a2a">0</text>
<path d="M311.6 555.84L314.6 555.84" stroke="#1a1a1a" stroke-width="1"/>
<text x="308.7" y="558.09" font-size="6.3" stroke="#2a2a2a" stroke-width=".05" text-anchor="end" fill="#2a2a2a">100</text>
<path d="M311.6 542.08L314.6 542.08" stroke="#1a1a1a" stroke-width="1"/>
<text x="308.7" y="544.33" font-size="6.3" stroke="#2a2a2a" stroke-width=".05" text-anchor="end" fill="#2a2a2a">200</text>
<path d="M311.6 528.32L314.6 528.32" stroke="#1a1a1a" stroke-width="1"/>
<text x="308.7" y="530.57" font-size="6.3" stroke="#2a2a2a" stroke-width=".05" text-anchor="end" fill="#2a2a2a">300</text>
<path d="M311.6 514.56L314.6 514.56" stroke="#1a1a1a" stroke-width="1"/>
<text x="308.7" y="516.81" font-size="6.3" stroke="#2a2a2a" stroke-width=".05" text-anchor="end" fill="#2a2a2a">400</text>
<path d="M311.6 500.8L314.6 500.8" stroke="#1a1a1a" stroke-width="1"/>
<text x="308.7" y="503.05" font-size="6.3" stroke="#2a2a2a" stroke-width=".05" text-anchor="end" fill="#2a2a2a">500</text>
<path d="M323.4 569.6L323.4 572.6" stroke="#1a1a1a" stroke-width="1"/>
<path d="M340.5 569.6L340.5 572.6" stroke="#1a1a1a" stroke-width="1"/>
<path d="M356.8 569.6L356.8 572.6" stroke="#1a1a1a" stroke-width="1"/>
<path d="M373.5 569.6L373.5 572.6" stroke="#1a1a1a" stroke-width="1"/>
<path d="M353.4 543L362 543" stroke="#333" stroke-width="1.15"/>
<text x="357.7" y="543.3" font-size="5.8" text-anchor="middle" font-weight="bold" fill="#222">*</text>
<text x="293.93" y="534.8" font-size="7.3" stroke="#262626" stroke-width=".18" text-anchor="middle" textLength="66.5" lengthAdjust="spacingAndGlyphs" transform="rotate(-90 293.93 534.8)"># IL-10<tspan baseline-shift="super" font-size="65%">+</tspan> CD4<tspan baseline-shift="super" font-size="65%">+</tspan> T (x10<tspan baseline-shift="super" font-size="65%">3</tspan>)</text>
<text x="325.2" y="577.4" font-size="6.6" stroke="#262626" stroke-width=".05" text-anchor="end" transform="rotate(-45 325.2 577.4)">Spleen</text>
<text x="341.7" y="577.4" font-size="6.6" stroke="#262626" stroke-width=".05" text-anchor="end" transform="rotate(-45 341.7 577.4)">Liver</text>
<text x="358" y="577.4" font-size="6.6" stroke="#262626" stroke-width=".05" text-anchor="end" transform="rotate(-45 358 577.4)">mLN</text>
<text x="375.2" y="577.4" font-size="6.6" stroke="#262626" stroke-width=".05" text-anchor="end" transform="rotate(-45 375.2 577.4)">pLN</text>
<rect x="348.8" y="397.7" width="4.6" height="4.6" fill="#E0921A"/>
<text x="355.7" y="402.1" font-size="5.4" stroke="#262626" stroke-width=".05">B6.WT</text>
<rect x="348.8" y="405.8" width="4.6" height="4.6" fill="#6AAA48"/>
<text x="355.7" y="410.2" font-size="5.4" stroke="#262626" stroke-width=".05">sgp130Fc</text>
<rect x="348.8" y="502.7" width="4.6" height="4.6" fill="#E0921A"/>
<text x="355.7" y="507.1" font-size="5.4" stroke="#262626" stroke-width=".05">B6.WT</text>
<rect x="348.8" y="510.8" width="4.6" height="4.6" fill="#6AAA48"/>
<text x="355.7" y="515.2" font-size="5.4" stroke="#262626" stroke-width=".05">sgp130Fc</text>
<path d="M428.65 423.85L428.65 419.94" stroke="#222" stroke-width=".9"/>
<path d="M426.65 420.14L430.65 420.14" stroke="#222" stroke-width="1.3"/>
<rect x="425.8" y="423.85" width="5.7" height="60.95" fill="#E0921A"/>
<path d="M436.25 457.66L436.25 454.67" stroke="#222" stroke-width=".9"/>
<path d="M434.25 454.87L438.25 454.87" stroke="#222" stroke-width="1.3"/>
<rect x="433.5" y="457.66" width="5.5" height="27.14" fill="#2F6A50"/>
<path d="M444.65 480.89L444.65 480.43" stroke="#222" stroke-width=".9"/>
<path d="M442.65 480.63L446.65 480.63" stroke="#222" stroke-width="1.3"/>
<rect x="441.9" y="480.89" width="5.5" height="3.91" fill="#E0921A"/>
<path d="M452.2 482.5L452.2 482.04" stroke="#222" stroke-width=".9"/>
<path d="M450.2 482.24L454.2 482.24" stroke="#222" stroke-width="1.3"/>
<rect x="449.3" y="482.5" width="5.8" height="2.3" fill="#2F6A50"/>
<path d="M424.6 413.4L424.6 485.3" stroke="#1a1a1a" stroke-width="1.1"/>
<path d="M424.1 484.8L456.3 484.8" stroke="#1a1a1a" stroke-width="1.1"/>
<path d="M421.6 484.8L424.6 484.8" stroke="#1a1a1a" stroke-width="1"/>
<text x="418.7" y="487.05" font-size="6.3" stroke="#2a2a2a" stroke-width=".05" text-anchor="end" fill="#2a2a2a">0</text>
<path d="M421.6 461.8L424.6 461.8" stroke="#1a1a1a" stroke-width="1"/>
<text x="418.7" y="464.05" font-size="6.3" stroke="#2a2a2a" stroke-width=".05" text-anchor="end" fill="#2a2a2a">10</text>
<path d="M421.6 438.8L424.6 438.8" stroke="#1a1a1a" stroke-width="1"/>
<text x="418.7" y="441.05" font-size="6.3" stroke="#2a2a2a" stroke-width=".05" text-anchor="end" fill="#2a2a2a">20</text>
<path d="M421.6 415.8L424.6 415.8" stroke="#1a1a1a" stroke-width="1"/>
<text x="418.7" y="418.05" font-size="6.3" stroke="#2a2a2a" stroke-width=".05" text-anchor="end" fill="#2a2a2a">30</text>
<path d="M432.3 484.8L432.3 487.8" stroke="#1a1a1a" stroke-width="1"/>
<path d="M447.9 484.8L447.9 487.8" stroke="#1a1a1a" stroke-width="1"/>
<path d="M428 417L436.3 417" stroke="#333" stroke-width="1.15"/>
<text x="432.15" y="417.3" font-size="5.8" text-anchor="middle" font-weight="bold" fill="#222">**</text>
<path d="M442.6 467.5L450.8 467.5" stroke="#333" stroke-width="1.15"/>
<text x="446.7" y="467.8" font-size="5.8" text-anchor="middle" font-weight="bold" fill="#222">*</text>
<path d="M498.4 423.15L498.4 419.3" stroke="#222" stroke-width=".9"/>
<path d="M496.4 419.5L500.4 419.5" stroke="#222" stroke-width="1.3"/>
<rect x="494.8" y="423.15" width="7.2" height="61.65" fill="#E0921A"/>
<path d="M507.2 441.56L507.2 438.99" stroke="#222" stroke-width=".9"/>
<path d="M505.2 439.19L509.2 439.19" stroke="#222" stroke-width="1.3"/>
<rect x="504" y="441.56" width="6.4" height="43.24" fill="#2F6A50"/>
<path d="M493.6 413.9L493.6 485.3" stroke="#1a1a1a" stroke-width="1.1"/>
<path d="M493.1 484.8L511.6 484.8" stroke="#1a1a1a" stroke-width="1.1"/>
<path d="M490.6 484.8L493.6 484.8" stroke="#1a1a1a" stroke-width="1"/>
<text x="487.7" y="487.05" font-size="6.3" stroke="#2a2a2a" stroke-width=".05" text-anchor="end" fill="#2a2a2a">0</text>
<path d="M490.6 467.68L493.6 467.68" stroke="#1a1a1a" stroke-width="1"/>
<text x="487.7" y="469.93" font-size="6.3" stroke="#2a2a2a" stroke-width=".05" text-anchor="end" fill="#2a2a2a">2</text>
<path d="M490.6 450.55L493.6 450.55" stroke="#1a1a1a" stroke-width="1"/>
<text x="487.7" y="452.8" font-size="6.3" stroke="#2a2a2a" stroke-width=".05" text-anchor="end" fill="#2a2a2a">4</text>
<path d="M490.6 433.43L493.6 433.43" stroke="#1a1a1a" stroke-width="1"/>
<text x="487.7" y="435.68" font-size="6.3" stroke="#2a2a2a" stroke-width=".05" text-anchor="end" fill="#2a2a2a">6</text>
<path d="M490.6 416.3L493.6 416.3" stroke="#1a1a1a" stroke-width="1"/>
<text x="487.7" y="418.55" font-size="6.3" stroke="#2a2a2a" stroke-width=".05" text-anchor="end" fill="#2a2a2a">8</text>
<path d="M503.2 484.8L503.2 487.8" stroke="#1a1a1a" stroke-width="1"/>
<path d="M499.6 417L509.2 417" stroke="#333" stroke-width="1.15"/>
<text x="504.4" y="417.3" font-size="5.8" text-anchor="middle" font-weight="bold" fill="#222">***</text>
<text x="404.93" y="450.4" font-size="7.3" stroke="#262626" stroke-width=".18" text-anchor="middle" textLength="35.8" lengthAdjust="spacingAndGlyphs" transform="rotate(-90 404.93 450.4)">% of CD4<tspan baseline-shift="super" font-size="65%">+</tspan> T</text>
<text x="477.73" y="450.4" font-size="7.3" stroke="#262626" stroke-width=".18" text-anchor="middle" textLength="35.8" lengthAdjust="spacingAndGlyphs" transform="rotate(-90 477.73 450.4)">% of CD4<tspan baseline-shift="super" font-size="65%">+</tspan> T</text>
<path d="M428.5 520.39L428.5 513.27" stroke="#222" stroke-width=".9"/>
<path d="M426.5 513.47L430.5 513.47" stroke="#222" stroke-width="1.3"/>
<rect x="425.5" y="520.39" width="6" height="48.91" fill="#E0921A"/>
<path d="M436.25 544.64L436.25 541.21" stroke="#222" stroke-width=".9"/>
<path d="M434.25 541.41L438.25 541.41" stroke="#222" stroke-width="1.3"/>
<rect x="433.5" y="544.64" width="5.5" height="24.66" fill="#2F6A50"/>
<path d="M444.9 554.91L444.9 552.59" stroke="#222" stroke-width=".9"/>
<path d="M442.9 552.79L446.9 552.79" stroke="#222" stroke-width="1.3"/>
<rect x="441.9" y="554.91" width="6" height="14.38" fill="#E0921A"/>
<path d="M452.35 559.71L452.35 559.3" stroke="#222" stroke-width=".9"/>
<path d="M450.35 559.5L454.35 559.5" stroke="#222" stroke-width="1.3"/>
<rect x="449.6" y="559.71" width="5.5" height="9.59" fill="#2F6A50"/>
<path d="M424.3 498.4L424.3 569.8" stroke="#1a1a1a" stroke-width="1.1"/>
<path d="M423.8 569.3L456.3 569.3" stroke="#1a1a1a" stroke-width="1.1"/>
<path d="M421.3 569.3L424.3 569.3" stroke="#1a1a1a" stroke-width="1"/>
<text x="418.4" y="571.55" font-size="6.3" stroke="#2a2a2a" stroke-width=".05" text-anchor="end" fill="#2a2a2a">0</text>
<path d="M421.3 555.6L424.3 555.6" stroke="#1a1a1a" stroke-width="1"/>
<text x="418.4" y="557.85" font-size="6.3" stroke="#2a2a2a" stroke-width=".05" text-anchor="end" fill="#2a2a2a">100</text>
<path d="M421.3 541.9L424.3 541.9" stroke="#1a1a1a" stroke-width="1"/>
<text x="418.4" y="544.15" font-size="6.3" stroke="#2a2a2a" stroke-width=".05" text-anchor="end" fill="#2a2a2a">200</text>
<path d="M421.3 528.2L424.3 528.2" stroke="#1a1a1a" stroke-width="1"/>
<text x="418.4" y="530.45" font-size="6.3" stroke="#2a2a2a" stroke-width=".05" text-anchor="end" fill="#2a2a2a">300</text>
<path d="M421.3 514.5L424.3 514.5" stroke="#1a1a1a" stroke-width="1"/>
<text x="418.4" y="516.75" font-size="6.3" stroke="#2a2a2a" stroke-width=".05" text-anchor="end" fill="#2a2a2a">400</text>
<path d="M421.3 500.8L424.3 500.8" stroke="#1a1a1a" stroke-width="1"/>
<text x="418.4" y="503.05" font-size="6.3" stroke="#2a2a2a" stroke-width=".05" text-anchor="end" fill="#2a2a2a">500</text>
<path d="M432.3 569.3L432.3 572.3" stroke="#1a1a1a" stroke-width="1"/>
<path d="M447.9 569.3L447.9 572.3" stroke="#1a1a1a" stroke-width="1"/>
<path d="M428 501.3L436.3 501.3" stroke="#333" stroke-width="1.15"/>
<text x="432.15" y="501.6" font-size="5.8" text-anchor="middle" font-weight="bold" fill="#222">**</text>
<path d="M444.3 540.5L453.4 540.5" stroke="#333" stroke-width="1.15"/>
<text x="448.85" y="540.8" font-size="5.8" text-anchor="middle" font-weight="bold" fill="#222">*</text>
<path d="M498.4 526.1L498.4 520.58" stroke="#222" stroke-width=".9"/>
<path d="M496.4 520.78L500.4 520.78" stroke="#222" stroke-width="1.3"/>
<rect x="494.8" y="526.1" width="7.2" height="43.7" fill="#E0921A"/>
<path d="M507.2 541.28L507.2 537.6" stroke="#222" stroke-width=".9"/>
<path d="M505.2 537.8L509.2 537.8" stroke="#222" stroke-width="1.3"/>
<rect x="504" y="541.28" width="6.4" height="28.52" fill="#2F6A50"/>
<path d="M492.4 498.4L492.4 570.3" stroke="#1a1a1a" stroke-width="1.1"/>
<path d="M491.9 569.8L511.6 569.8" stroke="#1a1a1a" stroke-width="1.1"/>
<path d="M489.4 569.8L492.4 569.8" stroke="#1a1a1a" stroke-width="1"/>
<text x="486.5" y="572.05" font-size="6.3" stroke="#2a2a2a" stroke-width=".05" text-anchor="end" fill="#2a2a2a">0</text>
<path d="M489.4 546.8L492.4 546.8" stroke="#1a1a1a" stroke-width="1"/>
<text x="486.5" y="549.05" font-size="6.3" stroke="#2a2a2a" stroke-width=".05" text-anchor="end" fill="#2a2a2a">50</text>
<path d="M489.4 523.8L492.4 523.8" stroke="#1a1a1a" stroke-width="1"/>
<text x="486.5" y="526.05" font-size="6.3" stroke="#2a2a2a" stroke-width=".05" text-anchor="end" fill="#2a2a2a">100</text>
<path d="M489.4 500.8L492.4 500.8" stroke="#1a1a1a" stroke-width="1"/>
<text x="486.5" y="503.05" font-size="6.3" stroke="#2a2a2a" stroke-width=".05" text-anchor="end" fill="#2a2a2a">150</text>
<path d="M503.2 569.8L503.2 572.8" stroke="#1a1a1a" stroke-width="1"/>
<path d="M499 512.8L510 512.8" stroke="#333" stroke-width="1.15"/>
<text x="504.5" y="513.1" font-size="5.8" text-anchor="middle" font-weight="bold" fill="#222">*</text>
<text x="402.93" y="535.1" font-size="7.3" stroke="#262626" stroke-width=".18" text-anchor="middle" textLength="63.2" lengthAdjust="spacingAndGlyphs" transform="rotate(-90 402.93 535.1)"># in the spleen (x10<tspan baseline-shift="super" font-size="65%">3</tspan>)</text>
<text x="470.43" y="535.4" font-size="7.3" stroke="#262626" stroke-width=".18" text-anchor="middle" textLength="51.6" lengthAdjust="spacingAndGlyphs" transform="rotate(-90 470.43 535.4)"># in spleen (x10<tspan baseline-shift="super" font-size="65%">3</tspan>)</text>
<text x="433.4" y="577.6" font-size="6.4" stroke="#262626" stroke-width=".05" text-anchor="end" transform="rotate(-45 433.4 577.6)">Tr1</text>
<text x="448.4" y="576.2" font-size="6.4" stroke="#262626" stroke-width=".05" text-anchor="end" transform="rotate(-45 448.4 576.2)">IL-10<tspan baseline-shift="super" font-size="65%">+</tspan></text>
<text x="455.4" y="584.2" font-size="6.4" stroke="#262626" stroke-width=".05" text-anchor="end" transform="rotate(-45 455.4 584.2)">Treg</text>
<text x="499.8" y="576.2" font-size="6.4" stroke="#262626" stroke-width=".05" text-anchor="end" textLength="17" lengthAdjust="spacingAndGlyphs" transform="rotate(-45 499.8 576.2)">FoxP3<tspan baseline-shift="super" font-size="65%">+</tspan></text>
<text x="510" y="584.2" font-size="6.4" stroke="#262626" stroke-width=".05" text-anchor="end" transform="rotate(-45 510 584.2)">Treg</text>
<rect x="441.9" y="398.2" width="4.6" height="4.2" fill="#E0921A"/>
<text x="449.8" y="402.2" font-size="5.4" stroke="#262626" stroke-width=".05">B6.WT</text>
<rect x="441.9" y="406.2" width="4.6" height="4.2" fill="#2F6A50"/>
<text x="449.8" y="410.3" font-size="5.4" stroke="#262626" stroke-width=".05">sgp130Fc</text>
<path d="M44.3 639.26L44.3 633.75" stroke="#222" stroke-width=".9"/>
<path d="M42.3 633.95L46.3 633.95" stroke="#222" stroke-width="1.3"/>
<rect x="41.5" y="639.26" width="5.6" height="33.94" fill="#E0921A"/>
<path d="M52.05 619.99L52.05 614.49" stroke="#222" stroke-width=".9"/>
<path d="M50.05 614.69L54.05 614.69" stroke="#222" stroke-width="1.3"/>
<rect x="49.3" y="619.99" width="5.5" height="53.21" fill="#26468C"/>
<path d="M61 656.23L61 654.39" stroke="#222" stroke-width=".9"/>
<path d="M59 654.59L63 654.59" stroke="#222" stroke-width="1.3"/>
<rect x="58.3" y="656.23" width="5.4" height="16.97" fill="#E0921A"/>
<path d="M68.8 648.89L68.8 646.14" stroke="#222" stroke-width=".9"/>
<path d="M66.8 646.34L70.8 646.34" stroke="#222" stroke-width="1.3"/>
<rect x="66.1" y="648.89" width="5.4" height="24.31" fill="#26468C"/>
<path d="M39.4 602L39.4 673.7" stroke="#1a1a1a" stroke-width="1.1"/>
<path d="M38.9 673.2L73.5 673.2" stroke="#1a1a1a" stroke-width="1.1"/>
<path d="M36.4 673.2L39.4 673.2" stroke="#1a1a1a" stroke-width="1"/>
<text x="33.5" y="675.45" font-size="6.3" stroke="#2a2a2a" stroke-width=".05" text-anchor="end" fill="#2a2a2a">0</text>
<path d="M36.4 650.27L39.4 650.27" stroke="#1a1a1a" stroke-width="1"/>
<text x="33.5" y="652.52" font-size="6.3" stroke="#2a2a2a" stroke-width=".05" text-anchor="end" fill="#2a2a2a">50</text>
<path d="M36.4 627.33L39.4 627.33" stroke="#1a1a1a" stroke-width="1"/>
<text x="33.5" y="629.58" font-size="6.3" stroke="#2a2a2a" stroke-width=".05" text-anchor="end" fill="#2a2a2a">100</text>
<path d="M36.4 604.4L39.4 604.4" stroke="#1a1a1a" stroke-width="1"/>
<text x="33.5" y="606.65" font-size="6.3" stroke="#2a2a2a" stroke-width=".05" text-anchor="end" fill="#2a2a2a">150</text>
<path d="M47.6 673.2L47.6 676.2" stroke="#1a1a1a" stroke-width="1"/>
<path d="M64.9 673.2L64.9 676.2" stroke="#1a1a1a" stroke-width="1"/>
<path d="M43.6 606.6L54 606.6" stroke="#333" stroke-width="1.15"/>
<text x="48.8" y="606.9" font-size="5.8" text-anchor="middle" font-weight="bold" fill="#222">*</text>
<path d="M60.9 631.2L70.9 631.2" stroke="#333" stroke-width="1.15"/>
<text x="65.9" y="631.5" font-size="5.8" text-anchor="middle" font-weight="bold" fill="#222">*</text>
<text x="16.93" y="639" font-size="7.3" stroke="#262626" stroke-width=".18" text-anchor="middle" textLength="35.5" lengthAdjust="spacingAndGlyphs" transform="rotate(-90 16.93 639)">IL-6 (pg/mL)</text>
<text x="47.6" y="685.2" font-size="6.3" stroke="#262626" stroke-width=".05" text-anchor="middle">D+4</text>
<text x="64.9" y="685.2" font-size="6.3" stroke="#262626" stroke-width=".05" text-anchor="middle">D+7</text>
<path d="M118.55 651.18L118.55 649.12" stroke="#222" stroke-width=".9"/>
<path d="M116.55 649.32L120.55 649.32" stroke="#222" stroke-width="1.3"/>
<rect x="115.8" y="651.18" width="5.5" height="22.02" fill="#E0921A"/>
<path d="M126.35 627.45L126.35 615.41" stroke="#222" stroke-width=".9"/>
<path d="M124.35 615.61L128.35 615.61" stroke="#222" stroke-width="1.3"/>
<rect x="123.6" y="627.45" width="5.5" height="45.75" fill="#26468C"/>
<path d="M135.35 660.13L135.35 657.89" stroke="#222" stroke-width=".9"/>
<path d="M133.35 658.09L137.35 658.09" stroke="#222" stroke-width="1.3"/>
<rect x="132.6" y="660.13" width="5.5" height="13.07" fill="#E0921A"/>
<path d="M143.15 663.22L143.15 661.16" stroke="#222" stroke-width=".9"/>
<path d="M141.15 661.36L145.15 661.36" stroke="#222" stroke-width="1.3"/>
<rect x="140.4" y="663.22" width="5.5" height="9.98" fill="#26468C"/>
<path d="M113.5 602L113.5 673.7" stroke="#1a1a1a" stroke-width="1.1"/>
<path d="M113 673.2L147.6 673.2" stroke="#1a1a1a" stroke-width="1.1"/>
<path d="M110.5 673.2L113.5 673.2" stroke="#1a1a1a" stroke-width="1"/>
<text x="107.6" y="675.45" font-size="6.3" stroke="#2a2a2a" stroke-width=".05" text-anchor="end" fill="#2a2a2a">0</text>
<path d="M110.5 656L113.5 656" stroke="#1a1a1a" stroke-width="1"/>
<text x="107.6" y="658.25" font-size="6.3" stroke="#2a2a2a" stroke-width=".05" text-anchor="end" fill="#2a2a2a">5</text>
<path d="M110.5 638.8L113.5 638.8" stroke="#1a1a1a" stroke-width="1"/>
<text x="107.6" y="641.05" font-size="6.3" stroke="#2a2a2a" stroke-width=".05" text-anchor="end" fill="#2a2a2a">10</text>
<path d="M110.5 621.6L113.5 621.6" stroke="#1a1a1a" stroke-width="1"/>
<text x="107.6" y="623.85" font-size="6.3" stroke="#2a2a2a" stroke-width=".05" text-anchor="end" fill="#2a2a2a">15</text>
<path d="M110.5 604.4L113.5 604.4" stroke="#1a1a1a" stroke-width="1"/>
<text x="107.6" y="606.65" font-size="6.3" stroke="#2a2a2a" stroke-width=".05" text-anchor="end" fill="#2a2a2a">20</text>
<path d="M121.9 673.2L121.9 676.2" stroke="#1a1a1a" stroke-width="1"/>
<path d="M138.6 673.2L138.6 676.2" stroke="#1a1a1a" stroke-width="1"/>
<text x="95.83" y="639" font-size="7.3" stroke="#262626" stroke-width=".18" text-anchor="middle" textLength="44" lengthAdjust="spacingAndGlyphs" transform="rotate(-90 95.83 639)">IL-17A (pg/mL)</text>
<text x="121.9" y="685.2" font-size="6.3" stroke="#262626" stroke-width=".05" text-anchor="middle">D+4</text>
<text x="138.6" y="685.2" font-size="6.3" stroke="#262626" stroke-width=".05" text-anchor="middle">D+7</text>
<path d="M193.05 663.48L193.05 659.44" stroke="#222" stroke-width=".9"/>
<path d="M191.05 659.64L195.05 659.64" stroke="#222" stroke-width="1.3"/>
<rect x="190.3" y="663.48" width="5.5" height="9.72" fill="#E0921A"/>
<path d="M200.8 635.79L200.8 620.74" stroke="#222" stroke-width=".9"/>
<path d="M198.8 620.94L202.8 620.94" stroke="#222" stroke-width="1.3"/>
<rect x="198" y="635.79" width="5.6" height="37.41" fill="#26468C"/>
<path d="M209.9 651.7L209.9 645.68" stroke="#222" stroke-width=".9"/>
<path d="M207.9 645.88L211.9 645.88" stroke="#222" stroke-width="1.3"/>
<rect x="207" y="651.7" width="5.8" height="21.5" fill="#E0921A"/>
<path d="M217.55 653.42L217.55 649.55" stroke="#222" stroke-width=".9"/>
<path d="M215.55 649.75L219.55 649.75" stroke="#222" stroke-width="1.3"/>
<rect x="214.9" y="653.42" width="5.3" height="19.78" fill="#26468C"/>
<path d="M188.2 602L188.2 673.7" stroke="#1a1a1a" stroke-width="1.1"/>
<path d="M187.7 673.2L222.3 673.2" stroke="#1a1a1a" stroke-width="1.1"/>
<path d="M185.2 673.2L188.2 673.2" stroke="#1a1a1a" stroke-width="1"/>
<text x="182.3" y="675.45" font-size="6.3" stroke="#2a2a2a" stroke-width=".05" text-anchor="end" fill="#2a2a2a">0</text>
<path d="M185.2 656L188.2 656" stroke="#1a1a1a" stroke-width="1"/>
<text x="182.3" y="658.25" font-size="6.3" stroke="#2a2a2a" stroke-width=".05" text-anchor="end" fill="#2a2a2a">20</text>
<path d="M185.2 638.8L188.2 638.8" stroke="#1a1a1a" stroke-width="1"/>
<text x="182.3" y="641.05" font-size="6.3" stroke="#2a2a2a" stroke-width=".05" text-anchor="end" fill="#2a2a2a">40</text>
<path d="M185.2 621.6L188.2 621.6" stroke="#1a1a1a" stroke-width="1"/>
<text x="182.3" y="623.85" font-size="6.3" stroke="#2a2a2a" stroke-width=".05" text-anchor="end" fill="#2a2a2a">60</text>
<path d="M185.2 604.4L188.2 604.4" stroke="#1a1a1a" stroke-width="1"/>
<text x="182.3" y="606.65" font-size="6.3" stroke="#2a2a2a" stroke-width=".05" text-anchor="end" fill="#2a2a2a">80</text>
<path d="M196.7 673.2L196.7 676.2" stroke="#1a1a1a" stroke-width="1"/>
<path d="M213.3 673.2L213.3 676.2" stroke="#1a1a1a" stroke-width="1"/>
<text x="170.43" y="639" font-size="7.3" stroke="#262626" stroke-width=".18" text-anchor="middle" textLength="44" lengthAdjust="spacingAndGlyphs" transform="rotate(-90 170.43 639)">IL-17F (pg/mL)</text>
<text x="196.7" y="685.2" font-size="6.3" stroke="#262626" stroke-width=".05" text-anchor="middle">D+4</text>
<text x="213.3" y="685.2" font-size="6.3" stroke="#262626" stroke-width=".05" text-anchor="middle">D+7</text>
<path d="M276.75 643.62L276.75 638.11" stroke="#222" stroke-width=".9"/>
<path d="M274.75 638.31L278.75 638.31" stroke="#222" stroke-width="1.3"/>
<rect x="273.9" y="643.62" width="5.7" height="29.58" fill="#E0921A"/>
<path d="M284.45 622.63L284.45 615.06" stroke="#222" stroke-width=".9"/>
<path d="M282.45 615.26L286.45 615.26" stroke="#222" stroke-width="1.3"/>
<rect x="281.7" y="622.63" width="5.5" height="50.57" fill="#26468C"/>
<path d="M293.55 639.83L293.55 636.74" stroke="#222" stroke-width=".9"/>
<path d="M291.55 636.94L295.55 636.94" stroke="#222" stroke-width="1.3"/>
<rect x="290.7" y="639.83" width="5.7" height="33.37" fill="#E0921A"/>
<path d="M301.2 642.58L301.2 639.14" stroke="#222" stroke-width=".9"/>
<path d="M299.2 639.34L303.2 639.34" stroke="#222" stroke-width="1.3"/>
<rect x="298.5" y="642.58" width="5.4" height="30.62" fill="#26468C"/>
<path d="M271.9 602L271.9 673.7" stroke="#1a1a1a" stroke-width="1.1"/>
<path d="M271.4 673.2L306 673.2" stroke="#1a1a1a" stroke-width="1.1"/>
<path d="M268.9 673.2L271.9 673.2" stroke="#1a1a1a" stroke-width="1"/>
<text x="266" y="675.45" font-size="6.3" stroke="#2a2a2a" stroke-width=".05" text-anchor="end" fill="#2a2a2a">0</text>
<path d="M268.9 659.44L271.9 659.44" stroke="#1a1a1a" stroke-width="1"/>
<text x="266" y="661.69" font-size="6.3" stroke="#2a2a2a" stroke-width=".05" text-anchor="end" fill="#2a2a2a">200</text>
<path d="M268.9 645.68L271.9 645.68" stroke="#1a1a1a" stroke-width="1"/>
<text x="266" y="647.93" font-size="6.3" stroke="#2a2a2a" stroke-width=".05" text-anchor="end" fill="#2a2a2a">400</text>
<path d="M268.9 631.92L271.9 631.92" stroke="#1a1a1a" stroke-width="1"/>
<text x="266" y="634.17" font-size="6.3" stroke="#2a2a2a" stroke-width=".05" text-anchor="end" fill="#2a2a2a">600</text>
<path d="M268.9 618.16L271.9 618.16" stroke="#1a1a1a" stroke-width="1"/>
<text x="266" y="620.41" font-size="6.3" stroke="#2a2a2a" stroke-width=".05" text-anchor="end" fill="#2a2a2a">800</text>
<path d="M268.9 604.4L271.9 604.4" stroke="#1a1a1a" stroke-width="1"/>
<text x="266" y="606.65" font-size="6.3" stroke="#2a2a2a" stroke-width=".05" text-anchor="end" fill="#2a2a2a">1,000</text>
<path d="M280.3 673.2L280.3 676.2" stroke="#1a1a1a" stroke-width="1"/>
<path d="M297.3 673.2L297.3 676.2" stroke="#1a1a1a" stroke-width="1"/>
<path d="M276.5 608.7L285.2 608.7" stroke="#333" stroke-width="1.15"/>
<text x="280.85" y="609" font-size="5.8" text-anchor="middle" font-weight="bold" fill="#222">*</text>
<text x="245.63" y="639" font-size="7.3" stroke="#262626" stroke-width=".18" text-anchor="middle" textLength="39" lengthAdjust="spacingAndGlyphs" transform="rotate(-90 245.63 639)">IFN&#947; (pg/mL)</text>
<text x="280.3" y="685.2" font-size="6.3" stroke="#262626" stroke-width=".05" text-anchor="middle">D+4</text>
<text x="297.3" y="685.2" font-size="6.3" stroke="#262626" stroke-width=".05" text-anchor="middle">D+7</text>
<path d="M351.25 662.88L351.25 662.02" stroke="#222" stroke-width=".9"/>
<path d="M349.25 662.22L353.25 662.22" stroke="#222" stroke-width="1.3"/>
<rect x="348.4" y="662.88" width="5.7" height="10.32" fill="#E0921A"/>
<path d="M359.05 656.6L359.05 654.28" stroke="#222" stroke-width=".9"/>
<path d="M357.05 654.48L361.05 654.48" stroke="#222" stroke-width="1.3"/>
<rect x="356.2" y="656.6" width="5.7" height="16.6" fill="#26468C"/>
<path d="M368.15 628.91L368.15 625.47" stroke="#222" stroke-width=".9"/>
<path d="M366.15 625.67L370.15 625.67" stroke="#222" stroke-width="1.3"/>
<rect x="365.4" y="628.91" width="5.5" height="44.29" fill="#E0921A"/>
<path d="M375.95 618.59L375.95 615.15" stroke="#222" stroke-width=".9"/>
<path d="M373.95 615.35L377.95 615.35" stroke="#222" stroke-width="1.3"/>
<rect x="373.2" y="618.59" width="5.5" height="54.61" fill="#26468C"/>
<path d="M346.3 602L346.3 673.7" stroke="#1a1a1a" stroke-width="1.1"/>
<path d="M345.8 673.2L381 673.2" stroke="#1a1a1a" stroke-width="1.1"/>
<path d="M343.3 673.2L346.3 673.2" stroke="#1a1a1a" stroke-width="1"/>
<text x="340.4" y="675.45" font-size="6.3" stroke="#2a2a2a" stroke-width=".05" text-anchor="end" fill="#2a2a2a">0</text>
<path d="M343.3 656L346.3 656" stroke="#1a1a1a" stroke-width="1"/>
<text x="340.4" y="658.25" font-size="6.3" stroke="#2a2a2a" stroke-width=".05" text-anchor="end" fill="#2a2a2a">20</text>
<path d="M343.3 638.8L346.3 638.8" stroke="#1a1a1a" stroke-width="1"/>
<text x="340.4" y="641.05" font-size="6.3" stroke="#2a2a2a" stroke-width=".05" text-anchor="end" fill="#2a2a2a">40</text>
<path d="M343.3 621.6L346.3 621.6" stroke="#1a1a1a" stroke-width="1"/>
<text x="340.4" y="623.85" font-size="6.3" stroke="#2a2a2a" stroke-width=".05" text-anchor="end" fill="#2a2a2a">60</text>
<path d="M343.3 604.4L346.3 604.4" stroke="#1a1a1a" stroke-width="1"/>
<text x="340.4" y="606.65" font-size="6.3" stroke="#2a2a2a" stroke-width=".05" text-anchor="end" fill="#2a2a2a">80</text>
<path d="M355 673.2L355 676.2" stroke="#1a1a1a" stroke-width="1"/>
<path d="M372 673.2L372 676.2" stroke="#1a1a1a" stroke-width="1"/>
<path d="M351.9 632.9L360.2 632.9" stroke="#333" stroke-width="1.15"/>
<text x="356.05" y="633.2" font-size="5.8" text-anchor="middle" font-weight="bold" fill="#222">*</text>
<text x="328.63" y="638.7" font-size="7.3" stroke="#262626" stroke-width=".18" text-anchor="middle" textLength="36" lengthAdjust="spacingAndGlyphs" transform="rotate(-90 328.63 638.7)">TNF (pg/mL)</text>
<text x="355" y="685.2" font-size="6.3" stroke="#262626" stroke-width=".05" text-anchor="middle">D+4</text>
<text x="372" y="685.2" font-size="6.3" stroke="#262626" stroke-width=".05" text-anchor="middle">D+7</text>
<path d="M425.55 649.98L425.55 646.54" stroke="#222" stroke-width=".9"/>
<path d="M423.55 646.74L427.55 646.74" stroke="#222" stroke-width="1.3"/>
<rect x="422.7" y="649.98" width="5.7" height="23.22" fill="#E0921A"/>
<path d="M433.6 625.47L433.6 613.86" stroke="#222" stroke-width=".9"/>
<path d="M431.6 614.06L435.6 614.06" stroke="#222" stroke-width="1.3"/>
<rect x="431" y="625.47" width="5.2" height="47.73" fill="#26468C"/>
<path d="M442.4 659.01L442.4 655.14" stroke="#222" stroke-width=".9"/>
<path d="M440.4 655.34L444.4 655.34" stroke="#222" stroke-width="1.3"/>
<rect x="439.5" y="659.01" width="5.8" height="14.19" fill="#E0921A"/>
<path d="M450.45 657.72L450.45 653.42" stroke="#222" stroke-width=".9"/>
<path d="M448.45 653.62L452.45 653.62" stroke="#222" stroke-width="1.3"/>
<rect x="447.9" y="657.72" width="5.1" height="15.48" fill="#26468C"/>
<path d="M420.6 602L420.6 673.7" stroke="#1a1a1a" stroke-width="1.1"/>
<path d="M420.1 673.2L455 673.2" stroke="#1a1a1a" stroke-width="1.1"/>
<path d="M417.6 673.2L420.6 673.2" stroke="#1a1a1a" stroke-width="1"/>
<text x="414.7" y="675.45" font-size="6.3" stroke="#2a2a2a" stroke-width=".05" text-anchor="end" fill="#2a2a2a">0</text>
<path d="M417.6 656L420.6 656" stroke="#1a1a1a" stroke-width="1"/>
<text x="414.7" y="658.25" font-size="6.3" stroke="#2a2a2a" stroke-width=".05" text-anchor="end" fill="#2a2a2a">20</text>
<path d="M417.6 638.8L420.6 638.8" stroke="#1a1a1a" stroke-width="1"/>
<text x="414.7" y="641.05" font-size="6.3" stroke="#2a2a2a" stroke-width=".05" text-anchor="end" fill="#2a2a2a">40</text>
<path d="M417.6 621.6L420.6 621.6" stroke="#1a1a1a" stroke-width="1"/>
<text x="414.7" y="623.85" font-size="6.3" stroke="#2a2a2a" stroke-width=".05" text-anchor="end" fill="#2a2a2a">60</text>
<path d="M417.6 604.4L420.6 604.4" stroke="#1a1a1a" stroke-width="1"/>
<text x="414.7" y="606.65" font-size="6.3" stroke="#2a2a2a" stroke-width=".05" text-anchor="end" fill="#2a2a2a">80</text>
<path d="M426.6 673.2L426.6 676.2" stroke="#1a1a1a" stroke-width="1"/>
<path d="M444.2 673.2L444.2 676.2" stroke="#1a1a1a" stroke-width="1"/>
<text x="401.93" y="638.3" font-size="7.3" stroke="#262626" stroke-width=".18" text-anchor="middle" textLength="49" lengthAdjust="spacingAndGlyphs" transform="rotate(-90 401.93 638.3)">GM-CSF (pg/mL)</text>
<text x="426.6" y="685.2" font-size="6.3" stroke="#262626" stroke-width=".05" text-anchor="middle">D+4</text>
<text x="444.2" y="685.2" font-size="6.3" stroke="#262626" stroke-width=".05" text-anchor="middle">D+7</text>
<rect x="446" y="623.4" width="4.7" height="4.5" fill="#E0921A"/>
<text x="453.8" y="627.6" font-size="5.4" stroke="#262626" stroke-width=".05">B6.WT</text>
<rect x="446" y="631.2" width="4.7" height="4.5" fill="#26468C"/>
<text x="453.8" y="635.6" font-size="5.4" stroke="#262626" stroke-width=".05">sgp130Fc</text>
<g transform="translate(22 23.5) scale(.1)" stroke-width="4.8" fill="none"><g stroke="#3c3c3c"><use href="#t0_0_0_0"/><use href="#t0_0_0_1"/><use href="#t0_0_5_0"/><use href="#t0_0_5_1"/><use href="#t0_1_8_0"/><use href="#t0_9_2_1"/><use href="#t0_9_7_0"/><use href="#t0_9_7_1"/></g><g stroke="#4c4c4c"><use href="#t0_0_2_0"/><use href="#t0_0_2_1"/><use href="#t0_0_7_0"/><use href="#t0_0_7_1"/><use href="#t0_1_0_1"/><use href="#t0_1_5_0"/><use href="#t0_1_5_1"/></g><g stroke="#5e5e5e"><use href="#t0_0_4_0"/><use href="#t0_0_4_1"/><use href="#t0_0_9_0"/><use href="#t0_0_9_1"/><use href="#t0_1_2_0"/><use href="#t0_1_2_1"/><use href="#t0_9_1_0"/><use href="#t0_9_1_1"/></g><g stroke="#727272"><use href="#t0_0_1_0"/><use href="#t0_0_1_1"/><use href="#t0_0_6_0"/><use href="#t0_0_6_1"/><use href="#t0_1_4_1"/><use href="#t0_1_9_0"/><use href="#t0_1_9_1"/><use href="#t0_9_8_0"/></g><g stroke="#8a8a8a"><use href="#t0_0_3_0"/><use href="#t0_0_3_1"/><use href="#t0_0_8_0"/><use href="#t0_0_8_1"/><use href="#t0_1_1_0"/><use href="#t0_1_6_1"/><use href="#t0_9_5_0"/></g><g stroke="#4290f2" stroke-width="6.4"><use href="#t0_2_0_0"/><use href="#t0_2_0_1"/><use href="#t0_2_1_0"/><use href="#t0_2_1_1"/><use href="#t0_2_2_0"/><use href="#t0_2_2_1"/><use href="#t0_2_3_0"/><use href="#t0_2_3_1"/><use href="#t0_3_0_0"/><use href="#t0_3_0_1"/><use href="#t0_3_1_0"/><use href="#t0_3_1_1"/><use href="#t0_3_2_0"/><use href="#t0_3_2_1"/><use href="#t0_3_3_1"/><use href="#t0_4_0_0"/><use href="#t0_4_1_0"/><use href="#t0_4_1_1"/><use href="#t0_4_2_1"/><use href="#t0_4_3_0"/><use href="#t0_4_3_1"/><use href="#t0_5_0_0"/><use href="#t0_5_0_1"/><use href="#t0_5_1_0"/><use href="#t0_5_1_1"/><use href="#t0_5_2_0"/><use href="#t0_5_2_1"/><use href="#t0_5_3_0"/><use href="#t0_5_3_1"/><use href="#t0_6_0_0"/><use href="#t0_6_0_1"/><use href="#t0_6_1_0"/><use href="#t0_6_1_1"/><use href="#t0_6_2_0"/><use href="#t0_6_2_1"/><use href="#t0_6_3_0"/><use href="#t0_6_3_1"/><use href="#t0_7_0_0"/><use href="#t0_7_0_1"/><use href="#t0_7_1_0"/><use href="#t0_7_1_1"/><use href="#t0_7_2_0"/><use href="#t0_7_2_1"/><use href="#t0_7_3_0"/><use href="#t0_7_3_1"/><use href="#t0_8_0_1"/><use href="#t0_8_1_1"/><use href="#t0_8_2_0"/><use href="#t0_8_2_1"/><use href="#t0_8_3_0"/><use href="#t0_8_3_1"/><use href="#t0_10_0_1"/><use href="#t0_10_1_1"/><use href="#t0_10_2_0"/><use href="#t0_10_2_1"/><use href="#t0_10_3_0"/><use href="#t0_10_3_1"/><use href="#t0_11_0_0"/><use href="#t0_11_0_1"/><use href="#t0_11_1_0"/><use href="#t0_11_1_1"/><use href="#t0_11_2_0"/><use href="#t0_11_3_0"/><use href="#t0_11_3_1"/><use href="#t0_12_0_0"/><use href="#t0_12_0_1"/><use href="#t0_12_1_0"/><use href="#t0_12_1_1"/><use href="#t0_12_2_0"/><use href="#t0_12_2_1"/><use href="#t0_12_3_0"/></g><g stroke="#70aef6" stroke-width="6.4"><use href="#t0_2_4_0"/><use href="#t0_2_4_1"/><use href="#t0_2_5_0"/><use href="#t0_2_5_1"/><use href="#t0_2_6_0"/><use href="#t0_2_6_1"/><use href="#t0_2_7_0"/><use href="#t0_2_7_1"/><use href="#t0_2_8_0"/><use href="#t0_2_8_1"/><use href="#t0_2_9_0"/><use href="#t0_2_9_1"/><use href="#t0_3_4_0"/><use href="#t0_3_5_0"/><use href="#t0_3_5_1"/><use href="#t0_3_6_0"/><use href="#t0_3_6_1"/><use href="#t0_3_7_0"/><use href="#t0_3_7_1"/><use href="#t0_3_8_0"/><use href="#t0_3_8_1"/><use href="#t0_3_9_1"/><use href="#t0_4_4_1"/><use href="#t0_4_5_0"/><use href="#t0_4_5_1"/><use href="#t0_4_6_1"/><use href="#t0_4_7_1"/><use href="#t0_4_8_1"/><use href="#t0_4_9_0"/><use href="#t0_4_9_1"/><use href="#t0_5_4_0"/><use href="#t0_5_4_1"/><use href="#t0_5_5_0"/><use href="#t0_5_5_1"/><use href="#t0_5_6_0"/><use href="#t0_5_6_1"/><use href="#t0_5_7_0"/><use href="#t0_5_7_1"/><use href="#t0_5_8_0"/><use href="#t0_5_8_1"/><use href="#t0_5_9_0"/><use href="#t0_5_9_1"/><use href="#t0_6_4_0"/><use href="#t0_6_4_1"/><use href="#t0_6_5_0"/><use href="#t0_6_5_1"/><use href="#t0_6_6_0"/><use href="#t0_6_6_1"/><use href="#t0_6_7_0"/><use href="#t0_6_7_1"/><use href="#t0_6_8_0"/><use href="#t0_6_8_1"/><use href="#t0_6_9_0"/><use href="#t0_6_9_1"/><use href="#t0_7_4_0"/><use href="#t0_7_4_1"/><use href="#t0_7_5_0"/><use href="#t0_7_5_1"/><use href="#t0_7_6_0"/><use href="#t0_7_6_1"/><use href="#t0_7_7_0"/><use href="#t0_7_7_1"/><use href="#t0_7_8_0"/><use href="#t0_7_9_0"/><use href="#t0_7_9_1"/><use href="#t0_8_4_0"/><use href="#t0_8_4_1"/><use href="#t0_8_5_1"/><use href="#t0_8_6_1"/><use href="#t0_8_7_1"/><use href="#t0_8_8_0"/><use href="#t0_8_8_1"/><use href="#t0_8_9_0"/><use href="#t0_8_9_1"/><use href="#t0_10_4_0"/><use href="#t0_10_4_1"/><use href="#t0_10_5_0"/><use href="#t0_10_5_1"/><use href="#t0_10_6_0"/><use href="#t0_10_6_1"/><use href="#t0_10_7_0"/><use href="#t0_10_7_1"/><use href="#t0_10_8_0"/><use href="#t0_10_9_0"/><use href="#t0_11_5_0"/><use href="#t0_11_5_1"/><use href="#t0_11_6_0"/><use href="#t0_11_6_1"/><use href="#t0_11_7_1"/><use href="#t0_11_8_0"/><use href="#t0_11_8_1"/><use href="#t0_11_9_1"/><use href="#t0_12_4_0"/><use href="#t0_12_4_1"/><use href="#t0_12_5_0"/><use href="#t0_12_5_1"/><use href="#t0_12_6_1"/><use href="#t0_12_7_0"/><use href="#t0_12_7_1"/><use href="#t0_12_8_0"/><use href="#t0_12_8_1"/><use href="#t0_12_9_0"/><use href="#t0_12_9_1"/></g></g>
<text x="80" y="80.1" font-size="7.2" stroke="#1a1a1a" stroke-width=".18" text-anchor="end" fill="#1a1a1a" textLength="17.7" lengthAdjust="spacingAndGlyphs">67.6%</text>
<g transform="translate(22 82.4) scale(.1)" stroke-width="4.8" fill="none"><g stroke="#424242"><use href="#t1_0_0_0"/><use href="#t1_0_0_1"/><use href="#t1_0_5_0"/><use href="#t1_0_5_1"/><use href="#t1_1_3_0"/><use href="#t1_9_2_0"/><use href="#t1_9_7_1"/></g><g stroke="#525252"><use href="#t1_0_2_0"/><use href="#t1_0_2_1"/><use href="#t1_0_7_0"/><use href="#t1_0_7_1"/><use href="#t1_1_0_1"/><use href="#t1_1_5_0"/><use href="#t1_1_5_1"/><use href="#t1_9_4_0"/><use href="#t1_9_9_1"/></g><g stroke="#646464"><use href="#t1_0_4_0"/><use href="#t1_0_4_1"/><use href="#t1_0_9_0"/><use href="#t1_0_9_1"/><use href="#t1_1_2_0"/><use href="#t1_1_2_1"/><use href="#t1_1_7_0"/><use href="#t1_1_7_1"/><use href="#t1_9_1_0"/></g><g stroke="#7a7a7a"><use href="#t1_0_1_0"/><use href="#t1_0_1_1"/><use href="#t1_0_6_0"/><use href="#t1_0_6_1"/><use href="#t1_1_4_0"/><use href="#t1_1_4_1"/><use href="#t1_1_9_1"/></g><g stroke="#949494"><use href="#t1_0_3_0"/><use href="#t1_0_3_1"/><use href="#t1_0_8_0"/><use href="#t1_0_8_1"/><use href="#t1_1_6_1"/><use href="#t1_9_0_1"/><use href="#t1_9_5_0"/></g><g stroke="#4290f2" stroke-width="6.4"><use href="#t1_2_0_0"/><use href="#t1_2_0_1"/><use href="#t1_2_1_0"/><use href="#t1_2_1_1"/><use href="#t1_2_2_0"/><use href="#t1_2_2_1"/><use href="#t1_2_3_0"/><use href="#t1_2_3_1"/><use href="#t1_3_0_0"/><use href="#t1_3_0_1"/><use href="#t1_3_2_0"/><use href="#t1_3_2_1"/><use href="#t1_3_3_0"/><use href="#t1_4_0_1"/><use href="#t1_4_1_1"/><use href="#t1_4_2_1"/><use href="#t1_4_3_0"/><use href="#t1_4_3_1"/><use href="#t1_5_0_0"/><use href="#t1_5_0_1"/><use href="#t1_5_1_0"/><use href="#t1_5_1_1"/><use href="#t1_5_2_0"/><use href="#t1_5_2_1"/><use href="#t1_5_3_0"/><use href="#t1_5_3_1"/><use href="#t1_6_0_0"/><use href="#t1_6_0_1"/><use href="#t1_6_1_0"/><use href="#t1_6_1_1"/><use href="#t1_6_2_0"/><use href="#t1_6_2_1"/><use href="#t1_6_3_0"/><use href="#t1_6_3_1"/><use href="#t1_7_0_0"/><use href="#t1_7_0_1"/><use href="#t1_7_1_0"/><use href="#t1_7_1_1"/><use href="#t1_7_2_0"/><use href="#t1_7_2_1"/><use href="#t1_7_3_0"/><use href="#t1_7_3_1"/><use href="#t1_8_0_0"/><use href="#t1_8_0_1"/><use href="#t1_8_1_0"/><use href="#t1_8_1_1"/><use href="#t1_8_2_0"/><use href="#t1_8_2_1"/><use href="#t1_8_3_1"/><use href="#t1_10_0_0"/><use href="#t1_10_0_1"/><use href="#t1_10_1_1"/><use href="#t1_10_3_0"/><use href="#t1_10_3_1"/><use href="#t1_11_0_0"/><use href="#t1_11_0_1"/><use href="#t1_11_1_0"/><use href="#t1_11_2_0"/><use href="#t1_11_2_1"/><use href="#t1_11_3_0"/><use href="#t1_12_0_1"/><use href="#t1_12_1_0"/><use href="#t1_12_1_1"/><use href="#t1_12_2_0"/><use href="#t1_12_2_1"/><use href="#t1_12_3_0"/><use href="#t1_12_3_1"/></g><g stroke="#70aef6" stroke-width="6.4"><use href="#t1_2_4_0"/><use href="#t1_2_4_1"/><use href="#t1_2_5_0"/><use href="#t1_2_5_1"/><use href="#t1_2_6_0"/><use href="#t1_2_6_1"/><use href="#t1_2_7_0"/><use href="#t1_2_7_1"/><use href="#t1_2_8_0"/><use href="#t1_2_8_1"/><use href="#t1_2_9_0"/><use href="#t1_2_9_1"/><use href="#t1_3_4_0"/><use href="#t1_3_4_1"/><use href="#t1_3_5_0"/><use href="#t1_3_5_1"/><use href="#t1_3_6_1"/><use href="#t1_3_7_0"/><use href="#t1_3_8_1"/><use href="#t1_3_9_1"/><use href="#t1_4_4_0"/><use href="#t1_4_5_0"/><use href="#t1_4_5_1"/><use href="#t1_4_6_0"/><use href="#t1_4_6_1"/><use href="#t1_4_7_1"/><use href="#t1_4_8_0"/><use href="#t1_4_8_1"/><use href="#t1_4_9_0"/><use href="#t1_5_4_0"/><use href="#t1_5_4_1"/><use href="#t1_5_5_0"/><use href="#t1_5_5_1"/><use href="#t1_5_6_0"/><use href="#t1_5_6_1"/><use href="#t1_5_7_0"/><use href="#t1_5_7_1"/><use href="#t1_5_8_0"/><use href="#t1_5_8_1"/><use href="#t1_5_9_0"/><use href="#t1_5_9_1"/><use href="#t1_6_4_0"/><use href="#t1_6_4_1"/><use href="#t1_6_5_0"/><use href="#t1_6_5_1"/><use href="#t1_6_6_0"/><use href="#t1_6_6_1"/><use href="#t1_6_7_0"/><use href="#t1_6_7_1"/><use href="#t1_6_8_0"/><use href="#t1_6_8_1"/><use href="#t1_6_9_0"/><use href="#t1_6_9_1"/><use href="#t1_7_4_1"/><use href="#t1_7_5_0"/><use href="#t1_7_5_1"/><use href="#t1_7_6_1"/><use href="#t1_7_7_0"/><use href="#t1_7_7_1"/><use href="#t1_7_8_0"/><use href="#t1_7_8_1"/><use href="#t1_7_9_0"/><use href="#t1_7_9_1"/><use href="#t1_8_4_1"/><use href="#t1_8_5_1"/><use href="#t1_8_6_1"/><use href="#t1_8_7_1"/><use href="#t1_8_8_0"/><use href="#t1_8_8_1"/><use href="#t1_8_9_0"/><use href="#t1_8_9_1"/><use href="#t1_10_4_0"/><use href="#t1_10_4_1"/><use href="#t1_10_6_1"/><use href="#t1_10_7_0"/><use href="#t1_10_7_1"/><use href="#t1_10_8_0"/><use href="#t1_10_8_1"/><use href="#t1_10_9_1"/><use href="#t1_11_4_0"/><use href="#t1_11_4_1"/><use href="#t1_11_5_1"/><use href="#t1_11_6_0"/><use href="#t1_11_6_1"/><use href="#t1_11_7_0"/><use href="#t1_11_8_0"/><use href="#t1_11_8_1"/><use href="#t1_11_9_0"/><use href="#t1_11_9_1"/><use href="#t1_12_4_0"/><use href="#t1_12_4_1"/><use href="#t1_12_5_0"/><use href="#t1_12_6_0"/><use href="#t1_12_6_1"/><use href="#t1_12_7_0"/><use href="#t1_12_7_1"/><use href="#t1_12_8_1"/><use href="#t1_12_9_0"/><use href="#t1_12_9_1"/></g></g>
<text x="80" y="139" font-size="7.2" stroke="#1a1a1a" stroke-width=".18" text-anchor="end" fill="#1a1a1a" textLength="17.7" lengthAdjust="spacingAndGlyphs">80.7%</text>
<rect x="22.5" y="23.5" width="59" height="118.2" fill="none" stroke="#8c8c8c" stroke-width="1"/>
<path d="M22.5 82.4L81.5 82.4" stroke="#9a9a9a" stroke-width="1"/>
<text x="52" y="17.4" font-size="7" stroke="#222" stroke-width=".04" text-anchor="middle" fill="#222">IFN&#947;<tspan baseline-shift="super" font-size="65%">+</tspan></text>
<g transform="translate(86 23.5) scale(.1)" stroke-width="4.8" fill="none"><g stroke="#3c3c3c"><use href="#t0_0_5_0"/><use href="#t0_1_8_0"/><use href="#t0_2_6_0"/><use href="#t0_3_9_1"/><use href="#t0_5_5_0"/><use href="#t0_6_3_0"/><use href="#t0_6_3_1"/><use href="#t0_6_8_0"/><use href="#t0_6_8_1"/><use href="#t0_7_6_0"/><use href="#t0_7_6_1"/><use href="#t0_8_4_0"/><use href="#t0_8_4_1"/><use href="#t0_8_9_0"/><use href="#t0_8_9_1"/><use href="#t0_9_7_0"/><use href="#t0_9_7_1"/><use href="#t0_10_5_0"/><use href="#t0_11_3_0"/><use href="#t0_11_3_1"/><use href="#t0_11_8_0"/><use href="#t0_11_8_1"/><use href="#t0_12_1_0"/><use href="#t0_12_1_1"/><use href="#t0_12_6_1"/></g><g stroke="#4c4c4c"><use href="#t0_0_2_0"/><use href="#t0_0_7_0"/><use href="#t0_1_5_0"/><use href="#t0_2_8_0"/><use href="#t0_3_6_0"/><use href="#t0_3_6_1"/><use href="#t0_4_9_0"/><use href="#t0_4_9_1"/><use href="#t0_5_7_0"/><use href="#t0_5_7_1"/><use href="#t0_6_0_0"/><use href="#t0_6_5_0"/><use href="#t0_6_5_1"/><use href="#t0_7_3_0"/><use href="#t0_7_3_1"/><use href="#t0_7_8_0"/><use href="#t0_8_1_1"/><use href="#t0_8_6_1"/><use href="#t0_10_7_0"/><use href="#t0_10_7_1"/><use href="#t0_11_0_0"/><use href="#t0_11_5_0"/><use href="#t0_11_5_1"/><use href="#t0_12_3_0"/><use href="#t0_12_8_0"/><use href="#t0_12_8_1"/></g><g stroke="#5e5e5e"><use href="#t0_0_4_0"/><use href="#t0_0_9_0"/><use href="#t0_0_9_1"/><use href="#t0_3_8_0"/><use href="#t0_3_8_1"/><use href="#t0_5_4_0"/><use href="#t0_5_9_0"/><use href="#t0_5_9_1"/><use href="#t0_6_2_0"/><use href="#t0_6_2_1"/><use href="#t0_6_7_0"/><use href="#t0_6_7_1"/><use href="#t0_7_5_0"/><use href="#t0_7_5_1"/><use href="#t0_8_3_0"/><use href="#t0_8_3_1"/><use href="#t0_8_8_0"/><use href="#t0_8_8_1"/><use href="#t0_10_4_0"/><use href="#t0_10_9_0"/><use href="#t0_11_2_0"/><use href="#t0_11_7_1"/><use href="#t0_12_0_0"/><use href="#t0_12_5_0"/><use href="#t0_12_5_1"/></g><g stroke="#727272"><use href="#t0_0_6_0"/><use href="#t0_1_9_0"/><use href="#t0_1_9_1"/><use href="#t0_2_7_0"/><use href="#t0_3_5_0"/><use href="#t0_3_5_1"/><use href="#t0_5_6_0"/><use href="#t0_6_4_0"/><use href="#t0_6_4_1"/><use href="#t0_6_9_0"/><use href="#t0_6_9_1"/><use href="#t0_7_7_0"/><use href="#t0_7_7_1"/><use href="#t0_8_5_1"/><use href="#t0_9_8_0"/><use href="#t0_10_6_0"/><use href="#t0_11_9_1"/><use href="#t0_12_2_0"/><use href="#t0_12_2_1"/><use href="#t0_12_7_0"/><use href="#t0_12_7_1"/></g><g stroke="#8a8a8a"><use href="#t0_0_3_0"/><use href="#t0_0_8_0"/><use href="#t0_0_8_1"/><use href="#t0_2_9_0"/><use href="#t0_2_9_1"/><use href="#t0_3_7_0"/><use href="#t0_3_7_1"/><use href="#t0_5_3_0"/><use href="#t0_5_8_0"/><use href="#t0_5_8_1"/><use href="#t0_6_1_0"/><use href="#t0_6_1_1"/><use href="#t0_6_6_0"/><use href="#t0_6_6_1"/><use href="#t0_7_4_0"/><use href="#t0_7_4_1"/><use href="#t0_7_9_0"/><use href="#t0_7_9_1"/><use href="#t0_8_2_0"/><use href="#t0_8_2_1"/><use href="#t0_8_7_1"/><use href="#t0_9_5_0"/><use href="#t0_10_3_0"/><use href="#t0_10_8_0"/><use href="#t0_11_1_0"/><use href="#t0_11_1_1"/><use href="#t0_11_6_0"/><use href="#t0_11_6_1"/><use href="#t0_12_4_0"/><use href="#t0_12_4_1"/><use href="#t0_12_9_0"/><use href="#t0_12_9_1"/></g><g stroke="#b444c6" stroke-width="6.4"><use href="#t0_0_0_0"/><use href="#t0_0_0_1"/><use href="#t0_0_1_1"/><use href="#t0_0_2_1"/><use href="#t0_0_3_1"/><use href="#t0_0_4_1"/><use href="#t0_1_0_1"/><use href="#t0_1_1_0"/><use href="#t0_1_2_0"/><use href="#t0_1_2_1"/><use href="#t0_2_0_0"/><use href="#t0_2_0_1"/><use href="#t0_2_1_0"/><use href="#t0_2_1_1"/><use href="#t0_2_2_0"/><use href="#t0_2_2_1"/><use href="#t0_2_3_1"/><use href="#t0_2_4_1"/><use href="#t0_3_0_0"/><use href="#t0_3_0_1"/><use href="#t0_3_1_0"/><use href="#t0_3_1_1"/><use href="#t0_3_2_0"/><use href="#t0_3_2_1"/><use href="#t0_4_0_0"/><use href="#t0_4_1_0"/><use href="#t0_4_1_1"/><use href="#t0_4_2_1"/><use href="#t0_4_3_0"/><use href="#t0_4_3_1"/><use href="#t0_4_4_1"/><use href="#t0_5_0_0"/><use href="#t0_5_0_1"/><use href="#t0_5_1_0"/><use href="#t0_5_1_1"/><use href="#t0_5_2_1"/><use href="#t0_5_3_1"/><use href="#t0_6_0_1"/><use href="#t0_7_0_0"/><use href="#t0_7_0_1"/><use href="#t0_7_1_0"/><use href="#t0_7_1_1"/><use href="#t0_8_0_1"/><use href="#t0_9_1_0"/><use href="#t0_9_1_1"/><use href="#t0_9_2_1"/><use href="#t0_10_0_1"/><use href="#t0_10_1_1"/><use href="#t0_10_2_1"/><use href="#t0_10_3_1"/><use href="#t0_11_0_1"/><use href="#t0_12_0_1"/></g><g stroke="#d088da" stroke-width="6.4"><use href="#t0_0_1_0"/><use href="#t0_0_5_1"/><use href="#t0_0_6_1"/><use href="#t0_0_7_1"/><use href="#t0_1_4_1"/><use href="#t0_1_5_1"/><use href="#t0_1_6_1"/><use href="#t0_2_3_0"/><use href="#t0_2_4_0"/><use href="#t0_2_5_0"/><use href="#t0_2_5_1"/><use href="#t0_2_6_1"/><use href="#t0_2_7_1"/><use href="#t0_2_8_1"/><use href="#t0_3_3_1"/><use href="#t0_3_4_0"/><use href="#t0_4_5_0"/><use href="#t0_4_5_1"/><use href="#t0_4_6_1"/><use href="#t0_4_7_1"/><use href="#t0_4_8_1"/><use href="#t0_5_2_0"/><use href="#t0_5_4_1"/><use href="#t0_5_5_1"/><use href="#t0_5_6_1"/><use href="#t0_7_2_0"/><use href="#t0_7_2_1"/><use href="#t0_10_2_0"/><use href="#t0_10_4_1"/><use href="#t0_10_5_1"/><use href="#t0_10_6_1"/></g></g>
<text x="144" y="80.1" font-size="7.2" stroke="#1a1a1a" stroke-width=".18" text-anchor="end" fill="#1a1a1a" textLength="17.7" lengthAdjust="spacingAndGlyphs">39.3%</text>
<g transform="translate(86 82.4) scale(.1)" stroke-width="4.8" fill="none"><g stroke="#424242"><use href="#t1_0_5_0"/><use href="#t1_0_5_1"/><use href="#t1_1_3_0"/><use href="#t1_2_6_0"/><use href="#t1_2_6_1"/><use href="#t1_3_4_0"/><use href="#t1_3_4_1"/><use href="#t1_3_9_1"/><use href="#t1_5_5_0"/><use href="#t1_6_3_1"/><use href="#t1_6_8_0"/><use href="#t1_6_8_1"/><use href="#t1_8_9_0"/><use href="#t1_8_9_1"/><use href="#t1_9_7_1"/><use href="#t1_11_8_0"/><use href="#t1_11_8_1"/><use href="#t1_12_6_0"/><use href="#t1_12_6_1"/></g><g stroke="#525252"><use href="#t1_0_2_0"/><use href="#t1_0_7_0"/><use href="#t1_0_7_1"/><use href="#t1_1_5_0"/><use href="#t1_1_5_1"/><use href="#t1_2_3_0"/><use href="#t1_2_3_1"/><use href="#t1_2_8_0"/><use href="#t1_2_8_1"/><use href="#t1_3_6_1"/><use href="#t1_4_9_0"/><use href="#t1_5_7_0"/><use href="#t1_5_7_1"/><use href="#t1_6_5_0"/><use href="#t1_6_5_1"/><use href="#t1_7_8_0"/><use href="#t1_7_8_1"/><use href="#t1_9_9_1"/><use href="#t1_10_7_0"/><use href="#t1_10_7_1"/><use href="#t1_11_5_1"/><use href="#t1_12_3_1"/><use href="#t1_12_8_1"/></g><g stroke="#646464"><use href="#t1_0_4_0"/><use href="#t1_0_4_1"/><use href="#t1_0_9_0"/><use href="#t1_0_9_1"/><use href="#t1_1_7_0"/><use href="#t1_1_7_1"/><use href="#t1_2_5_0"/><use href="#t1_2_5_1"/><use href="#t1_3_3_0"/><use href="#t1_3_8_1"/><use href="#t1_5_9_0"/><use href="#t1_5_9_1"/><use href="#t1_6_7_0"/><use href="#t1_6_7_1"/><use href="#t1_8_8_0"/><use href="#t1_8_8_1"/><use href="#t1_10_9_1"/><use href="#t1_11_7_0"/><use href="#t1_12_5_0"/></g><g stroke="#7a7a7a"><use href="#t1_0_1_0"/><use href="#t1_0_6_0"/><use href="#t1_0_6_1"/><use href="#t1_1_4_0"/><use href="#t1_1_4_1"/><use href="#t1_1_9_1"/><use href="#t1_2_2_0"/><use href="#t1_2_7_0"/><use href="#t1_2_7_1"/><use href="#t1_3_5_0"/><use href="#t1_3_5_1"/><use href="#t1_5_6_0"/><use href="#t1_5_6_1"/><use href="#t1_6_4_0"/><use href="#t1_6_4_1"/><use href="#t1_6_9_0"/><use href="#t1_6_9_1"/><use href="#t1_7_7_0"/><use href="#t1_7_7_1"/><use href="#t1_10_6_1"/><use href="#t1_11_4_0"/><use href="#t1_11_4_1"/><use href="#t1_11_9_0"/><use href="#t1_11_9_1"/><use href="#t1_12_7_0"/><use href="#t1_12_7_1"/></g><g stroke="#949494"><use href="#t1_0_3_0"/><use href="#t1_0_3_1"/><use href="#t1_0_8_0"/><use href="#t1_0_8_1"/><use href="#t1_1_6_1"/><use href="#t1_2_4_0"/><use href="#t1_2_4_1"/><use href="#t1_2_9_0"/><use href="#t1_2_9_1"/><use href="#t1_3_7_0"/><use href="#t1_5_8_0"/><use href="#t1_5_8_1"/><use href="#t1_6_6_0"/><use href="#t1_6_6_1"/><use href="#t1_7_9_0"/><use href="#t1_7_9_1"/><use href="#t1_8_7_1"/><use href="#t1_9_5_0"/><use href="#t1_10_8_0"/><use href="#t1_10_8_1"/><use href="#t1_11_6_0"/><use href="#t1_11_6_1"/><use href="#t1_12_4_0"/><use href="#t1_12_4_1"/><use href="#t1_12_9_0"/><use href="#t1_12_9_1"/></g><g stroke="#b444c6" stroke-width="6.4"><use href="#t1_0_0_1"/><use href="#t1_0_1_1"/><use href="#t1_1_0_1"/><use href="#t1_2_0_0"/><use href="#t1_2_0_1"/><use href="#t1_2_1_1"/><use href="#t1_3_0_0"/><use href="#t1_3_0_1"/><use href="#t1_4_0_1"/><use href="#t1_4_1_1"/><use href="#t1_4_2_1"/><use href="#t1_4_3_0"/><use href="#t1_4_3_1"/><use href="#t1_4_4_0"/><use href="#t1_5_0_0"/><use href="#t1_5_0_1"/><use href="#t1_5_1_0"/><use href="#t1_5_1_1"/><use href="#t1_5_2_0"/><use href="#t1_5_2_1"/><use href="#t1_5_3_1"/><use href="#t1_6_0_0"/><use href="#t1_6_0_1"/><use href="#t1_6_1_0"/><use href="#t1_6_1_1"/><use href="#t1_7_0_0"/><use href="#t1_7_0_1"/><use href="#t1_7_1_0"/><use href="#t1_7_1_1"/><use href="#t1_7_2_0"/><use href="#t1_7_2_1"/><use href="#t1_7_3_0"/><use href="#t1_7_3_1"/><use href="#t1_8_0_0"/><use href="#t1_8_0_1"/><use href="#t1_8_1_0"/><use href="#t1_8_1_1"/><use href="#t1_8_2_0"/><use href="#t1_8_2_1"/><use href="#t1_8_3_1"/><use href="#t1_9_0_1"/><use href="#t1_9_1_0"/><use href="#t1_9_2_0"/><use href="#t1_10_0_0"/><use href="#t1_10_0_1"/><use href="#t1_10_1_1"/><use href="#t1_10_3_1"/><use href="#t1_11_0_0"/><use href="#t1_11_0_1"/><use href="#t1_11_1_0"/><use href="#t1_12_0_1"/><use href="#t1_12_1_0"/><use href="#t1_12_1_1"/></g><g stroke="#d088da" stroke-width="6.4"><use href="#t1_0_0_0"/><use href="#t1_0_2_1"/><use href="#t1_1_2_0"/><use href="#t1_1_2_1"/><use href="#t1_2_1_0"/><use href="#t1_2_2_1"/><use href="#t1_3_2_0"/><use href="#t1_3_2_1"/><use href="#t1_4_5_0"/><use href="#t1_4_5_1"/><use href="#t1_4_6_0"/><use href="#t1_4_6_1"/><use href="#t1_4_7_1"/><use href="#t1_4_8_0"/><use href="#t1_4_8_1"/><use href="#t1_5_3_0"/><use href="#t1_5_4_0"/><use href="#t1_5_4_1"/><use href="#t1_5_5_1"/><use href="#t1_6_2_0"/><use href="#t1_6_2_1"/><use href="#t1_6_3_0"/><use href="#t1_7_4_1"/><use href="#t1_7_5_0"/><use href="#t1_7_5_1"/><use href="#t1_7_6_1"/><use href="#t1_8_4_1"/><use href="#t1_8_5_1"/><use href="#t1_8_6_1"/><use href="#t1_9_4_0"/><use href="#t1_10_3_0"/><use href="#t1_10_4_0"/><use href="#t1_10_4_1"/><use href="#t1_11_2_0"/><use href="#t1_11_2_1"/><use href="#t1_11_3_0"/><use href="#t1_12_2_0"/><use href="#t1_12_2_1"/><use href="#t1_12_3_0"/></g></g>
<text x="144" y="139" font-size="7.2" stroke="#1a1a1a" stroke-width=".18" text-anchor="end" fill="#1a1a1a" textLength="17.7" lengthAdjust="spacingAndGlyphs">33.3%</text>
<rect x="86.5" y="23.5" width="59" height="118.2" fill="none" stroke="#8c8c8c" stroke-width="1"/>
<path d="M86.5 82.4L145.5 82.4" stroke="#9a9a9a" stroke-width="1"/>
<text x="116" y="17.4" font-size="7" stroke="#222" stroke-width=".04" text-anchor="middle" fill="#222">TNF<tspan baseline-shift="super" font-size="65%">+</tspan></text>
<g transform="translate(150 23.5) scale(.1)" stroke-width="4.8" fill="none"><g stroke="#3c3c3c"><use href="#t0_0_0_0"/><use href="#t0_0_0_1"/><use href="#t0_0_5_0"/><use href="#t0_0_5_1"/><use href="#t0_1_8_0"/><use href="#t0_2_1_0"/><use href="#t0_2_1_1"/><use href="#t0_2_6_0"/><use href="#t0_2_6_1"/><use href="#t0_3_4_0"/><use href="#t0_3_9_1"/><use href="#t0_4_7_1"/><use href="#t0_5_5_0"/><use href="#t0_5_5_1"/><use href="#t0_6_3_0"/><use href="#t0_6_3_1"/><use href="#t0_6_8_0"/><use href="#t0_6_8_1"/><use href="#t0_7_6_0"/><use href="#t0_7_6_1"/><use href="#t0_8_4_0"/><use href="#t0_8_4_1"/><use href="#t0_8_9_0"/><use href="#t0_8_9_1"/><use href="#t0_9_7_0"/><use href="#t0_9_7_1"/><use href="#t0_10_5_0"/><use href="#t0_10_5_1"/><use href="#t0_11_3_0"/><use href="#t0_11_3_1"/><use href="#t0_11_8_0"/><use href="#t0_11_8_1"/><use href="#t0_12_1_0"/><use href="#t0_12_1_1"/><use href="#t0_12_6_1"/></g><g stroke="#4c4c4c"><use href="#t0_0_2_0"/><use href="#t0_0_2_1"/><use href="#t0_0_7_0"/><use href="#t0_0_7_1"/><use href="#t0_1_5_0"/><use href="#t0_1_5_1"/><use href="#t0_2_3_0"/><use href="#t0_2_3_1"/><use href="#t0_2_8_0"/><use href="#t0_2_8_1"/><use href="#t0_3_1_0"/><use href="#t0_3_1_1"/><use href="#t0_3_6_0"/><use href="#t0_3_6_1"/><use href="#t0_4_4_1"/><use href="#t0_4_9_0"/><use href="#t0_4_9_1"/><use href="#t0_5_7_0"/><use href="#t0_5_7_1"/><use href="#t0_6_5_0"/><use href="#t0_6_5_1"/><use href="#t0_7_8_0"/><use href="#t0_8_1_1"/><use href="#t0_8_6_1"/><use href="#t0_10_7_0"/><use href="#t0_10_7_1"/><use href="#t0_11_5_0"/><use href="#t0_11_5_1"/><use href="#t0_12_3_0"/><use href="#t0_12_8_0"/><use href="#t0_12_8_1"/></g><g stroke="#5e5e5e"><use href="#t0_0_4_0"/><use href="#t0_0_4_1"/><use href="#t0_0_9_0"/><use href="#t0_0_9_1"/><use href="#t0_1_2_0"/><use href="#t0_1_2_1"/><use href="#t0_2_0_0"/><use href="#t0_2_0_1"/><use href="#t0_2_5_0"/><use href="#t0_2_5_1"/><use href="#t0_3_3_1"/><use href="#t0_3_8_0"/><use href="#t0_3_8_1"/><use href="#t0_4_6_1"/><use href="#t0_5_4_0"/><use href="#t0_5_4_1"/><use href="#t0_5_9_0"/><use href="#t0_5_9_1"/><use href="#t0_6_2_0"/><use href="#t0_6_2_1"/><use href="#t0_6_7_0"/><use href="#t0_6_7_1"/><use href="#t0_7_5_0"/><use href="#t0_7_5_1"/><use href="#t0_8_3_0"/><use href="#t0_8_3_1"/><use href="#t0_8_8_0"/><use href="#t0_8_8_1"/><use href="#t0_10_4_0"/><use href="#t0_10_4_1"/><use href="#t0_10_9_0"/><use href="#t0_11_2_0"/><use href="#t0_11_7_1"/><use href="#t0_12_5_0"/><use href="#t0_12_5_1"/></g><g stroke="#727272"><use href="#t0_0_1_0"/><use href="#t0_0_1_1"/><use href="#t0_0_6_0"/><use href="#t0_0_6_1"/><use href="#t0_1_4_1"/><use href="#t0_1_9_0"/><use href="#t0_1_9_1"/><use href="#t0_2_2_0"/><use href="#t0_2_2_1"/><use href="#t0_2_7_0"/><use href="#t0_2_7_1"/><use href="#t0_3_0_0"/><use href="#t0_3_0_1"/><use href="#t0_3_5_0"/><use href="#t0_3_5_1"/><use href="#t0_4_3_0"/><use href="#t0_4_3_1"/><use href="#t0_4_8_1"/><use href="#t0_5_6_0"/><use href="#t0_5_6_1"/><use href="#t0_6_4_0"/><use href="#t0_6_4_1"/><use href="#t0_6_9_0"/><use href="#t0_6_9_1"/><use href="#t0_7_7_0"/><use href="#t0_7_7_1"/><use href="#t0_8_5_1"/><use href="#t0_9_8_0"/><use href="#t0_10_6_0"/><use href="#t0_10_6_1"/><use href="#t0_11_9_1"/><use href="#t0_12_2_0"/><use href="#t0_12_2_1"/><use href="#t0_12_7_0"/><use href="#t0_12_7_1"/></g><g stroke="#8a8a8a"><use href="#t0_0_3_0"/><use href="#t0_0_3_1"/><use href="#t0_0_8_0"/><use href="#t0_0_8_1"/><use href="#t0_1_1_0"/><use href="#t0_1_6_1"/><use href="#t0_2_4_0"/><use href="#t0_2_4_1"/><use href="#t0_2_9_0"/><use href="#t0_2_9_1"/><use href="#t0_3_2_0"/><use href="#t0_3_2_1"/><use href="#t0_3_7_0"/><use href="#t0_3_7_1"/><use href="#t0_4_5_0"/><use href="#t0_4_5_1"/><use href="#t0_5_3_0"/><use href="#t0_5_3_1"/><use href="#t0_5_8_0"/><use href="#t0_5_8_1"/><use href="#t0_6_1_0"/><use href="#t0_6_1_1"/><use href="#t0_6_6_0"/><use href="#t0_6_6_1"/><use href="#t0_7_4_0"/><use href="#t0_7_4_1"/><use href="#t0_7_9_0"/><use href="#t0_7_9_1"/><use href="#t0_8_2_0"/><use href="#t0_8_2_1"/><use href="#t0_8_7_1"/><use href="#t0_9_5_0"/><use href="#t0_10_3_0"/><use href="#t0_10_3_1"/><use href="#t0_10_8_0"/><use href="#t0_11_1_0"/><use href="#t0_11_1_1"/><use href="#t0_11_6_0"/><use href="#t0_11_6_1"/><use href="#t0_12_4_0"/><use href="#t0_12_4_1"/><use href="#t0_12_9_0"/><use href="#t0_12_9_1"/></g><g stroke="#e08af0" stroke-width="6.4"><use href="#t0_4_0_0"/><use href="#t0_5_0_0"/><use href="#t0_5_0_1"/><use href="#t0_5_1_0"/><use href="#t0_5_1_1"/><use href="#t0_7_0_0"/><use href="#t0_7_0_1"/><use href="#t0_7_1_0"/><use href="#t0_7_1_1"/><use href="#t0_8_0_1"/><use href="#t0_10_0_1"/><use href="#t0_10_1_1"/></g><g stroke="#ecb4f4" stroke-width="6.4"><use href="#t0_1_0_1"/><use href="#t0_4_1_0"/><use href="#t0_4_1_1"/><use href="#t0_4_2_1"/><use href="#t0_5_2_0"/><use href="#t0_5_2_1"/><use href="#t0_6_0_0"/><use href="#t0_6_0_1"/><use href="#t0_7_2_0"/><use href="#t0_7_2_1"/><use href="#t0_7_3_0"/><use href="#t0_7_3_1"/><use href="#t0_9_1_0"/><use href="#t0_9_1_1"/><use href="#t0_9_2_1"/><use href="#t0_10_2_0"/><use href="#t0_10_2_1"/><use href="#t0_11_0_0"/><use href="#t0_11_0_1"/><use href="#t0_12_0_0"/><use href="#t0_12_0_1"/></g></g>
<text x="208" y="80.1" font-size="7.2" stroke="#1a1a1a" stroke-width=".18" text-anchor="end" fill="#1a1a1a" textLength="17.7" lengthAdjust="spacingAndGlyphs">12.8%</text>
<g transform="translate(150 82.4) scale(.1)" stroke-width="4.8" fill="none"><g stroke="#424242"><use href="#t1_0_0_0"/><use href="#t1_0_0_1"/><use href="#t1_0_5_0"/><use href="#t1_0_5_1"/><use href="#t1_1_3_0"/><use href="#t1_2_1_0"/><use href="#t1_2_1_1"/><use href="#t1_2_6_0"/><use href="#t1_2_6_1"/><use href="#t1_3_4_0"/><use href="#t1_3_4_1"/><use href="#t1_3_9_1"/><use href="#t1_4_7_1"/><use href="#t1_6_8_0"/><use href="#t1_6_8_1"/><use href="#t1_8_9_0"/><use href="#t1_8_9_1"/><use href="#t1_9_7_1"/><use href="#t1_11_8_0"/><use href="#t1_11_8_1"/><use href="#t1_12_6_0"/><use href="#t1_12_6_1"/></g><g stroke="#525252"><use href="#t1_0_2_0"/><use href="#t1_0_2_1"/><use href="#t1_0_7_0"/><use href="#t1_0_7_1"/><use href="#t1_1_5_0"/><use href="#t1_1_5_1"/><use href="#t1_2_3_0"/><use href="#t1_2_3_1"/><use href="#t1_2_8_0"/><use href="#t1_2_8_1"/><use href="#t1_3_6_1"/><use href="#t1_4_9_0"/><use href="#t1_5_7_0"/><use href="#t1_5_7_1"/><use href="#t1_6_5_0"/><use href="#t1_6_5_1"/><use href="#t1_7_8_0"/><use href="#t1_7_8_1"/><use href="#t1_8_6_1"/><use href="#t1_9_4_0"/><use href="#t1_9_9_1"/><use href="#t1_10_7_0"/><use href="#t1_10_7_1"/><use href="#t1_11_5_1"/><use href="#t1_12_8_1"/></g><g stroke="#646464"><use href="#t1_0_4_0"/><use href="#t1_0_4_1"/><use href="#t1_0_9_0"/><use href="#t1_0_9_1"/><use href="#t1_1_2_0"/><use href="#t1_1_2_1"/><use href="#t1_1_7_0"/><use href="#t1_1_7_1"/><use href="#t1_2_5_0"/><use href="#t1_2_5_1"/><use href="#t1_3_3_0"/><use href="#t1_3_8_1"/><use href="#t1_4_6_0"/><use href="#t1_4_6_1"/><use href="#t1_5_9_0"/><use href="#t1_5_9_1"/><use href="#t1_6_7_0"/><use href="#t1_6_7_1"/><use href="#t1_8_8_0"/><use href="#t1_8_8_1"/><use href="#t1_10_9_1"/><use href="#t1_11_7_0"/><use href="#t1_12_5_0"/></g><g stroke="#7a7a7a"><use href="#t1_0_1_0"/><use href="#t1_0_1_1"/><use href="#t1_0_6_0"/><use href="#t1_0_6_1"/><use href="#t1_1_4_0"/><use href="#t1_1_4_1"/><use href="#t1_1_9_1"/><use href="#t1_2_2_0"/><use href="#t1_2_2_1"/><use href="#t1_2_7_0"/><use href="#t1_2_7_1"/><use href="#t1_3_5_0"/><use href="#t1_3_5_1"/><use href="#t1_4_8_0"/><use href="#t1_4_8_1"/><use href="#t1_5_6_0"/><use href="#t1_5_6_1"/><use href="#t1_6_4_0"/><use href="#t1_6_4_1"/><use href="#t1_6_9_0"/><use href="#t1_6_9_1"/><use href="#t1_7_7_0"/><use href="#t1_7_7_1"/><use href="#t1_8_5_1"/><use href="#t1_10_6_1"/><use href="#t1_11_4_0"/><use href="#t1_11_4_1"/><use href="#t1_11_9_0"/><use href="#t1_11_9_1"/><use href="#t1_12_7_0"/><use href="#t1_12_7_1"/></g><g stroke="#949494"><use href="#t1_0_3_0"/><use href="#t1_0_3_1"/><use href="#t1_0_8_0"/><use href="#t1_0_8_1"/><use href="#t1_1_6_1"/><use href="#t1_2_4_0"/><use href="#t1_2_4_1"/><use href="#t1_2_9_0"/><use href="#t1_2_9_1"/><use href="#t1_3_2_0"/><use href="#t1_3_2_1"/><use href="#t1_3_7_0"/><use href="#t1_5_8_0"/><use href="#t1_5_8_1"/><use href="#t1_6_6_0"/><use href="#t1_6_6_1"/><use href="#t1_7_9_0"/><use href="#t1_7_9_1"/><use href="#t1_8_7_1"/><use href="#t1_9_5_0"/><use href="#t1_10_8_0"/><use href="#t1_10_8_1"/><use href="#t1_11_6_0"/><use href="#t1_11_6_1"/><use href="#t1_12_4_0"/><use href="#t1_12_4_1"/><use href="#t1_12_9_0"/><use href="#t1_12_9_1"/></g><g stroke="#e08af0" stroke-width="6.4"><use href="#t1_1_0_1"/><use href="#t1_4_0_1"/><use href="#t1_4_1_1"/><use href="#t1_4_2_1"/><use href="#t1_5_0_0"/><use href="#t1_5_0_1"/><use href="#t1_5_1_0"/><use href="#t1_5_1_1"/><use href="#t1_5_2_0"/><use href="#t1_5_2_1"/><use href="#t1_6_0_0"/><use href="#t1_6_0_1"/><use href="#t1_6_1_0"/><use href="#t1_6_1_1"/><use href="#t1_7_0_0"/><use href="#t1_7_0_1"/><use href="#t1_7_1_0"/><use href="#t1_7_1_1"/><use href="#t1_7_2_0"/><use href="#t1_7_2_1"/><use href="#t1_8_0_0"/><use href="#t1_8_0_1"/><use href="#t1_8_1_0"/><use href="#t1_8_1_1"/><use href="#t1_9_0_1"/><use href="#t1_10_0_0"/><use href="#t1_10_0_1"/><use href="#t1_10_1_1"/><use href="#t1_11_0_0"/><use href="#t1_11_0_1"/><use href="#t1_11_1_0"/><use href="#t1_12_0_1"/><use href="#t1_12_1_0"/><use href="#t1_12_1_1"/></g><g stroke="#ecb4f4" stroke-width="6.4"><use href="#t1_2_0_0"/><use href="#t1_2_0_1"/><use href="#t1_3_0_0"/><use href="#t1_3_0_1"/><use href="#t1_4_3_0"/><use href="#t1_4_3_1"/><use href="#t1_4_4_0"/><use href="#t1_4_5_0"/><use href="#t1_4_5_1"/><use href="#t1_5_3_0"/><use href="#t1_5_3_1"/><use href="#t1_5_4_0"/><use href="#t1_5_4_1"/><use href="#t1_5_5_0"/><use href="#t1_5_5_1"/><use href="#t1_6_2_0"/><use href="#t1_6_2_1"/><use href="#t1_6_3_0"/><use href="#t1_6_3_1"/><use href="#t1_7_3_0"/><use href="#t1_7_3_1"/><use href="#t1_7_4_1"/><use href="#t1_7_5_0"/><use href="#t1_7_5_1"/><use href="#t1_7_6_1"/><use href="#t1_8_2_0"/><use href="#t1_8_2_1"/><use href="#t1_8_3_1"/><use href="#t1_8_4_1"/><use href="#t1_9_1_0"/><use href="#t1_9_2_0"/><use href="#t1_10_3_0"/><use href="#t1_10_3_1"/><use href="#t1_10_4_0"/><use href="#t1_10_4_1"/><use href="#t1_11_2_0"/><use href="#t1_11_2_1"/><use href="#t1_11_3_0"/><use href="#t1_12_2_0"/><use href="#t1_12_2_1"/><use href="#t1_12_3_0"/><use href="#t1_12_3_1"/></g></g>
<text x="208" y="139" font-size="7.2" stroke="#1a1a1a" stroke-width=".18" text-anchor="end" fill="#1a1a1a" textLength="17.7" lengthAdjust="spacingAndGlyphs">28.7%</text>
<rect x="150.5" y="23.5" width="59" height="118.2" fill="none" stroke="#8c8c8c" stroke-width="1"/>
<path d="M150.5 82.4L209.5 82.4" stroke="#9a9a9a" stroke-width="1"/>
<text x="180" y="17.4" font-size="7" stroke="#222" stroke-width=".04" text-anchor="middle" fill="#222">GM-CSF<tspan baseline-shift="super" font-size="65%">+</tspan></text>
<g transform="translate(214 23.5) scale(.1)" stroke-width="4.8" fill="none"><g stroke="#3c3c3c"><use href="#t0_0_0_0"/><use href="#t0_0_0_1"/><use href="#t0_0_5_0"/><use href="#t0_0_5_1"/><use href="#t0_1_8_0"/><use href="#t0_4_2_1"/><use href="#t0_4_7_1"/><use href="#t0_5_0_0"/><use href="#t0_5_0_1"/><use href="#t0_5_5_0"/><use href="#t0_5_5_1"/><use href="#t0_6_3_0"/><use href="#t0_6_3_1"/><use href="#t0_6_8_0"/><use href="#t0_6_8_1"/><use href="#t0_7_1_0"/><use href="#t0_7_1_1"/><use href="#t0_7_6_0"/><use href="#t0_7_6_1"/><use href="#t0_8_4_0"/><use href="#t0_8_4_1"/><use href="#t0_8_9_0"/><use href="#t0_8_9_1"/><use href="#t0_9_2_1"/><use href="#t0_9_7_0"/><use href="#t0_9_7_1"/><use href="#t0_10_0_1"/><use href="#t0_10_5_0"/><use href="#t0_10_5_1"/><use href="#t0_11_3_0"/><use href="#t0_11_3_1"/><use href="#t0_11_8_0"/><use href="#t0_11_8_1"/><use href="#t0_12_1_0"/><use href="#t0_12_1_1"/><use href="#t0_12_6_1"/></g><g stroke="#4c4c4c"><use href="#t0_0_2_0"/><use href="#t0_0_2_1"/><use href="#t0_0_7_0"/><use href="#t0_0_7_1"/><use href="#t0_1_0_1"/><use href="#t0_1_5_0"/><use href="#t0_1_5_1"/><use href="#t0_4_4_1"/><use href="#t0_4_9_0"/><use href="#t0_4_9_1"/><use href="#t0_5_2_0"/><use href="#t0_5_2_1"/><use href="#t0_5_7_0"/><use href="#t0_5_7_1"/><use href="#t0_6_0_0"/><use href="#t0_6_0_1"/><use href="#t0_6_5_0"/><use href="#t0_6_5_1"/><use href="#t0_7_3_0"/><use href="#t0_7_3_1"/><use href="#t0_7_8_0"/><use href="#t0_8_1_1"/><use href="#t0_8_6_1"/><use href="#t0_10_2_0"/><use href="#t0_10_2_1"/><use href="#t0_10_7_0"/><use href="#t0_10_7_1"/><use href="#t0_11_0_0"/><use href="#t0_11_0_1"/><use href="#t0_11_5_0"/><use href="#t0_11_5_1"/><use href="#t0_12_3_0"/><use href="#t0_12_8_0"/><use href="#t0_12_8_1"/></g><g stroke="#5e5e5e"><use href="#t0_0_4_0"/><use href="#t0_0_4_1"/><use href="#t0_0_9_0"/><use href="#t0_0_9_1"/><use href="#t0_1_2_0"/><use href="#t0_1_2_1"/><use href="#t0_4_1_0"/><use href="#t0_4_1_1"/><use href="#t0_4_6_1"/><use href="#t0_5_4_0"/><use href="#t0_5_4_1"/><use href="#t0_5_9_0"/><use href="#t0_5_9_1"/><use href="#t0_6_2_0"/><use href="#t0_6_2_1"/><use href="#t0_6_7_0"/><use href="#t0_6_7_1"/><use href="#t0_7_0_0"/><use href="#t0_7_0_1"/><use href="#t0_7_5_0"/><use href="#t0_7_5_1"/><use href="#t0_8_3_0"/><use href="#t0_8_3_1"/><use href="#t0_8_8_0"/><use href="#t0_8_8_1"/><use href="#t0_9_1_0"/><use href="#t0_9_1_1"/><use href="#t0_10_4_0"/><use href="#t0_10_4_1"/><use href="#t0_10_9_0"/><use href="#t0_11_2_0"/><use href="#t0_11_7_1"/><use href="#t0_12_0_0"/><use href="#t0_12_0_1"/><use href="#t0_12_5_0"/><use href="#t0_12_5_1"/></g><g stroke="#727272"><use href="#t0_0_1_0"/><use href="#t0_0_1_1"/><use href="#t0_0_6_0"/><use href="#t0_0_6_1"/><use href="#t0_1_4_1"/><use href="#t0_1_9_0"/><use href="#t0_1_9_1"/><use href="#t0_4_3_0"/><use href="#t0_4_3_1"/><use href="#t0_4_8_1"/><use href="#t0_5_1_0"/><use href="#t0_5_1_1"/><use href="#t0_5_6_0"/><use href="#t0_5_6_1"/><use href="#t0_6_4_0"/><use href="#t0_6_4_1"/><use href="#t0_6_9_0"/><use href="#t0_6_9_1"/><use href="#t0_7_2_0"/><use href="#t0_7_2_1"/><use href="#t0_7_7_0"/><use href="#t0_7_7_1"/><use href="#t0_8_0_1"/><use href="#t0_8_5_1"/><use href="#t0_9_8_0"/><use href="#t0_10_1_1"/><use href="#t0_10_6_0"/><use href="#t0_10_6_1"/><use href="#t0_11_9_1"/><use href="#t0_12_2_0"/><use href="#t0_12_2_1"/><use href="#t0_12_7_0"/><use href="#t0_12_7_1"/></g><g stroke="#8a8a8a"><use href="#t0_0_3_0"/><use href="#t0_0_3_1"/><use href="#t0_0_8_0"/><use href="#t0_0_8_1"/><use href="#t0_1_1_0"/><use href="#t0_1_6_1"/><use href="#t0_4_0_0"/><use href="#t0_4_5_0"/><use href="#t0_4_5_1"/><use href="#t0_5_3_0"/><use href="#t0_5_3_1"/><use href="#t0_5_8_0"/><use href="#t0_5_8_1"/><use href="#t0_6_1_0"/><use href="#t0_6_1_1"/><use href="#t0_6_6_0"/><use href="#t0_6_6_1"/><use href="#t0_7_4_0"/><use href="#t0_7_4_1"/><use href="#t0_7_9_0"/><use href="#t0_7_9_1"/><use href="#t0_8_2_0"/><use href="#t0_8_2_1"/><use href="#t0_8_7_1"/><use href="#t0_9_5_0"/><use href="#t0_10_3_0"/><use href="#t0_10_3_1"/><use href="#t0_10_8_0"/><use href="#t0_11_1_0"/><use href="#t0_11_1_1"/><use href="#t0_11_6_0"/><use href="#t0_11_6_1"/><use href="#t0_12_4_0"/><use href="#t0_12_4_1"/><use href="#t0_12_9_0"/><use href="#t0_12_9_1"/></g><g stroke="#34d634" stroke-width="6.4"><use href="#t0_2_0_0"/><use href="#t0_2_0_1"/><use href="#t0_2_1_0"/><use href="#t0_2_1_1"/><use href="#t0_2_2_0"/><use href="#t0_2_2_1"/><use href="#t0_2_3_0"/><use href="#t0_2_3_1"/><use href="#t0_2_4_0"/><use href="#t0_2_4_1"/><use href="#t0_2_5_0"/><use href="#t0_2_5_1"/><use href="#t0_3_0_0"/><use href="#t0_3_0_1"/><use href="#t0_3_1_0"/><use href="#t0_3_1_1"/><use href="#t0_3_2_0"/><use href="#t0_3_2_1"/><use href="#t0_3_3_1"/><use href="#t0_3_4_0"/><use href="#t0_3_5_0"/><use href="#t0_3_5_1"/></g><g stroke="#5ade5a" stroke-width="6.4"><use href="#t0_2_6_0"/><use href="#t0_2_6_1"/><use href="#t0_2_7_0"/><use href="#t0_2_7_1"/><use href="#t0_2_8_0"/><use href="#t0_2_8_1"/><use href="#t0_2_9_0"/><use href="#t0_2_9_1"/><use href="#t0_3_6_0"/><use href="#t0_3_6_1"/><use href="#t0_3_7_0"/><use href="#t0_3_7_1"/><use href="#t0_3_8_0"/><use href="#t0_3_8_1"/><use href="#t0_3_9_1"/></g></g>
<text x="272" y="80.1" font-size="7.2" stroke="#1a1a1a" stroke-width=".18" text-anchor="end" fill="#1a1a1a" textLength="17.7" lengthAdjust="spacingAndGlyphs">28.9%</text>
<g transform="translate(214 82.4) scale(.1)" stroke-width="4.8" fill="none"><g stroke="#424242"><use href="#t1_0_0_0"/><use href="#t1_0_0_1"/><use href="#t1_0_5_0"/><use href="#t1_0_5_1"/><use href="#t1_1_3_0"/><use href="#t1_3_9_1"/><use href="#t1_4_2_1"/><use href="#t1_4_7_1"/><use href="#t1_5_0_0"/><use href="#t1_5_0_1"/><use href="#t1_5_5_0"/><use href="#t1_5_5_1"/><use href="#t1_6_3_0"/><use href="#t1_6_3_1"/><use href="#t1_6_8_0"/><use href="#t1_6_8_1"/><use href="#t1_7_1_0"/><use href="#t1_7_1_1"/><use href="#t1_7_6_1"/><use href="#t1_8_4_1"/><use href="#t1_8_9_0"/><use href="#t1_8_9_1"/><use href="#t1_9_2_0"/><use href="#t1_9_7_1"/><use href="#t1_10_0_0"/><use href="#t1_10_0_1"/><use href="#t1_11_3_0"/><use href="#t1_11_8_0"/><use href="#t1_11_8_1"/><use href="#t1_12_1_0"/><use href="#t1_12_1_1"/><use href="#t1_12_6_0"/><use href="#t1_12_6_1"/></g><g stroke="#525252"><use href="#t1_0_2_0"/><use href="#t1_0_2_1"/><use href="#t1_0_7_0"/><use href="#t1_0_7_1"/><use href="#t1_1_0_1"/><use href="#t1_1_5_0"/><use href="#t1_1_5_1"/><use href="#t1_2_8_0"/><use href="#t1_2_8_1"/><use href="#t1_4_4_0"/><use href="#t1_4_9_0"/><use href="#t1_5_2_0"/><use href="#t1_5_2_1"/><use href="#t1_5_7_0"/><use href="#t1_5_7_1"/><use href="#t1_6_0_0"/><use href="#t1_6_0_1"/><use href="#t1_6_5_0"/><use href="#t1_6_5_1"/><use href="#t1_7_3_0"/><use href="#t1_7_3_1"/><use href="#t1_7_8_0"/><use href="#t1_7_8_1"/><use href="#t1_8_1_0"/><use href="#t1_8_1_1"/><use href="#t1_8_6_1"/><use href="#t1_9_4_0"/><use href="#t1_9_9_1"/><use href="#t1_10_7_0"/><use href="#t1_10_7_1"/><use href="#t1_11_0_0"/><use href="#t1_11_0_1"/><use href="#t1_11_5_1"/><use href="#t1_12_3_0"/><use href="#t1_12_3_1"/><use href="#t1_12_8_1"/></g><g stroke="#646464"><use href="#t1_0_4_0"/><use href="#t1_0_4_1"/><use href="#t1_0_9_0"/><use href="#t1_0_9_1"/><use href="#t1_1_2_0"/><use href="#t1_1_2_1"/><use href="#t1_1_7_0"/><use href="#t1_1_7_1"/><use href="#t1_3_8_1"/><use href="#t1_4_1_1"/><use href="#t1_4_6_0"/><use href="#t1_4_6_1"/><use href="#t1_5_4_0"/><use href="#t1_5_4_1"/><use href="#t1_5_9_0"/><use href="#t1_5_9_1"/><use href="#t1_6_2_0"/><use href="#t1_6_2_1"/><use href="#t1_6_7_0"/><use href="#t1_6_7_1"/><use href="#t1_7_0_0"/><use href="#t1_7_0_1"/><use href="#t1_7_5_0"/><use href="#t1_7_5_1"/><use href="#t1_8_3_1"/><use href="#t1_8_8_0"/><use href="#t1_8_8_1"/><use href="#t1_9_1_0"/><use href="#t1_10_4_0"/><use href="#t1_10_4_1"/><use href="#t1_10_9_1"/><use href="#t1_11_2_0"/><use href="#t1_11_2_1"/><use href="#t1_11_7_0"/><use href="#t1_12_0_1"/><use href="#t1_12_5_0"/></g><g stroke="#7a7a7a"><use href="#t1_0_1_0"/><use href="#t1_0_1_1"/><use href="#t1_0_6_0"/><use href="#t1_0_6_1"/><use href="#t1_1_4_0"/><use href="#t1_1_4_1"/><use href="#t1_1_9_1"/><use href="#t1_4_3_0"/><use href="#t1_4_3_1"/><use href="#t1_4_8_0"/><use href="#t1_4_8_1"/><use href="#t1_5_1_0"/><use href="#t1_5_1_1"/><use href="#t1_5_6_0"/><use href="#t1_5_6_1"/><use href="#t1_6_4_0"/><use href="#t1_6_4_1"/><use href="#t1_6_9_0"/><use href="#t1_6_9_1"/><use href="#t1_7_2_0"/><use href="#t1_7_2_1"/><use href="#t1_7_7_0"/><use href="#t1_7_7_1"/><use href="#t1_8_0_0"/><use href="#t1_8_0_1"/><use href="#t1_8_5_1"/><use href="#t1_10_1_1"/><use href="#t1_10_6_1"/><use href="#t1_11_4_0"/><use href="#t1_11_4_1"/><use href="#t1_11_9_0"/><use href="#t1_11_9_1"/><use href="#t1_12_2_0"/><use href="#t1_12_2_1"/><use href="#t1_12_7_0"/><use href="#t1_12_7_1"/></g><g stroke="#949494"><use href="#t1_0_3_0"/><use href="#t1_0_3_1"/><use href="#t1_0_8_0"/><use href="#t1_0_8_1"/><use href="#t1_1_6_1"/><use href="#t1_2_9_0"/><use href="#t1_2_9_1"/><use href="#t1_4_0_1"/><use href="#t1_4_5_0"/><use href="#t1_4_5_1"/><use href="#t1_5_3_0"/><use href="#t1_5_3_1"/><use href="#t1_5_8_0"/><use href="#t1_5_8_1"/><use href="#t1_6_1_0"/><use href="#t1_6_1_1"/><use href="#t1_6_6_0"/><use href="#t1_6_6_1"/><use href="#t1_7_4_1"/><use href="#t1_7_9_0"/><use href="#t1_7_9_1"/><use href="#t1_8_2_0"/><use href="#t1_8_2_1"/><use href="#t1_8_7_1"/><use href="#t1_9_0_1"/><use href="#t1_9_5_0"/><use href="#t1_10_3_0"/><use href="#t1_10_3_1"/><use href="#t1_10_8_0"/><use href="#t1_10_8_1"/><use href="#t1_11_1_0"/><use href="#t1_11_6_0"/><use href="#t1_11_6_1"/><use href="#t1_12_4_0"/><use href="#t1_12_4_1"/><use href="#t1_12_9_0"/><use href="#t1_12_9_1"/></g><g stroke="#34d634" stroke-width="6.4"><use href="#t1_2_0_0"/><use href="#t1_2_0_1"/><use href="#t1_2_1_0"/><use href="#t1_2_1_1"/><use href="#t1_2_2_0"/><use href="#t1_2_2_1"/><use href="#t1_2_3_0"/><use href="#t1_2_3_1"/><use href="#t1_2_4_0"/><use href="#t1_2_4_1"/><use href="#t1_2_5_0"/><use href="#t1_2_5_1"/><use href="#t1_3_0_0"/><use href="#t1_3_0_1"/><use href="#t1_3_2_0"/><use href="#t1_3_2_1"/><use href="#t1_3_3_0"/><use href="#t1_3_4_0"/><use href="#t1_3_4_1"/><use href="#t1_3_5_0"/><use href="#t1_3_5_1"/></g><g stroke="#5ade5a" stroke-width="6.4"><use href="#t1_2_6_0"/><use href="#t1_2_6_1"/><use href="#t1_2_7_0"/><use href="#t1_2_7_1"/><use href="#t1_3_6_1"/><use href="#t1_3_7_0"/></g></g>
<text x="272" y="139" font-size="7.2" stroke="#1a1a1a" stroke-width=".18" text-anchor="end" fill="#1a1a1a" textLength="17.7" lengthAdjust="spacingAndGlyphs">11.5%</text>
<rect x="214.5" y="23.5" width="59" height="118.2" fill="none" stroke="#8c8c8c" stroke-width="1"/>
<path d="M214.5 82.4L273.5 82.4" stroke="#9a9a9a" stroke-width="1"/>
<text x="244" y="17.4" font-size="7" stroke="#222" stroke-width=".04" text-anchor="middle" fill="#222">IL-10<tspan baseline-shift="super" font-size="65%">+</tspan></text>
<g transform="translate(278 23.5) scale(.1)" stroke-width="4.8" fill="none"><g stroke="#3c3c3c"><use href="#t0_0_0_0"/><use href="#t0_0_0_1"/><use href="#t0_0_5_0"/><use href="#t0_0_5_1"/><use href="#t0_1_8_0"/><use href="#t0_2_1_0"/><use href="#t0_2_1_1"/><use href="#t0_2_6_0"/><use href="#t0_2_6_1"/><use href="#t0_3_4_0"/><use href="#t0_3_9_1"/><use href="#t0_4_2_1"/><use href="#t0_4_7_1"/><use href="#t0_5_0_0"/><use href="#t0_5_0_1"/><use href="#t0_5_5_0"/><use href="#t0_5_5_1"/><use href="#t0_6_3_0"/><use href="#t0_6_3_1"/><use href="#t0_6_8_0"/><use href="#t0_6_8_1"/><use href="#t0_7_1_0"/><use href="#t0_7_1_1"/><use href="#t0_7_6_0"/><use href="#t0_7_6_1"/><use href="#t0_8_4_0"/><use href="#t0_8_4_1"/><use href="#t0_8_9_0"/><use href="#t0_8_9_1"/><use href="#t0_9_2_1"/><use href="#t0_9_7_0"/><use href="#t0_9_7_1"/><use href="#t0_10_0_1"/><use href="#t0_10_5_0"/><use href="#t0_10_5_1"/><use href="#t0_11_3_0"/><use href="#t0_11_3_1"/><use href="#t0_11_8_0"/><use href="#t0_11_8_1"/><use href="#t0_12_1_0"/><use href="#t0_12_1_1"/><use href="#t0_12_6_1"/></g><g stroke="#4c4c4c"><use href="#t0_0_2_0"/><use href="#t0_0_2_1"/><use href="#t0_0_7_0"/><use href="#t0_0_7_1"/><use href="#t0_1_0_1"/><use href="#t0_1_5_0"/><use href="#t0_1_5_1"/><use href="#t0_2_3_0"/><use href="#t0_2_3_1"/><use href="#t0_2_8_0"/><use href="#t0_2_8_1"/><use href="#t0_3_1_0"/><use href="#t0_3_1_1"/><use href="#t0_3_6_0"/><use href="#t0_3_6_1"/><use href="#t0_4_4_1"/><use href="#t0_4_9_0"/><use href="#t0_4_9_1"/><use href="#t0_5_2_0"/><use href="#t0_5_2_1"/><use href="#t0_5_7_0"/><use href="#t0_5_7_1"/><use href="#t0_6_0_0"/><use href="#t0_6_0_1"/><use href="#t0_6_5_0"/><use href="#t0_6_5_1"/><use href="#t0_7_3_0"/><use href="#t0_7_3_1"/><use href="#t0_7_8_0"/><use href="#t0_8_1_1"/><use href="#t0_8_6_1"/><use href="#t0_10_2_0"/><use href="#t0_10_2_1"/><use href="#t0_10_7_0"/><use href="#t0_10_7_1"/><use href="#t0_11_0_0"/><use href="#t0_11_0_1"/><use href="#t0_11_5_0"/><use href="#t0_11_5_1"/><use href="#t0_12_3_0"/><use href="#t0_12_8_0"/><use href="#t0_12_8_1"/></g><g stroke="#5e5e5e"><use href="#t0_0_4_0"/><use href="#t0_0_4_1"/><use href="#t0_0_9_0"/><use href="#t0_0_9_1"/><use href="#t0_1_2_0"/><use href="#t0_1_2_1"/><use href="#t0_2_0_0"/><use href="#t0_2_0_1"/><use href="#t0_2_5_0"/><use href="#t0_2_5_1"/><use href="#t0_3_3_1"/><use href="#t0_3_8_0"/><use href="#t0_3_8_1"/><use href="#t0_4_1_0"/><use href="#t0_4_1_1"/><use href="#t0_4_6_1"/><use href="#t0_5_4_0"/><use href="#t0_5_4_1"/><use href="#t0_5_9_0"/><use href="#t0_5_9_1"/><use href="#t0_6_2_0"/><use href="#t0_6_2_1"/><use href="#t0_6_7_0"/><use href="#t0_6_7_1"/><use href="#t0_7_0_0"/><use href="#t0_7_0_1"/><use href="#t0_7_5_0"/><use href="#t0_7_5_1"/><use href="#t0_8_3_0"/><use href="#t0_8_3_1"/><use href="#t0_8_8_0"/><use href="#t0_8_8_1"/><use href="#t0_9_1_0"/><use href="#t0_9_1_1"/><use href="#t0_10_4_0"/><use href="#t0_10_4_1"/><use href="#t0_10_9_0"/><use href="#t0_11_2_0"/><use href="#t0_11_7_1"/><use href="#t0_12_0_0"/><use href="#t0_12_0_1"/><use href="#t0_12_5_0"/><use href="#t0_12_5_1"/></g><g stroke="#727272"><use href="#t0_0_1_0"/><use href="#t0_0_1_1"/><use href="#t0_0_6_0"/><use href="#t0_0_6_1"/><use href="#t0_1_4_1"/><use href="#t0_1_9_0"/><use href="#t0_1_9_1"/><use href="#t0_2_2_0"/><use href="#t0_2_2_1"/><use href="#t0_2_7_0"/><use href="#t0_2_7_1"/><use href="#t0_3_0_0"/><use href="#t0_3_0_1"/><use href="#t0_3_5_0"/><use href="#t0_3_5_1"/><use href="#t0_4_3_0"/><use href="#t0_4_3_1"/><use href="#t0_4_8_1"/><use href="#t0_5_1_0"/><use href="#t0_5_1_1"/><use href="#t0_5_6_0"/><use href="#t0_5_6_1"/><use href="#t0_6_4_0"/><use href="#t0_6_4_1"/><use href="#t0_6_9_0"/><use href="#t0_6_9_1"/><use href="#t0_7_2_0"/><use href="#t0_7_2_1"/><use href="#t0_7_7_0"/><use href="#t0_7_7_1"/><use href="#t0_8_0_1"/><use href="#t0_8_5_1"/><use href="#t0_9_8_0"/><use href="#t0_10_1_1"/><use href="#t0_10_6_0"/><use href="#t0_10_6_1"/><use href="#t0_11_9_1"/><use href="#t0_12_2_0"/><use href="#t0_12_2_1"/><use href="#t0_12_7_0"/><use href="#t0_12_7_1"/></g><g stroke="#8a8a8a"><use href="#t0_0_3_0"/><use href="#t0_0_3_1"/><use href="#t0_0_8_0"/><use href="#t0_0_8_1"/><use href="#t0_1_1_0"/><use href="#t0_1_6_1"/><use href="#t0_2_4_0"/><use href="#t0_2_4_1"/><use href="#t0_2_9_0"/><use href="#t0_2_9_1"/><use href="#t0_3_2_0"/><use href="#t0_3_2_1"/><use href="#t0_3_7_0"/><use href="#t0_3_7_1"/><use href="#t0_4_0_0"/><use href="#t0_4_5_0"/><use href="#t0_4_5_1"/><use href="#t0_5_3_0"/><use href="#t0_5_3_1"/><use href="#t0_5_8_0"/><use href="#t0_5_8_1"/><use href="#t0_6_1_0"/><use href="#t0_6_1_1"/><use href="#t0_6_6_0"/><use href="#t0_6_6_1"/><use href="#t0_7_4_0"/><use href="#t0_7_4_1"/><use href="#t0_7_9_0"/><use href="#t0_7_9_1"/><use href="#t0_8_2_0"/><use href="#t0_8_2_1"/><use href="#t0_8_7_1"/><use href="#t0_9_5_0"/><use href="#t0_10_3_0"/><use href="#t0_10_3_1"/><use href="#t0_10_8_0"/><use href="#t0_11_1_0"/><use href="#t0_11_1_1"/><use href="#t0_11_6_0"/><use href="#t0_11_6_1"/><use href="#t0_12_4_0"/><use href="#t0_12_4_1"/><use href="#t0_12_9_0"/><use href="#t0_12_9_1"/></g></g>
<text x="336" y="80.1" font-size="7.2" stroke="#1a1a1a" stroke-width=".18" text-anchor="end" fill="#1a1a1a" textLength="13.4" lengthAdjust="spacingAndGlyphs">1.2%</text>
<g transform="translate(278 82.4) scale(.1)" stroke-width="4.8" fill="none"><g stroke="#424242"><use href="#t1_0_0_0"/><use href="#t1_0_0_1"/><use href="#t1_0_5_0"/><use href="#t1_0_5_1"/><use href="#t1_1_3_0"/><use href="#t1_2_1_0"/><use href="#t1_2_1_1"/><use href="#t1_2_6_0"/><use href="#t1_2_6_1"/><use href="#t1_3_4_0"/><use href="#t1_3_4_1"/><use href="#t1_3_9_1"/><use href="#t1_4_2_1"/><use href="#t1_4_7_1"/><use href="#t1_5_0_0"/><use href="#t1_5_0_1"/><use href="#t1_5_5_0"/><use href="#t1_5_5_1"/><use href="#t1_6_3_0"/><use href="#t1_6_3_1"/><use href="#t1_6_8_0"/><use href="#t1_6_8_1"/><use href="#t1_7_1_0"/><use href="#t1_7_1_1"/><use href="#t1_7_6_1"/><use href="#t1_8_4_1"/><use href="#t1_8_9_0"/><use href="#t1_8_9_1"/><use href="#t1_9_2_0"/><use href="#t1_9_7_1"/><use href="#t1_10_0_0"/><use href="#t1_10_0_1"/><use href="#t1_11_3_0"/><use href="#t1_11_8_0"/><use href="#t1_11_8_1"/><use href="#t1_12_1_0"/><use href="#t1_12_1_1"/><use href="#t1_12_6_0"/><use href="#t1_12_6_1"/></g><g stroke="#525252"><use href="#t1_0_2_0"/><use href="#t1_0_2_1"/><use href="#t1_0_7_0"/><use href="#t1_0_7_1"/><use href="#t1_1_0_1"/><use href="#t1_1_5_0"/><use href="#t1_1_5_1"/><use href="#t1_2_3_0"/><use href="#t1_2_3_1"/><use href="#t1_2_8_0"/><use href="#t1_2_8_1"/><use href="#t1_3_6_1"/><use href="#t1_4_4_0"/><use href="#t1_4_9_0"/><use href="#t1_5_2_0"/><use href="#t1_5_2_1"/><use href="#t1_5_7_0"/><use href="#t1_5_7_1"/><use href="#t1_6_0_0"/><use href="#t1_6_0_1"/><use href="#t1_6_5_0"/><use href="#t1_6_5_1"/><use href="#t1_7_3_0"/><use href="#t1_7_3_1"/><use href="#t1_7_8_0"/><use href="#t1_7_8_1"/><use href="#t1_8_1_0"/><use href="#t1_8_1_1"/><use href="#t1_8_6_1"/><use href="#t1_9_4_0"/><use href="#t1_9_9_1"/><use href="#t1_10_7_0"/><use href="#t1_10_7_1"/><use href="#t1_11_0_0"/><use href="#t1_11_0_1"/><use href="#t1_11_5_1"/><use href="#t1_12_3_0"/><use href="#t1_12_3_1"/><use href="#t1_12_8_1"/></g><g stroke="#646464"><use href="#t1_0_4_0"/><use href="#t1_0_4_1"/><use href="#t1_0_9_0"/><use href="#t1_0_9_1"/><use href="#t1_1_2_0"/><use href="#t1_1_2_1"/><use href="#t1_1_7_0"/><use href="#t1_1_7_1"/><use href="#t1_2_0_0"/><use href="#t1_2_0_1"/><use href="#t1_2_5_0"/><use href="#t1_2_5_1"/><use href="#t1_3_3_0"/><use href="#t1_3_8_1"/><use href="#t1_4_1_1"/><use href="#t1_4_6_0"/><use href="#t1_4_6_1"/><use href="#t1_5_4_0"/><use href="#t1_5_4_1"/><use href="#t1_5_9_0"/><use href="#t1_5_9_1"/><use href="#t1_6_2_0"/><use href="#t1_6_2_1"/><use href="#t1_6_7_0"/><use href="#t1_6_7_1"/><use href="#t1_7_0_0"/><use href="#t1_7_0_1"/><use href="#t1_7_5_0"/><use href="#t1_7_5_1"/><use href="#t1_8_3_1"/><use href="#t1_8_8_0"/><use href="#t1_8_8_1"/><use href="#t1_9_1_0"/><use href="#t1_10_4_0"/><use href="#t1_10_4_1"/><use href="#t1_10_9_1"/><use href="#t1_11_2_0"/><use href="#t1_11_2_1"/><use href="#t1_11_7_0"/><use href="#t1_12_0_1"/><use href="#t1_12_5_0"/></g><g stroke="#7a7a7a"><use href="#t1_0_1_0"/><use href="#t1_0_1_1"/><use href="#t1_0_6_0"/><use href="#t1_0_6_1"/><use href="#t1_1_4_0"/><use href="#t1_1_4_1"/><use href="#t1_1_9_1"/><use href="#t1_2_2_0"/><use href="#t1_2_2_1"/><use href="#t1_2_7_0"/><use href="#t1_2_7_1"/><use href="#t1_3_0_0"/><use href="#t1_3_0_1"/><use href="#t1_3_5_0"/><use href="#t1_3_5_1"/><use href="#t1_4_3_0"/><use href="#t1_4_3_1"/><use href="#t1_4_8_0"/><use href="#t1_4_8_1"/><use href="#t1_5_1_0"/><use href="#t1_5_1_1"/><use href="#t1_5_6_0"/><use href="#t1_5_6_1"/><use href="#t1_6_4_0"/><use href="#t1_6_4_1"/><use href="#t1_6_9_0"/><use href="#t1_6_9_1"/><use href="#t1_7_2_0"/><use href="#t1_7_2_1"/><use href="#t1_7_7_0"/><use href="#t1_7_7_1"/><use href="#t1_8_0_0"/><use href="#t1_8_0_1"/><use href="#t1_8_5_1"/><use href="#t1_10_1_1"/><use href="#t1_10_6_1"/><use href="#t1_11_4_0"/><use href="#t1_11_4_1"/><use href="#t1_11_9_0"/><use href="#t1_11_9_1"/><use href="#t1_12_2_0"/><use href="#t1_12_2_1"/><use href="#t1_12_7_0"/><use href="#t1_12_7_1"/></g><g stroke="#949494"><use href="#t1_0_3_0"/><use href="#t1_0_3_1"/><use href="#t1_0_8_0"/><use href="#t1_0_8_1"/><use href="#t1_1_6_1"/><use href="#t1_2_4_0"/><use href="#t1_2_4_1"/><use href="#t1_2_9_0"/><use href="#t1_2_9_1"/><use href="#t1_3_2_0"/><use href="#t1_3_2_1"/><use href="#t1_3_7_0"/><use href="#t1_4_0_1"/><use href="#t1_4_5_0"/><use href="#t1_4_5_1"/><use href="#t1_5_3_0"/><use href="#t1_5_3_1"/><use href="#t1_5_8_0"/><use href="#t1_5_8_1"/><use href="#t1_6_1_0"/><use href="#t1_6_1_1"/><use href="#t1_6_6_0"/><use href="#t1_6_6_1"/><use href="#t1_7_4_1"/><use href="#t1_7_9_0"/><use href="#t1_7_9_1"/><use href="#t1_8_2_0"/><use href="#t1_8_2_1"/><use href="#t1_8_7_1"/><use href="#t1_9_0_1"/><use href="#t1_9_5_0"/><use href="#t1_10_3_0"/><use href="#t1_10_3_1"/><use href="#t1_10_8_0"/><use href="#t1_10_8_1"/><use href="#t1_11_1_0"/><use href="#t1_11_6_0"/><use href="#t1_11_6_1"/><use href="#t1_12_4_0"/><use href="#t1_12_4_1"/><use href="#t1_12_9_0"/><use href="#t1_12_9_1"/></g></g>
<text x="336" y="139" font-size="7.2" stroke="#1a1a1a" stroke-width=".18" text-anchor="end" fill="#1a1a1a" textLength="13.4" lengthAdjust="spacingAndGlyphs">1.4%</text>
<rect x="278.5" y="23.5" width="59" height="118.2" fill="none" stroke="#8c8c8c" stroke-width="1"/>
<path d="M278.5 82.4L337.5 82.4" stroke="#9a9a9a" stroke-width="1"/>
<text x="308" y="17.4" font-size="7" stroke="#222" stroke-width=".04" text-anchor="middle" fill="#222">IL-17A<tspan baseline-shift="super" font-size="65%">+</tspan></text>
<g transform="translate(342 23.5) scale(.1)" stroke-width="4.8" fill="none"><g stroke="#3c3c3c"><use href="#t0_0_0_0"/><use href="#t0_0_0_1"/><use href="#t0_0_5_0"/><use href="#t0_0_5_1"/><use href="#t0_1_8_0"/><use href="#t0_2_1_0"/><use href="#t0_2_1_1"/><use href="#t0_2_6_0"/><use href="#t0_2_6_1"/><use href="#t0_3_4_0"/><use href="#t0_3_9_1"/><use href="#t0_4_2_1"/><use href="#t0_4_7_1"/><use href="#t0_5_0_0"/><use href="#t0_5_0_1"/><use href="#t0_5_5_0"/><use href="#t0_5_5_1"/><use href="#t0_6_3_0"/><use href="#t0_6_3_1"/><use href="#t0_6_8_0"/><use href="#t0_6_8_1"/><use href="#t0_8_4_0"/><use href="#t0_8_4_1"/><use href="#t0_8_9_0"/><use href="#t0_8_9_1"/><use href="#t0_10_0_1"/><use href="#t0_10_5_0"/><use href="#t0_10_5_1"/><use href="#t0_11_3_0"/><use href="#t0_11_3_1"/><use href="#t0_11_8_0"/><use href="#t0_11_8_1"/><use href="#t0_12_1_0"/><use href="#t0_12_1_1"/><use href="#t0_12_6_1"/></g><g stroke="#4c4c4c"><use href="#t0_0_2_0"/><use href="#t0_0_2_1"/><use href="#t0_0_7_0"/><use href="#t0_0_7_1"/><use href="#t0_1_0_1"/><use href="#t0_1_5_0"/><use href="#t0_1_5_1"/><use href="#t0_2_3_0"/><use href="#t0_2_3_1"/><use href="#t0_2_8_0"/><use href="#t0_2_8_1"/><use href="#t0_3_1_0"/><use href="#t0_3_1_1"/><use href="#t0_3_6_0"/><use href="#t0_3_6_1"/><use href="#t0_4_4_1"/><use href="#t0_4_9_0"/><use href="#t0_4_9_1"/><use href="#t0_5_2_0"/><use href="#t0_5_2_1"/><use href="#t0_5_7_0"/><use href="#t0_5_7_1"/><use href="#t0_6_0_0"/><use href="#t0_6_0_1"/><use href="#t0_6_5_0"/><use href="#t0_6_5_1"/><use href="#t0_8_1_1"/><use href="#t0_8_6_1"/><use href="#t0_10_2_0"/><use href="#t0_10_2_1"/><use href="#t0_10_7_0"/><use href="#t0_10_7_1"/><use href="#t0_11_0_0"/><use href="#t0_11_0_1"/><use href="#t0_11_5_0"/><use href="#t0_11_5_1"/><use href="#t0_12_3_0"/><use href="#t0_12_8_0"/><use href="#t0_12_8_1"/></g><g stroke="#5e5e5e"><use href="#t0_0_4_0"/><use href="#t0_0_4_1"/><use href="#t0_0_9_0"/><use href="#t0_0_9_1"/><use href="#t0_1_2_0"/><use href="#t0_1_2_1"/><use href="#t0_2_0_0"/><use href="#t0_2_0_1"/><use href="#t0_2_5_0"/><use href="#t0_2_5_1"/><use href="#t0_3_3_1"/><use href="#t0_3_8_0"/><use href="#t0_3_8_1"/><use href="#t0_4_1_0"/><use href="#t0_4_1_1"/><use href="#t0_4_6_1"/><use href="#t0_5_4_0"/><use href="#t0_5_4_1"/><use href="#t0_5_9_0"/><use href="#t0_5_9_1"/><use href="#t0_6_2_0"/><use href="#t0_6_2_1"/><use href="#t0_6_7_0"/><use href="#t0_6_7_1"/><use href="#t0_8_3_0"/><use href="#t0_8_3_1"/><use href="#t0_8_8_0"/><use href="#t0_8_8_1"/><use href="#t0_10_4_0"/><use href="#t0_10_4_1"/><use href="#t0_10_9_0"/><use href="#t0_11_2_0"/><use href="#t0_11_7_1"/><use href="#t0_12_0_0"/><use href="#t0_12_0_1"/><use href="#t0_12_5_0"/><use href="#t0_12_5_1"/></g><g stroke="#727272"><use href="#t0_0_1_0"/><use href="#t0_0_1_1"/><use href="#t0_0_6_0"/><use href="#t0_0_6_1"/><use href="#t0_1_4_1"/><use href="#t0_1_9_0"/><use href="#t0_1_9_1"/><use href="#t0_2_2_0"/><use href="#t0_2_2_1"/><use href="#t0_2_7_0"/><use href="#t0_2_7_1"/><use href="#t0_3_0_0"/><use href="#t0_3_0_1"/><use href="#t0_3_5_0"/><use href="#t0_3_5_1"/><use href="#t0_4_3_0"/><use href="#t0_4_3_1"/><use href="#t0_4_8_1"/><use href="#t0_5_1_0"/><use href="#t0_5_1_1"/><use href="#t0_5_6_0"/><use href="#t0_5_6_1"/><use href="#t0_6_4_0"/><use href="#t0_6_4_1"/><use href="#t0_6_9_0"/><use href="#t0_6_9_1"/><use href="#t0_8_0_1"/><use href="#t0_8_5_1"/><use href="#t0_10_1_1"/><use href="#t0_10_6_0"/><use href="#t0_10_6_1"/><use href="#t0_11_9_1"/><use href="#t0_12_2_0"/><use href="#t0_12_2_1"/><use href="#t0_12_7_0"/><use href="#t0_12_7_1"/></g><g stroke="#8a8a8a"><use href="#t0_0_3_0"/><use href="#t0_0_3_1"/><use href="#t0_0_8_0"/><use href="#t0_0_8_1"/><use href="#t0_1_1_0"/><use href="#t0_1_6_1"/><use href="#t0_2_4_0"/><use href="#t0_2_4_1"/><use href="#t0_2_9_0"/><use href="#t0_2_9_1"/><use href="#t0_3_2_0"/><use href="#t0_3_2_1"/><use href="#t0_3_7_0"/><use href="#t0_3_7_1"/><use href="#t0_4_0_0"/><use href="#t0_4_5_0"/><use href="#t0_4_5_1"/><use href="#t0_5_3_0"/><use href="#t0_5_3_1"/><use href="#t0_5_8_0"/><use href="#t0_5_8_1"/><use href="#t0_6_1_0"/><use href="#t0_6_1_1"/><use href="#t0_6_6_0"/><use href="#t0_6_6_1"/><use href="#t0_8_2_0"/><use href="#t0_8_2_1"/><use href="#t0_8_7_1"/><use href="#t0_10_3_0"/><use href="#t0_10_3_1"/><use href="#t0_10_8_0"/><use href="#t0_11_1_0"/><use href="#t0_11_1_1"/><use href="#t0_11_6_0"/><use href="#t0_11_6_1"/><use href="#t0_12_4_0"/><use href="#t0_12_4_1"/><use href="#t0_12_9_0"/><use href="#t0_12_9_1"/></g><g stroke="#f03232" stroke-width="6.4"><use href="#t0_7_0_0"/><use href="#t0_7_0_1"/><use href="#t0_7_1_0"/><use href="#t0_7_1_1"/><use href="#t0_7_2_0"/><use href="#t0_7_2_1"/><use href="#t0_7_3_0"/><use href="#t0_7_3_1"/><use href="#t0_7_4_0"/><use href="#t0_7_4_1"/><use href="#t0_7_5_0"/><use href="#t0_7_5_1"/><use href="#t0_9_1_0"/><use href="#t0_9_1_1"/><use href="#t0_9_2_1"/><use href="#t0_9_5_0"/></g><g stroke="#f56060" stroke-width="6.4"><use href="#t0_7_6_0"/><use href="#t0_7_6_1"/><use href="#t0_7_7_0"/><use href="#t0_7_7_1"/><use href="#t0_7_8_0"/><use href="#t0_7_9_0"/><use href="#t0_7_9_1"/><use href="#t0_9_7_0"/><use href="#t0_9_7_1"/><use href="#t0_9_8_0"/></g></g>
<text x="400" y="80.1" font-size="7.2" stroke="#1a1a1a" stroke-width=".18" text-anchor="end" fill="#1a1a1a" textLength="13.4" lengthAdjust="spacingAndGlyphs">2.6%</text>
<g transform="translate(342 82.4) scale(.1)" stroke-width="4.8" fill="none"><g stroke="#424242"><use href="#t1_0_0_0"/><use href="#t1_0_0_1"/><use href="#t1_0_5_0"/><use href="#t1_0_5_1"/><use href="#t1_1_3_0"/><use href="#t1_2_1_0"/><use href="#t1_2_1_1"/><use href="#t1_2_6_0"/><use href="#t1_2_6_1"/><use href="#t1_3_4_0"/><use href="#t1_3_4_1"/><use href="#t1_3_9_1"/><use href="#t1_4_2_1"/><use href="#t1_4_7_1"/><use href="#t1_5_0_0"/><use href="#t1_5_0_1"/><use href="#t1_5_5_0"/><use href="#t1_5_5_1"/><use href="#t1_6_3_0"/><use href="#t1_6_3_1"/><use href="#t1_6_8_0"/><use href="#t1_6_8_1"/><use href="#t1_8_4_1"/><use href="#t1_8_9_0"/><use href="#t1_8_9_1"/><use href="#t1_10_0_0"/><use href="#t1_10_0_1"/><use href="#t1_11_3_0"/><use href="#t1_11_8_0"/><use href="#t1_11_8_1"/><use href="#t1_12_1_0"/><use href="#t1_12_1_1"/><use href="#t1_12_6_0"/><use href="#t1_12_6_1"/></g><g stroke="#525252"><use href="#t1_0_2_0"/><use href="#t1_0_2_1"/><use href="#t1_0_7_0"/><use href="#t1_0_7_1"/><use href="#t1_1_0_1"/><use href="#t1_1_5_0"/><use href="#t1_1_5_1"/><use href="#t1_2_3_0"/><use href="#t1_2_3_1"/><use href="#t1_2_8_0"/><use href="#t1_2_8_1"/><use href="#t1_3_6_1"/><use href="#t1_4_4_0"/><use href="#t1_4_9_0"/><use href="#t1_5_2_0"/><use href="#t1_5_2_1"/><use href="#t1_5_7_0"/><use href="#t1_5_7_1"/><use href="#t1_6_0_0"/><use href="#t1_6_0_1"/><use href="#t1_6_5_0"/><use href="#t1_6_5_1"/><use href="#t1_8_1_0"/><use href="#t1_8_1_1"/><use href="#t1_8_6_1"/><use href="#t1_10_7_0"/><use href="#t1_10_7_1"/><use href="#t1_11_0_0"/><use href="#t1_11_0_1"/><use href="#t1_11_5_1"/><use href="#t1_12_3_0"/><use href="#t1_12_3_1"/><use href="#t1_12_8_1"/></g><g stroke="#646464"><use href="#t1_0_4_0"/><use href="#t1_0_4_1"/><use href="#t1_0_9_0"/><use href="#t1_0_9_1"/><use href="#t1_1_2_0"/><use href="#t1_1_2_1"/><use href="#t1_1_7_0"/><use href="#t1_1_7_1"/><use href="#t1_2_0_0"/><use href="#t1_2_0_1"/><use href="#t1_2_5_0"/><use href="#t1_2_5_1"/><use href="#t1_3_3_0"/><use href="#t1_3_8_1"/><use href="#t1_4_1_1"/><use href="#t1_4_6_0"/><use href="#t1_4_6_1"/><use href="#t1_5_4_0"/><use href="#t1_5_4_1"/><use href="#t1_5_9_0"/><use href="#t1_5_9_1"/><use href="#t1_6_2_0"/><use href="#t1_6_2_1"/><use href="#t1_6_7_0"/><use href="#t1_6_7_1"/><use href="#t1_8_3_1"/><use href="#t1_8_8_0"/><use href="#t1_8_8_1"/><use href="#t1_10_4_0"/><use href="#t1_10_4_1"/><use href="#t1_10_9_1"/><use href="#t1_11_2_0"/><use href="#t1_11_2_1"/><use href="#t1_11_7_0"/><use href="#t1_12_0_1"/><use href="#t1_12_5_0"/></g><g stroke="#7a7a7a"><use href="#t1_0_1_0"/><use href="#t1_0_1_1"/><use href="#t1_0_6_0"/><use href="#t1_0_6_1"/><use href="#t1_1_4_0"/><use href="#t1_1_4_1"/><use href="#t1_1_9_1"/><use href="#t1_2_2_0"/><use href="#t1_2_2_1"/><use href="#t1_2_7_0"/><use href="#t1_2_7_1"/><use href="#t1_3_0_0"/><use href="#t1_3_0_1"/><use href="#t1_3_5_0"/><use href="#t1_3_5_1"/><use href="#t1_4_3_0"/><use href="#t1_4_3_1"/><use href="#t1_4_8_0"/><use href="#t1_4_8_1"/><use href="#t1_5_1_0"/><use href="#t1_5_1_1"/><use href="#t1_5_6_0"/><use href="#t1_5_6_1"/><use href="#t1_6_4_0"/><use href="#t1_6_4_1"/><use href="#t1_6_9_0"/><use href="#t1_6_9_1"/><use href="#t1_8_0_0"/><use href="#t1_8_0_1"/><use href="#t1_8_5_1"/><use href="#t1_10_1_1"/><use href="#t1_10_6_1"/><use href="#t1_11_4_0"/><use href="#t1_11_4_1"/><use href="#t1_11_9_0"/><use href="#t1_11_9_1"/><use href="#t1_12_2_0"/><use href="#t1_12_2_1"/><use href="#t1_12_7_0"/><use href="#t1_12_7_1"/></g><g stroke="#949494"><use href="#t1_0_3_0"/><use href="#t1_0_3_1"/><use href="#t1_0_8_0"/><use href="#t1_0_8_1"/><use href="#t1_1_6_1"/><use href="#t1_2_4_0"/><use href="#t1_2_4_1"/><use href="#t1_2_9_0"/><use href="#t1_2_9_1"/><use href="#t1_3_2_0"/><use href="#t1_3_2_1"/><use href="#t1_3_7_0"/><use href="#t1_4_0_1"/><use href="#t1_4_5_0"/><use href="#t1_4_5_1"/><use href="#t1_5_3_0"/><use href="#t1_5_3_1"/><use href="#t1_5_8_0"/><use href="#t1_5_8_1"/><use href="#t1_6_1_0"/><use href="#t1_6_1_1"/><use href="#t1_6_6_0"/><use href="#t1_6_6_1"/><use href="#t1_8_2_0"/><use href="#t1_8_2_1"/><use href="#t1_8_7_1"/><use href="#t1_10_3_0"/><use href="#t1_10_3_1"/><use href="#t1_10_8_0"/><use href="#t1_10_8_1"/><use href="#t1_11_1_0"/><use href="#t1_11_6_0"/><use href="#t1_11_6_1"/><use href="#t1_12_4_0"/><use href="#t1_12_4_1"/><use href="#t1_12_9_0"/><use href="#t1_12_9_1"/></g><g stroke="#f03232" stroke-width="6.4"><use href="#t1_7_0_0"/><use href="#t1_7_0_1"/><use href="#t1_7_1_0"/><use href="#t1_7_1_1"/><use href="#t1_7_2_0"/><use href="#t1_7_2_1"/><use href="#t1_7_3_0"/><use href="#t1_7_3_1"/><use href="#t1_7_4_1"/><use href="#t1_7_5_0"/><use href="#t1_7_5_1"/><use href="#t1_9_0_1"/><use href="#t1_9_1_0"/><use href="#t1_9_2_0"/><use href="#t1_9_4_0"/><use href="#t1_9_5_0"/></g><g stroke="#f56060" stroke-width="6.4"><use href="#t1_7_6_1"/><use href="#t1_7_7_0"/><use href="#t1_7_7_1"/><use href="#t1_7_8_0"/><use href="#t1_7_8_1"/><use href="#t1_7_9_0"/><use href="#t1_7_9_1"/><use href="#t1_9_7_1"/><use href="#t1_9_9_1"/></g></g>
<text x="400" y="139" font-size="7.2" stroke="#1a1a1a" stroke-width=".18" text-anchor="end" fill="#1a1a1a" textLength="13.4" lengthAdjust="spacingAndGlyphs">6.1%</text>
<rect x="342.5" y="23.5" width="59" height="118.2" fill="none" stroke="#8c8c8c" stroke-width="1"/>
<path d="M342.5 82.4L401.5 82.4" stroke="#9a9a9a" stroke-width="1"/>
<text x="372" y="17.4" font-size="7" stroke="#222" stroke-width=".04" text-anchor="middle" fill="#222">IL-22<tspan baseline-shift="super" font-size="65%">+</tspan></text>
<g transform="translate(406 23.5) scale(.1)" stroke-width="4.8" fill="none"><g stroke="#33d433" stroke-width="6.4"><use href="#t0_2_0_0"/><use href="#t0_2_0_1"/><use href="#t0_2_1_0"/><use href="#t0_2_1_1"/><use href="#t0_2_2_0"/><use href="#t0_2_2_1"/><use href="#t0_2_3_0"/><use href="#t0_2_3_1"/><use href="#t0_2_4_0"/><use href="#t0_2_4_1"/><use href="#t0_2_5_0"/><use href="#t0_2_5_1"/><use href="#t0_2_6_0"/><use href="#t0_2_6_1"/><use href="#t0_3_0_0"/><use href="#t0_3_0_1"/><use href="#t0_3_1_0"/><use href="#t0_3_1_1"/><use href="#t0_3_2_0"/><use href="#t0_3_2_1"/><use href="#t0_3_3_1"/><use href="#t0_3_4_0"/><use href="#t0_3_5_0"/><use href="#t0_3_5_1"/><use href="#t0_3_6_0"/><use href="#t0_3_6_1"/></g><g stroke="#4c7af0" stroke-width="6.4"><use href="#t0_6_0_0"/><use href="#t0_6_0_1"/><use href="#t0_6_1_0"/><use href="#t0_6_1_1"/><use href="#t0_6_2_0"/><use href="#t0_6_2_1"/><use href="#t0_6_3_0"/><use href="#t0_6_3_1"/><use href="#t0_6_4_0"/><use href="#t0_6_4_1"/><use href="#t0_11_0_0"/><use href="#t0_11_0_1"/><use href="#t0_11_1_0"/><use href="#t0_11_1_1"/><use href="#t0_11_2_0"/><use href="#t0_11_3_0"/><use href="#t0_11_3_1"/><use href="#t0_12_0_0"/><use href="#t0_12_0_1"/><use href="#t0_12_1_0"/><use href="#t0_12_1_1"/><use href="#t0_12_2_0"/><use href="#t0_12_2_1"/><use href="#t0_12_3_0"/><use href="#t0_12_4_0"/><use href="#t0_12_4_1"/></g><g stroke="#60de60" stroke-width="6.4"><use href="#t0_2_7_0"/><use href="#t0_2_7_1"/><use href="#t0_2_8_0"/><use href="#t0_2_8_1"/><use href="#t0_2_9_0"/><use href="#t0_2_9_1"/><use href="#t0_3_7_0"/><use href="#t0_3_7_1"/><use href="#t0_3_8_0"/><use href="#t0_3_8_1"/><use href="#t0_3_9_1"/></g><g stroke="#7a90f0" stroke-width="6.4"><use href="#t0_8_5_1"/><use href="#t0_8_6_1"/><use href="#t0_8_7_1"/><use href="#t0_8_8_0"/><use href="#t0_8_8_1"/><use href="#t0_8_9_0"/><use href="#t0_8_9_1"/></g><g stroke="#7c9cf4" stroke-width="6.4"><use href="#t0_6_5_0"/><use href="#t0_6_5_1"/><use href="#t0_6_6_0"/><use href="#t0_6_6_1"/><use href="#t0_6_7_0"/><use href="#t0_6_7_1"/><use href="#t0_11_5_0"/><use href="#t0_11_5_1"/><use href="#t0_11_6_0"/><use href="#t0_11_6_1"/><use href="#t0_11_7_1"/><use href="#t0_12_5_0"/><use href="#t0_12_5_1"/><use href="#t0_12_6_1"/><use href="#t0_12_7_0"/><use href="#t0_12_7_1"/></g><g stroke="#8c3cc4" stroke-width="6.4"><use href="#t0_5_0_0"/><use href="#t0_5_0_1"/><use href="#t0_5_1_0"/><use href="#t0_5_1_1"/><use href="#t0_5_2_0"/><use href="#t0_5_2_1"/><use href="#t0_5_3_0"/><use href="#t0_5_3_1"/><use href="#t0_5_4_0"/><use href="#t0_5_4_1"/><use href="#t0_10_0_1"/><use href="#t0_10_1_1"/><use href="#t0_10_2_0"/><use href="#t0_10_2_1"/><use href="#t0_10_3_0"/><use href="#t0_10_3_1"/><use href="#t0_10_4_0"/><use href="#t0_10_4_1"/></g><g stroke="#9a5ad0" stroke-width="6.4"><use href="#t0_8_0_1"/><use href="#t0_8_1_1"/><use href="#t0_8_2_0"/><use href="#t0_8_2_1"/><use href="#t0_8_3_0"/><use href="#t0_8_3_1"/><use href="#t0_8_4_0"/><use href="#t0_8_4_1"/></g><g stroke="#a070d6" stroke-width="6.4"><use href="#t0_6_8_0"/><use href="#t0_6_8_1"/><use href="#t0_6_9_0"/><use href="#t0_6_9_1"/><use href="#t0_11_8_0"/><use href="#t0_11_8_1"/><use href="#t0_11_9_1"/><use href="#t0_12_8_0"/><use href="#t0_12_8_1"/><use href="#t0_12_9_0"/><use href="#t0_12_9_1"/></g><g stroke="#a862d2" stroke-width="6.4"><use href="#t0_5_5_0"/><use href="#t0_5_5_1"/><use href="#t0_5_6_0"/><use href="#t0_5_6_1"/><use href="#t0_5_7_0"/><use href="#t0_5_7_1"/><use href="#t0_10_5_0"/><use href="#t0_10_5_1"/><use href="#t0_10_6_0"/><use href="#t0_10_6_1"/><use href="#t0_10_7_0"/><use href="#t0_10_7_1"/></g><g stroke="#b03cbc" stroke-width="6.4"><use href="#t0_4_0_0"/><use href="#t0_4_1_0"/><use href="#t0_4_1_1"/><use href="#t0_4_2_1"/><use href="#t0_4_3_0"/><use href="#t0_4_3_1"/><use href="#t0_4_4_1"/><use href="#t0_4_5_0"/><use href="#t0_4_5_1"/><use href="#t0_4_6_1"/></g><g stroke="#b448c4" stroke-width="6.4"><use href="#t0_0_0_0"/><use href="#t0_0_0_1"/><use href="#t0_0_1_0"/><use href="#t0_0_1_1"/><use href="#t0_1_0_1"/><use href="#t0_1_1_0"/></g><g stroke="#c466cc" stroke-width="6.4"><use href="#t0_4_7_1"/><use href="#t0_4_8_1"/><use href="#t0_4_9_0"/><use href="#t0_4_9_1"/></g><g stroke="#d088d8" stroke-width="6.4"><use href="#t0_0_2_0"/><use href="#t0_0_2_1"/><use href="#t0_0_3_0"/><use href="#t0_0_3_1"/><use href="#t0_0_4_0"/><use href="#t0_0_4_1"/><use href="#t0_0_5_0"/><use href="#t0_0_5_1"/><use href="#t0_1_2_0"/><use href="#t0_1_2_1"/><use href="#t0_1_4_1"/><use href="#t0_1_5_0"/><use href="#t0_1_5_1"/></g><g stroke="#d49ce2" stroke-width="6.4"><use href="#t0_5_8_0"/><use href="#t0_5_8_1"/><use href="#t0_5_9_0"/><use href="#t0_5_9_1"/><use href="#t0_10_8_0"/><use href="#t0_10_9_0"/></g><g stroke="#ecc4f0" stroke-width="6.4"><use href="#t0_0_6_0"/><use href="#t0_0_6_1"/><use href="#t0_0_7_0"/><use href="#t0_0_7_1"/><use href="#t0_0_8_0"/><use href="#t0_0_8_1"/><use href="#t0_0_9_0"/><use href="#t0_0_9_1"/><use href="#t0_1_6_1"/><use href="#t0_1_8_0"/><use href="#t0_1_9_0"/><use href="#t0_1_9_1"/></g><g stroke="#f03232" stroke-width="6.4"><use href="#t0_7_0_0"/><use href="#t0_7_0_1"/><use href="#t0_7_1_0"/><use href="#t0_7_1_1"/><use href="#t0_7_2_0"/><use href="#t0_7_2_1"/><use href="#t0_7_3_0"/><use href="#t0_7_3_1"/><use href="#t0_7_4_0"/><use href="#t0_7_4_1"/><use href="#t0_7_5_0"/><use href="#t0_7_5_1"/><use href="#t0_7_6_0"/><use href="#t0_7_6_1"/><use href="#t0_9_1_0"/><use href="#t0_9_1_1"/><use href="#t0_9_2_1"/><use href="#t0_9_5_0"/></g><g stroke="#f56060" stroke-width="6.4"><use href="#t0_7_7_0"/><use href="#t0_7_7_1"/><use href="#t0_7_8_0"/><use href="#t0_7_9_0"/><use href="#t0_7_9_1"/><use href="#t0_9_7_0"/><use href="#t0_9_7_1"/><use href="#t0_9_8_0"/></g></g>
<g transform="translate(406 82.4) scale(.1)" stroke-width="4.8" fill="none"><g stroke="#33d433" stroke-width="6.4"><use href="#t1_2_0_0"/><use href="#t1_2_0_1"/><use href="#t1_2_1_0"/><use href="#t1_2_1_1"/><use href="#t1_2_2_0"/><use href="#t1_2_2_1"/><use href="#t1_2_3_0"/><use href="#t1_2_3_1"/><use href="#t1_2_4_0"/><use href="#t1_2_4_1"/><use href="#t1_2_5_0"/><use href="#t1_2_5_1"/><use href="#t1_2_6_0"/><use href="#t1_2_6_1"/><use href="#t1_3_0_0"/><use href="#t1_3_0_1"/><use href="#t1_3_2_0"/><use href="#t1_3_2_1"/><use href="#t1_3_3_0"/><use href="#t1_3_4_0"/><use href="#t1_3_4_1"/><use href="#t1_3_5_0"/><use href="#t1_3_5_1"/><use href="#t1_3_6_1"/></g><g stroke="#4c7af0" stroke-width="6.4"><use href="#t1_6_0_0"/><use href="#t1_6_0_1"/><use href="#t1_6_1_0"/><use href="#t1_6_1_1"/><use href="#t1_6_2_0"/><use href="#t1_6_2_1"/><use href="#t1_6_3_0"/><use href="#t1_6_3_1"/><use href="#t1_6_4_0"/><use href="#t1_6_4_1"/><use href="#t1_11_0_0"/><use href="#t1_11_0_1"/><use href="#t1_11_1_0"/><use href="#t1_11_2_0"/><use href="#t1_11_2_1"/><use href="#t1_11_3_0"/><use href="#t1_11_4_0"/><use href="#t1_11_4_1"/><use href="#t1_12_0_1"/><use href="#t1_12_1_0"/><use href="#t1_12_1_1"/><use href="#t1_12_2_0"/><use href="#t1_12_2_1"/><use href="#t1_12_3_0"/><use href="#t1_12_3_1"/><use href="#t1_12_4_0"/><use href="#t1_12_4_1"/></g><g stroke="#60de60" stroke-width="6.4"><use href="#t1_2_7_0"/><use href="#t1_2_7_1"/><use href="#t1_2_8_0"/><use href="#t1_2_8_1"/><use href="#t1_2_9_0"/><use href="#t1_2_9_1"/><use href="#t1_3_7_0"/><use href="#t1_3_8_1"/><use href="#t1_3_9_1"/></g><g stroke="#7a90f0" stroke-width="6.4"><use href="#t1_8_5_1"/><use href="#t1_8_6_1"/><use href="#t1_8_7_1"/><use href="#t1_8_8_0"/><use href="#t1_8_8_1"/><use href="#t1_8_9_0"/><use href="#t1_8_9_1"/></g><g stroke="#7c9cf4" stroke-width="6.4"><use href="#t1_6_5_0"/><use href="#t1_6_5_1"/><use href="#t1_6_6_0"/><use href="#t1_6_6_1"/><use href="#t1_6_7_0"/><use href="#t1_6_7_1"/><use href="#t1_11_5_1"/><use href="#t1_11_6_0"/><use href="#t1_11_6_1"/><use href="#t1_11_7_0"/><use href="#t1_12_5_0"/><use href="#t1_12_6_0"/><use href="#t1_12_6_1"/><use href="#t1_12_7_0"/><use href="#t1_12_7_1"/></g><g stroke="#8c3cc4" stroke-width="6.4"><use href="#t1_5_0_0"/><use href="#t1_5_0_1"/><use href="#t1_5_1_0"/><use href="#t1_5_1_1"/><use href="#t1_5_2_0"/><use href="#t1_5_2_1"/><use href="#t1_5_3_0"/><use href="#t1_5_3_1"/><use href="#t1_5_4_0"/><use href="#t1_5_4_1"/><use href="#t1_10_0_0"/><use href="#t1_10_0_1"/><use href="#t1_10_1_1"/><use href="#t1_10_3_0"/><use href="#t1_10_3_1"/><use href="#t1_10_4_0"/><use href="#t1_10_4_1"/></g><g stroke="#9a5ad0" stroke-width="6.4"><use href="#t1_8_0_0"/><use href="#t1_8_0_1"/><use href="#t1_8_1_0"/><use href="#t1_8_1_1"/><use href="#t1_8_2_0"/><use href="#t1_8_2_1"/><use href="#t1_8_3_1"/><use href="#t1_8_4_1"/></g><g stroke="#a070d6" stroke-width="6.4"><use href="#t1_6_8_0"/><use href="#t1_6_8_1"/><use href="#t1_6_9_0"/><use href="#t1_6_9_1"/><use href="#t1_11_8_0"/><use href="#t1_11_8_1"/><use href="#t1_11_9_0"/><use href="#t1_11_9_1"/><use href="#t1_12_8_1"/><use href="#t1_12_9_0"/><use href="#t1_12_9_1"/></g><g stroke="#a862d2" stroke-width="6.4"><use href="#t1_5_5_0"/><use href="#t1_5_5_1"/><use href="#t1_5_6_0"/><use href="#t1_5_6_1"/><use href="#t1_5_7_0"/><use href="#t1_5_7_1"/><use href="#t1_10_6_1"/><use href="#t1_10_7_0"/><use href="#t1_10_7_1"/></g><g stroke="#b03cbc" stroke-width="6.4"><use href="#t1_4_0_1"/><use href="#t1_4_1_1"/><use href="#t1_4_2_1"/><use href="#t1_4_3_0"/><use href="#t1_4_3_1"/><use href="#t1_4_4_0"/><use href="#t1_4_5_0"/><use href="#t1_4_5_1"/><use href="#t1_4_6_0"/><use href="#t1_4_6_1"/></g><g stroke="#c466cc" stroke-width="6.4"><use href="#t1_4_7_1"/><use href="#t1_4_8_0"/><use href="#t1_4_8_1"/><use href="#t1_4_9_0"/></g><g stroke="#c870d0" stroke-width="6.4"><use href="#t1_0_0_0"/><use href="#t1_0_0_1"/><use href="#t1_1_0_1"/></g><g stroke="#d49ce2" stroke-width="6.4"><use href="#t1_5_8_0"/><use href="#t1_5_8_1"/><use href="#t1_5_9_0"/><use href="#t1_5_9_1"/><use href="#t1_10_8_0"/><use href="#t1_10_8_1"/><use href="#t1_10_9_1"/></g><g stroke="#dea8e4" stroke-width="6.4"><use href="#t1_0_1_0"/><use href="#t1_0_1_1"/><use href="#t1_0_2_0"/><use href="#t1_0_2_1"/><use href="#t1_0_3_0"/><use href="#t1_0_3_1"/><use href="#t1_0_4_0"/><use href="#t1_0_4_1"/><use href="#t1_1_2_0"/><use href="#t1_1_2_1"/><use href="#t1_1_3_0"/><use href="#t1_1_4_0"/><use href="#t1_1_4_1"/></g><g stroke="#f03232" stroke-width="6.4"><use href="#t1_7_0_0"/><use href="#t1_7_0_1"/><use href="#t1_7_1_0"/><use href="#t1_7_1_1"/><use href="#t1_7_2_0"/><use href="#t1_7_2_1"/><use href="#t1_7_3_0"/><use href="#t1_7_3_1"/><use href="#t1_7_4_1"/><use href="#t1_7_5_0"/><use href="#t1_7_5_1"/><use href="#t1_7_6_1"/><use href="#t1_9_0_1"/><use href="#t1_9_1_0"/><use href="#t1_9_2_0"/><use href="#t1_9_4_0"/><use href="#t1_9_5_0"/></g><g stroke="#f0d4f2" stroke-width="6.4"><use href="#t1_0_5_0"/><use href="#t1_0_5_1"/><use href="#t1_0_6_0"/><use href="#t1_0_6_1"/><use href="#t1_0_7_0"/><use href="#t1_0_7_1"/><use href="#t1_0_8_0"/><use href="#t1_0_8_1"/><use href="#t1_0_9_0"/><use href="#t1_0_9_1"/><use href="#t1_1_5_0"/><use href="#t1_1_5_1"/><use href="#t1_1_6_1"/><use href="#t1_1_7_0"/><use href="#t1_1_7_1"/><use href="#t1_1_9_1"/></g><g stroke="#f56060" stroke-width="6.4"><use href="#t1_7_7_0"/><use href="#t1_7_7_1"/><use href="#t1_7_8_0"/><use href="#t1_7_8_1"/><use href="#t1_7_9_0"/><use href="#t1_7_9_1"/><use href="#t1_9_7_1"/><use href="#t1_9_9_1"/></g></g>
<rect x="406.5" y="23.5" width="59" height="118.2" fill="none" stroke="#8c8c8c" stroke-width="1"/>
<path d="M406.5 82.4L465.5 82.4" stroke="#444" stroke-width="1.2"/>
<text x="436" y="17.4" font-size="7" stroke="#222" stroke-width=".04" text-anchor="middle" fill="#222">Combined</text>
<ellipse cx="301.5" cy="73" rx="1.4" ry=".8" fill="#3cc4f2"/>
<ellipse cx="328.5" cy="61" rx="1.4" ry=".8" fill="#3cc4f2"/>
<ellipse cx="320.5" cy="73.5" rx="1.4" ry=".8" fill="#3cc4f2"/>
<ellipse cx="287.5" cy="58" rx="1.4" ry=".8" fill="#3cc4f2"/>
<ellipse cx="326" cy="68.5" rx="1.4" ry=".8" fill="#3cc4f2"/>
<ellipse cx="456.5" cy="61" rx="1.1" ry=".8" fill="#3cc4f2"/>
<ellipse cx="448.5" cy="73.5" rx="1.1" ry=".8" fill="#3cc4f2"/>
<ellipse cx="429.5" cy="73" rx="1.1" ry=".8" fill="#3cc4f2"/>
<ellipse cx="301.5" cy="131.9" rx="1.4" ry=".8" fill="#3cc4f2"/>
<ellipse cx="328.5" cy="119.9" rx="1.4" ry=".8" fill="#3cc4f2"/>
<ellipse cx="320.5" cy="132.4" rx="1.4" ry=".8" fill="#3cc4f2"/>
<ellipse cx="287.5" cy="116.9" rx="1.4" ry=".8" fill="#3cc4f2"/>
<ellipse cx="326" cy="127.4" rx="1.4" ry=".8" fill="#3cc4f2"/>
<ellipse cx="456.5" cy="119.9" rx="1.1" ry=".8" fill="#3cc4f2"/>
<ellipse cx="448.5" cy="132.4" rx="1.1" ry=".8" fill="#3cc4f2"/>
<ellipse cx="429.5" cy="131.9" rx="1.1" ry=".8" fill="#3cc4f2"/>
<text x="440.5" y="29.1" font-size="4.6" stroke="#222" stroke-width=".05" text-anchor="middle" fill="#222">Tr1</text>
<text x="459.5" y="44.5" font-size="4.6" stroke="#222" stroke-width=".05" text-anchor="middle" fill="#222">Th1</text>
<text x="457.5" y="72" font-size="4.6" stroke="#222" stroke-width=".05" text-anchor="middle" fill="#222">Th17</text>
<text x="436" y="80.8" font-size="4.6" stroke="#222" stroke-width=".05" text-anchor="middle" fill="#222">Th22</text>
<text x="440.5" y="88" font-size="4.6" stroke="#222" stroke-width=".05" text-anchor="middle" fill="#222">Tr1</text>
<text x="459.5" y="103.4" font-size="4.6" stroke="#222" stroke-width=".05" text-anchor="middle" fill="#222">Th1</text>
<text x="457.5" y="130.9" font-size="4.6" stroke="#222" stroke-width=".05" text-anchor="middle" fill="#222">Th17</text>
<text x="436" y="139.7" font-size="4.6" stroke="#222" stroke-width=".05" text-anchor="middle" fill="#222">Th22</text>
<text x="17.2" y="52" font-size="6.8" stroke="#222" stroke-width=".05" text-anchor="middle" fill="#222" transform="rotate(-90 17.2 52)">B6.WT</text>
<text x="17.2" y="112.5" font-size="6.8" stroke="#222" stroke-width=".05" text-anchor="middle" fill="#222" transform="rotate(-90 17.2 112.5)">sgp130Fc</text>
<path stroke="#777" stroke-width=".55" d="M50.67 191.29h.55M48.26 189.26h.55M51.4 170.2h.55M50.83 173.39h.55M54.71 180.2h.55M50.92 195.31h.55M46.85 178.19h.55M46.14 184.49h.55M49.78 184.72h.55M49.67 180.42h.55M46.98 182.86h.55M47.68 181.76h.55M47.62 188.34h.55M46.33 173.45h.55M51.2 185.63h.55M47.25 194.95h.55M50.59 188.2h.55M47.36 177.21h.55M49.35 177.74h.55M49.49 190.46h.55M52.44 184.98h.55M49.54 186.57h.55M50.06 177.04h.55M44.82 193.11h.55M48.69 180.87h.55M51.28 192.64h.55M53.26 184.9h.55M45.78 195.27h.55M47.03 186.86h.55M48.37 190.94h.55M51.48 183.82h.55M51.79 185.15h.55M48.95 195.56h.55M50.57 185.25h.55M49.59 187.46h.55M50.49 178.83h.55M52.87 187.2h.55M53.19 180.12h.55M47.92 178.5h.55M47.22 179.31h.55M50.09 184.93h.55M48.76 190.98h.55M49.37 194.45h.55M54.77 181.84h.55M55.67 184.26h.55M49.74 192.23h.55M45.16 176.08h.55M49.61 185.34h.55M44.76 190.48h.55M48.43 188.29h.55M47.51 178.94h.55M44.19 185.87h.55M49.91 189.9h.55M47.45 191.47h.55M52.1 187.95h.55M46.88 176.94h.55M52.39 171.69h.55M54.57 173.4h.55M52.11 169.57h.55M50.93 195.25h.55M55.54 183.19h.55M45.4 183.88h.55M45.31 189.03h.55M46.46 180.51h.55M46.68 183.64h.55M49.92 188.24h.55M54.67 187.74h.55M50.49 188.39h.55M49.41 188.46h.55M49.58 187.82h.55M50.4 194.23h.55M53.54 185.04h.55M47.96 191.05h.55M52.48 186.58h.55M49.97 182.75h.55M45.19 187.09h.55M48.41 188.29h.55M50.91 174.03h.55M48.29 191.26h.55M52.2 175.74h.55M51.41 190.03h.55M46.69 186.49h.55M48.94 177.61h.55M47.9 191.62h.55M48.84 173.62h.55M52.23 186.92h.55M45.8 173.17h.55M49.06 181.48h.55M48.87 188.68h.55M50.24 175.56h.55M50.54 189.77h.55M54.44 184.35h.55M53.91 179.9h.55M44.75 191.77h.55M46.63 192.79h.55M47.07 190.76h.55M51.81 187.81h.55M48.78 174.88h.55M51.17 181.96h.55M49.09 191.65h.55M43.77 182.07h.55M51.37 189.31h.55M45.62 193.03h.55M52.26 193.43h.55M51.88 171.8h.55M50.96 186.56h.55M44.24 179.19h.55M48.62 181.23h.55M47.25 181.56h.55M47.5 179.74h.55M48.84 181.67h.55M44.45 183.39h.55M44.3 184.7h.55M48.15 189.55h.55M50.45 195.63h.55M47.78 181.85h.55M50.82 185.67h.55M48.19 178.46h.55M47.49 179.6h.55M48.44 182.5h.55M48.95 190.58h.55M47.71 174.69h.55M51.21 183.96h.55M51.04 176.76h.55M45.41 177.86h.55M51.33 179.22h.55M48.79 191.6h.55M47.55 181.45h.55M50.86 194.34h.55M48.45 187.35h.55M56.39 176.65h.55M49.19 182.53h.55M47.82 188.42h.55M53.81 188.46h.55M55.27 189.47h.55M44.12 176.16h.55M47.12 177.6h.55M55.94 186.2h.55M53.08 187.8h.55M46.72 178.19h.55M48.46 176.57h.55M51.27 186.4h.55M47.17 182.14h.55M53.33 190.77h.55M50.35 188.65h.55M50.51 168.8h.55M52.86 181.45h.55M50.7 183.03h.55M51.07 173.17h.55M52.68 192h.55M45.56 189.13h.55M48.81 184.96h.55M46.84 185.62h.55M46.85 184.17h.55M50.3 188.6h.55M49.19 177.38h.55M48.43 183.36h.55M51.09 191.67h.55M55.75 177.05h.55M54.85 182.89h.55M51.83 177.56h.55M47.91 179.69h.55M50.06 187.84h.55M52.82 194.21h.55M48.74 184.87h.55M45.37 183.87h.55M54.8 179.23h.55M51.02 191.67h.55M48.41 182.82h.55M47.37 189.92h.55M51.87 194.71h.55M48.72 181.92h.55M46.5 193.61h.55M53.56 185.6h.55M52.69 191.03h.55M52.89 191.82h.55"/>
<path stroke="#888" stroke-width=".55" d="M65.41 175.82h.55M82.38 180.11h.55M63.97 178.25h.55M89.74 176.45h.55M72.76 181.6h.55M81.33 181.64h.55M64.67 184.92h.55M78.64 175.15h.55M68.28 174.26h.55M71.83 170.35h.55M73.77 183.33h.55M89.1 183.93h.55M73.96 179.72h.55M76.3 180.37h.55M85.18 193.06h.55M77.99 179.7h.55M62.61 174.36h.55M86.93 189.45h.55M63.2 180.99h.55M68.3 185.52h.55M70.63 176.72h.55M75.52 186.81h.55M76.22 182.59h.55M78.54 173.38h.55M60.96 171.96h.55M67.2 188.78h.55M70.48 178.5h.55M73.14 185.45h.55M91.92 189.35h.55M82.94 168.85h.55M73.59 180.41h.55M79.48 191.42h.55M66.65 175.05h.55M59.4 175.08h.55M77.83 181.07h.55M76.47 177.48h.55M78.68 181.53h.55M77.77 192.68h.55M74.25 175.48h.55M70.47 190.91h.55M77.11 185.24h.55M76.84 181.72h.55M79.95 191.7h.55M65.45 185.46h.55M73.05 176.78h.55M70.94 189.37h.55M80.03 190.36h.55M78.51 184.43h.55M84.91 180.28h.55M78.07 187.6h.55M59.37 184.31h.55M63.23 180.1h.55M63.94 184.49h.55M84.64 174.73h.55M69.87 180.2h.55M70.44 180.78h.55M70.5 186.31h.55M81.17 179.86h.55M66.89 180.02h.55M74.01 183.98h.55M80.61 183.03h.55M68.79 192.57h.55M78.16 181.85h.55M77.24 178.77h.55M69.63 187.52h.55M77.56 175.77h.55M73.43 177.48h.55M87.21 183.81h.55M61.76 186.16h.55M76.36 184.19h.55M67.57 186.17h.55M70.79 174.87h.55M68.83 181.95h.55M61.11 185.71h.55M68.17 189.38h.55M70.1 175.11h.55M68.75 189.35h.55M59.61 182.72h.55M70.79 181.81h.55M73.36 179.36h.55M75.25 176.06h.55M60.62 191.21h.55M82.78 174.95h.55M91.24 174.87h.55M66.03 178.95h.55M68.41 175.83h.55M85.85 173.54h.55M84.24 181.28h.55M77.91 172.08h.55M78.14 177.13h.55M66.56 183.98h.55"/>
<path stroke="#888" stroke-width=".55" d="M68.82 210.33h.55M62.91 208.52h.55M67.54 201.08h.55M67.36 203.76h.55M78.44 199.32h.55M72.67 206.25h.55M75.03 200.27h.55M78.43 203.74h.55M62.54 203.1h.55M64.88 203.6h.55M71.04 201.57h.55M60.85 207.06h.55M68.51 208.71h.55M67.67 200.88h.55M61.8 209.12h.55M81.89 207.02h.55M62.55 203.39h.55M68.86 204.69h.55M71.64 205.6h.55M67.63 198.58h.55M66.93 206.1h.55M65.77 202.89h.55M62.72 206.82h.55M66.71 204.95h.55M64.64 206.4h.55M60.97 199.46h.55M64.99 203.89h.55M67.86 203.25h.55M65.36 205.33h.55M66.85 200.71h.55M62.32 205.69h.55M63.07 204.63h.55M73.42 200.94h.55M77.35 204.78h.55M63.63 202.88h.55M70.14 205.69h.55M75.96 206.59h.55M80.82 209.43h.55M74.9 204.82h.55M72.45 204.91h.55M70.84 206.25h.55M59.02 203.01h.55M68.05 199.73h.55M60.42 202.25h.55M63.87 205.22h.55M64.21 209.38h.55M69.44 207.42h.55M70.11 198.87h.55M62.68 202.98h.55M68.21 205.66h.55M72.65 202.19h.55M66.09 200.07h.55M76.29 200.86h.55M71.6 201.71h.55M72.79 204.49h.55M65.19 198.5h.55M60.9 205.06h.55M68.04 207.32h.55M65.04 204.76h.55M61.41 202.95h.55M73.24 208.41h.55M68.23 198.76h.55M65.48 204.34h.55M71.16 202.43h.55"/>
<path stroke="#777" stroke-width=".55" d="M49.83 209.63h.55M54.44 210.56h.55M45.08 209.53h.55M40.49 211.73h.55M58.91 208.19h.55M50.63 217.57h.55M52.16 207.26h.55M51.84 217.81h.55M57.58 208.42h.55M53.84 214.45h.55M47.01 206.47h.55M45.64 205.85h.55M56.47 209.45h.55M48.25 201.61h.55M41.49 210.55h.55M52.38 199.54h.55M52.52 210.26h.55M51.47 205.98h.55M50.68 212.2h.55M51.34 211.87h.55M57.06 196.33h.55M52.72 213.46h.55M46.57 208.22h.55M38.94 204.71h.55M43.18 217.68h.55M53.92 201.88h.55M57.9 207.73h.55M51.19 205.05h.55M55.72 205.02h.55M59.53 199.23h.55M49.8 208.36h.55M48.7 208.78h.55M47.24 205.5h.55M41.5 209.96h.55M44.09 207.54h.55M44.83 211.09h.55M47.66 196.38h.55M49.04 200.27h.55M45.28 207.01h.55M54.28 212.87h.55M46.22 212.21h.55M48.35 202.5h.55M48.33 201.68h.55M53.85 210.95h.55M43.44 206.29h.55M47.96 199.73h.55M53.27 199.15h.55M45.83 208.29h.55M42.19 207.94h.55M53.61 204.06h.55M59.39 201.59h.55M46.23 196.04h.55M46.43 199.4h.55M52.52 204.3h.55M48.73 201.14h.55M51.05 200.51h.55M51.68 201.26h.55M52.28 204.37h.55M49.51 202.48h.55M45.99 201.45h.55M54.68 210.32h.55M54.09 201.68h.55M45.85 216.68h.55M39.39 211.04h.55M47.89 218.51h.55M43.51 215.11h.55M49.93 211.05h.55M50.37 202.3h.55M50.32 201.85h.55M53.61 210.01h.55M46.51 209.29h.55M54.03 205.63h.55M46.42 204.79h.55M52.63 213.11h.55M49.65 210.45h.55M54.32 214.05h.55M46.64 207.75h.55M53.95 201.11h.55M41.81 209.86h.55M45.4 203.44h.55M57.07 210.78h.55M47.33 216.4h.55M52.87 201.17h.55M51.94 197.69h.55M50.46 203.81h.55M50.97 202.65h.55M48.65 196.99h.55M53.12 204.66h.55M55.85 202.31h.55M49.82 212.31h.55M49.09 206.97h.55M45.74 209.12h.55M44.9 207.17h.55M49.85 209.41h.55M46.96 209.28h.55M39 201.61h.55M49.12 213.67h.55M58.04 208.76h.55M49.13 201.5h.55M49.75 202.9h.55M47.2 208.47h.55M45.63 211.67h.55M55.84 208.54h.55M46.04 205.22h.55M48.27 200.94h.55M50.87 203.83h.55M56.3 207.06h.55M46.33 213.2h.55M46.91 201.77h.55M40.88 200.33h.55M48.97 203.49h.55M49.14 208.06h.55M56.32 199.45h.55M43.26 198.85h.55M48.62 215.39h.55M48.14 209.24h.55M54.52 209.6h.55M42.48 212.27h.55M51.94 212.38h.55M53.33 206.93h.55M54.16 203.65h.55M42.34 212.97h.55M40.7 207.71h.55M49.67 206.48h.55M49.33 204.96h.55M41.27 201.79h.55M54.59 210.63h.55"/>
<path d="M57.81 206 57.43 208.12 56.43 209.88 55.18 211.22 53.96 212.34 52.73 213.4 51.35 214.27 49.8 214.72 48.16 214.73 46.48 214.38 44.81 213.61 43.38 212.23 42.52 210.26 42.36 208.06 42.64 206 43.02 204.12 43.46 202.28 44.16 200.53 45.27 199.09 46.68 198.13 48.21 197.53 49.8 197.17 51.46 197.15 53.08 197.72 54.48 198.86 55.63 200.34 56.64 202 57.46 203.87Z" fill="none" stroke="#969696" stroke-width=".5"/>
<path d="M56.73 206 56.73 207.92 56.22 209.76 55.17 211.21 53.81 212.12 52.44 212.67 51.14 213.15 49.8 213.57 48.37 213.62 47 213.08 45.83 212.06 44.85 210.8 43.99 209.4 43.34 207.79 43.08 206 43.28 204.19 43.8 202.49 44.52 200.88 45.49 199.43 46.8 198.42 48.32 198.14 49.8 198.49 51.1 199.08 52.32 199.64 53.58 200.24 54.78 201.17 55.74 202.52 56.39 204.17Z" fill="none" stroke="#6a6a6a" stroke-width=".5"/>
<path d="M55.29 206 55 207.44 54.53 208.77 53.97 210.04 53.26 211.27 52.29 212.29 51.09 212.87 49.8 212.95 48.55 212.67 47.35 212.19 46.22 211.47 45.25 210.41 44.59 209.05 44.26 207.54 44.19 206 44.35 204.49 44.79 203.07 45.54 201.87 46.5 200.96 47.52 200.25 48.6 199.61 49.8 199.09 51.12 198.95 52.42 199.38 53.52 200.32 54.36 201.58 54.95 202.98 55.28 204.48Z" fill="none" stroke="#6e6e6e" stroke-width=".55"/>
<path d="M54.68 206 54.66 207.35 54.35 208.66 53.76 209.84 52.97 210.84 52.04 211.67 50.97 212.24 49.8 212.38 48.67 212 47.72 211.25 46.93 210.38 46.2 209.49 45.54 208.5 45.04 207.32 44.81 206 44.85 204.63 45.14 203.27 45.68 202 46.5 200.97 47.56 200.34 48.7 200.13 49.8 200.16 50.87 200.31 51.93 200.63 52.9 201.27 53.66 202.25 54.17 203.44 54.5 204.7Z" fill="none" stroke="#525252" stroke-width=".61"/>
<path d="M54.3 206 54.23 207.23 53.86 208.38 53.27 209.37 52.55 210.19 51.69 210.78 50.75 211.04 49.8 210.98 48.91 210.72 48.05 210.41 47.17 210.01 46.32 209.37 45.67 208.42 45.33 207.24 45.27 206 45.44 204.79 45.8 203.66 46.39 202.69 47.15 201.96 48.01 201.47 48.88 201.11 49.8 200.87 50.76 200.86 51.7 201.21 52.49 201.9 53.11 202.79 53.64 203.75 54.06 204.82Z" fill="none" stroke="#363636" stroke-width=".66"/>
<path d="M53.42 206 53.4 207 53.18 207.98 52.73 208.84 52.11 209.53 51.41 210.06 50.64 210.47 49.8 210.7 48.94 210.61 48.16 210.14 47.55 209.43 47.08 208.64 46.69 207.82 46.39 206.95 46.24 206 46.27 205.02 46.47 204.05 46.81 203.1 47.34 202.25 48.07 201.63 48.94 201.39 49.8 201.49 50.59 201.77 51.33 202.13 52.03 202.6 52.63 203.26 53.06 204.09 53.31 205.03Z" fill="none" stroke="#1b1b1b" stroke-width=".72"/>
<path d="M52.84 206 52.78 206.83 52.61 207.64 52.31 208.43 51.84 209.11 51.2 209.53 50.48 209.65 49.8 209.55 49.17 209.37 48.56 209.12 47.99 208.76 47.49 208.24 47.1 207.58 46.81 206.83 46.63 206 46.64 205.12 46.89 204.3 47.36 203.63 47.92 203.13 48.51 202.74 49.13 202.44 49.8 202.29 50.48 202.39 51.1 202.72 51.63 203.21 52.1 203.77 52.49 204.43 52.75 205.18Z" fill="none" stroke="#000000" stroke-width=".77"/>
<path d="M52.08 206 52.15 206.65 52.06 207.33 51.79 207.93 51.36 208.38 50.87 208.69 50.34 208.89 49.8 208.96 49.26 208.86 48.77 208.6 48.35 208.21 47.98 207.77 47.66 207.25 47.47 206.65 47.43 206 47.54 205.37 47.72 204.78 47.95 204.21 48.26 203.66 48.7 203.21 49.23 202.97 49.8 202.95 50.35 203.09 50.85 203.36 51.27 203.75 51.6 204.26 51.81 204.82 51.96 205.4Z" fill="none" stroke="#000000" stroke-width=".83"/>
<path d="M51.56 206 51.49 206.47 51.37 206.92 51.2 207.36 50.94 207.74 50.6 208.02 50.2 208.14 49.8 208.15 49.41 208.07 49.05 207.89 48.75 207.61 48.51 207.25 48.33 206.86 48.17 206.45 48.04 206 48 205.5 48.1 205 48.34 204.59 48.67 204.27 49.03 204.05 49.41 203.92 49.8 203.89 50.18 203.99 50.52 204.18 50.84 204.41 51.15 204.69 51.4 205.07 51.54 205.52Z" fill="none" stroke="#000000" stroke-width=".88"/>
<path d="M52.33 206 52.23 206.98 52.06 207.93 51.83 208.86 51.47 209.71 50.98 210.35 50.41 210.69 49.8 210.74 49.21 210.56 48.67 210.16 48.2 209.55 47.84 208.76 47.58 207.89 47.39 206.97 47.25 206 47.24 204.96 47.39 203.95 47.72 203.06 48.16 202.36 48.66 201.83 49.21 201.46 49.8 201.32 50.39 201.46 50.93 201.85 51.41 202.44 51.82 203.16 52.13 204.01 52.31 204.99Z" fill="#000000"/>
<rect x="37.5" y="164.3" width="57.8" height="57.7" fill="none" stroke="#000" stroke-width="1.15"/>
<path d="M58 164.3L58 222" stroke="#1a1a1a" stroke-width="1.1"/>
<path d="M37.5 197.1L95.3 197.1" stroke="#1a1a1a" stroke-width="1.1"/>
<path stroke="#000" stroke-width=".75" d="M40 222.4v2.6M44.14 222.4v1.7M46.57 222.4v1.7M48.29 222.4v1.7M49.62 222.4v1.7M50.71 222.4v1.7M51.63 222.4v1.7M52.43 222.4v1.7M53.13 222.4v1.7M53.76 222.4v2.6M57.9 222.4v1.7M60.33 222.4v1.7M62.05 222.4v1.7M63.38 222.4v1.7M64.47 222.4v1.7M65.39 222.4v1.7M66.19 222.4v1.7M66.89 222.4v1.7M67.52 222.4v2.6M71.67 222.4v1.7M74.09 222.4v1.7M75.81 222.4v1.7M77.14 222.4v1.7M78.23 222.4v1.7M79.15 222.4v1.7M79.95 222.4v1.7M80.66 222.4v1.7M81.29 222.4v2.6M85.43 222.4v1.7M87.85 222.4v1.7M89.57 222.4v1.7M90.9 222.4v1.7M91.99 222.4v1.7M92.92 222.4v1.7M93.71 222.4v1.7M94.42 222.4v1.7M34.5 219.5h2.6M35.4 215.36h1.7M35.4 212.95h1.7M35.4 211.23h1.7M35.4 209.9h1.7M35.4 208.81h1.7M35.4 207.89h1.7M35.4 207.09h1.7M35.4 206.39h1.7M34.5 205.76h2.6M35.4 201.63h1.7M35.4 199.21h1.7M35.4 197.49h1.7M35.4 196.16h1.7M35.4 195.07h1.7M35.4 194.15h1.7M35.4 193.36h1.7M35.4 192.65h1.7M34.5 192.02h2.6M35.4 187.89h1.7M35.4 185.47h1.7M35.4 183.75h1.7M35.4 182.42h1.7M35.4 181.33h1.7M35.4 180.41h1.7M35.4 179.62h1.7M35.4 178.91h1.7M34.5 178.29h2.6M35.4 174.15h1.7M35.4 171.73h1.7M35.4 170.01h1.7M35.4 168.68h1.7M35.4 167.6h1.7M35.4 166.68h1.7M35.4 165.88h1.7M35.4 165.18h1.7"/>
<text x="39.8" y="169.6" font-size="4.6" stroke="#222" stroke-width=".05" fill="#222">1.63</text>
<text x="93" y="169.6" font-size="4.6" stroke="#222" stroke-width=".05" text-anchor="end" fill="#222">0.81</text>
<text x="39.8" y="220.2" font-size="4.6" stroke="#222" stroke-width=".05" fill="#222">96.97</text>
<text x="93" y="220.2" font-size="4.6" stroke="#222" stroke-width=".05" text-anchor="end" fill="#222">0.60</text>
<path stroke="#777" stroke-width=".55" d="M109.08 169.42h.55M114.79 191.73h.55M110.14 186.41h.55M114.01 174.16h.55M116.51 178.13h.55M111.68 191.03h.55M114.84 185.17h.55M109.71 183.35h.55M113.02 183.58h.55M117.3 183.8h.55M116.94 187.36h.55M110.16 179.15h.55M116.93 189.7h.55M113.72 193.37h.55M113.71 188.31h.55M111.26 190.61h.55M114.58 195.55h.55M116.63 177.58h.55M112.71 194.17h.55M112.09 192.34h.55M113.58 188.58h.55M116.48 193.48h.55M115.87 180.71h.55M112.35 187.59h.55M115.47 191.95h.55M118.11 190.42h.55M110.04 189.33h.55M114.73 183.16h.55M107.24 191.95h.55M114.49 186.63h.55M114.87 194.77h.55M117.33 179.58h.55M115.36 192.17h.55M114.28 183.42h.55M111.32 187.2h.55M120.61 191.53h.55M112.91 193.02h.55M111.93 182.63h.55M116.24 188.79h.55M114.91 171.21h.55M108.08 173.52h.55M111.81 185.5h.55M114.45 186.76h.55M111.68 184.77h.55M115.21 189.15h.55M113.23 195.24h.55M117.17 184.4h.55M112.38 183.9h.55M116.81 180.35h.55M116.41 191.04h.55M116.24 185.7h.55M114.46 185.03h.55M113.49 181.21h.55M112.79 189.11h.55M116.52 183.96h.55M113.72 189.08h.55M113.92 180.91h.55M107.2 183.61h.55M119.48 185.5h.55M111.86 190.51h.55M115.12 193.33h.55M105.57 174.44h.55M110.41 190.67h.55M114.41 175.37h.55M109.82 185.44h.55M117.85 171.85h.55M119.06 173.19h.55M113.97 192.43h.55M109.41 189.48h.55M111.96 184.15h.55M116.09 180.81h.55M117.85 195.87h.55M116.54 179.07h.55M113.1 191.7h.55M113.68 193.6h.55M105.5 193.23h.55M115.63 178.52h.55M112.06 190.53h.55M109.56 187.04h.55M116.32 191.69h.55M119.27 179.24h.55M114.73 186.54h.55M114.03 182.08h.55M112.41 175.93h.55M114.04 171.81h.55M115.8 180.07h.55M118.26 183.34h.55M111.47 178.49h.55M112.84 176.03h.55M114.36 183.74h.55M112.68 184.62h.55M112.52 193.71h.55M112.24 193.66h.55M113.37 183.57h.55M106 178.63h.55M105.29 183.37h.55M106.8 195.02h.55M107.41 188.11h.55M115.65 183.21h.55M114.05 187.66h.55M115.79 189.18h.55M114.38 178.6h.55M111.52 182.08h.55M119.38 180.7h.55M115.41 184.41h.55M109.83 176.78h.55M111.33 195.76h.55M111.11 187.35h.55M120.92 195.95h.55M110.58 193.7h.55M108.83 186.36h.55M106.83 185.28h.55M117.94 170.91h.55M117.41 179.75h.55M114.18 187.22h.55M112.57 187.01h.55M112.95 182.85h.55M116.04 193.24h.55M114.9 175.71h.55M113.53 195.19h.55M119.47 178.79h.55M115.59 195.92h.55M115.05 188.28h.55M114.91 179.71h.55M117.52 188.88h.55M112.47 192.92h.55M118.28 187.29h.55M120.14 186.5h.55M115.15 180.58h.55M117.98 174.36h.55M115.94 181.16h.55M116.59 187.84h.55M105.01 194.9h.55M111 171.02h.55M116.22 179.08h.55M118.51 189.64h.55M114.48 194.53h.55M112.38 191.76h.55M113.16 179.95h.55M116.83 178.87h.55M108.63 170.7h.55M117.78 182.27h.55M113.2 185.14h.55M115.76 182.5h.55M109.96 181.91h.55M114.3 189.3h.55M114.76 190.8h.55M116.5 182.61h.55M110.19 188.13h.55M119.97 187.45h.55M115.65 179.33h.55M110.6 187.1h.55M111.82 178.58h.55M114.52 187.54h.55M111.03 185.05h.55M115.15 190.07h.55M116.49 171.25h.55M114.62 181.04h.55M111.69 184.5h.55M109.43 180.81h.55M110.58 177.06h.55M113.1 192.42h.55M115.15 175.38h.55M109.2 179.97h.55M110.83 180.78h.55M109.64 184.37h.55M112.9 176.53h.55M110.14 171.63h.55M116.79 189.64h.55M109.29 191.82h.55M115.93 180.99h.55M108.21 181.89h.55M117.2 191.48h.55M112.67 192.44h.55M116.44 180.56h.55M111.85 194.34h.55M112.54 182.16h.55M111.34 195.73h.55M108.88 176.8h.55M115.29 188.55h.55M112.08 178.84h.55M115.38 192h.55M110.29 181.38h.55M113 189.71h.55M114.7 194.14h.55M110.05 175.6h.55M114.08 189.9h.55M115.16 189.57h.55M119.46 172.9h.55M119.18 178.42h.55M113.87 190.41h.55"/>
<path stroke="#888" stroke-width=".55" d="M129.66 173.25h.55M126.19 184.5h.55M134.15 187.27h.55M144.4 178.16h.55M136.69 179.26h.55M132.77 173.06h.55M140.98 183.54h.55M142.96 194.47h.55M146.65 177.43h.55M148.16 174.42h.55M154.77 173.23h.55M130.58 182.24h.55M132.16 176.68h.55M141.88 176.64h.55M142.86 186.21h.55M145.95 183.42h.55M134.77 173.97h.55M127.87 186.54h.55M137.31 177h.55M129.57 168.94h.55M143.25 178.68h.55M130.47 175.33h.55M141.01 184.19h.55M126.58 178.42h.55M136.1 186.58h.55M137.25 182.65h.55M130.22 189.33h.55M139.06 185.93h.55M141.24 184.55h.55M139.82 184.27h.55M139.21 181.53h.55M147.45 179.97h.55M129 176.84h.55M135.25 175.78h.55M136 184.09h.55M146.75 181.55h.55M138.31 181.91h.55M124.5 169.91h.55M145.13 191.08h.55M134.44 187.43h.55M137.35 177.08h.55M146.81 174.07h.55M146.44 173.37h.55M136.65 173.78h.55M137.04 189.62h.55M136.86 178.69h.55M146.23 180.84h.55M149.12 181.77h.55M140.86 183.94h.55M137.58 177.01h.55M127.86 178.86h.55M150.87 188.54h.55M135.05 190.24h.55M128.21 188.08h.55M135.52 181.67h.55M143 169.49h.55M137.71 187.01h.55M147.19 190.3h.55M143.77 180.88h.55M144.66 183.9h.55M143.55 186.43h.55M128.23 172.78h.55M132.83 191.56h.55M140.01 181.38h.55M137.07 183.75h.55M139.1 190.69h.55M146.27 177.6h.55M134.56 170.65h.55M137.89 181.4h.55M136.27 186.87h.55M131.93 170.17h.55M135.16 181.7h.55M144.05 184.25h.55M136.31 181h.55M134.81 184.18h.55M130.42 188.71h.55M144.92 182.02h.55M141.94 187.58h.55M143.56 178.14h.55M151.14 188.59h.55M127.37 183.89h.55M129.57 174.54h.55M135.66 191.73h.55M135.93 175.81h.55M131.33 184.69h.55M126.75 179.38h.55M130.94 193.94h.55M147.15 182.43h.55M143.85 175.25h.55M128.99 174.17h.55M148.34 179.45h.55M139.63 181.44h.55M143.93 178.97h.55M141.07 186.65h.55M154.24 178.87h.55M136.43 174.24h.55M138.72 189.95h.55M129.11 173.96h.55M135.34 177.16h.55M140 178.94h.55M148.1 188.14h.55"/>
<path stroke="#888" stroke-width=".55" d="M132.13 202.72h.55M129.37 201.54h.55M128.67 209.84h.55M139.31 205.53h.55M138.59 206.36h.55M141.46 200.88h.55M136.03 202.26h.55M128.49 203h.55M131.4 203.68h.55M144.16 202.71h.55M132.84 205.36h.55M133.26 204.92h.55M136.39 207.03h.55M138.5 202.2h.55M135.16 211.88h.55M131.67 204.09h.55M133.02 208.36h.55M136.92 206.23h.55M133.05 202.23h.55M133.16 209.15h.55M134.04 204.57h.55M129.64 204.22h.55M129.09 202.32h.55M132.94 203.47h.55M132.07 200.79h.55M127.02 206.9h.55M138.46 199.28h.55M140.8 205.56h.55M132.01 204.59h.55M126.41 204.34h.55M136.1 201.79h.55M143.39 209.99h.55M134.56 200.85h.55M125.32 206.36h.55M131.09 208.89h.55M134.96 205.34h.55M129.48 201.3h.55M138.2 205.32h.55M124.9 207.22h.55M132.8 208.3h.55M133.57 204.34h.55M135.48 204.39h.55M130.94 203.91h.55M129.81 202.12h.55M129.35 203.36h.55M127.7 204.36h.55M134.85 208.54h.55M131.26 204.41h.55M138.44 208h.55M123.79 204.84h.55M123.39 204.74h.55M139.42 204.61h.55M140.15 203.74h.55M125.14 200.79h.55M128.15 204.35h.55M142.37 209.51h.55M130.81 207.55h.55M137.87 207.32h.55M143.69 203.53h.55M132.57 205.24h.55M143.17 204.7h.55M139.88 207.93h.55M137.35 206.79h.55M134.12 202.49h.55M124.29 203.68h.55M125.07 205.49h.55M129.34 204.99h.55M136.22 207.09h.55M127.34 202.64h.55M129.21 206.61h.55"/>
<path stroke="#777" stroke-width=".55" d="M109.24 202.9h.55M116.44 207.56h.55M103.94 214.15h.55M120.47 211.83h.55M108.4 204.7h.55M106.65 211.88h.55M106.68 205.43h.55M107.86 205.73h.55M115.79 196.54h.55M103.85 206.87h.55M119.44 212.67h.55M116.3 208.5h.55M116.72 197.91h.55M119.53 202.49h.55M108.54 216.98h.55M102.63 213.1h.55M116.35 197.34h.55M111.47 199.47h.55M111.5 204.71h.55M103.33 215.97h.55M114.75 205.8h.55M104.86 213.91h.55M113.94 207.58h.55M116.22 199.61h.55M116.5 203.68h.55M118.69 201.87h.55M117.65 210.96h.55M103.64 201.89h.55M115.16 204.98h.55M114.07 206.88h.55M113.63 209.44h.55M107.31 218.67h.55M115.02 210.5h.55M120.77 207.85h.55M113.16 197.95h.55M105.24 209.27h.55M117.37 204.25h.55M116.6 198.78h.55M118.74 215.76h.55M107.02 200.52h.55M110.34 203.81h.55M106.59 200.08h.55M118.04 199.78h.55M110.53 214.95h.55M119.79 214.1h.55M104.3 203.42h.55M115.15 207.41h.55M114.65 200.37h.55M111.14 210.63h.55M114.67 202.65h.55M110.56 208.99h.55M120.27 215.98h.55M113.05 205.36h.55M117.2 206.96h.55M112.69 216h.55M112.24 204.84h.55M105.07 202.92h.55M115.34 202.11h.55M114.36 211.99h.55M116.07 211.42h.55M109.11 208.55h.55M113.83 203.18h.55M120.76 214.24h.55M117.39 201.9h.55M116.44 206.06h.55M111.27 211.86h.55M106.15 212.85h.55M108.87 208.17h.55M108.89 199.48h.55M113.65 197.53h.55M118.61 204.55h.55M111.72 218.85h.55M109.05 208.28h.55M106 204.37h.55M109.25 216.63h.55M119.01 205.83h.55M110.96 201.23h.55M112.06 201.32h.55M107.81 202.86h.55M117.05 210.04h.55M104.34 202.38h.55M112.08 212.45h.55M105.56 203.38h.55M113.22 215.42h.55M114.65 206.69h.55M113.26 203.34h.55M106.38 220.71h.55M110.31 197.78h.55M108.07 199.82h.55M117.4 198.89h.55M110.38 204.49h.55M111.23 197.18h.55M116.09 217.35h.55M107.28 209.51h.55M117.23 198.19h.55M118.96 208.68h.55M116.94 208.77h.55M118.06 210.15h.55M106.87 204.61h.55M114.57 210.39h.55M120.11 204.41h.55M117.87 204.92h.55M109.31 201.93h.55M106.18 207.05h.55M117.01 210.44h.55M104.64 201.83h.55M110.42 205.13h.55M120.78 210.94h.55M115.23 207.94h.55M117.85 202.04h.55M112.2 214.83h.55M120.48 204.82h.55M116.29 213.43h.55M119.66 209.25h.55"/>
<path d="M121.54 206.3 121.52 208.44 120.95 210.49 119.81 212.13 118.38 213.29 116.91 214.14 115.41 214.89 113.8 215.35 112.13 215.18 110.64 214.28 109.44 212.95 108.42 211.52 107.46 210.01 106.67 208.28 106.29 206.3 106.37 204.24 106.82 202.21 107.58 200.27 108.75 198.6 110.34 197.57 112.13 197.42 113.8 197.89 115.26 198.5 116.68 199.03 118.14 199.69 119.48 200.79 120.5 202.37 121.17 204.25Z" fill="none" stroke="#969696" stroke-width=".5"/>
<path d="M120.31 206.3 120.31 208.11 120.02 209.94 119.38 211.71 118.29 213.15 116.82 213.92 115.24 214 113.8 213.7 112.47 213.38 111.14 213.01 109.85 212.32 108.79 211.16 108.04 209.67 107.55 208.04 107.24 206.3 107.25 204.48 107.71 202.73 108.6 201.25 109.7 200.05 110.91 199.01 112.28 198.2 113.8 197.91 115.29 198.38 116.52 199.43 117.49 200.67 118.38 201.86 119.25 203.11 119.95 204.59Z" fill="none" stroke="#6a6a6a" stroke-width=".5"/>
<path d="M119.64 206.3 119.55 207.9 119.06 209.38 118.31 210.67 117.36 211.74 116.25 212.5 115.03 212.84 113.8 212.76 112.65 212.43 111.54 212.02 110.39 211.5 109.29 210.67 108.44 209.44 107.99 207.91 107.92 206.3 108.14 204.73 108.61 203.26 109.37 202 110.36 201.06 111.47 200.42 112.61 199.96 113.8 199.64 115.05 199.63 116.26 200.08 117.29 200.98 118.1 202.13 118.78 203.38 119.33 204.76Z" fill="none" stroke="#6e6e6e" stroke-width=".55"/>
<path d="M118.69 206.3 118.66 207.65 118.36 208.97 117.76 210.14 116.92 211.06 115.97 211.78 114.93 212.34 113.8 212.64 112.63 212.52 111.59 211.89 110.76 210.94 110.13 209.86 109.6 208.76 109.2 207.58 108.99 206.3 109.04 204.98 109.31 203.67 109.77 202.39 110.48 201.24 111.47 200.41 112.63 200.08 113.8 200.21 114.87 200.6 115.87 201.08 116.81 201.71 117.62 202.6 118.2 203.72 118.54 204.98Z" fill="none" stroke="#525252" stroke-width=".61"/>
<path d="M118.13 206.3 118.04 207.48 117.8 208.64 117.37 209.77 116.7 210.72 115.79 211.32 114.77 211.49 113.8 211.36 112.9 211.09 112.04 210.74 111.22 210.23 110.51 209.49 109.95 208.55 109.54 207.48 109.29 206.3 109.31 205.05 109.66 203.88 110.32 202.92 111.12 202.22 111.96 201.66 112.85 201.23 113.8 201.02 114.77 201.16 115.65 201.64 116.41 202.32 117.07 203.13 117.63 204.06 118 205.13Z" fill="none" stroke="#363636" stroke-width=".66"/>
<path d="M117.31 206.3 117.41 207.3 117.28 208.34 116.85 209.26 116.2 209.96 115.44 210.44 114.63 210.74 113.8 210.85 112.97 210.7 112.22 210.29 111.57 209.7 111 209.02 110.52 208.22 110.21 207.3 110.15 206.3 110.32 205.33 110.6 204.43 110.96 203.54 111.44 202.7 112.1 202.02 112.93 201.64 113.8 201.61 114.64 201.83 115.41 202.24 116.07 202.84 116.56 203.62 116.89 204.49 117.12 205.38Z" fill="none" stroke="#1b1b1b" stroke-width=".72"/>
<path d="M116.85 206.3 116.73 207.11 116.52 207.9 116.23 208.65 115.78 209.33 115.19 209.8 114.5 210.02 113.8 210.03 113.13 209.88 112.5 209.58 111.97 209.09 111.57 208.47 111.25 207.79 110.98 207.08 110.75 206.3 110.67 205.43 110.85 204.57 111.27 203.85 111.83 203.3 112.46 202.92 113.12 202.69 113.8 202.65 114.45 202.81 115.05 203.13 115.61 203.54 116.13 204.04 116.57 204.68 116.82 205.46Z" fill="none" stroke="#000000" stroke-width=".77"/>
<path d="M116.08 206.3 116.07 206.93 115.97 207.57 115.74 208.18 115.35 208.67 114.86 208.98 114.33 209.14 113.8 209.22 113.25 209.21 112.72 209.03 112.26 208.65 111.92 208.12 111.68 207.54 111.53 206.93 111.48 206.3 111.55 205.68 111.74 205.1 112 204.56 112.32 204.04 112.71 203.56 113.22 203.23 113.8 203.14 114.36 203.32 114.85 203.65 115.27 204.06 115.62 204.54 115.88 205.08 116.02 205.68Z" fill="none" stroke="#000000" stroke-width=".83"/>
<path d="M115.63 206.3 115.59 206.8 115.46 207.27 115.24 207.7 114.93 208.02 114.56 208.21 114.17 208.27 113.8 208.26 113.44 208.23 113.06 208.16 112.7 207.98 112.39 207.66 112.18 207.25 112.05 206.79 111.99 206.3 112.03 205.81 112.18 205.35 112.42 204.97 112.72 204.66 113.05 204.4 113.41 204.22 113.8 204.15 114.19 204.24 114.53 204.46 114.83 204.73 115.11 205.03 115.37 205.38 115.56 205.81Z" fill="none" stroke="#000000" stroke-width=".88"/>
<path d="M116.44 206.3 116.4 207.35 116.23 208.37 115.93 209.31 115.49 210.06 114.95 210.52 114.37 210.69 113.8 210.68 113.25 210.56 112.71 210.32 112.2 209.86 111.77 209.17 111.45 208.3 111.25 207.33 111.15 206.3 111.2 205.25 111.41 204.26 111.75 203.41 112.18 202.71 112.67 202.15 113.21 201.76 113.8 201.63 114.38 201.82 114.9 202.27 115.35 202.87 115.75 203.55 116.09 204.34 116.34 205.28Z" fill="#000000"/>
<path d="M110.2 197.5 C109.6 190 110.8 183 112.2 178.5 C113 175.8 115.8 175.8 116.6 178.5 C118 183 119.2 190 118.6 197.5" fill="none" stroke="#999" stroke-width=".5"/>
<path d="M111.4 197.5 C111 190.5 112 184 113.1 180.2 C113.7 178.2 115.1 178.2 115.7 180.2 C116.8 184 117.8 190.5 117.4 197.5 Z" fill="#fff" stroke="#333" stroke-width=".6"/>
<rect x="101.8" y="164.3" width="58" height="57.7" fill="none" stroke="#000" stroke-width="1.15"/>
<path d="M122 164.3L122 222" stroke="#1a1a1a" stroke-width="1.1"/>
<path d="M101.8 197.1L159.8 197.1" stroke="#1a1a1a" stroke-width="1.1"/>
<path stroke="#000" stroke-width=".75" d="M104.3 222.4v2.6M108.46 222.4v1.7M110.89 222.4v1.7M112.61 222.4v1.7M113.95 222.4v1.7M115.05 222.4v1.7M115.97 222.4v1.7M116.77 222.4v1.7M117.48 222.4v1.7M118.11 222.4v2.6M122.27 222.4v1.7M124.7 222.4v1.7M126.42 222.4v1.7M127.76 222.4v1.7M128.86 222.4v1.7M129.78 222.4v1.7M130.58 222.4v1.7M131.29 222.4v1.7M131.92 222.4v2.6M136.08 222.4v1.7M138.51 222.4v1.7M140.23 222.4v1.7M141.57 222.4v1.7M142.66 222.4v1.7M143.59 222.4v1.7M144.39 222.4v1.7M145.1 222.4v1.7M145.73 222.4v2.6M149.89 222.4v1.7M152.32 222.4v1.7M154.04 222.4v1.7M155.38 222.4v1.7M156.47 222.4v1.7M157.4 222.4v1.7M158.2 222.4v1.7M158.91 222.4v1.7M98.8 219.5h2.6M99.7 215.36h1.7M99.7 212.95h1.7M99.7 211.23h1.7M99.7 209.9h1.7M99.7 208.81h1.7M99.7 207.89h1.7M99.7 207.09h1.7M99.7 206.39h1.7M98.8 205.76h2.6M99.7 201.63h1.7M99.7 199.21h1.7M99.7 197.49h1.7M99.7 196.16h1.7M99.7 195.07h1.7M99.7 194.15h1.7M99.7 193.36h1.7M99.7 192.65h1.7M98.8 192.02h2.6M99.7 187.89h1.7M99.7 185.47h1.7M99.7 183.75h1.7M99.7 182.42h1.7M99.7 181.33h1.7M99.7 180.41h1.7M99.7 179.62h1.7M99.7 178.91h1.7M98.8 178.29h2.6M99.7 174.15h1.7M99.7 171.73h1.7M99.7 170.01h1.7M99.7 168.68h1.7M99.7 167.6h1.7M99.7 166.68h1.7M99.7 165.88h1.7M99.7 165.18h1.7"/>
<text x="104.1" y="169.6" font-size="4.6" stroke="#222" stroke-width=".05" fill="#222">4.89</text>
<text x="157.5" y="169.6" font-size="4.6" stroke="#222" stroke-width=".05" text-anchor="end" fill="#222">0.93</text>
<text x="104.1" y="220.2" font-size="4.6" stroke="#222" stroke-width=".05" fill="#222">93.39</text>
<text x="157.5" y="220.2" font-size="4.6" stroke="#222" stroke-width=".05" text-anchor="end" fill="#222">0.79</text>
<path stroke="#888" stroke-width=".55" d="M78.73 254.4h.55M77.46 256.74h.55M69.12 245.08h.55M75.21 244.93h.55M69.5 256.9h.55M67.38 251.21h.55M66.83 248.78h.55M67.49 252.06h.55M72.93 263.23h.55M66.38 253.53h.55M70.88 260.09h.55M70.29 253.5h.55M77.54 255.91h.55M75.41 262.69h.55M66.85 250.05h.55M65.7 265.59h.55M68.49 261.31h.55M76.23 266.72h.55M69.36 247.08h.55M68.41 261.65h.55M81.26 252.27h.55M73.94 254.47h.55M73.7 262.9h.55M72.48 258.83h.55M70.01 259.13h.55M64.49 255.73h.55M79.31 244.67h.55M75.47 261.28h.55M78.68 258.35h.55M65.01 259.17h.55M73.14 249.35h.55M77.72 255.25h.55M66.39 264.48h.55M68.18 263.04h.55M72.04 254.96h.55M77.15 252.17h.55M67.63 257.71h.55M77.06 247.19h.55M66.82 254.2h.55M71.57 248.25h.55M73.79 254.33h.55M70.3 251.47h.55M75.22 242.73h.55M72.75 260.93h.55M75.2 247.71h.55M69.79 252.47h.55M65.11 264.4h.55M83.64 249.3h.55M76.35 250.69h.55M69.12 260.55h.55M75.4 268.11h.55M77.68 259.38h.55M69.15 256.4h.55M66.2 261.11h.55M74.34 248.24h.55M79.73 254.13h.55M79.75 255.21h.55M72.33 256.06h.55M71.33 261.49h.55M64.49 257.24h.55M78.38 262.07h.55M72.46 248.15h.55M64.94 254.62h.55M79.54 259.59h.55M70.4 243.54h.55M72.48 263.88h.55M82.89 260.27h.55M78.38 265.81h.55M72.2 256.3h.55M83.44 254.86h.55M80.68 258.89h.55M66.13 261.16h.55M72.77 260.3h.55M67.79 267.61h.55M72.35 262.22h.55M81.94 250.9h.55M69.98 257.22h.55M69.87 244.54h.55M71.86 248.74h.55M70.61 251.78h.55M75.85 253.12h.55M74.48 258.8h.55M65.97 263.25h.55M75.6 263.93h.55M66.48 249.07h.55M69.51 254.92h.55M69.89 257.9h.55M74.68 261.39h.55M72.2 257.21h.55M64.9 262.56h.55M66.26 248.69h.55M80.72 243.3h.55M79.3 253.91h.55M66.35 262.72h.55M77.07 252.44h.55M78.33 255.46h.55M68.85 251.85h.55M75.11 242.96h.55M66.98 246.59h.55M67.29 253.03h.55M64.21 261.94h.55M68.74 261.11h.55M72.1 257.4h.55M70.03 245.97h.55M71.31 268.19h.55M69.28 268.47h.55M71.38 258.27h.55M71.59 255.31h.55M68.71 259.45h.55M74.79 246.36h.55M71.82 250.79h.55M67.22 249.03h.55M66.62 258.98h.55M72.74 253.53h.55M68.14 254.79h.55M64.07 256.44h.55M74.61 251.14h.55M74.13 263.57h.55M68.63 252.21h.55M82.69 257.04h.55M83.88 255.81h.55M68.9 252.28h.55M73.77 255.68h.55M75.43 256.7h.55M67.26 256.69h.55M74.28 254.85h.55M64.98 255.92h.55M75.01 257.32h.55M70.53 258.51h.55M67.97 252.41h.55M83.83 257.34h.55M66.34 251.26h.55M78 258.77h.55M69.74 255.29h.55M76.93 254.19h.55M71.57 268.34h.55M83.68 253.88h.55M76.59 248.09h.55M75.76 261.16h.55M71.11 253.84h.55M75.17 245.93h.55M64.03 257.97h.55M66.02 251.1h.55M74.58 261.3h.55M71.14 255.75h.55M70.06 259.54h.55M74.59 256.97h.55M76.01 258.75h.55M64.48 256.33h.55M71.55 258.84h.55M75.54 259.8h.55M69.75 267.41h.55M65.1 250.69h.55M72.37 269.94h.55M69.09 254.83h.55M72.83 252.7h.55M76.19 247.55h.55M70.24 243.03h.55M81.84 253.61h.55M77.72 242.45h.55M73.59 253.54h.55M76.2 250.88h.55M69.73 260.86h.55M70.06 258.47h.55M67.76 254.65h.55M69.13 254.54h.55M69.92 250.32h.55M72.68 252.98h.55M66.75 253.69h.55M86.78 265.88h.55M77.87 250.93h.55M71.12 256.01h.55M67.96 262.68h.55M79.26 249.86h.55M67.81 244.69h.55M73.71 260.6h.55M76.51 250.91h.55M67.9 255.82h.55M81.4 265.79h.55M68.47 247.07h.55M68.65 258.84h.55M79.15 250.5h.55M73.69 246.64h.55M71.2 259.38h.55M78.91 256.88h.55M64.87 258.07h.55M68.02 249.29h.55M76.24 251.37h.55M74.35 264.79h.55M74.43 261.68h.55M69.11 260.79h.55"/>
<path stroke="#888" stroke-width=".55" d="M74.5 285.76h.55M76.46 278.38h.55M71.71 276.35h.55M67.78 282.16h.55M71.37 289.79h.55M73.5 281.53h.55M72.39 275.74h.55M66.83 284.27h.55M76 277.43h.55M73.35 282.4h.55M65.14 282.31h.55M65.94 278.94h.55M64.65 284.1h.55M73.43 284.15h.55M80.99 283.44h.55M67 287.64h.55M79.55 283.53h.55M86.98 286.26h.55M66.48 277.76h.55M74.75 287.66h.55M71.63 280.7h.55M67.63 275.99h.55M67.83 277.4h.55M70.2 279.56h.55M68.27 292.38h.55M76.06 287.58h.55M70.96 283.82h.55M75.78 280.85h.55M65.99 286.6h.55M86.75 286.37h.55M74.83 277.99h.55M74.65 279.76h.55M70.32 285.26h.55M78.9 284.15h.55M86.69 277.18h.55M82.65 279.52h.55M74.21 291.44h.55M77.38 280.91h.55M75.23 284.23h.55M73.68 276.86h.55M70.73 274.76h.55M70.57 288.3h.55M71.15 284.53h.55M73.27 279.09h.55M79.48 276.76h.55M78.04 277.41h.55M83.58 278.6h.55M69.25 277.03h.55M76.66 290.81h.55M82.43 284.95h.55"/>
<path stroke="#777" stroke-width=".55" d="M47.99 275.8h.55M59.7 266.18h.55M46.63 278.39h.55M58.95 264.18h.55M50.03 259.57h.55M60.8 267.18h.55M45.76 269.26h.55M53.04 273.14h.55M43.06 278.81h.55M47.85 289.36h.55M57.2 270.23h.55M51.83 248.9h.55M57.57 273.79h.55M56.83 251.05h.55M54.89 250.09h.55M56.72 293.57h.55M50.08 279.92h.55M55.49 250.55h.55M45.7 274.2h.55M40.17 273.66h.55M44.55 264.27h.55M59.91 289.12h.55M44.12 261.78h.55M60.37 264.24h.55M57.35 261.93h.55M50.81 267.1h.55M53.2 255.9h.55M45.11 250.96h.55M55.94 264.97h.55M44.19 273.87h.55M49.52 267.24h.55M47.92 275.56h.55M53.13 260.99h.55M52.5 271.31h.55M51.18 259.92h.55M42.67 256.69h.55M54.42 287.56h.55M57.33 289.2h.55M56.41 256.87h.55M50.5 289.49h.55M53.11 256.08h.55M54.91 260.87h.55M47.9 251.12h.55M42.4 290.27h.55M49.93 265.87h.55M60.7 264.07h.55M48.36 285.74h.55M51.68 264.59h.55M59.27 252.69h.55M49.74 271.33h.55M45.65 289.88h.55M42.34 266.08h.55M52.05 268.88h.55M48.3 253.08h.55M50.15 261.35h.55M48.19 258.73h.55M60.83 277.23h.55M53.89 276.62h.55M48.22 261.77h.55M50.88 263.67h.55M51.17 279.76h.55M59.63 264.72h.55M49.78 261.33h.55M61.8 286.15h.55M51.72 285.85h.55M58.49 283.78h.55M55.9 261.35h.55M59.47 271.64h.55M61.08 265.92h.55M60.84 262.98h.55M55.68 253.75h.55M56.67 282.26h.55M53.53 258.37h.55M50.56 270.79h.55M57.8 256.11h.55M59.43 245.68h.55M61.82 259.9h.55M51.09 264.46h.55M45.36 257.77h.55M45.74 257.11h.55M45.83 260.11h.55M58.5 273.53h.55M54.71 287.1h.55M58.89 259.76h.55M54.23 264.21h.55M51.73 266.82h.55M51.07 253.63h.55M51.03 291.55h.55M51.36 260.58h.55M59.42 277.25h.55M56.28 257.54h.55M47.51 263.23h.55M51.18 266.37h.55M58.65 276.54h.55M56.42 284.07h.55M49.74 273.05h.55M54.27 276.06h.55M52.76 273.39h.55M55.15 263.84h.55M55.77 272.99h.55M51.54 288.56h.55M56.82 244.67h.55M57.09 252.5h.55M61.49 289.47h.55M58.48 286.99h.55M53.24 281.87h.55M56 287.06h.55M55.95 255.48h.55M61.42 266.25h.55M49.09 266.41h.55M48.97 291.94h.55M51.84 293.9h.55M47.11 257.39h.55M52.7 261.44h.55M46.86 264.01h.55M51.07 259.05h.55M56.51 292.14h.55M57.7 247.15h.55M56.24 268.05h.55M50.06 247.41h.55M47.71 271.71h.55M50.17 277.34h.55M45.98 263.75h.55M50.13 257.87h.55M60.74 258.41h.55M60.63 277.89h.55M52.55 281.23h.55M55.34 273.59h.55"/>
<path d="M61.64 258.4 61.18 261.24 60.49 263.8 59.67 266.17 58.63 268.32 57.32 269.96 55.81 270.97 54.2 271.55 52.48 271.82 50.68 271.44 49.04 269.94 47.93 267.32 47.46 264.19 47.38 261.18 47.42 258.4 47.55 255.69 47.95 253.03 48.71 250.59 49.74 248.42 50.97 246.45 52.47 244.85 54.2 244.13 55.96 244.67 57.49 246.23 58.76 248.2 59.92 250.26 60.95 252.6 61.6 255.39Z" fill="none" stroke="#969696" stroke-width=".5"/>
<path d="M60.74 258.4 60.54 260.98 59.98 263.36 59.09 265.36 58.03 266.98 56.9 268.4 55.63 269.56 54.2 270.09 52.75 269.7 51.45 268.59 50.27 267.19 49.1 265.65 48.01 263.72 47.28 261.22 47.16 258.4 47.59 255.71 48.32 253.35 49.23 251.34 50.33 249.74 51.58 248.71 52.89 248.2 54.2 247.85 55.59 247.5 57.14 247.52 58.65 248.45 59.8 250.43 60.44 253.04 60.7 255.75Z" fill="none" stroke="#707070" stroke-width=".5"/>
<path d="M60.08 258.4 59.95 260.74 59.52 262.97 58.81 264.96 57.82 266.51 56.63 267.39 55.38 267.65 54.2 267.6 53.04 267.47 51.84 267.14 50.67 266.3 49.69 264.81 49 262.86 48.58 260.69 48.4 258.4 48.52 256.09 49 253.94 49.79 252.13 50.75 250.68 51.79 249.49 52.95 248.61 54.2 248.3 55.44 248.73 56.54 249.74 57.5 251.02 58.41 252.42 59.24 254.07 59.84 256.1Z" fill="none" stroke="#6e6e6e" stroke-width=".55"/>
<path d="M59.5 257.91 59.37 260 58.96 261.96 58.35 263.75 57.56 265.32 56.56 266.47 55.4 266.94 54.25 266.74 53.19 266.16 52.2 265.49 51.22 264.69 50.29 263.54 49.56 261.95 49.09 260.01 48.9 257.91 48.97 255.76 49.36 253.71 50.1 252 51.08 250.81 52.13 250.05 53.17 249.49 54.25 249.09 55.38 249.09 56.47 249.69 57.41 250.84 58.18 252.32 58.81 253.99 59.29 255.86Z" fill="none" stroke="#5c5c5c" stroke-width=".59"/>
<path d="M58.79 257.42 58.76 259.24 58.48 261.02 57.92 262.57 57.15 263.79 56.28 264.75 55.34 265.55 54.3 266.06 53.2 266 52.19 265.25 51.37 263.98 50.76 262.47 50.3 260.86 50.01 259.17 49.93 257.42 50.05 255.7 50.32 254.01 50.71 252.31 51.29 250.69 52.14 249.43 53.2 248.82 54.3 248.89 55.33 249.38 56.28 250.1 57.14 251.06 57.86 252.35 58.36 253.93 58.65 255.65Z" fill="none" stroke="#4a4a4a" stroke-width=".62"/>
<path d="M58.29 256.94 58.22 258.51 57.99 260.06 57.52 261.44 56.86 262.56 56.1 263.41 55.26 264.05 54.35 264.37 53.42 264.23 52.55 263.62 51.77 262.7 51.08 261.59 50.48 260.26 50.11 258.66 50.08 256.94 50.36 255.31 50.82 253.91 51.35 252.66 51.93 251.52 52.63 250.58 53.45 249.94 54.35 249.62 55.29 249.59 56.25 249.92 57.12 250.74 57.78 252.07 58.13 253.69 58.26 255.34Z" fill="none" stroke="#383838" stroke-width=".66"/>
<path d="M58.01 256.45 58.01 257.92 57.74 259.32 57.25 260.5 56.65 261.48 55.98 262.31 55.23 262.92 54.4 263.15 53.57 262.92 52.82 262.32 52.15 261.48 51.59 260.44 51.2 259.2 51.02 257.83 51.02 256.45 51.1 255.11 51.23 253.73 51.5 252.32 51.99 251.07 52.72 250.21 53.55 249.82 54.4 249.8 55.21 250.08 55.96 250.66 56.59 251.55 57.07 252.65 57.45 253.83 57.78 255.07Z" fill="none" stroke="#262626" stroke-width=".69"/>
<path d="M57.67 255.96 57.5 257.2 57.24 258.36 56.89 259.43 56.41 260.34 55.8 260.95 55.13 261.26 54.45 261.35 53.77 261.25 53.12 260.9 52.54 260.24 52.08 259.34 51.7 258.32 51.39 257.21 51.18 255.96 51.17 254.63 51.45 253.38 51.94 252.39 52.53 251.67 53.15 251.14 53.79 250.79 54.45 250.7 55.1 250.85 55.74 251.2 56.36 251.68 56.96 252.39 57.43 253.4 57.67 254.65Z" fill="none" stroke="#141414" stroke-width=".73"/>
<path d="M57.25 255.47 57.11 256.54 56.82 257.46 56.46 258.26 56.07 258.99 55.62 259.62 55.08 260.03 54.5 260.11 53.93 259.91 53.4 259.54 52.9 259.06 52.44 258.41 52.09 257.55 51.88 256.54 51.81 255.47 51.85 254.4 52.03 253.35 52.38 252.46 52.88 251.84 53.43 251.5 53.97 251.31 54.5 251.16 55.06 251.1 55.63 251.27 56.17 251.75 56.61 252.47 56.96 253.36 57.19 254.38Z" fill="none" stroke="#030303" stroke-width=".76"/>
<path d="M56.56 254.99 56.5 255.78 56.36 256.54 56.12 257.23 55.82 257.82 55.46 258.36 55.04 258.8 54.55 259.04 54.04 258.95 53.59 258.54 53.23 257.95 52.94 257.28 52.7 256.58 52.53 255.81 52.48 254.99 52.55 254.17 52.7 253.4 52.92 252.67 53.23 252.03 53.62 251.55 54.08 251.3 54.55 251.24 55.02 251.3 55.5 251.48 55.95 251.86 56.3 252.5 56.5 253.31 56.57 254.17Z" fill="none" stroke="#000000" stroke-width=".8"/>
<path d="M56.23 254.5 56.21 255.15 56.09 255.78 55.9 256.36 55.65 256.86 55.34 257.22 54.97 257.37 54.6 257.3 54.27 257.1 53.96 256.87 53.66 256.61 53.37 256.25 53.14 255.76 52.99 255.15 52.93 254.5 52.95 253.83 53.07 253.18 53.29 252.63 53.59 252.24 53.92 251.98 54.26 251.81 54.6 251.69 54.96 251.7 55.3 251.91 55.59 252.29 55.82 252.77 56.01 253.29 56.16 253.87Z" fill="none" stroke="#000000" stroke-width=".83"/>
<path d="M56.78 254.5 56.78 255.39 56.64 256.25 56.36 257 55.98 257.59 55.56 258.05 55.1 258.39 54.6 258.57 54.09 258.5 53.61 258.15 53.21 257.6 52.89 256.93 52.64 256.18 52.49 255.36 52.46 254.5 52.53 253.66 52.66 252.83 52.86 252.03 53.16 251.28 53.58 250.72 54.08 250.44 54.6 250.44 55.09 250.63 55.55 250.97 55.96 251.46 56.29 252.09 56.53 252.84 56.69 253.65Z" fill="#161616"/>
<path d="M54.6 251.73L54.6 259.12" stroke="#fff" stroke-width=".8" stroke-linecap="round" opacity=".8"/>
<path d="M59.15 285.64 58.33 287.62 57 289.39 55.26 290.56 53.42 291.06 51.66 291.17 49.96 291.06 48.35 290.6 47.03 289.57 46.18 288.04 45.75 286.26 45.59 284.4 45.71 282.48 46.26 280.55 47.28 278.78 48.55 277.28 49.86 275.87 51.28 274.4 52.97 273.06 54.89 272.35 56.72 272.56 58.2 273.54 59.3 274.91 60.09 276.47 60.51 278.22 60.49 280.09 60.13 281.94 59.67 283.74Z" fill="none" stroke="#969696" stroke-width=".5"/>
<path d="M58.73 285.39 57.93 287.2 56.67 288.77 55.06 289.75 53.4 290.09 51.86 290 50.48 289.64 49.29 288.98 48.36 287.98 47.69 286.78 47.1 285.52 46.52 284.14 46.15 282.47 46.34 280.57 47.22 278.75 48.55 277.28 50.01 276.16 51.49 275.25 53.01 274.59 54.54 274.4 55.94 274.71 57.15 275.35 58.25 276.17 59.2 277.21 59.82 278.6 59.94 280.25 59.67 281.96 59.24 283.64Z" fill="none" stroke="#727272" stroke-width=".5"/>
<path d="M57.8 284.86 56.98 286.2 55.93 287.37 54.68 288.2 53.36 288.66 52.05 288.87 50.75 288.91 49.46 288.68 48.36 287.99 47.64 286.83 47.35 285.39 47.38 283.89 47.61 282.41 48.04 280.97 48.72 279.61 49.6 278.39 50.6 277.28 51.73 276.24 53.03 275.37 54.45 274.92 55.8 275.09 56.9 275.79 57.74 276.77 58.4 277.87 58.87 279.11 59.05 280.5 58.88 281.99 58.43 283.45Z" fill="none" stroke="#6e6e6e" stroke-width=".55"/>
<path d="M57.14 284.28 56.4 285.42 55.49 286.43 54.42 287.19 53.27 287.63 52.13 287.82 51 287.8 49.93 287.51 49.05 286.85 48.42 285.89 48.03 284.75 47.79 283.51 47.77 282.17 48.07 280.76 48.78 279.46 49.77 278.41 50.85 277.64 51.91 277.01 53 276.51 54.12 276.22 55.23 276.22 56.28 276.51 57.25 277.04 58.08 277.85 58.63 278.97 58.72 280.35 58.38 281.77 57.8 283.08Z" fill="none" stroke="#575757" stroke-width=".6"/>
<path d="M56.71 283.84 56.09 284.93 55.21 285.8 54.21 286.39 53.19 286.76 52.16 286.98 51.14 287 50.21 286.69 49.47 286.03 48.96 285.15 48.65 284.14 48.53 283.05 48.66 281.9 49.07 280.78 49.65 279.76 50.31 278.82 51.03 277.88 51.9 276.99 52.93 276.36 54.03 276.14 55.04 276.34 55.9 276.82 56.61 277.5 57.11 278.37 57.37 279.39 57.39 280.48 57.27 281.57 57.07 282.69Z" fill="none" stroke="#414141" stroke-width=".64"/>
<path d="M56.21 283.35 55.52 284.16 54.77 284.86 53.97 285.44 53.11 285.82 52.24 285.92 51.44 285.76 50.73 285.44 50.09 284.97 49.59 284.34 49.29 283.52 49.21 282.6 49.27 281.64 49.42 280.65 49.73 279.61 50.29 278.64 51.09 277.89 52 277.45 52.89 277.26 53.73 277.23 54.52 277.35 55.22 277.65 55.81 278.15 56.29 278.76 56.71 279.48 57.01 280.34 57.06 281.35 56.77 282.4Z" fill="none" stroke="#2a2a2a" stroke-width=".69"/>
<path d="M55.63 282.82 55.05 283.51 54.38 284.01 53.7 284.38 53.02 284.68 52.31 284.88 51.62 284.86 51.01 284.59 50.54 284.13 50.17 283.57 49.87 282.93 49.7 282.2 49.71 281.39 49.92 280.55 50.29 279.74 50.78 278.99 51.39 278.34 52.1 277.9 52.85 277.74 53.53 277.81 54.14 277.97 54.72 278.17 55.3 278.44 55.79 278.89 56.11 279.54 56.25 280.31 56.22 281.14 56.03 282Z" fill="none" stroke="#141414" stroke-width=".73"/>
<path d="M54.79 282.15 54.41 282.67 53.97 283.12 53.47 283.47 52.93 283.72 52.37 283.89 51.79 283.97 51.23 283.87 50.78 283.53 50.51 282.99 50.41 282.37 50.4 281.75 50.45 281.12 50.6 280.49 50.89 279.89 51.28 279.36 51.74 278.9 52.25 278.52 52.8 278.23 53.37 278.11 53.91 278.19 54.38 278.41 54.81 278.71 55.19 279.1 55.47 279.62 55.54 280.26 55.41 280.94 55.13 281.57Z" fill="none" stroke="#000000" stroke-width=".78"/>
<path d="M54.3 281.67 54.02 282.09 53.67 282.45 53.28 282.74 52.85 282.94 52.42 283.02 52.02 282.92 51.71 282.68 51.49 282.37 51.29 282.05 51.11 281.72 50.99 281.32 50.97 280.87 51.07 280.39 51.27 279.92 51.55 279.48 51.9 279.1 52.32 278.85 52.75 278.75 53.15 278.75 53.53 278.81 53.89 278.91 54.21 279.11 54.45 279.43 54.56 279.84 54.59 280.28 54.56 280.73 54.47 281.2Z" fill="none" stroke="#000000" stroke-width=".82"/>
<path d="M54.68 281.89 54.3 282.38 53.84 282.76 53.35 283.04 52.86 283.24 52.35 283.39 51.83 283.45 51.34 283.33 50.93 283.03 50.65 282.59 50.48 282.06 50.42 281.49 50.48 280.89 50.68 280.29 50.98 279.75 51.34 279.26 51.75 278.81 52.22 278.44 52.74 278.2 53.26 278.14 53.74 278.22 54.18 278.4 54.59 278.66 54.93 279.03 55.15 279.52 55.22 280.1 55.15 280.71 54.97 281.32Z" fill="#222222"/>
<path d="M53.79 279.09L51.16 283.65" stroke="#fff" stroke-width=".8" stroke-linecap="round" opacity=".8"/>
<rect x="37.5" y="238.2" width="57.8" height="57.6" fill="none" stroke="#000" stroke-width="1.15"/>
<path d="M62.5 238.2L62.5 295.8" stroke="#1a1a1a" stroke-width="1.1"/>
<path d="M37.5 272.4L95.3 272.4" stroke="#1a1a1a" stroke-width="1.1"/>
<path stroke="#000" stroke-width=".75" d="M40 296.2v2.6M44.14 296.2v1.7M46.57 296.2v1.7M48.29 296.2v1.7M49.62 296.2v1.7M50.71 296.2v1.7M51.63 296.2v1.7M52.43 296.2v1.7M53.13 296.2v1.7M53.76 296.2v2.6M57.9 296.2v1.7M60.33 296.2v1.7M62.05 296.2v1.7M63.38 296.2v1.7M64.47 296.2v1.7M65.39 296.2v1.7M66.19 296.2v1.7M66.89 296.2v1.7M67.52 296.2v2.6M71.67 296.2v1.7M74.09 296.2v1.7M75.81 296.2v1.7M77.14 296.2v1.7M78.23 296.2v1.7M79.15 296.2v1.7M79.95 296.2v1.7M80.66 296.2v1.7M81.29 296.2v2.6M85.43 296.2v1.7M87.85 296.2v1.7M89.57 296.2v1.7M90.9 296.2v1.7M91.99 296.2v1.7M92.92 296.2v1.7M93.71 296.2v1.7M94.42 296.2v1.7M34.5 293.3h2.6M35.4 289.17h1.7M35.4 286.76h1.7M35.4 285.04h1.7M35.4 283.71h1.7M35.4 282.63h1.7M35.4 281.71h1.7M35.4 280.91h1.7M35.4 280.21h1.7M34.5 279.59h2.6M35.4 275.46h1.7M35.4 273.04h1.7M35.4 271.33h1.7M35.4 270h1.7M35.4 268.91h1.7M35.4 268h1.7M35.4 267.2h1.7M35.4 266.5h1.7M34.5 265.87h2.6M35.4 261.74h1.7M35.4 259.33h1.7M35.4 257.61h1.7M35.4 256.29h1.7M35.4 255.2h1.7M35.4 254.28h1.7M35.4 253.49h1.7M35.4 252.78h1.7M34.5 252.16h2.6M35.4 248.03h1.7M35.4 245.61h1.7M35.4 243.9h1.7M35.4 242.57h1.7M35.4 241.49h1.7M35.4 240.57h1.7M35.4 239.77h1.7M35.4 239.07h1.7"/>
<text x="39.8" y="243.5" font-size="4.6" stroke="#222" stroke-width=".05" fill="#222">65.70</text>
<text x="93" y="243.5" font-size="4.6" stroke="#222" stroke-width=".05" text-anchor="end" fill="#222">1.31</text>
<text x="39.8" y="294" font-size="4.6" stroke="#222" stroke-width=".05" fill="#222">32.56</text>
<text x="93" y="294" font-size="4.6" stroke="#222" stroke-width=".05" text-anchor="end" fill="#222">0.43</text>
<path stroke="#888" stroke-width=".55" d="M140.61 259.14h.55M138.88 261.87h.55M132.74 253.85h.55M133.68 254.59h.55M134.56 265.56h.55M149.83 259.23h.55M140.71 251.85h.55M147.09 260.01h.55M146.01 251.55h.55M147.24 256.17h.55M128.9 247.16h.55M130.63 247.03h.55M138.71 252.68h.55M145.9 268.53h.55M145.95 250.6h.55M147.13 242.03h.55M140.51 253.49h.55M132.58 266.17h.55M135.94 253.95h.55M147.18 254.97h.55M140.56 247.14h.55M129.87 258.49h.55M137.57 258.81h.55M147.61 255.57h.55M144.4 250.4h.55M136.87 247.64h.55M145.61 244.08h.55M149.89 255.52h.55M129.76 251.48h.55M151.43 246.61h.55M137.32 264.29h.55M140.89 254.3h.55M131.83 249.32h.55M130.96 248.71h.55M131.29 250.65h.55M143.67 254.09h.55M155.09 250.37h.55M134.66 249.52h.55M146.48 246.12h.55M134.39 248.28h.55M136.93 252.45h.55M134.36 257.88h.55M128.6 258.7h.55M142.55 261.29h.55M150.78 250.6h.55M141.32 258.87h.55M143.35 261.81h.55M144.04 260.44h.55M130.34 264.45h.55M146.17 259.09h.55M145.14 251.92h.55M145.35 246.64h.55M146.79 242.9h.55M152.56 247.52h.55M143.74 260.77h.55M133.32 262.9h.55M141.67 244.57h.55M148.83 251.92h.55M143.94 244.33h.55M139.19 258.81h.55M146.19 253.65h.55M139.85 264.7h.55M133.23 262.22h.55M129.27 252.94h.55M134.07 261.16h.55M143.43 253.33h.55M146.28 261.97h.55M138.37 249.02h.55M132.52 251.98h.55M141.74 264.9h.55M135.34 255.73h.55M128.75 257.1h.55M136.02 260.67h.55M156.37 259.16h.55M143.66 254.58h.55M140.64 250.05h.55M131.44 261.64h.55M148.82 263.88h.55M139.93 258.67h.55M140.65 264.95h.55M128.15 259.57h.55M137.48 258.87h.55M136.13 252.72h.55M139.04 247.14h.55M128.64 267.39h.55M144.45 253.71h.55M136.44 255.62h.55M142.53 259.68h.55M138.47 266.31h.55M147.86 261.76h.55M138.6 252.23h.55M129.7 258.46h.55M145.05 245.37h.55M136.68 251.98h.55M150.48 250.66h.55M146.12 259.43h.55M131.32 260.41h.55M133.32 269.12h.55M133.68 253.48h.55M132.87 250.41h.55M132.72 256.49h.55M130.53 256.43h.55M137.91 256.98h.55M142.31 268.59h.55M138.74 265.67h.55M135.53 265.69h.55M144.68 254.98h.55M136.43 259.56h.55M142.7 254.65h.55M128.02 251.99h.55M147.55 262.9h.55M134.26 246.33h.55M152.56 263.17h.55M136.8 262.99h.55M133.04 254.59h.55M149.15 265.25h.55M145.99 261.73h.55M133.85 249.56h.55M143.71 249.54h.55M132.98 257.39h.55M140.25 253.29h.55M144.4 251.03h.55M144.28 250.38h.55M135.17 257.86h.55M131.44 262.6h.55M130.4 245.83h.55M134.18 246.38h.55M143.26 265.76h.55M148.54 248.62h.55M140.44 249.36h.55M141.02 253.22h.55M137 251.84h.55M132.95 248.29h.55M129.84 259.13h.55M142.08 254.79h.55M134.75 247.3h.55M139.1 263.82h.55"/>
<path stroke="#888" stroke-width=".55" d="M132.77 277.39h.55M135.91 282.05h.55M137.58 279.25h.55M129.23 281.76h.55M138.92 280.59h.55M133.2 279.39h.55M133.18 277.97h.55M136.45 278.49h.55M130.53 275.81h.55M132.89 280.04h.55M131.39 280.92h.55M130.89 278.68h.55M136.34 276.7h.55M137.1 277.15h.55M136.71 291.08h.55M133.74 284.99h.55M149.98 275.86h.55M137.93 280.93h.55M132.73 286.94h.55M131.57 287.46h.55M138.12 287.48h.55M142.46 288.51h.55M142.62 282.87h.55M138.49 279.13h.55M132.6 277.11h.55M130.35 282.82h.55M140.46 280.71h.55M147.21 275.24h.55M141.46 278.89h.55M145.56 284.98h.55M133.15 276.81h.55M139.31 288.46h.55M150.27 277.17h.55M138.53 282.07h.55M144.79 282.35h.55M128.48 282.19h.55M140.22 286.65h.55M128.87 280.74h.55M136.45 281.44h.55M131.21 281.95h.55M141.29 279.99h.55M132.22 278.01h.55M143.12 281.12h.55M137.01 279.3h.55M138.93 288.81h.55M130.73 288.59h.55M135.11 282.69h.55M135.07 281.8h.55M130.57 278.97h.55M145.92 278.47h.55M133.25 278.42h.55M140.62 279.96h.55M130.05 293.46h.55"/>
<path stroke="#777" stroke-width=".55" d="M118.89 277.7h.55M114.29 263.31h.55M105.07 262.57h.55M108.91 264.73h.55M116.13 266.65h.55M114.48 259.78h.55M120.75 257.3h.55M117.64 279.11h.55M118.1 272.83h.55M120.77 289.14h.55M117.88 273.46h.55M112.46 254.84h.55M113.86 268.86h.55M117.66 279.89h.55M113.76 281.25h.55M121.76 270.59h.55M120.44 271.7h.55M119.72 281.67h.55M118.18 272.22h.55M118.93 255.86h.55M123.38 266.51h.55M112.1 290.47h.55M123.42 284.11h.55M114.91 274.43h.55M120.91 284.27h.55M115.82 268.87h.55M116.54 259.94h.55M122.88 246.56h.55M124.84 276.85h.55M109.22 264.59h.55M117.15 285.6h.55M124.18 268.11h.55M110.57 261.09h.55M119.74 275.44h.55M117.17 275.92h.55M117.29 277.36h.55M121.74 253.82h.55M120.58 284.91h.55M113.06 259.49h.55M121.65 254.13h.55M113.03 276.03h.55M122.17 277.77h.55M122.12 247.86h.55M110.58 268.27h.55M125.37 284.24h.55M114.27 269.51h.55M120.84 271.29h.55M114.58 266.91h.55M115.17 252.56h.55M116.53 264.66h.55M119.32 259.31h.55M106.77 253.17h.55M119.37 281.71h.55M120.5 263.96h.55M112 260.67h.55M117.81 265.58h.55M112.17 270.05h.55M119.27 252.99h.55M114.17 270.99h.55M120.8 256.1h.55M116.24 279.68h.55M112.82 256.76h.55M115.74 240.38h.55M118.13 275.92h.55M123.28 257.52h.55M125.64 269.21h.55M124.68 253.43h.55M116.72 280.1h.55M118.62 281.99h.55M111.03 264.38h.55M114.35 282.04h.55M109.72 268.65h.55M120.56 260.54h.55M124.64 281.44h.55M112.93 249.2h.55M125.28 270.39h.55M114.88 264.15h.55M115.34 275.21h.55M114.52 244.95h.55M122.13 281.57h.55M117.62 281.19h.55M123.04 268.28h.55M122.17 262.48h.55M107.27 260.2h.55M117.24 275.36h.55M114.67 261.73h.55M114.34 269.81h.55M123.75 274.68h.55M110.91 289.51h.55M122.88 267.2h.55M117.03 287.35h.55M110.96 253.05h.55M119.79 281.96h.55M121.14 266.73h.55M110.22 266.06h.55M117.38 271.45h.55M119.54 279.96h.55M107.53 278.65h.55M107.56 277.08h.55M103.25 272.2h.55M112.16 262.52h.55M108.36 269.06h.55M104.31 277.21h.55M118.95 279.58h.55M114.69 265.4h.55M118.48 264.93h.55M118.73 278.02h.55M120.1 265.02h.55M113.23 262.72h.55M103.47 293.66h.55M122.89 254.71h.55M111.66 287.51h.55M108.64 243.15h.55M120.25 246.4h.55M119.36 279.98h.55M124.23 262.69h.55M113.38 276.14h.55M119.93 265.19h.55M124.2 284.84h.55M110.02 271.02h.55M116.14 280.82h.55M115.19 270.22h.55M118.14 282.24h.55M117.89 270.71h.55"/>
<path d="M126.24 258.6 125.87 261.79 125.27 264.8 124.48 267.72 123.33 270.3 121.73 271.95 119.92 272.35 118.2 271.86 116.63 271.13 115.09 270.34 113.57 269.17 112.2 267.31 111.12 264.81 110.29 261.89 109.76 258.6 109.75 255.09 110.5 251.85 111.89 249.45 113.53 247.95 115.1 246.87 116.6 245.83 118.2 245.07 119.89 245.09 121.52 246.06 122.98 247.68 124.32 249.72 125.45 252.25 126.14 255.3Z" fill="none" stroke="#969696" stroke-width=".5"/>
<path d="M125.5 258.6 125.2 261.51 124.4 264.03 123.24 265.91 122.01 267.3 120.85 268.63 119.64 270.07 118.2 271.14 116.61 271.25 115.11 270.29 113.81 268.63 112.68 266.61 111.77 264.24 111.23 261.5 111.19 258.6 111.55 255.84 112.11 253.26 112.85 250.83 113.89 248.75 115.25 247.46 116.76 247.08 118.2 247.21 119.61 247.37 121.1 247.62 122.64 248.47 123.96 250.24 124.87 252.75 125.37 255.62Z" fill="none" stroke="#707070" stroke-width=".5"/>
<path d="M124.11 258.6 124.12 261.06 123.67 263.4 122.87 265.37 121.88 267.01 120.79 268.39 119.56 269.42 118.2 269.81 116.84 269.42 115.6 268.41 114.51 267.01 113.6 265.28 112.95 263.2 112.66 260.9 112.66 258.6 112.8 256.35 113.01 254.05 113.45 251.7 114.26 249.6 115.44 248.16 116.81 247.51 118.2 247.49 119.54 247.95 120.76 248.92 121.79 250.41 122.58 252.24 123.2 254.21 123.74 256.3Z" fill="none" stroke="#6e6e6e" stroke-width=".55"/>
<path d="M123.8 258.15 123.5 260.34 123.06 262.39 122.45 264.29 121.61 265.89 120.56 266.97 119.4 267.52 118.23 267.68 117.05 267.51 115.92 266.88 114.91 265.71 114.11 264.12 113.47 262.32 112.92 260.35 112.55 258.15 112.55 255.79 113.03 253.59 113.88 251.84 114.9 250.55 115.97 249.62 117.08 249.01 118.23 248.84 119.36 249.12 120.45 249.72 121.54 250.58 122.58 251.83 123.4 253.62 123.81 255.83Z" fill="none" stroke="#5c5c5c" stroke-width=".59"/>
<path d="M123.37 257.7 123.11 259.72 122.56 261.48 121.9 263 121.17 264.37 120.33 265.58 119.33 266.35 118.25 266.51 117.19 266.13 116.2 265.43 115.26 264.52 114.41 263.27 113.76 261.64 113.37 259.73 113.24 257.7 113.31 255.65 113.65 253.66 114.3 251.96 115.22 250.79 116.25 250.15 117.26 249.78 118.25 249.49 119.29 249.38 120.36 249.71 121.35 250.62 122.18 251.99 122.83 253.68 123.26 255.62Z" fill="none" stroke="#4a4a4a" stroke-width=".62"/>
<path d="M122.41 257.25 122.28 258.92 121.99 260.51 121.51 261.94 120.88 263.2 120.14 264.31 119.28 265.24 118.28 265.74 117.23 265.57 116.3 264.71 115.56 263.45 114.96 262.06 114.47 260.59 114.13 258.97 114.02 257.25 114.17 255.54 114.48 253.92 114.93 252.4 115.56 251.04 116.37 250.04 117.31 249.52 118.28 249.4 119.24 249.52 120.22 249.89 121.14 250.7 121.86 252.04 122.28 253.74 122.42 255.53Z" fill="none" stroke="#383838" stroke-width=".66"/>
<path d="M122.17 256.8 122.11 258.38 121.83 259.89 121.39 261.28 120.8 262.5 120.04 263.38 119.17 263.74 118.3 263.56 117.51 263.09 116.78 262.53 116.06 261.9 115.38 261.04 114.84 259.83 114.5 258.38 114.35 256.8 114.4 255.18 114.67 253.62 115.19 252.29 115.91 251.34 116.69 250.72 117.48 250.29 118.3 250.01 119.15 250.05 119.95 250.55 120.63 251.47 121.18 252.62 121.63 253.88 121.98 255.27Z" fill="none" stroke="#262626" stroke-width=".69"/>
<path d="M121.45 256.35 121.44 257.64 121.27 258.93 120.88 260.06 120.34 260.95 119.72 261.63 119.05 262.14 118.33 262.41 117.58 262.32 116.87 261.85 116.24 261.11 115.68 260.19 115.24 259.06 115 257.73 115.02 256.35 115.26 255.08 115.59 253.96 115.95 252.9 116.37 251.88 116.91 251.01 117.58 250.43 118.33 250.19 119.09 250.24 119.84 250.62 120.5 251.39 120.97 252.51 121.24 253.79 121.37 255.08Z" fill="none" stroke="#141414" stroke-width=".73"/>
<path d="M121.17 255.9 121.13 257.06 120.95 258.18 120.59 259.16 120.1 259.88 119.53 260.36 118.95 260.68 118.35 260.87 117.73 260.83 117.15 260.44 116.67 259.74 116.3 258.88 115.99 257.97 115.74 256.99 115.59 255.9 115.6 254.76 115.79 253.65 116.1 252.64 116.53 251.75 117.08 251.11 117.72 250.84 118.35 250.96 118.92 251.33 119.45 251.75 119.96 252.22 120.45 252.85 120.84 253.72 121.08 254.77Z" fill="none" stroke="#030303" stroke-width=".76"/>
<path d="M120.72 255.45 120.58 256.37 120.36 257.19 120.1 257.95 119.76 258.62 119.34 259.11 118.87 259.36 118.38 259.39 117.9 259.28 117.43 259.03 117 258.58 116.66 257.94 116.4 257.18 116.22 256.35 116.08 255.45 116.06 254.49 116.21 253.55 116.55 252.79 116.98 252.27 117.44 251.93 117.91 251.7 118.38 251.61 118.85 251.7 119.3 251.97 119.73 252.37 120.13 252.9 120.48 253.6 120.7 254.49Z" fill="none" stroke="#000000" stroke-width=".8"/>
<path d="M120.05 255 120.02 255.68 119.93 256.34 119.73 256.93 119.44 257.38 119.11 257.67 118.76 257.88 118.4 258.03 118.02 258.05 117.64 257.88 117.3 257.51 117.02 257.01 116.8 256.41 116.67 255.72 116.66 255 116.79 254.33 116.98 253.75 117.19 253.24 117.41 252.73 117.68 252.26 118.02 251.94 118.4 251.82 118.79 251.89 119.16 252.11 119.51 252.48 119.78 253 119.95 253.64 120.03 254.32Z" fill="none" stroke="#000000" stroke-width=".83"/>
<path d="M120.85 255 120.79 255.99 120.58 256.91 120.26 257.7 119.87 258.34 119.4 258.8 118.9 259.02 118.4 259.04 117.91 258.93 117.42 258.72 116.93 258.35 116.51 257.74 116.21 256.92 116.06 255.97 116.03 255 116.09 254.04 116.26 253.13 116.56 252.32 116.95 251.69 117.4 251.23 117.89 250.91 118.4 250.77 118.92 250.86 119.4 251.22 119.82 251.77 120.17 252.43 120.49 253.17 120.73 254.03Z" fill="#161616"/>
<path d="M118.4 252.02L118.4 259.97" stroke="#fff" stroke-width=".8" stroke-linecap="round" opacity=".8"/>
<path d="M124.12 286.54 122.75 288.57 121.09 289.99 119.48 291.03 117.99 292.02 116.43 292.98 114.74 293.57 113.05 293.54 111.48 292.95 110.05 291.91 108.89 290.37 108.27 288.28 108.37 285.86 109.06 283.51 109.96 281.38 110.88 279.36 111.96 277.39 113.38 275.72 115.06 274.69 116.78 274.28 118.42 274.22 120.04 274.35 121.6 274.87 122.91 275.98 123.86 277.62 124.49 279.56 124.87 281.73 124.83 284.12Z" fill="none" stroke="#969696" stroke-width=".5"/>
<path d="M122.53 285.96 121.83 287.86 120.77 289.56 119.47 290.99 118.02 292.21 116.42 293.18 114.74 293.58 113.22 293.09 112.13 291.79 111.47 290.16 110.98 288.59 110.51 287.07 110.16 285.42 110.16 283.55 110.55 281.6 111.24 279.65 112.21 277.74 113.52 276.08 115.12 275.02 116.77 274.75 118.27 275.04 119.61 275.52 120.91 276.09 122.08 277.01 122.88 278.45 123.18 280.26 123.12 282.16 122.91 284.04Z" fill="none" stroke="#7e7e7e" stroke-width=".5"/>
<path d="M122.16 285.82 121.25 287.41 120.13 288.67 118.94 289.68 117.74 290.55 116.46 291.22 115.14 291.48 113.91 291.18 112.88 290.44 112.02 289.47 111.28 288.33 110.74 286.95 110.52 285.32 110.69 283.57 111.16 281.82 111.87 280.13 112.83 278.6 114.06 277.44 115.42 276.82 116.73 276.68 117.94 276.77 119.1 276.92 120.27 277.24 121.33 277.94 122.13 279.09 122.61 280.57 122.8 282.24 122.67 284.03Z" fill="none" stroke="#6e6e6e" stroke-width=".55"/>
<path d="M120.92 285.13 120.29 286.43 119.51 287.62 118.58 288.6 117.55 289.38 116.44 290.01 115.25 290.43 114.04 290.45 113 289.91 112.27 288.85 111.86 287.55 111.64 286.18 111.56 284.8 111.68 283.35 112.08 281.91 112.73 280.57 113.55 279.38 114.47 278.31 115.53 277.44 116.69 276.94 117.83 276.88 118.89 277.15 119.87 277.62 120.79 278.3 121.52 279.31 121.89 280.68 121.82 282.22 121.45 283.73Z" fill="none" stroke="#5c5c5c" stroke-width=".59"/>
<path d="M120.44 284.71 119.93 285.93 119.22 287.01 118.38 287.93 117.43 288.67 116.41 289.08 115.42 289.04 114.59 288.58 113.93 287.92 113.35 287.21 112.79 286.45 112.35 285.52 112.14 284.38 112.21 283.11 112.52 281.82 113.02 280.57 113.74 279.44 114.65 278.6 115.65 278.12 116.62 277.92 117.55 277.88 118.46 277.96 119.31 278.3 119.98 278.99 120.41 279.97 120.63 281.07 120.73 282.22 120.7 283.44Z" fill="none" stroke="#4a4a4a" stroke-width=".62"/>
<path d="M119.49 284.11 119.13 285.07 118.62 285.97 117.94 286.68 117.18 287.15 116.4 287.44 115.61 287.58 114.84 287.53 114.15 287.19 113.59 286.6 113.18 285.83 112.9 284.95 112.77 283.95 112.9 282.88 113.3 281.86 113.87 281 114.5 280.28 115.13 279.62 115.8 279.01 116.56 278.55 117.37 278.36 118.15 278.44 118.87 278.75 119.49 279.29 119.92 280.09 120.07 281.09 119.98 282.14 119.76 283.15Z" fill="none" stroke="#383838" stroke-width=".66"/>
<path d="M118.95 283.67 118.63 284.46 118.19 285.17 117.62 285.73 117 286.07 116.37 286.21 115.78 286.25 115.19 286.18 114.65 285.95 114.23 285.49 113.98 284.86 113.86 284.15 113.82 283.42 113.84 282.66 113.98 281.86 114.28 281.08 114.72 280.38 115.25 279.79 115.86 279.32 116.51 279.05 117.14 279.07 117.68 279.36 118.1 279.8 118.46 280.26 118.8 280.75 119.07 281.34 119.21 282.07 119.15 282.87Z" fill="none" stroke="#262626" stroke-width=".69"/>
<path d="M118.24 283.17 117.93 283.69 117.58 284.12 117.2 284.51 116.79 284.82 116.35 285 115.92 285.01 115.53 284.89 115.18 284.68 114.87 284.4 114.63 284.01 114.5 283.52 114.47 282.98 114.51 282.43 114.6 281.84 114.79 281.25 115.12 280.73 115.55 280.37 116.01 280.17 116.45 280.1 116.86 280.09 117.25 280.17 117.6 280.36 117.89 280.65 118.14 281.02 118.35 281.45 118.47 281.98 118.44 282.58Z" fill="none" stroke="#141414" stroke-width=".73"/>
<path d="M118.41 283.23 118.14 283.85 117.79 284.43 117.37 284.92 116.87 285.27 116.34 285.44 115.83 285.47 115.34 285.41 114.88 285.21 114.49 284.86 114.21 284.36 114.06 283.76 114.01 283.1 114.07 282.41 114.28 281.73 114.62 281.12 115.04 280.62 115.49 280.22 115.96 279.88 116.45 279.6 116.98 279.45 117.49 279.49 117.95 279.73 118.33 280.11 118.61 280.62 118.77 281.23 118.77 281.9 118.64 282.59Z" fill="#6c6c6c"/>
<path d="M117.15 280.45L115.16 285.92" stroke="#fff" stroke-width=".8" stroke-linecap="round" opacity=".8"/>
<path d="M127 250 C131 248 136 248 141 249.5 C143 252 142 257 139 260 C135 263 131 264 127.5 265" fill="none" stroke="#555" stroke-width=".6"/>
<path d="M127 247.5 C132 245 138 245 143.5 247.5 C146 252 144.5 259 140 263 C135 266.5 131 267 127.5 267.5" fill="none" stroke="#888" stroke-width=".5"/>
<rect x="101.8" y="238.2" width="58" height="57.6" fill="none" stroke="#000" stroke-width="1.15"/>
<path d="M126.5 238.2L126.5 295.8" stroke="#1a1a1a" stroke-width="1.1"/>
<path d="M101.8 272.7L159.8 272.7" stroke="#1a1a1a" stroke-width="1.1"/>
<path stroke="#000" stroke-width=".75" d="M104.3 296.2v2.6M108.46 296.2v1.7M110.89 296.2v1.7M112.61 296.2v1.7M113.95 296.2v1.7M115.05 296.2v1.7M115.97 296.2v1.7M116.77 296.2v1.7M117.48 296.2v1.7M118.11 296.2v2.6M122.27 296.2v1.7M124.7 296.2v1.7M126.42 296.2v1.7M127.76 296.2v1.7M128.86 296.2v1.7M129.78 296.2v1.7M130.58 296.2v1.7M131.29 296.2v1.7M131.92 296.2v2.6M136.08 296.2v1.7M138.51 296.2v1.7M140.23 296.2v1.7M141.57 296.2v1.7M142.66 296.2v1.7M143.59 296.2v1.7M144.39 296.2v1.7M145.1 296.2v1.7M145.73 296.2v2.6M149.89 296.2v1.7M152.32 296.2v1.7M154.04 296.2v1.7M155.38 296.2v1.7M156.47 296.2v1.7M157.4 296.2v1.7M158.2 296.2v1.7M158.91 296.2v1.7M98.8 293.3h2.6M99.7 289.17h1.7M99.7 286.76h1.7M99.7 285.04h1.7M99.7 283.71h1.7M99.7 282.63h1.7M99.7 281.71h1.7M99.7 280.91h1.7M99.7 280.21h1.7M98.8 279.59h2.6M99.7 275.46h1.7M99.7 273.04h1.7M99.7 271.33h1.7M99.7 270h1.7M99.7 268.91h1.7M99.7 268h1.7M99.7 267.2h1.7M99.7 266.5h1.7M98.8 265.87h2.6M99.7 261.74h1.7M99.7 259.33h1.7M99.7 257.61h1.7M99.7 256.29h1.7M99.7 255.2h1.7M99.7 254.28h1.7M99.7 253.49h1.7M99.7 252.78h1.7M98.8 252.16h2.6M99.7 248.03h1.7M99.7 245.61h1.7M99.7 243.9h1.7M99.7 242.57h1.7M99.7 241.49h1.7M99.7 240.57h1.7M99.7 239.77h1.7M99.7 239.07h1.7"/>
<text x="104.1" y="243.5" font-size="4.6" stroke="#222" stroke-width=".05" fill="#222">74.26</text>
<text x="157.5" y="243.5" font-size="4.6" stroke="#222" stroke-width=".05" text-anchor="end" fill="#222">4.63</text>
<text x="104.1" y="294" font-size="4.6" stroke="#222" stroke-width=".05" fill="#222">20.53</text>
<text x="157.5" y="294" font-size="4.6" stroke="#222" stroke-width=".05" text-anchor="end" fill="#222">0.57</text>
<path stroke="#777" stroke-width=".55" d="M57.8 343.54h.55M55.82 341.56h.55M50.44 319.96h.55M42.79 335.76h.55M49.43 343.92h.55M55.57 324.4h.55M54.84 316.51h.55M56.77 333.9h.55M43.32 339.87h.55M43.7 342.01h.55M57.83 334.17h.55M57.24 327.46h.55M43.42 338.07h.55M55.4 320.28h.55M57.14 351.32h.55M50.49 339.3h.55M49.32 328.6h.55M49.54 346.3h.55M47 340.57h.55M46.86 350.96h.55M52.77 342.55h.55M55.75 338.9h.55M44.53 325.35h.55M53.2 352.81h.55M57.53 328.01h.55M49.39 343.84h.55M57.69 345.43h.55M49.26 356.3h.55M46.12 359.7h.55M40.01 342.43h.55M54.75 339.58h.55M47.52 330.82h.55M42.06 349.94h.55M52.95 326.79h.55M47.19 335.16h.55M48.91 331.14h.55M50.67 326.61h.55M52.22 343.25h.55M50.4 348.48h.55M44.85 353.28h.55M40.3 343.55h.55M52.38 333.78h.55M47.43 324.18h.55M43.29 321.15h.55M49.54 336.76h.55M53.86 340.53h.55M55.65 338.96h.55M49.13 354.16h.55M49.14 357.87h.55M40.29 355.66h.55M44.47 318.69h.55M56.49 326.66h.55M48.64 338.66h.55M47.58 352.66h.55M55.13 346.94h.55M42.82 348.94h.55M51.26 340.06h.55M53.09 344.42h.55M57.03 317.65h.55M55.93 320.73h.55M43.49 348.04h.55M51.74 354.84h.55M55.93 357.62h.55M50.63 325.08h.55M57.04 330.25h.55M47.18 357.73h.55M45.49 329.92h.55M56.31 338.81h.55M56.09 352.63h.55M56.68 320.55h.55M45.73 334.36h.55M51.21 364.32h.55M49.84 348.45h.55M46.15 346.11h.55M50.12 325.56h.55M45.97 365.86h.55M55.3 342.55h.55M49.12 349.84h.55M47.62 330.94h.55M48.48 353.19h.55M55 355.48h.55M43.67 356.21h.55M49.55 349.69h.55M57.9 344.47h.55M46.09 360.9h.55M50.22 339.49h.55M51.61 364.34h.55M49.99 333.04h.55M50.18 338.14h.55M44.13 327.93h.55M48.54 320.96h.55M49.34 332.45h.55M50.17 330.21h.55M42.92 336.91h.55M55.5 343.63h.55M56.81 346.25h.55M49.73 327.87h.55M55.53 353.52h.55M46.16 355.38h.55M51.31 346.01h.55M53.79 322.29h.55M47.15 353.66h.55M51.42 332.47h.55M52.6 337.88h.55M53.61 334.16h.55M54.26 335.87h.55M53.15 327.99h.55M56.26 365.92h.55M56.38 321.44h.55M51.18 343.39h.55M54.33 329.96h.55M56.94 340.52h.55M51.67 341.47h.55M49.99 341.17h.55M50.83 359h.55M55.36 358.97h.55M53.25 359.74h.55M48.72 327.91h.55M50.64 334.29h.55M53.36 329.71h.55M42.94 320.69h.55M48.16 340.3h.55M53.81 364.46h.55M52.74 336.85h.55M42.83 338.59h.55M44.31 351.89h.55M48.82 323.83h.55M52.73 325.88h.55M55.3 336.88h.55M52.53 334.32h.55M49.48 352.5h.55"/>
<path stroke="#888" stroke-width=".55" d="M65.46 359.32h.55M66.54 359.69h.55M73.64 356.15h.55M62.98 352.94h.55M67.03 355.86h.55M69.05 357.39h.55M62.4 358.94h.55M67.47 358.94h.55M79.68 358.06h.55M63.69 351.34h.55M65.47 354.18h.55M68 354.05h.55M62.74 363.8h.55M72.19 354.14h.55M71.38 349.52h.55M69.65 351.72h.55M64.6 350.8h.55M70.55 357.66h.55M68.27 361.52h.55M61.98 354.18h.55M66.09 353.26h.55M71.7 353.43h.55M78.18 351.33h.55M63.54 362.8h.55M82.36 352.15h.55M67.06 362.17h.55M68.84 350.59h.55M64.08 356.11h.55M66.92 361.7h.55M64.36 355.93h.55M63.34 349.29h.55M67.25 360.36h.55M73.28 353.1h.55M65.46 354.07h.55M62.23 361.15h.55M66.42 352.22h.55M63.41 358.4h.55M66.6 350.5h.55M73.32 355.64h.55M66.25 356.62h.55M65.9 353.75h.55M65.13 349.67h.55M69.84 359.76h.55M65.21 353.61h.55M63.39 356.78h.55M60.51 362.41h.55M64.71 362.36h.55M62.49 361.58h.55M60.99 352.59h.55M63.43 355.06h.55M65.14 353.99h.55M68.06 349.68h.55M61.04 356.27h.55M65.45 361.85h.55M69.76 360.9h.55M61.61 353.69h.55M70.78 362.4h.55M68.99 350.64h.55M67.57 356.18h.55M62.37 352.76h.55M65.93 361.21h.55"/>
<path stroke="#888" stroke-width=".55" d="M60.82 329.89h.55M62.91 333.57h.55M84.36 330.41h.55M68.71 329.73h.55M64.65 330.72h.55M65.32 334.55h.55M66.12 344.73h.55M73.79 331.37h.55M74.29 328.12h.55M66.88 333.18h.55M68.7 327.31h.55M67.15 338.67h.55M68.97 321.27h.55M63.7 332.03h.55M76.04 338.36h.55M61.86 337.94h.55M60.94 331.92h.55M73.63 324.28h.55M64.75 329.44h.55M64.98 333.04h.55M75.58 322.67h.55M67.93 329.42h.55M69 335.45h.55M75.58 334.53h.55M66.74 331.58h.55M83.52 329.4h.55M76.75 326.63h.55M77.15 329.2h.55M78.35 342.68h.55M64.8 339.54h.55M66.93 340.41h.55M62.65 334.37h.55M61.17 323.71h.55M68.34 332.4h.55M77.82 331.23h.55M71.64 332.01h.55M61.08 331.73h.55M63.61 329.22h.55M78.71 330.23h.55M60.9 341.21h.55M76.75 334.23h.55M81.74 321.12h.55M63.02 338.08h.55M62.42 331.73h.55M67.88 327.9h.55M70.33 329.07h.55M73.17 334.96h.55M76.15 321.32h.55M74.37 323.63h.55M79.28 323.75h.55M68.37 338.52h.55M71.91 340.06h.55M74.62 325.39h.55M65.38 327.75h.55M74.54 325.03h.55M76.3 323.45h.55M61.41 329.62h.55M76.42 330.86h.55M67.21 331.26h.55M85.46 335.21h.55M67.06 326.05h.55M79.83 315.26h.55M67.07 344.99h.55M70.17 339.09h.55M81.15 334.93h.55M89.65 327.47h.55M71.25 337.45h.55M64.4 335.86h.55M76.16 326.96h.55M78.9 327.77h.55M63.96 340.61h.55M63.28 326h.55M84.76 341h.55M75.05 328.78h.55M82.29 320.25h.55M76.96 329.64h.55"/>
<path d="M58.77 331.6 58.63 335.14 57.97 338.25 57.07 340.76 56.08 342.83 55 344.44 53.82 345.31 52.6 345.34 51.43 344.8 50.28 343.98 49.15 342.73 48.16 340.7 47.52 337.89 47.24 334.75 47.14 331.6 47.11 328.38 47.28 325.01 47.84 321.85 48.85 319.5 50.09 318.18 51.36 317.65 52.6 317.65 53.78 318.26 54.85 319.59 55.76 321.42 56.6 323.39 57.49 325.54 58.32 328.24Z" fill="none" stroke="#969696" stroke-width=".5"/>
<path d="M57.71 331.6 57.56 334.51 57.13 337.21 56.55 339.7 55.82 341.97 54.86 343.65 53.72 344.25 52.6 343.77 51.61 342.75 50.7 341.76 49.76 340.76 48.84 339.31 48.09 337.19 47.6 334.53 47.36 331.6 47.38 328.53 47.74 325.58 48.51 323.21 49.54 321.73 50.6 320.93 51.6 320.3 52.6 319.69 53.67 319.51 54.73 320.23 55.64 321.8 56.38 323.85 57.01 326.13 57.5 328.72Z" fill="none" stroke="#646464" stroke-width=".5"/>
<path d="M56.95 331.6 56.9 334.12 56.61 336.57 56.07 338.71 55.3 340.29 54.42 341.33 53.53 342.03 52.6 342.44 51.65 342.35 50.75 341.5 50 339.98 49.43 338.11 48.95 336.11 48.56 333.97 48.33 331.6 48.36 329.11 48.64 326.7 49.13 324.49 49.8 322.56 50.64 321.15 51.62 320.56 52.6 320.83 53.49 321.63 54.29 322.55 55.09 323.58 55.84 324.95 56.44 326.84 56.81 329.13Z" fill="none" stroke="#6e6e6e" stroke-width=".55"/>
<path d="M56.68 331.6 56.44 333.85 56.06 335.88 55.6 337.74 55.02 339.39 54.29 340.6 53.45 341.21 52.6 341.29 51.76 341.01 50.95 340.39 50.21 339.3 49.61 337.73 49.17 335.85 48.84 333.81 48.61 331.6 48.57 329.23 48.84 326.94 49.42 325.07 50.17 323.78 50.98 322.94 51.78 322.39 52.6 322.16 53.42 322.38 54.2 323.03 54.95 324.02 55.66 325.32 56.27 327.05 56.64 329.23Z" fill="none" stroke="#565656" stroke-width=".6"/>
<path d="M55.99 331.6 55.94 333.56 55.75 335.5 55.34 337.22 54.74 338.51 54.05 339.37 53.34 339.98 52.6 340.41 51.81 340.47 51.03 339.97 50.33 338.91 49.75 337.44 49.3 335.69 49.03 333.69 49.03 331.6 49.28 329.65 49.67 327.98 50.1 326.48 50.55 325 51.11 323.65 51.81 322.69 52.6 322.34 53.4 322.55 54.17 323.19 54.88 324.26 55.44 325.78 55.79 327.65 55.95 329.64Z" fill="none" stroke="#3f3f3f" stroke-width=".64"/>
<path d="M55.6 331.6 55.63 333.38 55.48 335.16 55.13 336.78 54.63 338.15 54.03 339.22 53.33 339.87 52.6 339.91 51.91 339.34 51.33 338.39 50.82 337.35 50.32 336.27 49.87 334.98 49.55 333.39 49.43 331.6 49.5 329.78 49.72 328.03 50.07 326.41 50.58 325.09 51.22 324.22 51.91 323.81 52.6 323.71 53.29 323.83 53.97 324.31 54.56 325.29 54.99 326.69 55.27 328.29 55.46 329.92Z" fill="none" stroke="#272727" stroke-width=".69"/>
<path d="M55.26 331.6 55.17 333.11 54.98 334.54 54.72 335.94 54.37 337.3 53.88 338.42 53.26 339.03 52.6 339.01 51.99 338.52 51.44 337.8 50.96 336.9 50.56 335.79 50.27 334.49 50.08 333.08 49.96 331.6 49.91 330.02 50.03 328.41 50.35 326.98 50.84 325.91 51.4 325.21 51.99 324.75 52.6 324.49 53.22 324.59 53.81 325.15 54.3 326.12 54.69 327.32 54.99 328.63 55.2 330.07Z" fill="none" stroke="#101010" stroke-width=".74"/>
<path d="M55 331.6 54.91 332.95 54.72 334.22 54.42 335.33 54.03 336.2 53.58 336.84 53.11 337.32 52.6 337.61 52.07 337.55 51.57 337.08 51.15 336.27 50.79 335.3 50.47 334.23 50.22 333 50.1 331.6 50.18 330.18 50.42 328.89 50.75 327.81 51.15 326.94 51.61 326.3 52.1 325.99 52.6 325.95 53.09 326.07 53.59 326.29 54.11 326.73 54.57 327.57 54.88 328.78 55.01 330.19Z" fill="none" stroke="#000000" stroke-width=".78"/>
<path d="M54.53 331.6 54.49 332.71 54.38 333.8 54.16 334.79 53.82 335.55 53.43 336.04 53.02 336.35 52.6 336.53 52.16 336.51 51.74 336.21 51.35 335.62 51.02 334.84 50.74 333.91 50.54 332.81 50.5 331.6 50.63 330.44 50.87 329.46 51.16 328.65 51.46 327.92 51.79 327.25 52.17 326.76 52.6 326.54 53.04 326.6 53.48 326.88 53.9 327.41 54.24 328.24 54.45 329.31 54.53 330.47Z" fill="none" stroke="#000000" stroke-width=".83"/>
<path d="M54.14 331.6 54.08 332.47 53.96 333.28 53.79 334.04 53.58 334.77 53.32 335.45 52.98 335.92 52.6 336.04 52.23 335.8 51.9 335.34 51.62 334.77 51.38 334.11 51.2 333.34 51.1 332.48 51.07 331.6 51.09 330.71 51.17 329.82 51.33 328.99 51.58 328.32 51.9 327.88 52.25 327.62 52.6 327.47 52.97 327.46 53.33 327.7 53.64 328.24 53.87 329 54.02 329.84 54.11 330.72Z" fill="none" stroke="#000000" stroke-width=".88"/>
<path d="M53.82 331.6 53.81 332.31 53.71 332.97 53.55 333.54 53.35 334.03 53.14 334.46 52.88 334.79 52.6 334.9 52.32 334.77 52.07 334.46 51.85 334.02 51.67 333.51 51.54 332.91 51.48 332.26 51.46 331.6 51.47 330.94 51.51 330.25 51.6 329.55 51.78 328.96 52.03 328.58 52.32 328.42 52.6 328.43 52.87 328.56 53.12 328.81 53.34 329.22 53.51 329.73 53.65 330.3 53.76 330.92Z" fill="none" stroke="#000000" stroke-width=".93"/>
<path d="M54.33 331.6 54.29 332.59 54.15 333.52 53.92 334.31 53.63 334.92 53.31 335.38 52.97 335.71 52.6 335.89 52.23 335.82 51.88 335.47 51.57 334.91 51.32 334.23 51.1 333.45 50.95 332.57 50.88 331.6 50.92 330.61 51.05 329.68 51.25 328.83 51.52 328.13 51.86 327.65 52.23 327.46 52.6 327.49 52.95 327.65 53.29 327.89 53.63 328.27 53.93 328.87 54.16 329.67 54.29 330.61Z" fill="#000000"/>
<path d="M52.6 328.58L52.6 336.64" stroke="#fff" stroke-width=".8" stroke-linecap="round" opacity=".8"/>
<path d="M55.8 361.2 54.09 362.9 52.3 364.13 50.6 365.12 48.89 366.11 47.08 366.97 45.34 367.3 43.96 366.87 43.05 365.79 42.56 364.29 42.52 362.45 43.1 360.31 44.28 358.13 45.75 356.18 47.18 354.46 48.54 352.72 50.07 350.89 51.86 349.26 53.75 348.23 55.48 347.88 56.99 348.02 58.27 348.55 59.19 349.57 59.55 351.14 59.33 353.05 58.8 355.05 58.11 357.07 57.17 359.15Z" fill="none" stroke="#969696" stroke-width=".5"/>
<path d="M55.17 360.7 53.79 362.35 52.28 363.98 50.58 365.43 48.84 366.3 47.36 366.32 46.32 365.68 45.59 364.78 45.02 363.81 44.63 362.69 44.54 361.32 44.76 359.76 45.18 358.06 45.81 356.2 46.82 354.18 48.32 352.31 50.08 350.96 51.78 350.23 53.3 349.85 54.71 349.62 56.02 349.62 57.07 350.09 57.7 351.06 58 352.33 58.1 353.74 57.97 355.33 57.43 357.12 56.44 358.96Z" fill="none" stroke="#686868" stroke-width=".5"/>
<path d="M54.57 360.23 53.4 361.63 52.1 362.91 50.71 363.85 49.37 364.32 48.2 364.42 47.14 364.32 46.16 364.05 45.34 363.49 44.85 362.52 44.77 361.19 45.03 359.67 45.58 358.03 46.46 356.36 47.65 354.83 49.02 353.59 50.37 352.67 51.65 351.91 52.94 351.18 54.27 350.62 55.51 350.46 56.5 350.82 57.18 351.59 57.58 352.66 57.66 353.99 57.35 355.54 56.62 357.18 55.65 358.76Z" fill="none" stroke="#6e6e6e" stroke-width=".55"/>
<path d="M54.21 359.95 53.21 361.29 52.03 362.49 50.74 363.41 49.45 364.03 48.23 364.35 47.16 364.29 46.4 363.75 46.04 362.78 46 361.62 46.09 360.46 46.22 359.27 46.51 357.96 47.11 356.53 48.02 355.12 49.15 353.83 50.37 352.7 51.66 351.79 52.94 351.2 54.08 351.06 55 351.3 55.76 351.77 56.38 352.4 56.78 353.28 56.81 354.46 56.43 355.85 55.79 357.25 55.04 358.6Z" fill="none" stroke="#555555" stroke-width=".6"/>
<path d="M53.9 359.71 52.93 360.77 51.89 361.68 50.81 362.52 49.66 363.27 48.51 363.72 47.53 363.68 46.87 363.14 46.53 362.29 46.4 361.32 46.44 360.26 46.68 359.12 47.14 357.91 47.78 356.71 48.52 355.5 49.4 354.29 50.45 353.18 51.62 352.36 52.74 351.95 53.72 351.87 54.59 351.99 55.35 352.28 55.93 352.85 56.19 353.74 56.12 354.85 55.82 356.05 55.36 357.28 54.73 358.52Z" fill="none" stroke="#3c3c3c" stroke-width=".65"/>
<path d="M53.67 359.53 52.77 360.48 51.82 361.3 50.86 361.9 49.94 362.24 49.1 362.37 48.33 362.35 47.64 362.16 47.12 361.7 46.89 360.93 46.94 359.98 47.14 358.96 47.45 357.89 47.92 356.75 48.63 355.59 49.55 354.57 50.56 353.79 51.55 353.24 52.48 352.89 53.32 352.78 54.02 352.94 54.55 353.31 54.98 353.8 55.37 354.37 55.64 355.12 55.62 356.12 55.22 357.29 54.52 358.46Z" fill="none" stroke="#242424" stroke-width=".7"/>
<path d="M53.23 359.19 52.51 360.01 51.74 360.77 50.9 361.35 50.1 361.67 49.38 361.73 48.77 361.63 48.22 361.42 47.77 361.05 47.5 360.46 47.45 359.69 47.57 358.82 47.84 357.86 48.31 356.85 48.99 355.87 49.83 355.08 50.68 354.53 51.47 354.13 52.23 353.81 52.98 353.56 53.68 353.5 54.26 353.68 54.7 354.09 54.99 354.66 55.1 355.42 54.96 356.34 54.53 357.34 53.91 358.31Z" fill="none" stroke="#0b0b0b" stroke-width=".75"/>
<path d="M52.86 358.9 52.26 359.55 51.62 360.09 50.97 360.55 50.29 360.97 49.58 361.28 48.92 361.38 48.43 361.15 48.18 360.64 48.11 359.99 48.16 359.3 48.31 358.57 48.6 357.8 49.03 357.03 49.54 356.31 50.12 355.62 50.76 354.97 51.45 354.44 52.15 354.12 52.77 354.04 53.3 354.13 53.77 354.31 54.18 354.61 54.42 355.11 54.42 355.8 54.2 356.6 53.83 357.4 53.38 358.17Z" fill="none" stroke="#000000" stroke-width=".8"/>
<path d="M52.59 358.68 52.11 359.27 51.56 359.73 51.01 360.06 50.47 360.3 49.94 360.47 49.44 360.51 49.04 360.36 48.81 360 48.73 359.51 48.76 358.96 48.9 358.37 49.14 357.76 49.5 357.16 49.91 356.59 50.35 356.05 50.85 355.5 51.41 355 52 354.66 52.53 354.57 52.96 354.69 53.27 354.95 53.49 355.3 53.61 355.73 53.59 356.26 53.45 356.84 53.24 357.44 52.96 358.06Z" fill="none" stroke="#000000" stroke-width=".85"/>
<path d="M52.2 358.38 51.83 358.76 51.45 359.09 51.06 359.37 50.66 359.57 50.29 359.68 49.93 359.7 49.6 359.65 49.34 359.47 49.22 359.13 49.27 358.68 49.44 358.19 49.67 357.72 49.92 357.27 50.2 356.82 50.55 356.41 50.94 356.06 51.34 355.79 51.75 355.57 52.15 355.44 52.5 355.44 52.77 355.6 52.93 355.86 53.03 356.18 53.08 356.55 53.04 356.98 52.86 357.47 52.56 357.96Z" fill="none" stroke="#000000" stroke-width=".9"/>
<path d="M52.53 358.64 52.03 359.13 51.53 359.57 51.01 359.97 50.47 360.29 49.94 360.45 49.48 360.44 49.11 360.28 48.83 359.98 48.68 359.55 48.7 359 48.87 358.38 49.14 357.76 49.47 357.15 49.85 356.55 50.32 355.98 50.85 355.51 51.39 355.17 51.92 354.96 52.42 354.84 52.88 354.82 53.27 354.96 53.54 355.25 53.68 355.68 53.7 356.2 53.61 356.79 53.38 357.43 53 358.07Z" fill="#000000"/>
<path d="M52.62 355.78L48.83 360.63" stroke="#fff" stroke-width=".8" stroke-linecap="round" opacity=".8"/>
<path d="M76.56 325.62 76.56 327.1 76.28 328.58 75.56 330 74.31 331.2 72.74 332.08 71.13 332.79 69.5 333.52 67.66 334.2 65.6 334.51 63.61 334.18 62 333.28 60.84 332.05 60.08 330.67 59.78 329.19 60.03 327.69 60.73 326.31 61.57 325.06 62.4 323.79 63.41 322.46 64.87 321.28 66.75 320.57 68.76 320.44 70.66 320.69 72.44 321.13 74.1 321.81 75.44 322.83 76.25 324.16Z" fill="none" stroke="#969696" stroke-width=".5"/>
<path d="M76.19 325.7 76.57 327.1 76.13 328.55 75.06 329.83 73.76 330.86 72.4 331.73 70.94 332.43 69.36 332.84 67.76 332.94 66.21 332.84 64.65 332.64 63.13 332.21 61.86 331.4 61.11 330.26 60.83 328.97 60.8 327.67 60.88 326.33 61.27 324.95 62.22 323.68 63.68 322.74 65.36 322.18 67.03 321.89 68.65 321.79 70.2 321.94 71.6 322.38 72.81 323.03 73.98 323.75 75.18 324.59Z" fill="none" stroke="#727272" stroke-width=".5"/>
<path d="M74.42 326.08 74.43 327.18 74.18 328.27 73.79 329.37 73.17 330.5 72.2 331.52 70.84 332.25 69.3 332.56 67.79 332.53 66.41 332.3 65.15 331.91 64.05 331.34 63.18 330.57 62.53 329.68 62.02 328.71 61.7 327.63 61.72 326.46 62.25 325.3 63.24 324.31 64.46 323.54 65.76 322.93 67.15 322.45 68.61 322.2 70.06 322.31 71.35 322.74 72.44 323.38 73.35 324.14 74.05 325.04Z" fill="none" stroke="#6e6e6e" stroke-width=".55"/>
<path d="M73.84 326.2 73.82 327.2 73.57 328.18 73.03 329.11 72.23 329.91 71.28 330.58 70.24 331.15 69.09 331.61 67.85 331.84 66.61 331.75 65.49 331.4 64.51 330.9 63.6 330.31 62.81 329.57 62.33 328.65 62.29 327.61 62.67 326.59 63.3 325.67 64.11 324.85 65.08 324.18 66.19 323.72 67.36 323.44 68.53 323.28 69.74 323.18 71.02 323.24 72.22 323.59 73.13 324.29 73.64 325.21Z" fill="none" stroke="#535353" stroke-width=".6"/>
<path d="M72.77 326.43 72.83 327.23 72.74 328.06 72.36 328.87 71.69 329.57 70.84 330.12 69.91 330.54 68.94 330.88 67.91 331.09 66.85 331.09 65.85 330.87 64.94 330.49 64.14 329.97 63.51 329.29 63.23 328.46 63.36 327.57 63.8 326.76 64.36 326.04 64.94 325.37 65.62 324.74 66.46 324.2 67.44 323.83 68.5 323.64 69.58 323.62 70.65 323.79 71.57 324.2 72.23 324.85 72.6 325.63Z" fill="none" stroke="#383838" stroke-width=".66"/>
<path d="M71.88 326.62 71.89 327.27 71.71 327.91 71.42 328.54 71.04 329.17 70.51 329.78 69.77 330.29 68.87 330.57 67.95 330.59 67.09 330.43 66.33 330.16 65.66 329.81 65.11 329.35 64.74 328.79 64.54 328.18 64.45 327.54 64.5 326.86 64.75 326.18 65.27 325.57 65.97 325.1 66.75 324.74 67.57 324.45 68.45 324.26 69.36 324.24 70.18 324.47 70.84 324.9 71.33 325.42 71.67 326Z" fill="none" stroke="#1d1d1d" stroke-width=".71"/>
<path d="M71.18 326.77 71.26 327.29 71.11 327.82 70.8 328.32 70.41 328.77 69.95 329.2 69.38 329.57 68.71 329.8 68 329.86 67.34 329.75 66.74 329.55 66.23 329.27 65.82 328.9 65.56 328.46 65.43 327.99 65.35 327.5 65.33 326.98 65.45 326.43 65.79 325.9 66.35 325.49 67.02 325.24 67.71 325.1 68.39 325.05 69.04 325.1 69.63 325.28 70.13 325.57 70.55 325.91 70.92 326.31Z" fill="none" stroke="#020202" stroke-width=".77"/>
<path d="M70.26 326.96 70.23 327.33 70.15 327.68 69.99 328.03 69.74 328.36 69.41 328.64 69.01 328.89 68.56 329.1 68.06 329.22 67.54 329.19 67.1 329.02 66.77 328.76 66.51 328.46 66.31 328.16 66.16 327.83 66.12 327.47 66.2 327.11 66.37 326.75 66.62 326.41 66.95 326.11 67.37 325.87 67.85 325.74 68.33 325.71 68.81 325.74 69.27 325.82 69.7 325.98 70.03 326.24 70.21 326.59Z" fill="none" stroke="#000000" stroke-width=".82"/>
<path d="M60 343 C61 338 64 336 70 335 C75 334.5 78 333 79 331" fill="none" stroke="#555" stroke-width=".55"/>
<path d="M60 345.5 C61 341 65 339 71 338 C76 337.5 80 335 81 331" fill="none" stroke="#777" stroke-width=".5"/>
<rect x="37.5" y="312.4" width="57.8" height="57.8" fill="none" stroke="#000" stroke-width="1.15"/>
<path d="M59.2 312.4L59.2 370.2" stroke="#1a1a1a" stroke-width="1.1"/>
<path d="M37.5 346.5L95.3 346.5" stroke="#1a1a1a" stroke-width="1.1"/>
<path stroke="#000" stroke-width=".75" d="M40 370.6v2.6M44.14 370.6v1.7M46.57 370.6v1.7M48.29 370.6v1.7M49.62 370.6v1.7M50.71 370.6v1.7M51.63 370.6v1.7M52.43 370.6v1.7M53.13 370.6v1.7M53.76 370.6v2.6M57.9 370.6v1.7M60.33 370.6v1.7M62.05 370.6v1.7M63.38 370.6v1.7M64.47 370.6v1.7M65.39 370.6v1.7M66.19 370.6v1.7M66.89 370.6v1.7M67.52 370.6v2.6M71.67 370.6v1.7M74.09 370.6v1.7M75.81 370.6v1.7M77.14 370.6v1.7M78.23 370.6v1.7M79.15 370.6v1.7M79.95 370.6v1.7M80.66 370.6v1.7M81.29 370.6v2.6M85.43 370.6v1.7M87.85 370.6v1.7M89.57 370.6v1.7M90.9 370.6v1.7M91.99 370.6v1.7M92.92 370.6v1.7M93.71 370.6v1.7M94.42 370.6v1.7M34.5 367.7h2.6M35.4 363.56h1.7M35.4 361.13h1.7M35.4 359.41h1.7M35.4 358.08h1.7M35.4 356.99h1.7M35.4 356.07h1.7M35.4 355.27h1.7M35.4 354.57h1.7M34.5 353.94h2.6M35.4 349.8h1.7M35.4 347.37h1.7M35.4 345.65h1.7M35.4 344.32h1.7M35.4 343.23h1.7M35.4 342.31h1.7M35.4 341.51h1.7M35.4 340.81h1.7M34.5 340.18h2.6M35.4 336.03h1.7M35.4 333.61h1.7M35.4 331.89h1.7M35.4 330.56h1.7M35.4 329.47h1.7M35.4 328.55h1.7M35.4 327.75h1.7M35.4 327.04h1.7M34.5 326.41h2.6M35.4 322.27h1.7M35.4 319.85h1.7M35.4 318.13h1.7M35.4 316.8h1.7M35.4 315.71h1.7M35.4 314.78h1.7M35.4 313.99h1.7M35.4 313.28h1.7"/>
<text x="39.8" y="317.7" font-size="4.6" stroke="#222" stroke-width=".05" fill="#222">60.33</text>
<text x="93" y="317.7" font-size="4.6" stroke="#222" stroke-width=".05" text-anchor="end" fill="#222">27.05</text>
<text x="39.8" y="368.4" font-size="4.6" stroke="#222" stroke-width=".05" fill="#222">11.26</text>
<text x="93" y="368.4" font-size="4.6" stroke="#222" stroke-width=".05" text-anchor="end" fill="#222">1.36</text>
<path stroke="#777" stroke-width=".55" d="M113.6 338.93h.55M113.12 351.94h.55M118.98 345.45h.55M117.55 327.36h.55M108.12 324.51h.55M105.4 364.81h.55M113.73 328.73h.55M115.42 330.41h.55M118.56 330.59h.55M116.2 351.36h.55M114 340.4h.55M107.05 331.62h.55M117.64 356.68h.55M116.37 325.06h.55M113.6 342.45h.55M116.57 343.34h.55M111.07 355.16h.55M117.89 352.4h.55M115.31 335.77h.55M117.77 343.77h.55M115.04 319.04h.55M121.53 353.43h.55M117.88 337.71h.55M109.58 323.64h.55M109.98 328.89h.55M118.72 330.02h.55M117.18 330.51h.55M119.51 343.34h.55M107.73 340.89h.55M117.4 323.71h.55M118.33 366.6h.55M110.04 341.46h.55M114.73 351.08h.55M117.94 336.28h.55M114.42 343.48h.55M119.98 330.24h.55M121.3 338.38h.55M109.45 351h.55M111.8 352.62h.55M115.28 337.56h.55M117.75 358.48h.55M106.34 321.74h.55M112.46 325.52h.55M109.66 341.59h.55M111.77 348.93h.55M109.99 355.43h.55M120.22 319.8h.55M107.7 338.26h.55M113.28 360.72h.55M116.76 325.73h.55M117.68 332.2h.55M110.06 347.01h.55M113.37 359.84h.55M111.41 322.84h.55M113.86 341.34h.55M116.14 355.89h.55M117.52 322.18h.55M112.59 335.65h.55M115.81 357.05h.55M111.89 339.75h.55M113.52 344.45h.55M118.89 331.6h.55M111.18 337.71h.55M116.28 340.99h.55M112.59 346.03h.55M116.32 349.85h.55M119.4 333.15h.55M109.75 326.01h.55M111.46 345.68h.55M108.16 357.05h.55M106.54 335.48h.55M117.29 332.78h.55M109.6 358.38h.55M110.01 330.13h.55M111.05 331.37h.55M110.13 362.51h.55M109.31 349.83h.55M109.57 323.16h.55M111.44 340.01h.55M115.34 340.45h.55M117.12 324.04h.55M115 340.98h.55M118.19 320.79h.55M115.76 331.05h.55M119.08 343.28h.55M113.81 342.71h.55M112.19 351.46h.55M116.57 340.7h.55M119.78 362.03h.55M111.5 338.88h.55M117.62 331.52h.55M111.57 342.31h.55M112.68 335.06h.55M121.21 352.51h.55M113.59 360.33h.55M121.54 345.52h.55M104.3 343.97h.55M111.81 330.7h.55M122 325.28h.55M107.57 342.92h.55M120.1 342.94h.55M119.43 344h.55M119.82 347.24h.55M114.92 322.26h.55M104.15 319.04h.55M109.16 334.49h.55M119.82 338.49h.55M108.77 349.7h.55M111.9 359.58h.55M118.54 316.19h.55M115.11 343.08h.55M119.3 319.63h.55M112.23 348.45h.55M116.94 340.98h.55M111.04 355.71h.55M118.55 320.24h.55M116.04 328.81h.55M116.85 363.42h.55M121.22 353.29h.55M114.15 334.26h.55M120.66 342.48h.55"/>
<path stroke="#888" stroke-width=".55" d="M138.89 350.29h.55M135 358.43h.55M129.72 355.16h.55M130.06 351.81h.55M135.56 357.65h.55M138.17 352.8h.55M141.57 351.17h.55M127.01 354.23h.55M125.64 350.5h.55M137.12 353.32h.55M131.99 349.79h.55M129.86 351.5h.55M129.35 353.74h.55M129.97 359.72h.55M134.21 350.53h.55M129.64 357.35h.55M131.26 361.23h.55M129.28 352.42h.55M131.75 360.6h.55M126.89 357.46h.55M144.66 360.71h.55M133.4 357.72h.55M134.13 355.27h.55M130.43 356.03h.55M130.87 360.38h.55M135.01 354.75h.55M128.2 353.8h.55M125.04 352.09h.55M141.44 353.46h.55M135.98 359.08h.55M128.3 356.08h.55M128.88 351.01h.55M128.19 357.43h.55M127.77 352.46h.55M143.13 357.42h.55M126.16 354.45h.55M130.7 352.78h.55M135.31 352.6h.55M126.67 356.82h.55M135.27 361.01h.55M132.73 355.22h.55M128.29 351.11h.55M134.94 364.54h.55M129.1 353.07h.55M127.04 351.72h.55M128.2 361.39h.55M133.04 356.85h.55"/>
<path stroke="#888" stroke-width=".55" d="M136.96 334.7h.55M137.75 315.86h.55M137.03 323.74h.55M140.43 327.13h.55M134.94 330.26h.55M128.08 333.44h.55M144.63 326.66h.55M151.63 323.33h.55M135.09 336.52h.55M135.32 325.94h.55M137.72 317.93h.55M126.49 320.22h.55M132.03 344.96h.55M136.23 325.52h.55M139.06 334.38h.55M129.73 336.73h.55M134.25 331.74h.55M129.53 334.9h.55M125.98 338.24h.55M138.47 337.03h.55M143 323.1h.55M147.82 321.61h.55M125.66 338.92h.55M134.33 324.83h.55M129.27 337.85h.55M131.8 322.29h.55M138.46 331.86h.55M147.63 343.7h.55M137.48 335.86h.55M138.78 338.13h.55M143.4 332.4h.55M138.01 336.73h.55M131.42 321.48h.55M133.57 340.54h.55M133.7 338.91h.55M136.82 329.8h.55M141.81 326.12h.55M125.94 333.65h.55M135.01 315.8h.55M126.7 323.22h.55M137.48 342.29h.55M137.84 344.42h.55M131.59 328.49h.55M136.99 325.49h.55M141.87 336.22h.55M138.57 344.45h.55M140.05 325.06h.55M126.89 321.49h.55M135.8 324.89h.55M135.79 328.22h.55M133.54 343.13h.55M140.05 334.08h.55M137.79 342.92h.55M133 324.85h.55M149.68 338.59h.55M136.81 330.62h.55M143.98 331.45h.55M135.2 326.24h.55M130.57 324.73h.55M141.78 340.4h.55M125.46 335.65h.55M131.41 341.73h.55M130.27 327.79h.55M148.25 332.54h.55M126.56 325.47h.55M134.55 326.47h.55M133.72 339.81h.55M130.99 332.95h.55M127.7 341.02h.55M126.64 333.39h.55M131.71 338.49h.55"/>
<path d="M123.07 332 122.81 335.15 122.34 338.19 121.69 341.19 120.7 343.95 119.31 345.94 117.67 346.82 116 346.87 114.36 346.6 112.67 346 111.05 344.57 109.8 342.03 109.12 338.72 108.92 335.27 108.98 332 109.24 328.87 109.78 325.93 110.64 323.33 111.69 321.05 112.87 318.84 114.28 316.74 116 315.42 117.84 315.63 119.47 317.41 120.7 320.06 121.64 322.88 122.42 325.74 122.94 328.79Z" fill="none" stroke="#969696" stroke-width=".5"/>
<path d="M122.16 332 122.07 334.81 121.71 337.57 120.98 340.05 119.98 342.12 118.83 343.91 117.52 345.5 116 346.52 114.39 346.32 112.97 344.73 111.95 342.29 111.23 339.71 110.63 337.24 110.14 334.71 109.91 332 109.98 329.22 110.3 326.43 110.82 323.63 111.66 320.98 112.92 319.03 114.45 318.27 116 318.57 117.42 319.35 118.78 320.29 120.09 321.61 121.16 323.65 121.83 326.31 122.1 329.18Z" fill="none" stroke="#6c6c6c" stroke-width=".5"/>
<path d="M121.72 332 121.69 334.63 121.35 337.22 120.59 339.42 119.51 340.93 118.33 341.79 117.16 342.31 116 342.65 114.8 342.65 113.61 342.07 112.5 340.91 111.51 339.26 110.67 337.2 110.12 334.72 110.01 332 110.37 329.39 111.03 327.15 111.8 325.21 112.63 323.43 113.61 321.93 114.76 320.99 116 320.78 117.22 321.15 118.4 321.91 119.51 323.08 120.46 324.79 121.14 326.98 121.53 329.44Z" fill="none" stroke="#6e6e6e" stroke-width=".55"/>
<path d="M121.03 332 120.84 334.24 120.51 336.4 120.01 338.48 119.27 340.31 118.29 341.65 117.18 342.44 116 342.75 114.81 342.57 113.69 341.72 112.79 340.17 112.17 338.19 111.76 336.14 111.41 334.12 111.12 332 111.03 329.7 111.27 327.39 111.85 325.3 112.67 323.54 113.66 322.17 114.8 321.36 116 321.31 117.13 321.96 118.14 323.01 119.06 324.23 119.92 325.67 120.61 327.5 120.99 329.69Z" fill="none" stroke="#5a5a5a" stroke-width=".59"/>
<path d="M120.9 332 120.59 334.12 120.1 336 119.53 337.7 118.84 339.21 117.98 340.34 117.01 340.95 116 341.08 115 340.89 114.02 340.35 113.11 339.35 112.38 337.85 111.87 336.03 111.51 334.08 111.27 332 111.24 329.8 111.55 327.66 112.23 325.91 113.12 324.69 114.07 323.9 115.03 323.37 116 323.14 116.98 323.32 117.92 323.92 118.82 324.84 119.67 326.06 120.41 327.69 120.86 329.75Z" fill="none" stroke="#464646" stroke-width=".63"/>
<path d="M120.09 332 120.12 333.91 119.87 335.78 119.37 337.45 118.69 338.84 117.88 339.9 116.95 340.44 116 340.34 115.13 339.73 114.36 338.9 113.63 338.03 112.9 337 112.28 335.63 111.88 333.9 111.77 332 111.87 330.09 112.16 328.25 112.66 326.6 113.36 325.3 114.21 324.47 115.1 324.02 116 323.81 116.91 323.89 117.8 324.43 118.55 325.52 119.1 326.98 119.51 328.57 119.85 330.22Z" fill="none" stroke="#323232" stroke-width=".67"/>
<path d="M119.82 332 119.58 333.66 119.14 335.06 118.62 336.23 118.08 337.3 117.49 338.28 116.79 339.01 116 339.34 115.18 339.27 114.37 338.86 113.61 338.07 113 336.85 112.63 335.29 112.49 333.62 112.5 332 112.58 330.42 112.78 328.86 113.17 327.42 113.76 326.31 114.47 325.58 115.22 325.1 116 324.84 116.8 324.86 117.59 325.31 118.29 326.17 118.89 327.32 119.4 328.69 119.74 330.27Z" fill="none" stroke="#1f1f1f" stroke-width=".71"/>
<path d="M118.92 332 118.87 333.33 118.7 334.63 118.37 335.83 117.93 336.91 117.39 337.85 116.74 338.56 116 338.83 115.27 338.52 114.63 337.76 114.11 336.8 113.66 335.78 113.28 334.66 113.02 333.38 112.95 332 113.04 330.63 113.25 329.32 113.57 328.07 114.03 326.99 114.63 326.23 115.3 325.81 116 325.67 116.71 325.71 117.42 326.04 118.05 326.78 118.52 327.93 118.77 329.29 118.88 330.67Z" fill="none" stroke="#0b0b0b" stroke-width=".75"/>
<path d="M118.64 332 118.56 333.18 118.34 334.28 118.02 335.27 117.65 336.2 117.19 337.01 116.62 337.5 116 337.55 115.41 337.21 114.9 336.65 114.44 335.96 114.06 335.14 113.77 334.18 113.59 333.12 113.48 332 113.44 330.82 113.52 329.58 113.79 328.43 114.26 327.57 114.83 327.08 115.42 326.86 116 326.8 116.57 326.92 117.11 327.31 117.59 327.97 117.97 328.81 118.29 329.76 118.53 330.83Z" fill="none" stroke="#000000" stroke-width=".79"/>
<path d="M118.11 332 118.1 332.97 117.95 333.9 117.66 334.68 117.29 335.27 116.88 335.71 116.45 336.02 116 336.16 115.54 336.07 115.1 335.77 114.69 335.33 114.29 334.76 113.96 333.99 113.77 333.03 113.77 332 113.93 331.04 114.17 330.21 114.43 329.47 114.75 328.82 115.12 328.31 115.55 327.99 116 327.83 116.47 327.81 116.95 328 117.39 328.47 117.72 329.22 117.92 330.12 118.05 331.05Z" fill="none" stroke="#000000" stroke-width=".83"/>
<path d="M117.52 332 117.5 332.69 117.42 333.39 117.25 334.02 116.99 334.52 116.69 334.89 116.36 335.16 116 335.3 115.63 335.26 115.29 335 114.98 334.58 114.72 334.07 114.5 333.47 114.36 332.76 114.34 332 114.45 331.28 114.63 330.66 114.83 330.12 115.06 329.6 115.32 329.15 115.64 328.83 116 328.69 116.37 328.71 116.74 328.88 117.08 329.26 117.33 329.85 117.47 330.56 117.52 331.3Z" fill="none" stroke="#000000" stroke-width=".86"/>
<path d="M118.3 332 118.22 333.03 118.01 333.96 117.69 334.73 117.31 335.33 116.91 335.83 116.48 336.25 116 336.49 115.5 336.45 115.02 336.12 114.6 335.56 114.24 334.84 113.96 333.99 113.79 333.02 113.75 332 113.84 331 114.01 330.06 114.26 329.19 114.61 328.46 115.04 327.96 115.52 327.73 116 327.71 116.47 327.8 116.95 328.01 117.4 328.43 117.79 329.1 118.08 329.97 118.24 330.96Z" fill="#000000"/>
<path d="M116 328.85L116 337.25" stroke="#fff" stroke-width=".8" stroke-linecap="round" opacity=".8"/>
<path d="M120.66 361.42 118.99 363.44 117.07 364.82 115.23 365.56 113.6 365.99 112.04 366.36 110.51 366.54 109.13 366.27 108.01 365.49 107.15 364.31 106.55 362.75 106.46 360.74 107.12 358.38 108.5 356.06 110.2 354.1 111.87 352.46 113.47 350.92 115.16 349.51 116.93 348.53 118.59 348.18 120.06 348.33 121.38 348.78 122.52 349.56 123.29 350.86 123.48 352.67 123.18 354.74 122.61 356.88 121.84 359.13Z" fill="none" stroke="#969696" stroke-width=".5"/>
<path d="M119.4 360.54 118.08 362.04 116.73 363.52 115.23 364.93 113.6 365.97 112 366.48 110.53 366.51 109.23 366.13 108.24 365.24 107.82 363.75 108.08 361.84 108.78 359.91 109.52 358.15 110.17 356.44 110.96 354.63 112.09 352.8 113.55 351.22 115.17 350 116.82 349.11 118.45 348.59 119.89 348.65 120.95 349.39 121.57 350.61 121.94 351.98 122.2 353.43 122.21 355.08 121.72 356.97 120.69 358.86Z" fill="none" stroke="#747474" stroke-width=".5"/>
<path d="M119.29 360.46 117.95 361.84 116.58 362.93 115.23 363.83 113.88 364.53 112.59 364.86 111.46 364.73 110.55 364.24 109.81 363.51 109.27 362.55 109.03 361.28 109.19 359.76 109.69 358.13 110.39 356.49 111.25 354.83 112.35 353.2 113.71 351.83 115.17 350.94 116.54 350.57 117.74 350.55 118.81 350.72 119.74 351.12 120.46 351.83 120.94 352.82 121.22 354.01 121.31 355.41 121.09 357.03 120.41 358.8Z" fill="none" stroke="#6e6e6e" stroke-width=".55"/>
<path d="M118.59 359.97 117.65 361.38 116.49 362.59 115.23 363.51 113.95 364.13 112.74 364.42 111.7 364.28 110.96 363.66 110.55 362.71 110.33 361.66 110.17 360.6 110.09 359.44 110.26 358.08 110.82 356.59 111.69 355.14 112.75 353.82 113.92 352.65 115.17 351.73 116.42 351.2 117.55 351.09 118.51 351.28 119.36 351.66 120.08 352.24 120.54 353.15 120.61 354.38 120.33 355.76 119.85 357.15 119.3 358.54Z" fill="none" stroke="#585858" stroke-width=".59"/>
<path d="M118.34 359.8 117.31 360.86 116.24 361.61 115.22 362.15 114.24 362.61 113.26 362.98 112.32 363.1 111.5 362.88 110.86 362.36 110.41 361.6 110.18 360.59 110.29 359.36 110.76 358.03 111.5 356.75 112.32 355.58 113.19 354.5 114.14 353.48 115.18 352.68 116.23 352.22 117.18 352.1 118.04 352.19 118.81 352.44 119.46 352.93 119.88 353.7 120.02 354.73 119.94 355.9 119.66 357.17 119.15 358.51Z" fill="none" stroke="#434343" stroke-width=".64"/>
<path d="M117.57 359.26 116.87 360.18 116.08 361.01 115.22 361.68 114.32 362.19 113.42 362.55 112.53 362.69 111.8 362.46 111.35 361.82 111.22 360.92 111.27 359.94 111.42 358.96 111.66 357.94 112.09 356.88 112.72 355.86 113.48 354.94 114.3 354.13 115.18 353.43 116.09 352.92 116.96 352.71 117.71 352.8 118.35 353.1 118.91 353.53 119.32 354.16 119.47 355.06 119.27 356.14 118.8 357.25 118.21 358.29Z" fill="none" stroke="#2e2e2e" stroke-width=".68"/>
<path d="M117.31 359.08 116.67 359.86 115.95 360.5 115.22 361.02 114.46 361.47 113.7 361.77 113 361.8 112.48 361.48 112.18 360.92 112.04 360.23 112.01 359.5 112.11 358.71 112.35 357.87 112.73 357.03 113.19 356.19 113.74 355.34 114.4 354.52 115.18 353.87 115.98 353.53 116.68 353.5 117.26 353.68 117.75 353.96 118.14 354.37 118.39 354.94 118.44 355.67 118.34 356.47 118.13 357.32 117.8 358.2Z" fill="none" stroke="#191919" stroke-width=".72"/>
<path d="M116.85 358.75 116.37 359.41 115.81 359.96 115.21 360.33 114.64 360.53 114.12 360.61 113.63 360.59 113.21 360.44 112.9 360.12 112.7 359.68 112.59 359.16 112.55 358.55 112.65 357.85 112.97 357.09 113.46 356.38 114.04 355.82 114.63 355.38 115.19 355.02 115.74 354.74 116.28 354.61 116.76 354.62 117.19 354.76 117.57 355 117.85 355.39 117.97 355.95 117.87 356.64 117.6 357.37 117.25 358.07Z" fill="none" stroke="#030303" stroke-width=".76"/>
<path d="M116.34 358.4 116 358.84 115.63 359.25 115.21 359.57 114.79 359.77 114.39 359.85 114.02 359.85 113.69 359.76 113.43 359.54 113.29 359.19 113.26 358.76 113.3 358.28 113.41 357.77 113.62 357.24 113.96 356.73 114.37 356.32 114.79 356.01 115.19 355.76 115.59 355.54 116 355.38 116.38 355.34 116.72 355.44 116.99 355.64 117.18 355.95 117.26 356.37 117.18 356.89 116.96 357.43 116.66 357.94Z" fill="none" stroke="#000000" stroke-width=".81"/>
<path d="M116.73 358.67 116.26 359.24 115.76 359.75 115.21 360.16 114.66 360.42 114.16 360.49 113.73 360.41 113.36 360.23 113.07 359.94 112.88 359.53 112.82 359.02 112.87 358.44 113 357.81 113.23 357.15 113.59 356.47 114.08 355.87 114.63 355.41 115.19 355.1 115.71 354.9 116.21 354.8 116.66 354.82 117.03 354.98 117.32 355.27 117.53 355.66 117.66 356.14 117.65 356.72 117.47 357.38 117.14 358.05Z" fill="#2e2e2e"/>
<path d="M116.52 355.71L112.99 360.75" stroke="#fff" stroke-width=".8" stroke-linecap="round" opacity=".8"/>
<path d="M138.15 327.24 137.98 328.72 137.37 330.07 136.64 331.27 135.93 332.49 135.07 333.76 133.83 334.86 132.24 335.51 130.5 335.64 128.81 335.36 127.25 334.73 125.98 333.73 125.18 332.4 124.83 330.97 124.69 329.61 124.5 328.29 124.38 326.87 124.65 325.38 125.5 324.05 126.79 323.06 128.27 322.35 129.83 321.85 131.48 321.62 133.13 321.84 134.6 322.51 135.83 323.47 136.88 324.56 137.72 325.81Z" fill="none" stroke="#969696" stroke-width=".5"/>
<path d="M137.9 327.28 138.03 328.72 137.53 330.11 136.66 331.28 135.65 332.26 134.53 333.06 133.27 333.6 131.94 333.83 130.63 333.87 129.3 333.83 127.91 333.63 126.6 333.08 125.61 332.11 125.06 330.88 124.81 329.59 124.67 328.3 124.71 326.95 125.15 325.63 126.08 324.52 127.32 323.74 128.66 323.25 130.02 322.96 131.39 322.92 132.69 323.21 133.84 323.77 134.91 324.43 136.02 325.14 137.12 326.05Z" fill="none" stroke="#7e7e7e" stroke-width=".5"/>
<path d="M136.68 327.5 136.53 328.68 136.03 329.74 135.4 330.66 134.73 331.52 133.97 332.34 133.01 333.02 131.87 333.45 130.64 333.61 129.39 333.55 128.17 333.21 127.11 332.56 126.36 331.61 125.96 330.52 125.79 329.42 125.72 328.33 125.83 327.23 126.24 326.16 126.99 325.26 127.96 324.57 129.02 324.06 130.15 323.67 131.35 323.48 132.57 323.58 133.72 323.97 134.76 324.59 135.66 325.38 136.36 326.35Z" fill="none" stroke="#6e6e6e" stroke-width=".55"/>
<path d="M134.7 327.85 134.77 328.62 134.68 329.41 134.39 330.17 133.94 330.88 133.35 331.54 132.6 332.09 131.69 332.41 130.73 332.4 129.85 332.11 129.09 331.67 128.42 331.19 127.82 330.63 127.36 329.96 127.13 329.18 127.11 328.38 127.25 327.58 127.53 326.79 128 326.07 128.68 325.5 129.49 325.11 130.36 324.87 131.26 324.74 132.19 324.77 133.07 325.05 133.78 325.61 134.24 326.33 134.52 327.09Z" fill="none" stroke="#414141" stroke-width=".64"/>
<path d="M133.53 328.05 133.54 328.58 133.41 329.09 133.19 329.58 132.91 330.04 132.52 330.47 132.01 330.78 131.42 330.91 130.84 330.86 130.3 330.7 129.81 330.48 129.38 330.19 129.03 329.82 128.77 329.39 128.59 328.93 128.46 328.42 128.44 327.87 128.61 327.33 128.99 326.88 129.5 326.56 130.05 326.37 130.6 326.25 131.16 326.2 131.71 326.28 132.21 326.48 132.65 326.78 133.03 327.14 133.34 327.56Z" fill="none" stroke="#141414" stroke-width=".73"/>
<path d="M124.5 342 C126 337 129 335 133 334 C136 333 138 331 138.5 328" fill="none" stroke="#777" stroke-width=".55"/>
<path d="M124.5 345 C126 340 130 338 134 337 C138 336 140 333 140.5 328" fill="none" stroke="#999" stroke-width=".5"/>
<rect x="101.8" y="312.4" width="58" height="57.8" fill="none" stroke="#000" stroke-width="1.15"/>
<path d="M123.6 312.4L123.6 370.2" stroke="#1a1a1a" stroke-width="1.1"/>
<path d="M101.8 346.5L159.8 346.5" stroke="#1a1a1a" stroke-width="1.1"/>
<path stroke="#000" stroke-width=".75" d="M104.3 370.6v2.6M108.46 370.6v1.7M110.89 370.6v1.7M112.61 370.6v1.7M113.95 370.6v1.7M115.05 370.6v1.7M115.97 370.6v1.7M116.77 370.6v1.7M117.48 370.6v1.7M118.11 370.6v2.6M122.27 370.6v1.7M124.7 370.6v1.7M126.42 370.6v1.7M127.76 370.6v1.7M128.86 370.6v1.7M129.78 370.6v1.7M130.58 370.6v1.7M131.29 370.6v1.7M131.92 370.6v2.6M136.08 370.6v1.7M138.51 370.6v1.7M140.23 370.6v1.7M141.57 370.6v1.7M142.66 370.6v1.7M143.59 370.6v1.7M144.39 370.6v1.7M145.1 370.6v1.7M145.73 370.6v2.6M149.89 370.6v1.7M152.32 370.6v1.7M154.04 370.6v1.7M155.38 370.6v1.7M156.47 370.6v1.7M157.4 370.6v1.7M158.2 370.6v1.7M158.91 370.6v1.7M98.8 367.7h2.6M99.7 363.56h1.7M99.7 361.13h1.7M99.7 359.41h1.7M99.7 358.08h1.7M99.7 356.99h1.7M99.7 356.07h1.7M99.7 355.27h1.7M99.7 354.57h1.7M98.8 353.94h2.6M99.7 349.8h1.7M99.7 347.37h1.7M99.7 345.65h1.7M99.7 344.32h1.7M99.7 343.23h1.7M99.7 342.31h1.7M99.7 341.51h1.7M99.7 340.81h1.7M98.8 340.18h2.6M99.7 336.03h1.7M99.7 333.61h1.7M99.7 331.89h1.7M99.7 330.56h1.7M99.7 329.47h1.7M99.7 328.55h1.7M99.7 327.75h1.7M99.7 327.04h1.7M98.8 326.41h2.6M99.7 322.27h1.7M99.7 319.85h1.7M99.7 318.13h1.7M99.7 316.8h1.7M99.7 315.71h1.7M99.7 314.78h1.7M99.7 313.99h1.7M99.7 313.28h1.7"/>
<text x="104.1" y="317.7" font-size="4.6" stroke="#222" stroke-width=".05" fill="#222">66.98</text>
<text x="157.5" y="317.7" font-size="4.6" stroke="#222" stroke-width=".05" text-anchor="end" fill="#222">12.11</text>
<text x="104.1" y="368.4" font-size="4.6" stroke="#222" stroke-width=".05" fill="#222">20.29</text>
<text x="157.5" y="368.4" font-size="4.6" stroke="#222" stroke-width=".05" text-anchor="end" fill="#222">0.61</text>
<text x="66.3" y="159.3" font-size="6.5" stroke="#222" stroke-width=".05" text-anchor="middle" fill="#222" textLength="19" lengthAdjust="spacingAndGlyphs">B6.WT</text>
<text x="130.6" y="159.3" font-size="6.5" stroke="#222" stroke-width=".05" text-anchor="middle" fill="#222" textLength="28.7" lengthAdjust="spacingAndGlyphs">sgp130Fc</text>
<text x="30.8" y="193.4" font-size="10.2" stroke="#1a1a1a" stroke-width=".06" text-anchor="middle" fill="#1a1a1a" textLength="14.8" lengthAdjust="spacingAndGlyphs" transform="rotate(-90 30.8 193.4)">IL-22</text>
<text x="30.8" y="267.4" font-size="10.2" stroke="#1a1a1a" stroke-width=".06" text-anchor="middle" fill="#1a1a1a" textLength="13.8" lengthAdjust="spacingAndGlyphs" transform="rotate(-90 30.8 267.4)">IFN&#947;</text>
<text x="30.8" y="341" font-size="10.2" stroke="#1a1a1a" stroke-width=".06" text-anchor="middle" fill="#1a1a1a" textLength="14.5" lengthAdjust="spacingAndGlyphs" transform="rotate(-90 30.8 341)">IFN&#947;</text>
<text x="41.7" y="234.9" font-size="10.2" stroke="#1a1a1a" stroke-width=".06" fill="#1a1a1a" textLength="18.2" lengthAdjust="spacingAndGlyphs">IL-17A</text>
<text x="45.8" y="308.2" font-size="10.2" stroke="#1a1a1a" stroke-width=".06" fill="#1a1a1a" textLength="14" lengthAdjust="spacingAndGlyphs">IL-22</text>
<text x="45.8" y="382.6" font-size="10.2" stroke="#1a1a1a" stroke-width=".06" fill="#1a1a1a" textLength="14" lengthAdjust="spacingAndGlyphs">IL-10</text>
<path d="M67.7 231.6L156 231.6" stroke="#111" stroke-width="1.1"/>
<path d="M159.8 231.6 L153.5 229.4 L153.5 233.8 Z" fill="#111"/>
<path d="M67.7 305.4L156 305.4" stroke="#111" stroke-width="1.1"/>
<path d="M159.8 305.4 L153.5 303.2 L153.5 307.6 Z" fill="#111"/>
<path d="M67.7 379.4L156 379.4" stroke="#111" stroke-width="1.1"/>
<path d="M159.8 379.4 L153.5 377.2 L153.5 381.6 Z" fill="#111"/>
<path d="M18.8 245.3L18.8 355" stroke="#222" stroke-width="1"/>
<text x="14.8" y="303.5" font-size="7" stroke="#222" stroke-width=".05" text-anchor="middle" fill="#222" textLength="73" lengthAdjust="spacingAndGlyphs" transform="rotate(-90 14.8 303.5)">(gated on CD4<tspan baseline-shift="super" font-size="65%">+</tspan>IL-17<tspan baseline-shift="super" font-size="65%">neg</tspan> T)</text>
<rect x="0.5" y="0.5" width="519" height="692" fill="none" stroke="#000" stroke-width="1.2"/>
</svg>
</body></html>
